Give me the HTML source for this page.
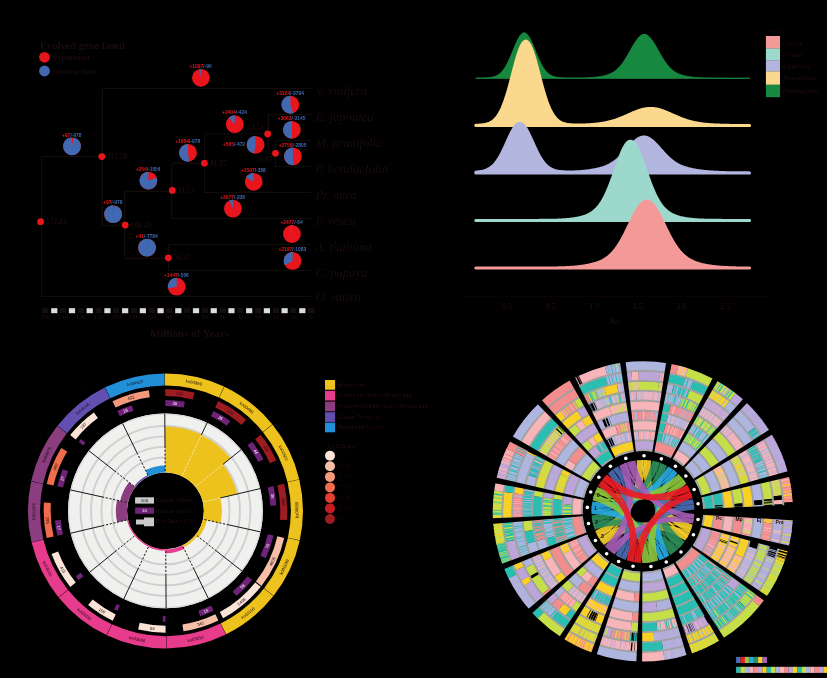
<!DOCTYPE html>
<html><head><meta charset="utf-8"><title>figure</title>
<style>
html,body{margin:0;padding:0;background:#000;}
body{width:827px;height:678px;overflow:hidden;}
svg{display:block;}
text{font-family:"Liberation Sans",sans-serif;fill:#190c0d;}
.se{font-family:"Liberation Serif",serif;}
</style></head><body>
<svg width="827" height="678" viewBox="0 0 827 678">
<defs><filter id="bs" filterUnits="userSpaceOnUse" x="0" y="0" width="827" height="678"><feGaussianBlur stdDeviation="0.32"/></filter></defs>
<rect width="827" height="678" fill="#000"/>
<g id="tree" filter="url(#bs)">
<text class="se" x="40" y="49" font-size="10.5" font-weight="bold">Evolved gene famil</text>
<circle cx="44.5" cy="57.3" r="5.4" fill="#E8161B"/><circle cx="44.5" cy="71" r="5.4" fill="#4169B2"/>
<text class="se" x="53.5" y="60" font-size="8.5" font-weight="bold">expansion</text>
<text class="se" x="53.5" y="74" font-size="8.5" font-weight="bold">contraction</text>
<path d="M41.3,156.6V296.7M41.3,296.7H311.2M41.3,156.6H102.2M102.2,88.7V225.1M102.2,88.7H311.2M102.2,225.1H124.8M124.8,191.2V258.2M124.8,191.2H171.8M124.8,258.2H168.7M168.7,244.7V270.7M168.7,244.7H311.2M168.7,270.7H311.2M171.8,163.2V218.7M171.8,218.7H311.2M171.8,163.2H204.4M204.4,133.9V192.7M204.4,192.7H311.2M204.4,133.9H268.2M268.2,114.7V153.3M268.2,114.7H311.2M268.2,153.3H275.7M275.7,140.7V166.7M275.7,140.7H311.2M275.7,166.7H311.2" stroke="#190c0d" stroke-width="1" fill="none"/>
<text class="se" x="315.5" y="94.6" font-size="12.6" font-style="italic">V. vinifera</text>
<text class="se" x="315.5" y="120.6" font-size="12.6" font-style="italic">E. japonica</text>
<text class="se" x="315.5" y="146.6" font-size="12.6" font-style="italic">M. prunifolia</text>
<text class="se" x="315.5" y="172.6" font-size="12.6" font-style="italic">P. betulaefolia</text>
<text class="se" x="315.5" y="198.6" font-size="12.6" font-style="italic">Pr. mira</text>
<text class="se" x="315.5" y="224.6" font-size="12.6" font-style="italic">F. vesca</text>
<text class="se" x="315.5" y="250.6" font-size="12.6" font-style="italic">A. thaliana</text>
<text class="se" x="315.5" y="276.6" font-size="12.6" font-style="italic">C. papaya</text>
<text class="se" x="315.5" y="301.4" font-size="12.6" font-style="italic">O. sativa</text>
<circle cx="40.6" cy="221.7" r="3.4" fill="#E8161B"/>
<text class="se" x="46.1" y="224.29999999999998" font-size="7.4" font-weight="bold">152.43</text>
<circle cx="101.8" cy="156.6" r="3.4" fill="#E8161B"/>
<text class="se" x="107.3" y="159.2" font-size="7.4" font-weight="bold">112.50</text>
<circle cx="125.2" cy="225.1" r="3.4" fill="#E8161B"/>
<text class="se" x="130.7" y="227.7" font-size="7.4" font-weight="bold">100.49</text>
<circle cx="172.3" cy="190.4" r="3.4" fill="#E8161B"/>
<text class="se" x="177.8" y="193.0" font-size="7.4" font-weight="bold">91.13</text>
<circle cx="204.4" cy="163.2" r="3.4" fill="#E8161B"/>
<text class="se" x="209.9" y="165.79999999999998" font-size="7.4" font-weight="bold">81.37</text>
<circle cx="168.3" cy="257.8" r="3.4" fill="#E8161B"/>
<text class="se" x="173.8" y="260.40000000000003" font-size="7.4" font-weight="bold">56.35</text>
<circle cx="267.7" cy="133.9" r="3.4" fill="#E8161B"/>
<text class="se" x="263.7" y="129.70000000000002" font-size="7.4" font-weight="bold" text-anchor="end">24.53</text>
<circle cx="275.5" cy="153.3" r="3.4" fill="#E8161B"/>
<text class="se" x="272.5" y="162.3" font-size="7.4" font-weight="bold" text-anchor="end">16.95</text>
<circle cx="200.9" cy="77.8" r="8.9" fill="#E8161B"/>
<path d="M200.90,77.80L199.23,69.06A8.90,8.90 0 0 1 200.90,68.90Z" fill="#4169B2" />
<text x="200.6" y="68.0" font-size="4.9" font-weight="bold" text-anchor="middle"><tspan fill="#E8161B">+1097</tspan><tspan fill="#4169B2">/-90</tspan></text>
<circle cx="72" cy="146.3" r="8.9" fill="#E8161B"/>
<path d="M72.00,146.30L73.39,137.51A8.90,8.90 0 1 1 72.00,137.40Z" fill="#4169B2" />
<text x="71.7" y="136.5" font-size="4.9" font-weight="bold" text-anchor="middle"><tspan fill="#E8161B">+97</tspan><tspan fill="#4169B2">/-978</tspan></text>
<circle cx="188" cy="152.8" r="8.9" fill="#E8161B"/>
<path d="M188.00,152.80L189.12,161.63A8.90,8.90 0 1 1 188.00,143.90Z" fill="#4169B2" />
<text x="187.7" y="143.0" font-size="4.9" font-weight="bold" text-anchor="middle"><tspan fill="#E8161B">+1084</tspan><tspan fill="#4169B2">/-978</tspan></text>
<circle cx="148.4" cy="180.6" r="8.9" fill="#E8161B"/>
<path d="M148.40,180.60L156.86,177.85A8.90,8.90 0 1 1 148.40,171.70Z" fill="#4169B2" />
<text x="148.1" y="170.8" font-size="4.9" font-weight="bold" text-anchor="middle"><tspan fill="#E8161B">+254</tspan><tspan fill="#4169B2">/-1054</tspan></text>
<circle cx="290.4" cy="104.7" r="8.9" fill="#E8161B"/>
<path d="M290.40,104.70L293.15,113.16A8.90,8.90 0 1 1 290.40,95.80Z" fill="#4169B2" />
<text x="290.1" y="94.9" font-size="4.9" font-weight="bold" text-anchor="middle"><tspan fill="#E8161B">+3124</tspan><tspan fill="#4169B2">/-3794</tspan></text>
<circle cx="234.8" cy="124.2" r="8.9" fill="#E8161B"/>
<path d="M234.80,124.20L228.71,117.71A8.90,8.90 0 0 1 234.80,115.30Z" fill="#4169B2" />
<text x="234.5" y="114.4" font-size="4.9" font-weight="bold" text-anchor="middle"><tspan fill="#E8161B">+2404</tspan><tspan fill="#4169B2">/-424</tspan></text>
<circle cx="291.9" cy="129.8" r="8.9" fill="#E8161B"/>
<path d="M291.90,129.80L291.90,138.70A8.90,8.90 0 0 1 291.90,120.90Z" fill="#4169B2" />
<text x="291.6" y="120.0" font-size="4.9" font-weight="bold" text-anchor="middle"><tspan fill="#E8161B">+3063</tspan><tspan fill="#4169B2">/-3145</tspan></text>
<circle cx="255.6" cy="144.8" r="8.9" fill="#E8161B"/>
<path d="M255.60,144.80L253.93,153.54A8.90,8.90 0 0 1 255.60,135.90Z" fill="#4169B2" />
<text x="245.1" y="146.4" font-size="4.9" font-weight="bold" text-anchor="end"><tspan fill="#E8161B">+505</tspan><tspan fill="#4169B2">/-472</tspan></text>
<circle cx="292.9" cy="156.4" r="8.9" fill="#E8161B"/>
<path d="M292.90,156.40L294.02,165.23A8.90,8.90 0 1 1 292.90,147.50Z" fill="#4169B2" />
<text x="292.6" y="146.6" font-size="4.9" font-weight="bold" text-anchor="middle"><tspan fill="#E8161B">+2758</tspan><tspan fill="#4169B2">/-2805</tspan></text>
<circle cx="253.7" cy="181.8" r="8.9" fill="#E8161B"/>
<path d="M253.70,181.80L245.90,177.51A8.90,8.90 0 0 1 253.70,172.90Z" fill="#4169B2" />
<text x="253.4" y="172.0" font-size="4.9" font-weight="bold" text-anchor="middle"><tspan fill="#E8161B">+1597</tspan><tspan fill="#4169B2">/-358</tspan></text>
<circle cx="232.9" cy="208.6" r="8.9" fill="#E8161B"/>
<path d="M232.90,208.60L229.11,200.55A8.90,8.90 0 0 1 232.90,199.70Z" fill="#4169B2" />
<text x="232.6" y="198.8" font-size="4.9" font-weight="bold" text-anchor="middle"><tspan fill="#E8161B">+3077</tspan><tspan fill="#4169B2">/-238</tspan></text>
<circle cx="113.1" cy="214.2" r="8.9" fill="#E8161B"/>
<path d="M113.10,214.20L114.49,205.41A8.90,8.90 0 1 1 113.10,205.30Z" fill="#4169B2" />
<text x="112.8" y="204.4" font-size="4.9" font-weight="bold" text-anchor="middle"><tspan fill="#E8161B">+97</tspan><tspan fill="#4169B2">/-978</tspan></text>
<circle cx="147" cy="247.6" r="8.9" fill="#E8161B"/>
<path d="M147.00,247.60L147.45,238.71A8.90,8.90 0 1 1 147.00,238.70Z" fill="#4169B2" />
<text x="146.7" y="237.8" font-size="4.9" font-weight="bold" text-anchor="middle"><tspan fill="#E8161B">+41</tspan><tspan fill="#4169B2">/-7784</tspan></text>
<circle cx="291.9" cy="234" r="8.9" fill="#E8161B"/>
<path d="M291.90,234.00L290.78,225.17A8.90,8.90 0 0 1 291.90,225.10Z" fill="#4169B2" />
<text x="291.6" y="224.2" font-size="4.9" font-weight="bold" text-anchor="middle"><tspan fill="#E8161B">+2477</tspan><tspan fill="#4169B2">/-64</tspan></text>
<circle cx="292.6" cy="260.9" r="8.9" fill="#E8161B"/>
<path d="M292.60,260.90L284.80,265.19A8.90,8.90 0 0 1 292.60,252.00Z" fill="#4169B2" />
<text x="292.3" y="251.1" font-size="4.9" font-weight="bold" text-anchor="middle"><tspan fill="#E8161B">+2197</tspan><tspan fill="#4169B2">/-1083</tspan></text>
<circle cx="176.7" cy="286.7" r="8.9" fill="#E8161B"/>
<path d="M176.70,286.70L167.96,288.37A8.90,8.90 0 0 1 176.70,277.80Z" fill="#4169B2" />
<text x="176.4" y="276.9" font-size="4.9" font-weight="bold" text-anchor="middle"><tspan fill="#E8161B">+1447</tspan><tspan fill="#4169B2">/-556</tspan></text>
<rect x="308.10" y="308.2" width="6.2" height="5" fill="#190c0d"/>
<text class="se" x="311.2" y="319.3" font-size="6.6" font-weight="bold" text-anchor="middle">0</text>
<rect x="299.24" y="308.2" width="6.2" height="5" fill="#DCDDDD"/>
<rect x="290.38" y="308.2" width="6.2" height="5" fill="#190c0d"/>
<text class="se" x="293.5" y="319.3" font-size="6.6" font-weight="bold" text-anchor="middle">10</text>
<rect x="281.52" y="308.2" width="6.2" height="5" fill="#DCDDDD"/>
<rect x="272.66" y="308.2" width="6.2" height="5" fill="#190c0d"/>
<text class="se" x="275.8" y="319.3" font-size="6.6" font-weight="bold" text-anchor="middle">20</text>
<rect x="263.80" y="308.2" width="6.2" height="5" fill="#DCDDDD"/>
<rect x="254.94" y="308.2" width="6.2" height="5" fill="#190c0d"/>
<text class="se" x="258.0" y="319.3" font-size="6.6" font-weight="bold" text-anchor="middle">30</text>
<rect x="246.08" y="308.2" width="6.2" height="5" fill="#DCDDDD"/>
<rect x="237.22" y="308.2" width="6.2" height="5" fill="#190c0d"/>
<text class="se" x="240.3" y="319.3" font-size="6.6" font-weight="bold" text-anchor="middle">40</text>
<rect x="228.36" y="308.2" width="6.2" height="5" fill="#DCDDDD"/>
<rect x="219.50" y="308.2" width="6.2" height="5" fill="#190c0d"/>
<text class="se" x="222.6" y="319.3" font-size="6.6" font-weight="bold" text-anchor="middle">50</text>
<rect x="210.64" y="308.2" width="6.2" height="5" fill="#DCDDDD"/>
<rect x="201.78" y="308.2" width="6.2" height="5" fill="#190c0d"/>
<text class="se" x="204.9" y="319.3" font-size="6.6" font-weight="bold" text-anchor="middle">60</text>
<rect x="192.92" y="308.2" width="6.2" height="5" fill="#DCDDDD"/>
<rect x="184.06" y="308.2" width="6.2" height="5" fill="#190c0d"/>
<text class="se" x="187.2" y="319.3" font-size="6.6" font-weight="bold" text-anchor="middle">70</text>
<rect x="175.20" y="308.2" width="6.2" height="5" fill="#DCDDDD"/>
<rect x="166.34" y="308.2" width="6.2" height="5" fill="#190c0d"/>
<text class="se" x="169.4" y="319.3" font-size="6.6" font-weight="bold" text-anchor="middle">80</text>
<rect x="157.48" y="308.2" width="6.2" height="5" fill="#DCDDDD"/>
<rect x="148.62" y="308.2" width="6.2" height="5" fill="#190c0d"/>
<text class="se" x="151.7" y="319.3" font-size="6.6" font-weight="bold" text-anchor="middle">90</text>
<rect x="139.76" y="308.2" width="6.2" height="5" fill="#DCDDDD"/>
<rect x="130.90" y="308.2" width="6.2" height="5" fill="#190c0d"/>
<text class="se" x="134.0" y="319.3" font-size="6.6" font-weight="bold" text-anchor="middle">100</text>
<rect x="122.04" y="308.2" width="6.2" height="5" fill="#DCDDDD"/>
<rect x="113.18" y="308.2" width="6.2" height="5" fill="#190c0d"/>
<text class="se" x="116.3" y="319.3" font-size="6.6" font-weight="bold" text-anchor="middle">110</text>
<rect x="104.32" y="308.2" width="6.2" height="5" fill="#DCDDDD"/>
<rect x="95.46" y="308.2" width="6.2" height="5" fill="#190c0d"/>
<text class="se" x="98.6" y="319.3" font-size="6.6" font-weight="bold" text-anchor="middle">120</text>
<rect x="86.60" y="308.2" width="6.2" height="5" fill="#DCDDDD"/>
<rect x="77.74" y="308.2" width="6.2" height="5" fill="#190c0d"/>
<text class="se" x="80.8" y="319.3" font-size="6.6" font-weight="bold" text-anchor="middle">130</text>
<rect x="68.88" y="308.2" width="6.2" height="5" fill="#DCDDDD"/>
<rect x="60.02" y="308.2" width="6.2" height="5" fill="#190c0d"/>
<text class="se" x="63.1" y="319.3" font-size="6.6" font-weight="bold" text-anchor="middle">140</text>
<rect x="51.16" y="308.2" width="6.2" height="5" fill="#DCDDDD"/>
<rect x="42.30" y="308.2" width="6.2" height="5" fill="#190c0d"/>
<text class="se" x="45.4" y="319.3" font-size="6.6" font-weight="bold" text-anchor="middle">150</text>
<text class="se" x="150" y="337" font-size="11" font-weight="bold">Millions of Years</text>
</g>
<g id="ridge" filter="url(#bs)">
<path d="M475.80,78.30L475.80,78.22L476.78,78.21L477.76,78.20L478.73,78.18L479.71,78.16L480.69,78.14L481.67,78.11L482.65,78.08L483.62,78.04L484.60,77.99L485.58,77.94L486.56,77.88L487.53,77.80L488.51,77.71L489.49,77.59L490.47,77.46L491.45,77.29L492.42,77.09L493.40,76.85L494.38,76.56L495.36,76.22L496.34,75.80L497.31,75.31L498.29,74.73L499.27,74.05L500.25,73.26L501.22,72.35L502.20,71.31L503.18,70.13L504.16,68.80L505.14,67.32L506.11,65.68L507.09,63.89L508.07,61.96L509.05,59.89L510.03,57.71L511.00,55.43L511.98,53.07L512.96,50.68L513.94,48.28L514.91,45.92L515.89,43.63L516.87,41.46L517.85,39.45L518.83,37.64L519.80,36.07L520.78,34.78L521.76,33.80L522.74,33.14L523.72,32.83L524.69,32.86L525.67,33.25L526.65,33.98L527.63,35.03L528.60,36.38L529.58,38.01L530.56,39.86L531.54,41.91L532.52,44.11L533.49,46.41L534.47,48.79L535.45,51.19L536.43,53.58L537.40,55.92L538.38,58.18L539.36,60.34L540.34,62.38L541.32,64.29L542.29,66.04L543.27,67.65L544.25,69.09L545.23,70.39L546.21,71.54L547.18,72.56L548.16,73.44L549.14,74.20L550.12,74.86L551.10,75.42L552.07,75.89L553.05,76.29L554.03,76.62L555.01,76.90L555.98,77.13L556.96,77.32L557.94,77.48L558.92,77.61L559.90,77.72L560.87,77.80L561.85,77.88L562.83,77.93L563.81,77.98L564.78,78.02L565.76,78.06L566.74,78.08L567.72,78.10L568.70,78.12L569.67,78.13L570.65,78.14L571.63,78.15L572.61,78.15L573.59,78.15L574.56,78.15L575.54,78.14L576.52,78.13L577.50,78.12L578.48,78.11L579.45,78.09L580.43,78.07L581.41,78.05L582.39,78.03L583.36,78.00L584.34,77.96L585.32,77.93L586.30,77.89L587.28,77.84L588.25,77.79L589.23,77.74L590.21,77.68L591.19,77.61L592.16,77.54L593.14,77.46L594.12,77.37L595.10,77.28L596.08,77.18L597.05,77.06L598.03,76.94L599.01,76.80L599.99,76.65L600.97,76.49L601.94,76.31L602.92,76.11L603.90,75.89L604.88,75.65L605.86,75.38L606.83,75.08L607.81,74.75L608.79,74.39L609.77,73.99L610.74,73.54L611.72,73.04L612.70,72.49L613.68,71.89L614.66,71.22L615.63,70.48L616.61,69.68L617.59,68.80L618.57,67.84L619.55,66.80L620.52,65.68L621.50,64.48L622.48,63.20L623.46,61.83L624.43,60.39L625.41,58.87L626.39,57.29L627.37,55.66L628.35,53.98L629.32,52.26L630.30,50.53L631.28,48.80L632.26,47.08L633.24,45.40L634.21,43.77L635.19,42.21L636.17,40.74L637.15,39.38L638.12,38.15L639.10,37.07L640.08,36.15L641.06,35.40L642.04,34.84L643.01,34.48L643.99,34.31L644.97,34.35L645.95,34.59L646.92,35.02L647.90,35.65L648.88,36.47L649.86,37.45L650.84,38.59L651.81,39.87L652.79,41.27L653.77,42.77L654.75,44.36L655.73,46.01L656.70,47.71L657.68,49.44L658.66,51.17L659.64,52.90L660.62,54.60L661.59,56.27L662.57,57.88L663.55,59.44L664.53,60.93L665.50,62.34L666.48,63.68L667.46,64.93L668.44,66.11L669.42,67.20L670.39,68.21L671.37,69.13L672.35,69.99L673.33,70.76L674.31,71.47L675.28,72.12L676.26,72.70L677.24,73.23L678.22,73.71L679.19,74.14L680.17,74.53L681.15,74.88L682.13,75.20L683.11,75.48L684.08,75.74L685.06,75.97L686.04,76.19L687.02,76.38L688.00,76.55L688.97,76.71L689.95,76.85L690.93,76.99L691.91,77.11L692.88,77.22L693.86,77.32L694.84,77.41L695.82,77.49L696.80,77.57L697.77,77.64L698.75,77.70L699.73,77.76L700.71,77.82L701.69,77.87L702.66,77.91L703.64,77.95L704.62,77.99L705.60,78.02L706.57,78.05L707.55,78.08L708.53,78.10L709.51,78.13L710.49,78.15L711.46,78.16L712.44,78.18L713.42,78.19L714.40,78.21L715.38,78.22L716.35,78.23L717.33,78.24L718.31,78.25L719.29,78.25L720.26,78.26L721.24,78.26L722.22,78.27L723.20,78.27L724.18,78.28L725.15,78.28L726.13,78.28L727.11,78.29L728.09,78.29L729.07,78.29L730.04,78.29L731.02,78.29L732.00,78.29L732.98,78.29L733.95,78.30L734.93,78.30L735.91,78.30L736.89,78.30L737.87,78.30L738.84,78.30L739.82,78.30L740.80,78.30L741.78,78.30L742.76,78.30L743.73,78.30L744.71,78.30L745.69,78.30L746.67,78.30L747.64,78.30L748.62,78.30L749.60,78.30L749.60,78.30Z" fill="#19883F" stroke="#19883F" stroke-width="1.0" stroke-linejoin="round"/>
<path d="M475.80,125.60L475.80,125.33L476.78,125.28L477.76,125.23L478.73,125.17L479.71,125.10L480.69,125.01L481.67,124.91L482.65,124.78L483.62,124.64L484.60,124.47L485.58,124.27L486.56,124.03L487.53,123.74L488.51,123.41L489.49,123.02L490.47,122.56L491.45,122.02L492.42,121.40L493.40,120.68L494.38,119.84L495.36,118.89L496.34,117.80L497.31,116.56L498.29,115.17L499.27,113.60L500.25,111.85L501.22,109.91L502.20,107.78L503.18,105.44L504.16,102.91L505.14,100.17L506.11,97.24L507.09,94.13L508.07,90.84L509.05,87.41L510.03,83.85L511.00,80.19L511.98,76.46L512.96,72.71L513.94,68.97L514.91,65.29L515.89,61.71L516.87,58.27L517.85,55.04L518.83,52.04L519.80,49.34L520.78,46.96L521.76,44.95L522.74,43.33L523.72,42.14L524.69,41.39L525.67,41.10L526.65,41.27L527.63,41.90L528.60,42.97L529.58,44.48L530.56,46.39L531.54,48.67L532.52,51.29L533.49,54.21L534.47,57.39L535.45,60.77L536.43,64.32L537.40,67.98L538.38,71.71L539.36,75.46L540.34,79.19L541.32,82.87L542.29,86.46L543.27,89.93L544.25,93.25L545.23,96.41L546.21,99.39L547.18,102.18L548.16,104.76L549.14,107.15L550.12,109.33L551.10,111.32L552.07,113.11L553.05,114.72L554.03,116.16L555.01,117.43L555.98,118.55L556.96,119.54L557.94,120.39L558.92,121.14L559.90,121.78L560.87,122.33L561.85,122.80L562.83,123.20L563.81,123.54L564.78,123.82L565.76,124.06L566.74,124.26L567.72,124.43L568.70,124.57L569.67,124.68L570.65,124.77L571.63,124.84L572.61,124.90L573.59,124.95L574.56,124.98L575.54,125.01L576.52,125.02L577.50,125.03L578.48,125.03L579.45,125.03L580.43,125.02L581.41,125.00L582.39,124.98L583.36,124.96L584.34,124.93L585.32,124.89L586.30,124.85L587.28,124.81L588.25,124.76L589.23,124.70L590.21,124.64L591.19,124.57L592.16,124.50L593.14,124.42L594.12,124.34L595.10,124.25L596.08,124.15L597.05,124.05L598.03,123.93L599.01,123.81L599.99,123.68L600.97,123.54L601.94,123.39L602.92,123.23L603.90,123.06L604.88,122.88L605.86,122.68L606.83,122.48L607.81,122.26L608.79,122.03L609.77,121.79L610.74,121.53L611.72,121.26L612.70,120.98L613.68,120.69L614.66,120.38L615.63,120.05L616.61,119.72L617.59,119.37L618.57,119.01L619.55,118.64L620.52,118.25L621.50,117.86L622.48,117.45L623.46,117.04L624.43,116.62L625.41,116.19L626.39,115.76L627.37,115.33L628.35,114.89L629.32,114.45L630.30,114.01L631.28,113.58L632.26,113.15L633.24,112.73L634.21,112.32L635.19,111.92L636.17,111.53L637.15,111.15L638.12,110.80L639.10,110.46L640.08,110.14L641.06,109.84L642.04,109.57L643.01,109.32L643.99,109.10L644.97,108.91L645.95,108.75L646.92,108.62L647.90,108.51L648.88,108.44L649.86,108.41L650.84,108.40L651.81,108.43L652.79,108.49L653.77,108.58L654.75,108.70L655.73,108.86L656.70,109.04L657.68,109.25L658.66,109.49L659.64,109.75L660.62,110.04L661.59,110.35L662.57,110.69L663.55,111.04L664.53,111.41L665.50,111.79L666.48,112.19L667.46,112.60L668.44,113.02L669.42,113.45L670.39,113.88L671.37,114.31L672.35,114.75L673.33,115.19L674.31,115.63L675.28,116.06L676.26,116.49L677.24,116.91L678.22,117.33L679.19,117.73L680.17,118.13L681.15,118.52L682.13,118.89L683.11,119.26L684.08,119.61L685.06,119.95L686.04,120.28L687.02,120.59L688.00,120.89L688.97,121.18L689.95,121.45L690.93,121.71L691.91,121.96L692.88,122.19L693.86,122.41L694.84,122.62L695.82,122.82L696.80,123.00L697.77,123.18L698.75,123.34L699.73,123.50L700.71,123.64L701.69,123.78L702.66,123.90L703.64,124.02L704.62,124.13L705.60,124.23L706.57,124.33L707.55,124.42L708.53,124.50L709.51,124.58L710.49,124.65L711.46,124.71L712.44,124.78L713.42,124.83L714.40,124.89L715.38,124.94L716.35,124.99L717.33,125.03L718.31,125.07L719.29,125.11L720.26,125.14L721.24,125.17L722.22,125.20L723.20,125.23L724.18,125.26L725.15,125.28L726.13,125.31L727.11,125.33L728.09,125.35L729.07,125.37L730.04,125.38L731.02,125.40L732.00,125.41L732.98,125.43L733.95,125.44L734.93,125.45L735.91,125.46L736.89,125.47L737.87,125.48L738.84,125.49L739.82,125.50L740.80,125.51L741.78,125.52L742.76,125.52L743.73,125.53L744.71,125.54L745.69,125.54L746.67,125.55L747.64,125.55L748.62,125.55L749.60,125.56L749.60,125.60Z" fill="#FAD98E" stroke="#FAD98E" stroke-width="3.0" stroke-linejoin="round"/>
<path d="M475.80,172.90L475.80,172.12L476.78,172.03L477.76,171.92L478.73,171.79L479.71,171.65L480.69,171.49L481.67,171.31L482.65,171.09L483.62,170.85L484.60,170.57L485.58,170.24L486.56,169.87L487.53,169.44L488.51,168.96L489.49,168.40L490.47,167.77L491.45,167.06L492.42,166.25L493.40,165.35L494.38,164.35L495.36,163.24L496.34,162.01L497.31,160.67L498.29,159.21L499.27,157.64L500.25,155.95L501.22,154.15L502.20,152.25L503.18,150.26L504.16,148.19L505.14,146.06L506.11,143.89L507.09,141.71L508.07,139.53L509.05,137.38L510.03,135.29L511.00,133.28L511.98,131.39L512.96,129.65L513.94,128.08L514.91,126.70L515.89,125.54L516.87,124.61L517.85,123.94L518.83,123.53L519.80,123.40L520.78,123.54L521.76,123.94L522.74,124.62L523.72,125.54L524.69,126.70L525.67,128.08L526.65,129.66L527.63,131.40L528.60,133.29L529.58,135.29L530.56,137.38L531.54,139.53L532.52,141.71L533.49,143.90L534.47,146.06L535.45,148.19L536.43,150.25L537.40,152.24L538.38,154.14L539.36,155.93L540.34,157.62L541.32,159.19L542.29,160.65L543.27,161.98L544.25,163.20L545.23,164.31L546.21,165.30L547.18,166.20L548.16,166.99L549.14,167.70L550.12,168.32L551.10,168.86L552.07,169.34L553.05,169.76L554.03,170.12L555.01,170.43L555.98,170.69L556.96,170.92L557.94,171.12L558.92,171.29L559.90,171.43L560.87,171.55L561.85,171.65L562.83,171.73L563.81,171.79L564.78,171.85L565.76,171.89L566.74,171.92L567.72,171.94L568.70,171.96L569.67,171.96L570.65,171.96L571.63,171.95L572.61,171.93L573.59,171.91L574.56,171.88L575.54,171.84L576.52,171.80L577.50,171.75L578.48,171.69L579.45,171.63L580.43,171.56L581.41,171.48L582.39,171.40L583.36,171.31L584.34,171.22L585.32,171.11L586.30,171.01L587.28,170.89L588.25,170.77L589.23,170.63L590.21,170.49L591.19,170.35L592.16,170.19L593.14,170.02L594.12,169.84L595.10,169.65L596.08,169.45L597.05,169.24L598.03,169.02L599.01,168.77L599.99,168.52L600.97,168.24L601.94,167.95L602.92,167.64L603.90,167.30L604.88,166.94L605.86,166.56L606.83,166.14L607.81,165.70L608.79,165.23L609.77,164.72L610.74,164.18L611.72,163.61L612.70,162.99L613.68,162.34L614.66,161.64L615.63,160.90L616.61,160.12L617.59,159.30L618.57,158.44L619.55,157.53L620.52,156.59L621.50,155.61L622.48,154.60L623.46,153.56L624.43,152.50L625.41,151.41L626.39,150.31L627.37,149.21L628.35,148.10L629.32,147.00L630.30,145.92L631.28,144.86L632.26,143.83L633.24,142.85L634.21,141.91L635.19,141.04L636.17,140.23L637.15,139.50L638.12,138.85L639.10,138.29L640.08,137.82L641.06,137.46L642.04,137.20L643.01,137.04L643.99,137.00L644.97,137.07L645.95,137.24L646.92,137.52L647.90,137.90L648.88,138.39L649.86,138.96L650.84,139.63L651.81,140.38L652.79,141.20L653.77,142.09L654.75,143.03L655.73,144.02L656.70,145.06L657.68,146.12L658.66,147.21L659.64,148.31L660.62,149.42L661.59,150.52L662.57,151.62L663.55,152.70L664.53,153.76L665.50,154.79L666.48,155.80L667.46,156.77L668.44,157.71L669.42,158.60L670.39,159.46L671.37,160.27L672.35,161.04L673.33,161.77L674.31,162.46L675.28,163.11L676.26,163.72L677.24,164.29L678.22,164.82L679.19,165.32L680.17,165.79L681.15,166.23L682.13,166.63L683.11,167.01L684.08,167.37L685.06,167.70L686.04,168.01L687.02,168.30L688.00,168.57L688.97,168.83L689.95,169.07L690.93,169.29L691.91,169.51L692.88,169.71L693.86,169.89L694.84,170.07L695.82,170.24L696.80,170.40L697.77,170.55L698.75,170.69L699.73,170.83L700.71,170.96L701.69,171.08L702.66,171.19L703.64,171.30L704.62,171.41L705.60,171.50L706.57,171.60L707.55,171.68L708.53,171.77L709.51,171.85L710.49,171.92L711.46,171.99L712.44,172.05L713.42,172.12L714.40,172.17L715.38,172.23L716.35,172.28L717.33,172.33L718.31,172.37L719.29,172.41L720.26,172.45L721.24,172.49L722.22,172.52L723.20,172.55L724.18,172.58L725.15,172.61L726.13,172.63L727.11,172.65L728.09,172.68L729.07,172.70L730.04,172.71L731.02,172.73L732.00,172.75L732.98,172.76L733.95,172.77L734.93,172.78L735.91,172.80L736.89,172.81L737.87,172.81L738.84,172.82L739.82,172.83L740.80,172.84L741.78,172.84L742.76,172.85L743.73,172.85L744.71,172.86L745.69,172.86L746.67,172.87L747.64,172.87L748.62,172.87L749.60,172.88L749.60,172.90Z" fill="#B2B6DE" stroke="#B2B6DE" stroke-width="3.0" stroke-linejoin="round"/>
<path d="M475.80,220.40L475.80,220.40L476.78,220.40L477.76,220.40L478.73,220.40L479.71,220.40L480.69,220.40L481.67,220.40L482.65,220.40L483.62,220.40L484.60,220.40L485.58,220.40L486.56,220.40L487.53,220.40L488.51,220.40L489.49,220.40L490.47,220.40L491.45,220.40L492.42,220.40L493.40,220.40L494.38,220.40L495.36,220.40L496.34,220.40L497.31,220.40L498.29,220.40L499.27,220.40L500.25,220.40L501.22,220.40L502.20,220.40L503.18,220.40L504.16,220.40L505.14,220.40L506.11,220.40L507.09,220.40L508.07,220.40L509.05,220.40L510.03,220.40L511.00,220.40L511.98,220.40L512.96,220.40L513.94,220.40L514.91,220.40L515.89,220.40L516.87,220.40L517.85,220.40L518.83,220.40L519.80,220.40L520.78,220.40L521.76,220.40L522.74,220.40L523.72,220.40L524.69,220.40L525.67,220.40L526.65,220.40L527.63,220.40L528.60,220.39L529.58,220.39L530.56,220.39L531.54,220.39L532.52,220.39L533.49,220.39L534.47,220.39L535.45,220.39L536.43,220.38L537.40,220.38L538.38,220.38L539.36,220.37L540.34,220.37L541.32,220.36L542.29,220.36L543.27,220.35L544.25,220.35L545.23,220.34L546.21,220.33L547.18,220.32L548.16,220.31L549.14,220.30L550.12,220.28L551.10,220.27L552.07,220.25L553.05,220.23L554.03,220.21L555.01,220.18L555.98,220.16L556.96,220.13L557.94,220.09L558.92,220.06L559.90,220.02L560.87,219.97L561.85,219.92L562.83,219.87L563.81,219.81L564.78,219.75L565.76,219.68L566.74,219.60L567.72,219.52L568.70,219.43L569.67,219.33L570.65,219.22L571.63,219.10L572.61,218.97L573.59,218.84L574.56,218.69L575.54,218.53L576.52,218.35L577.50,218.16L578.48,217.96L579.45,217.74L580.43,217.50L581.41,217.24L582.39,216.96L583.36,216.66L584.34,216.33L585.32,215.98L586.30,215.59L587.28,215.17L588.25,214.72L589.23,214.22L590.21,213.67L591.19,213.08L592.16,212.43L593.14,211.73L594.12,210.95L595.10,210.11L596.08,209.19L597.05,208.18L598.03,207.09L599.01,205.90L599.99,204.61L600.97,203.21L601.94,201.70L602.92,200.07L603.90,198.32L604.88,196.45L605.86,194.46L606.83,192.35L607.81,190.11L608.79,187.77L609.77,185.31L610.74,182.76L611.72,180.12L612.70,177.41L613.68,174.64L614.66,171.83L615.63,169.00L616.61,166.18L617.59,163.39L618.57,160.65L619.55,157.99L620.52,155.44L621.50,153.02L622.48,150.76L623.46,148.70L624.43,146.84L625.41,145.22L626.39,143.85L627.37,142.75L628.35,141.94L629.32,141.42L630.30,141.21L631.28,141.30L632.26,141.69L633.24,142.39L634.21,143.37L635.19,144.63L636.17,146.15L637.15,147.92L638.12,149.90L639.10,152.08L640.08,154.44L641.06,156.94L642.04,159.56L643.01,162.27L643.99,165.04L644.97,167.86L645.95,170.68L646.92,173.50L647.90,176.29L648.88,179.03L649.86,181.70L650.84,184.29L651.81,186.78L652.79,189.17L653.77,191.45L654.75,193.62L655.73,195.66L656.70,197.58L657.68,199.37L658.66,201.05L659.64,202.61L660.62,204.05L661.59,205.39L662.57,206.62L663.55,207.75L664.53,208.79L665.50,209.74L666.48,210.62L667.46,211.42L668.44,212.15L669.42,212.82L670.39,213.44L671.37,214.00L672.35,214.52L673.33,214.99L674.31,215.43L675.28,215.83L676.26,216.19L677.24,216.53L678.22,216.84L679.19,217.13L680.17,217.40L681.15,217.64L682.13,217.87L683.11,218.08L684.08,218.28L685.06,218.46L686.04,218.62L687.02,218.78L688.00,218.92L688.97,219.05L689.95,219.17L690.93,219.28L691.91,219.39L692.88,219.48L693.86,219.57L694.84,219.65L695.82,219.72L696.80,219.79L697.77,219.85L698.75,219.90L699.73,219.95L700.71,220.00L701.69,220.04L702.66,220.08L703.64,220.11L704.62,220.15L705.60,220.17L706.57,220.20L707.55,220.22L708.53,220.24L709.51,220.26L710.49,220.28L711.46,220.29L712.44,220.30L713.42,220.32L714.40,220.33L715.38,220.34L716.35,220.34L717.33,220.35L718.31,220.36L719.29,220.36L720.26,220.37L721.24,220.37L722.22,220.38L723.20,220.38L724.18,220.38L725.15,220.38L726.13,220.39L727.11,220.39L728.09,220.39L729.07,220.39L730.04,220.39L731.02,220.39L732.00,220.39L732.98,220.40L733.95,220.40L734.93,220.40L735.91,220.40L736.89,220.40L737.87,220.40L738.84,220.40L739.82,220.40L740.80,220.40L741.78,220.40L742.76,220.40L743.73,220.40L744.71,220.40L745.69,220.40L746.67,220.40L747.64,220.40L748.62,220.40L749.60,220.40L749.60,220.40Z" fill="#9DD8CD" stroke="#9DD8CD" stroke-width="3.0" stroke-linejoin="round"/>
<path d="M475.80,268.10L475.80,268.10L476.78,268.10L477.76,268.10L478.73,268.10L479.71,268.10L480.69,268.10L481.67,268.10L482.65,268.10L483.62,268.10L484.60,268.10L485.58,268.10L486.56,268.10L487.53,268.10L488.51,268.10L489.49,268.10L490.47,268.10L491.45,268.10L492.42,268.10L493.40,268.10L494.38,268.10L495.36,268.10L496.34,268.10L497.31,268.10L498.29,268.10L499.27,268.10L500.25,268.10L501.22,268.10L502.20,268.10L503.18,268.10L504.16,268.10L505.14,268.10L506.11,268.10L507.09,268.10L508.07,268.10L509.05,268.10L510.03,268.10L511.00,268.10L511.98,268.10L512.96,268.10L513.94,268.10L514.91,268.10L515.89,268.10L516.87,268.10L517.85,268.10L518.83,268.10L519.80,268.10L520.78,268.10L521.76,268.10L522.74,268.10L523.72,268.10L524.69,268.10L525.67,268.09L526.65,268.09L527.63,268.09L528.60,268.09L529.58,268.09L530.56,268.09L531.54,268.09L532.52,268.09L533.49,268.09L534.47,268.08L535.45,268.08L536.43,268.08L537.40,268.08L538.38,268.07L539.36,268.07L540.34,268.07L541.32,268.06L542.29,268.06L543.27,268.05L544.25,268.05L545.23,268.04L546.21,268.03L547.18,268.02L548.16,268.02L549.14,268.01L550.12,268.00L551.10,267.98L552.07,267.97L553.05,267.96L554.03,267.94L555.01,267.93L555.98,267.91L556.96,267.89L557.94,267.87L558.92,267.84L559.90,267.82L560.87,267.79L561.85,267.76L562.83,267.73L563.81,267.69L564.78,267.65L565.76,267.61L566.74,267.57L567.72,267.52L568.70,267.47L569.67,267.41L570.65,267.35L571.63,267.29L572.61,267.22L573.59,267.14L574.56,267.06L575.54,266.98L576.52,266.89L577.50,266.79L578.48,266.69L579.45,266.58L580.43,266.46L581.41,266.34L582.39,266.20L583.36,266.06L584.34,265.91L585.32,265.76L586.30,265.59L587.28,265.41L588.25,265.22L589.23,265.01L590.21,264.80L591.19,264.57L592.16,264.33L593.14,264.07L594.12,263.79L595.10,263.49L596.08,263.18L597.05,262.84L598.03,262.48L599.01,262.10L599.99,261.69L600.97,261.24L601.94,260.77L602.92,260.26L603.90,259.71L604.88,259.12L605.86,258.49L606.83,257.81L607.81,257.08L608.79,256.30L609.77,255.46L610.74,254.56L611.72,253.59L612.70,252.57L613.68,251.47L614.66,250.30L615.63,249.06L616.61,247.75L617.59,246.36L618.57,244.89L619.55,243.35L620.52,241.74L621.50,240.06L622.48,238.32L623.46,236.51L624.43,234.64L625.41,232.73L626.39,230.77L627.37,228.78L628.35,226.76L629.32,224.74L630.30,222.71L631.28,220.70L632.26,218.71L633.24,216.76L634.21,214.86L635.19,213.03L636.17,211.28L637.15,209.63L638.12,208.10L639.10,206.68L640.08,205.40L641.06,204.28L642.04,203.30L643.01,202.50L643.99,201.88L644.97,201.43L645.95,201.17L646.92,201.10L647.90,201.22L648.88,201.53L649.86,202.02L650.84,202.69L651.81,203.54L652.79,204.55L653.77,205.72L654.75,207.03L655.73,208.48L656.70,210.05L657.68,211.72L658.66,213.49L659.64,215.34L660.62,217.25L661.59,219.21L662.57,221.21L663.55,223.23L664.53,225.26L665.50,227.28L666.48,229.29L667.46,231.27L668.44,233.22L669.42,235.12L670.39,236.98L671.37,238.77L672.35,240.50L673.33,242.16L674.31,243.75L675.28,245.27L676.26,246.72L677.24,248.09L678.22,249.38L679.19,250.61L680.17,251.76L681.15,252.84L682.13,253.85L683.11,254.79L684.08,255.68L685.06,256.50L686.04,257.27L687.02,257.99L688.00,258.66L688.97,259.28L689.95,259.85L690.93,260.39L691.91,260.89L692.88,261.36L693.86,261.79L694.84,262.20L695.82,262.58L696.80,262.93L697.77,263.26L698.75,263.57L699.73,263.86L700.71,264.13L701.69,264.39L702.66,264.63L703.64,264.86L704.62,265.07L705.60,265.27L706.57,265.45L707.55,265.63L708.53,265.80L709.51,265.95L710.49,266.10L711.46,266.24L712.44,266.37L713.42,266.49L714.40,266.61L715.38,266.72L716.35,266.82L717.33,266.91L718.31,267.00L719.29,267.08L720.26,267.16L721.24,267.23L722.22,267.30L723.20,267.37L724.18,267.43L725.15,267.48L726.13,267.53L727.11,267.58L728.09,267.62L729.07,267.66L730.04,267.70L731.02,267.74L732.00,267.77L732.98,267.80L733.95,267.82L734.93,267.85L735.91,267.87L736.89,267.89L737.87,267.91L738.84,267.93L739.82,267.95L740.80,267.96L741.78,267.98L742.76,267.99L743.73,268.00L744.71,268.01L745.69,268.02L746.67,268.03L747.64,268.03L748.62,268.04L749.60,268.05L749.60,268.10Z" fill="#F39998" stroke="#F39998" stroke-width="3.0" stroke-linejoin="round"/>
<path d="M462.5,296.3H768.5" stroke="#190c0d" stroke-width="0.7"/>
<path d="M506.9,296.3v2" stroke="#190c0d" stroke-width="0.6"/>
<text class="se" x="506.9" y="308.9" font-size="8" font-weight="bold" text-anchor="middle">0.0</text>
<path d="M550.5,296.3v2" stroke="#190c0d" stroke-width="0.6"/>
<text class="se" x="550.5" y="308.9" font-size="8" font-weight="bold" text-anchor="middle">0.5</text>
<path d="M594.1,296.3v2" stroke="#190c0d" stroke-width="0.6"/>
<text class="se" x="594.1" y="308.9" font-size="8" font-weight="bold" text-anchor="middle">1.0</text>
<path d="M637.7,296.3v2" stroke="#190c0d" stroke-width="0.6"/>
<text class="se" x="637.7" y="308.9" font-size="8" font-weight="bold" text-anchor="middle">1.5</text>
<path d="M681.3,296.3v2" stroke="#190c0d" stroke-width="0.6"/>
<text class="se" x="681.3" y="308.9" font-size="8" font-weight="bold" text-anchor="middle">2.0</text>
<path d="M724.9,296.3v2" stroke="#190c0d" stroke-width="0.6"/>
<text class="se" x="724.9" y="308.9" font-size="8" font-weight="bold" text-anchor="middle">2.5</text>
<text class="se" x="615" y="323.8" font-size="8.4" font-weight="bold" text-anchor="middle">Ks</text>
<text class="se" x="767" y="33" font-size="6.5">Species</text>
<rect x="765.9" y="36.0" width="14.1" height="12.7" fill="#F39998"/>
<text class="se" x="782.5" y="44.5" font-size="6.3" font-style="italic" font-weight="bold">F.vesca</text>
<rect x="765.9" y="48.5" width="14.1" height="11.9" fill="#9DD8CD"/>
<text class="se" x="782.5" y="56.6" font-size="6.3" font-style="italic" font-weight="bold">Pr.mira</text>
<rect x="765.9" y="60.2" width="14.1" height="11.5" fill="#B2B6DE"/>
<text class="se" x="782.5" y="68.1" font-size="6.3" font-style="italic" font-weight="bold">E.japonica</text>
<rect x="765.9" y="71.5" width="14.1" height="13.4" fill="#FAD98E"/>
<text class="se" x="782.5" y="80.3" font-size="6.3" font-style="italic" font-weight="bold">M.prunifolia</text>
<rect x="765.9" y="84.7" width="14.1" height="12.5" fill="#19883F"/>
<text class="se" x="782.5" y="93.1" font-size="6.3" font-style="italic" font-weight="bold">P.betulaefolia</text>
</g>
<g id="enrich" filter="url(#bs)">
<g transform="rotate(-0.4 165.45 510.9)">
<circle cx="165.45" cy="510.9" r="67.9" fill="none" stroke="#F0F0EE" stroke-width="59.00000000000001"/>
<circle cx="165.45" cy="510.9" r="53.5" fill="none" stroke="#CFCFCF" stroke-width="1.9"/>
<circle cx="165.45" cy="510.9" r="64" fill="none" stroke="#CFCFCF" stroke-width="1.9"/>
<circle cx="165.45" cy="510.9" r="74.5" fill="none" stroke="#CFCFCF" stroke-width="1.9"/>
<circle cx="165.45" cy="510.9" r="85" fill="none" stroke="#CFCFCF" stroke-width="1.9"/>
<circle cx="165.45" cy="510.9" r="96.80000000000001" fill="none" stroke="#DADADA" stroke-width="1.2"/>
<path d="M165.64,373.40A137.50,137.50 0 0 1 224.94,386.93L219.70,397.84A125.40,125.40 0 0 0 165.63,385.50Z" fill="#EEC21F" />
<text x="194.69" y="382.79" font-size="4.3" style="fill:#190c0d" font-weight="normal" text-anchor="middle" dominant-baseline="central" transform="rotate(12.9 194.69 382.79)">ko00999</text>
<path d="M165.45,426.48A84.42,84.42 0 0 1 202.08,434.84L182.11,476.30A38.40,38.40 0 0 0 165.45,472.50Z" fill="#EEC21F" />
<path d="M166.19,389.10A121.80,121.80 0 0 1 195.31,392.82L193.59,399.60A114.80,114.80 0 0 0 166.15,396.10Z" fill="#9C1A24" />
<text x="180.16" y="393.52" font-size="4.2" style="fill:#190c0d" font-weight="normal" text-anchor="middle" dominant-baseline="central" transform="rotate(7.1 180.16 393.52)">110</text>
<path d="M166.13,400.00A110.90,110.90 0 0 1 185.58,401.84L184.51,407.64A105.00,105.00 0 0 0 166.09,405.90Z" fill="#6E2378" />
<text x="175.62" y="403.38" font-size="4.2" style="fill:#fff" font-weight="normal" text-anchor="middle" dominant-baseline="central" transform="rotate(5.4 175.62 403.38)">35</text>
<path d="M171.6,373.5L171.7,371.0" stroke="#190c0d" stroke-width="0.5"/>
<path d="M183.9,374.6L184.2,372.2" stroke="#190c0d" stroke-width="0.5"/>
<path d="M196.0,376.8L196.6,374.4" stroke="#190c0d" stroke-width="0.5"/>
<path d="M207.9,380.1L208.7,377.8" stroke="#190c0d" stroke-width="0.5"/>
<path d="M219.5,384.5L220.5,382.2" stroke="#190c0d" stroke-width="0.5"/>
<path d="M225.28,387.10A137.50,137.50 0 0 1 272.83,425.02L263.38,432.58A125.40,125.40 0 0 0 220.02,397.99Z" fill="#EEC21F" />
<text x="247.38" y="408.17" font-size="4.3" style="fill:#190c0d" font-weight="normal" text-anchor="middle" dominant-baseline="central" transform="rotate(38.6 247.38 408.17)">ko00480</text>
<path d="M201.82,435.37A83.83,83.83 0 0 1 230.99,458.63L195.47,486.96A38.40,38.40 0 0 0 182.11,476.30Z" fill="#EEC21F" />
<path d="M218.97,401.49A121.80,121.80 0 0 1 246.77,420.22L242.09,425.43A114.80,114.80 0 0 0 215.89,407.77Z" fill="#9C1A24" />
<text x="231.34" y="412.65" font-size="4.2" style="fill:#190c0d" font-weight="normal" text-anchor="middle" dominant-baseline="central" transform="rotate(33.8 231.34 412.65)">211</text>
<path d="M214.18,411.28A110.90,110.90 0 0 1 230.91,421.38L227.42,426.14A105.00,105.00 0 0 0 211.58,416.58Z" fill="#6E2378" />
<text x="221.27" y="418.44" font-size="4.2" style="fill:#fff" font-weight="normal" text-anchor="middle" dominant-baseline="central" transform="rotate(31.1 221.27 418.44)">35</text>
<path d="M230.6,389.8L231.8,387.6" stroke="#190c0d" stroke-width="0.5"/>
<path d="M241.2,396.1L242.6,394.1" stroke="#190c0d" stroke-width="0.5"/>
<path d="M251.2,403.4L252.7,401.4" stroke="#190c0d" stroke-width="0.5"/>
<path d="M260.5,411.5L262.2,409.7" stroke="#190c0d" stroke-width="0.5"/>
<path d="M269.0,420.4L270.9,418.8" stroke="#190c0d" stroke-width="0.5"/>
<path d="M273.07,425.32A137.50,137.50 0 0 1 299.46,480.12L287.67,482.83A125.40,125.40 0 0 0 263.60,432.85Z" fill="#EEC21F" />
<text x="283.84" y="453.89" font-size="4.3" style="fill:#190c0d" font-weight="normal" text-anchor="middle" dominant-baseline="central" transform="rotate(64.3 283.84 453.89)">ko00500</text>
<path d="M223.15,464.89A73.80,73.80 0 0 1 237.40,494.48L202.89,502.36A38.40,38.40 0 0 0 195.47,486.96Z" fill="#EEC21F" />
<path d="M261.14,435.54A121.80,121.80 0 0 1 276.64,461.18L270.25,464.04A114.80,114.80 0 0 0 255.64,439.87Z" fill="#9C1A24" />
<text x="266.55" y="449.47" font-size="4.2" style="fill:#190c0d" font-weight="normal" text-anchor="middle" dominant-baseline="central" transform="rotate(58.7 266.55 449.47)">121</text>
<path d="M252.58,442.29A110.90,110.90 0 0 1 263.89,459.83L258.66,462.55A105.00,105.00 0 0 0 247.94,445.94Z" fill="#6E2378" />
<text x="256.21" y="452.36" font-size="4.2" style="fill:#fff" font-weight="normal" text-anchor="middle" dominant-baseline="central" transform="rotate(57.2 256.21 452.36)">44</text>
<path d="M276.7,430.1L278.7,428.6" stroke="#190c0d" stroke-width="0.5"/>
<path d="M283.5,440.4L285.6,439.1" stroke="#190c0d" stroke-width="0.5"/>
<path d="M289.3,451.2L291.6,450.2" stroke="#190c0d" stroke-width="0.5"/>
<path d="M294.2,462.6L296.5,461.7" stroke="#190c0d" stroke-width="0.5"/>
<path d="M298.0,474.3L300.4,473.7" stroke="#190c0d" stroke-width="0.5"/>
<path d="M299.55,480.49A137.50,137.50 0 0 1 299.55,541.31L287.74,538.63A125.40,125.40 0 0 0 287.74,483.17Z" fill="#EEC21F" />
<text x="296.85" y="510.90" font-size="4.3" style="fill:#190c0d" font-weight="normal" text-anchor="middle" dominant-baseline="central" transform="rotate(270.0 296.85 510.90)">ko00680</text>
<path d="M220.43,498.35A56.39,56.39 0 0 1 220.43,523.45L202.89,519.44A38.40,38.40 0 0 0 202.89,502.36Z" fill="#EEC21F" />
<path d="M284.36,484.52A121.80,121.80 0 0 1 286.81,521.20L279.84,520.61A114.80,114.80 0 0 0 277.53,486.04Z" fill="#9C1A24" />
<text x="283.47" y="502.74" font-size="4.2" style="fill:#190c0d" font-weight="normal" text-anchor="middle" dominant-baseline="central" transform="rotate(86.0 283.47 502.74)">350</text>
<path d="M273.72,486.88A110.90,110.90 0 0 1 276.25,506.26L270.36,506.51A105.00,105.00 0 0 0 267.96,488.16Z" fill="#6E2378" />
<text x="272.54" y="496.89" font-size="4.2" style="fill:#fff" font-weight="normal" text-anchor="middle" dominant-baseline="central" transform="rotate(82.5 272.54 496.89)">35</text>
<path d="M300.7,486.3L303.2,485.9" stroke="#190c0d" stroke-width="0.5"/>
<path d="M302.4,498.6L304.9,498.4" stroke="#190c0d" stroke-width="0.5"/>
<path d="M302.9,510.9L305.4,510.9" stroke="#190c0d" stroke-width="0.5"/>
<path d="M302.4,523.2L304.9,523.4" stroke="#190c0d" stroke-width="0.5"/>
<path d="M300.7,535.5L303.2,535.9" stroke="#190c0d" stroke-width="0.5"/>
<path d="M299.46,541.68A137.50,137.50 0 0 1 273.07,596.48L263.60,588.95A125.40,125.40 0 0 0 287.67,538.97Z" fill="#EEC21F" />
<text x="283.84" y="567.91" font-size="4.3" style="fill:#190c0d" font-weight="normal" text-anchor="middle" dominant-baseline="central" transform="rotate(295.7 283.84 567.91)">ko01100</text>
<path d="M206.91,520.36A42.53,42.53 0 0 1 198.70,537.42L195.47,534.84A38.40,38.40 0 0 0 202.89,519.44Z" fill="#EEC21F" />
<path d="M284.03,538.73A121.80,121.80 0 0 1 260.90,586.56L255.42,582.21A114.80,114.80 0 0 0 277.21,537.13Z" fill="#F7BFA8" />
<text x="272.07" y="562.16" font-size="4.2" style="fill:#190c0d" font-weight="normal" text-anchor="middle" dominant-baseline="central" transform="rotate(295.7 272.07 562.16)">4605</text>
<path d="M273.42,536.24A110.90,110.90 0 0 1 265.40,558.95L260.08,556.39A105.00,105.00 0 0 0 267.67,534.89Z" fill="#6E2378" />
<text x="267.29" y="546.84" font-size="4.2" style="fill:#fff" font-weight="normal" text-anchor="middle" dominant-baseline="central" transform="rotate(289.4 267.29 546.84)">76</text>
<path d="M298.0,547.5L300.4,548.1" stroke="#190c0d" stroke-width="0.5"/>
<path d="M294.2,559.2L296.5,560.1" stroke="#190c0d" stroke-width="0.5"/>
<path d="M289.3,570.6L291.6,571.6" stroke="#190c0d" stroke-width="0.5"/>
<path d="M283.5,581.4L285.6,582.7" stroke="#190c0d" stroke-width="0.5"/>
<path d="M276.7,591.7L278.7,593.2" stroke="#190c0d" stroke-width="0.5"/>
<path d="M272.83,596.78A137.50,137.50 0 0 1 225.28,634.70L220.02,623.81A125.40,125.40 0 0 0 263.38,589.22Z" fill="#EEC21F" />
<text x="247.38" y="613.63" font-size="4.3" style="fill:#190c0d" font-weight="normal" text-anchor="middle" dominant-baseline="central" transform="rotate(321.4 247.38 613.63)">ko01110</text>
<path d="M197.32,536.31A40.76,40.76 0 0 1 183.14,547.62L182.11,545.50A38.40,38.40 0 0 0 195.47,534.84Z" fill="#EEC21F" />
<path d="M260.21,587.42A121.80,121.80 0 0 1 222.37,618.58L219.10,612.39A114.80,114.80 0 0 0 254.77,583.02Z" fill="#FBE3D8" />
<text x="240.85" y="602.06" font-size="4.2" style="fill:#190c0d" font-weight="normal" text-anchor="middle" dominant-baseline="central" transform="rotate(320.4 240.85 602.06)">2406</text>
<path d="M251.73,580.57A110.90,110.90 0 0 1 235.89,596.55L232.15,592.00A105.00,105.00 0 0 0 247.14,576.87Z" fill="#6E2378" />
<text x="242.16" y="586.92" font-size="4.2" style="fill:#fff" font-weight="normal" text-anchor="middle" dominant-baseline="central" transform="rotate(314.7 242.16 586.92)">58</text>
<path d="M269.0,601.4L270.9,603.0" stroke="#190c0d" stroke-width="0.5"/>
<path d="M260.5,610.3L262.2,612.1" stroke="#190c0d" stroke-width="0.5"/>
<path d="M251.2,618.4L252.7,620.4" stroke="#190c0d" stroke-width="0.5"/>
<path d="M241.2,625.7L242.6,627.7" stroke="#190c0d" stroke-width="0.5"/>
<path d="M230.6,632.0L231.8,634.2" stroke="#190c0d" stroke-width="0.5"/>
<path d="M224.94,634.87A137.50,137.50 0 0 1 165.64,648.40L165.63,636.30A125.40,125.40 0 0 0 219.70,623.96Z" fill="#E73A8C" />
<text x="194.69" y="639.01" font-size="4.3" style="fill:#190c0d" font-weight="normal" text-anchor="middle" dominant-baseline="central" transform="rotate(347.1 194.69 639.01)">ko03010</text>
<path d="M183.90,549.22A42.53,42.53 0 0 1 165.45,553.43L165.45,549.30A38.40,38.40 0 0 0 182.11,545.50Z" fill="#E73A8C" />
<path d="M217.63,620.96A121.80,121.80 0 0 1 182.60,631.49L181.61,624.56A114.80,114.80 0 0 0 214.63,614.63Z" fill="#F7BFA8" />
<text x="199.75" y="624.12" font-size="4.2" style="fill:#190c0d" font-weight="normal" text-anchor="middle" dominant-baseline="central" transform="rotate(343.1 199.75 624.12)">340</text>
<path d="M212.96,611.11A110.90,110.90 0 0 1 199.41,616.47L197.60,610.86A105.00,105.00 0 0 0 210.43,605.78Z" fill="#6E2378" />
<text x="205.20" y="611.32" font-size="4.2" style="fill:#fff" font-weight="normal" text-anchor="middle" dominant-baseline="central" transform="rotate(338.4 205.20 611.32)">15</text>
<path d="M219.5,637.3L220.5,639.6" stroke="#190c0d" stroke-width="0.5"/>
<path d="M207.9,641.7L208.7,644.0" stroke="#190c0d" stroke-width="0.5"/>
<path d="M196.0,645.0L196.6,647.4" stroke="#190c0d" stroke-width="0.5"/>
<path d="M183.9,647.2L184.2,649.6" stroke="#190c0d" stroke-width="0.5"/>
<path d="M171.6,648.3L171.7,650.8" stroke="#190c0d" stroke-width="0.5"/>
<path d="M165.26,648.40A137.50,137.50 0 0 1 105.96,634.87L111.20,623.96A125.40,125.40 0 0 0 165.27,636.30Z" fill="#E73A8C" />
<text x="136.21" y="639.01" font-size="4.3" style="fill:#190c0d" font-weight="normal" text-anchor="middle" dominant-baseline="central" transform="rotate(372.9 136.21 639.01)">ko03060</text>
<path d="M165.45,550.77A39.88,39.88 0 0 1 148.15,546.83L148.79,545.50A38.40,38.40 0 0 0 165.45,549.30Z" fill="#E73A8C" />
<path d="M164.71,632.70A121.80,121.80 0 0 1 137.29,629.40L138.90,622.59A114.80,114.80 0 0 0 164.75,625.70Z" fill="#FBE3D8" />
<text x="151.58" y="628.38" font-size="4.2" style="fill:#190c0d" font-weight="normal" text-anchor="middle" dominant-baseline="central" transform="rotate(366.7 151.58 628.38)">84</text>
<path d="M164.77,621.80A110.90,110.90 0 0 1 161.97,621.75L162.15,615.85A105.00,105.00 0 0 0 164.81,615.90Z" fill="#6E2378" />
<path d="M159.3,648.3L159.2,650.8" stroke="#190c0d" stroke-width="0.5"/>
<path d="M147.0,647.2L146.7,649.6" stroke="#190c0d" stroke-width="0.5"/>
<path d="M134.9,645.0L134.3,647.4" stroke="#190c0d" stroke-width="0.5"/>
<path d="M123.0,641.7L122.2,644.0" stroke="#190c0d" stroke-width="0.5"/>
<path d="M111.4,637.3L110.4,639.6" stroke="#190c0d" stroke-width="0.5"/>
<path d="M105.62,634.70A137.50,137.50 0 0 1 58.07,596.78L67.52,589.22A125.40,125.40 0 0 0 110.88,623.81Z" fill="#E73A8C" />
<text x="83.52" y="613.63" font-size="4.3" style="fill:#190c0d" font-weight="normal" text-anchor="middle" dominant-baseline="central" transform="rotate(398.6 83.52 613.63)">ko03030</text>
<path d="M148.28,546.56A39.58,39.58 0 0 1 134.51,535.58L135.43,534.84A38.40,38.40 0 0 0 148.79,545.50Z" fill="#E73A8C" />
<path d="M111.93,620.31A121.80,121.80 0 0 1 87.50,604.49L91.98,599.11A114.80,114.80 0 0 0 115.01,614.03Z" fill="#FBE3D8" />
<text x="101.36" y="610.34" font-size="4.2" style="fill:#190c0d" font-weight="normal" text-anchor="middle" dominant-baseline="central" transform="rotate(392.8 101.36 610.34)">106</text>
<path d="M116.72,610.52A110.90,110.90 0 0 1 113.45,608.85L116.21,603.64A105.00,105.00 0 0 0 119.32,605.22Z" fill="#6E2378" />
<path d="M100.3,632.0L99.1,634.2" stroke="#190c0d" stroke-width="0.5"/>
<path d="M89.7,625.7L88.3,627.7" stroke="#190c0d" stroke-width="0.5"/>
<path d="M79.7,618.4L78.2,620.4" stroke="#190c0d" stroke-width="0.5"/>
<path d="M70.4,610.3L68.7,612.1" stroke="#190c0d" stroke-width="0.5"/>
<path d="M61.9,601.4L60.0,603.0" stroke="#190c0d" stroke-width="0.5"/>
<path d="M57.83,596.48A137.50,137.50 0 0 1 31.44,541.68L43.23,538.97A125.40,125.40 0 0 0 67.30,588.95Z" fill="#E73A8C" />
<text x="47.06" y="567.91" font-size="4.3" style="fill:#190c0d" font-weight="normal" text-anchor="middle" dominant-baseline="central" transform="rotate(424.3 47.06 567.91)">ko03040</text>
<path d="M134.51,535.58A39.58,39.58 0 0 1 126.86,519.71L128.01,519.44A38.40,38.40 0 0 0 135.43,534.84Z" fill="#E73A8C" />
<path d="M69.76,586.26A121.80,121.80 0 0 1 51.25,553.25L57.81,550.81A114.80,114.80 0 0 0 75.26,581.93Z" fill="#FBE3D8" />
<text x="62.39" y="568.99" font-size="4.2" style="fill:#190c0d" font-weight="normal" text-anchor="middle" dominant-baseline="central" transform="rotate(420.6 62.39 568.99)">415</text>
<path d="M78.32,579.51A110.90,110.90 0 0 1 75.41,575.65L80.20,572.20A105.00,105.00 0 0 0 82.96,575.86Z" fill="#6E2378" />
<path d="M54.2,591.7L52.2,593.2" stroke="#190c0d" stroke-width="0.5"/>
<path d="M47.4,581.4L45.3,582.7" stroke="#190c0d" stroke-width="0.5"/>
<path d="M41.6,570.6L39.3,571.6" stroke="#190c0d" stroke-width="0.5"/>
<path d="M36.7,559.2L34.4,560.1" stroke="#190c0d" stroke-width="0.5"/>
<path d="M32.9,547.5L30.5,548.1" stroke="#190c0d" stroke-width="0.5"/>
<path d="M31.35,541.31A137.50,137.50 0 0 1 31.35,480.49L43.16,483.17A125.40,125.40 0 0 0 43.16,538.63Z" fill="#8C3E7F" />
<text x="34.05" y="510.90" font-size="4.3" style="fill:#190c0d" font-weight="normal" text-anchor="middle" dominant-baseline="central" transform="rotate(450.0 34.05 510.90)">ko04016</text>
<path d="M117.08,521.94A49.61,49.61 0 0 1 117.08,499.86L128.01,502.36A38.40,38.40 0 0 0 128.01,519.44Z" fill="#8C3E7F" />
<path d="M46.54,537.28A121.80,121.80 0 0 1 44.00,501.70L50.98,502.23A114.80,114.80 0 0 0 53.37,535.76Z" fill="#EF6D4D" />
<text x="47.47" y="519.59" font-size="4.2" style="fill:#190c0d" font-weight="normal" text-anchor="middle" dominant-baseline="central" transform="rotate(445.8 47.47 519.59)">295</text>
<path d="M57.18,534.92A110.90,110.90 0 0 1 54.91,519.78L60.79,519.31A105.00,105.00 0 0 0 62.94,533.64Z" fill="#6E2378" />
<text x="58.65" y="526.96" font-size="4.2" style="fill:#fff" font-weight="normal" text-anchor="middle" dominant-baseline="central" transform="rotate(441.4 58.65 526.96)">17</text>
<path d="M30.2,535.5L27.7,535.9" stroke="#190c0d" stroke-width="0.5"/>
<path d="M28.5,523.2L26.0,523.4" stroke="#190c0d" stroke-width="0.5"/>
<path d="M27.9,510.9L25.4,510.9" stroke="#190c0d" stroke-width="0.5"/>
<path d="M28.5,498.6L26.0,498.4" stroke="#190c0d" stroke-width="0.5"/>
<path d="M30.2,486.3L27.7,485.9" stroke="#190c0d" stroke-width="0.5"/>
<path d="M31.44,480.12A137.50,137.50 0 0 1 57.83,425.32L67.30,432.85A125.40,125.40 0 0 0 43.23,482.83Z" fill="#8C3E7F" />
<text x="47.06" y="453.89" font-size="4.3" style="fill:#190c0d" font-weight="normal" text-anchor="middle" dominant-baseline="central" transform="rotate(295.7 47.06 453.89)">ko04075</text>
<path d="M120.25,500.58A46.37,46.37 0 0 1 129.20,481.99L135.43,486.96A38.40,38.40 0 0 0 128.01,502.36Z" fill="#8C3E7F" />
<path d="M46.87,483.07A121.80,121.80 0 0 1 61.64,447.19L67.61,450.85A114.80,114.80 0 0 0 53.69,484.67Z" fill="#EF6D4D" />
<text x="55.96" y="466.11" font-size="4.2" style="fill:#190c0d" font-weight="normal" text-anchor="middle" dominant-baseline="central" transform="rotate(292.2 55.96 466.11)">482</text>
<path d="M57.48,485.56A110.90,110.90 0 0 1 63.01,468.41L68.46,470.67A105.00,105.00 0 0 0 63.23,486.91Z" fill="#6E2378" />
<text x="62.66" y="477.76" font-size="4.2" style="fill:#fff" font-weight="normal" text-anchor="middle" dominant-baseline="central" transform="rotate(287.9 62.66 477.76)">27</text>
<path d="M32.9,474.3L30.5,473.7" stroke="#190c0d" stroke-width="0.5"/>
<path d="M36.7,462.6L34.4,461.7" stroke="#190c0d" stroke-width="0.5"/>
<path d="M41.6,451.2L39.3,450.2" stroke="#190c0d" stroke-width="0.5"/>
<path d="M47.4,440.4L45.3,439.1" stroke="#190c0d" stroke-width="0.5"/>
<path d="M54.2,430.1L52.2,428.6" stroke="#190c0d" stroke-width="0.5"/>
<path d="M58.07,425.02A137.50,137.50 0 0 1 105.62,387.10L110.88,397.99A125.40,125.40 0 0 0 67.52,432.58Z" fill="#6250AF" />
<text x="83.52" y="408.17" font-size="4.3" style="fill:#190c0d" font-weight="normal" text-anchor="middle" dominant-baseline="central" transform="rotate(321.4 83.52 408.17)">ko04145</text>
<path d="M134.27,486.04A39.88,39.88 0 0 1 148.15,474.97L148.79,476.30A38.40,38.40 0 0 0 135.43,486.96Z" fill="#6250AF" />
<path d="M70.69,434.38A121.80,121.80 0 0 1 94.50,411.90L98.58,417.59A114.80,114.80 0 0 0 76.13,438.78Z" fill="#FBE3D8" />
<text x="84.05" y="425.06" font-size="4.2" style="fill:#190c0d" font-weight="normal" text-anchor="middle" dominant-baseline="central" transform="rotate(316.5 84.05 425.06)">187</text>
<path d="M79.17,441.23A110.90,110.90 0 0 1 81.53,438.40L85.99,442.26A105.00,105.00 0 0 0 83.76,444.93Z" fill="#6E2378" />
<path d="M61.9,420.4L60.0,418.8" stroke="#190c0d" stroke-width="0.5"/>
<path d="M70.4,411.5L68.7,409.7" stroke="#190c0d" stroke-width="0.5"/>
<path d="M79.7,403.4L78.2,401.4" stroke="#190c0d" stroke-width="0.5"/>
<path d="M89.7,396.1L88.3,394.1" stroke="#190c0d" stroke-width="0.5"/>
<path d="M100.3,389.8L99.1,387.6" stroke="#190c0d" stroke-width="0.5"/>
<path d="M105.96,386.93A137.50,137.50 0 0 1 165.26,373.40L165.27,385.50A125.40,125.40 0 0 0 111.20,397.84Z" fill="#2390D8" />
<text x="136.21" y="382.79" font-size="4.3" style="fill:#190c0d" font-weight="normal" text-anchor="middle" dominant-baseline="central" transform="rotate(347.1 136.21 382.79)">ko04626</text>
<path d="M145.72,469.92A45.48,45.48 0 0 1 165.45,465.42L165.45,472.50A38.40,38.40 0 0 0 148.79,476.30Z" fill="#2390D8" />
<path d="M113.27,400.84A121.80,121.80 0 0 1 149.67,390.13L150.58,397.07A114.80,114.80 0 0 0 116.27,407.17Z" fill="#F4997C" />
<text x="131.79" y="397.49" font-size="4.2" style="fill:#190c0d" font-weight="normal" text-anchor="middle" dominant-baseline="central" transform="rotate(343.5 131.79 397.49)">421</text>
<path d="M117.94,410.69A110.90,110.90 0 0 1 132.51,405.00L134.27,410.64A105.00,105.00 0 0 0 120.47,416.02Z" fill="#6E2378" />
<text x="126.18" y="410.29" font-size="4.2" style="fill:#fff" font-weight="normal" text-anchor="middle" dominant-baseline="central" transform="rotate(338.7 126.18 410.29)">18</text>
<path d="M111.4,384.5L110.4,382.2" stroke="#190c0d" stroke-width="0.5"/>
<path d="M123.0,380.1L122.2,377.8" stroke="#190c0d" stroke-width="0.5"/>
<path d="M134.9,376.8L134.3,374.4" stroke="#190c0d" stroke-width="0.5"/>
<path d="M147.0,374.6L146.7,372.2" stroke="#190c0d" stroke-width="0.5"/>
<path d="M159.3,373.5L159.2,371.0" stroke="#190c0d" stroke-width="0.5"/>
<text x="184.85" y="367.71" font-size="3.6" style="fill:#190c0d" font-weight="normal" text-anchor="middle" dominant-baseline="central" transform="rotate(7.7 184.85 367.71)">50</text>
<text x="210.10" y="373.47" font-size="3.6" style="fill:#190c0d" font-weight="normal" text-anchor="middle" dominant-baseline="central" transform="rotate(18.0 210.10 373.47)">150</text>
<text x="245.05" y="390.30" font-size="3.6" style="fill:#190c0d" font-weight="normal" text-anchor="middle" dominant-baseline="central" transform="rotate(33.4 245.05 390.30)">50</text>
<text x="265.31" y="406.46" font-size="3.6" style="fill:#190c0d" font-weight="normal" text-anchor="middle" dominant-baseline="central" transform="rotate(43.7 265.31 406.46)">150</text>
<text x="289.50" y="436.79" font-size="3.6" style="fill:#190c0d" font-weight="normal" text-anchor="middle" dominant-baseline="central" transform="rotate(59.1 289.50 436.79)">50</text>
<text x="300.74" y="460.13" font-size="3.6" style="fill:#190c0d" font-weight="normal" text-anchor="middle" dominant-baseline="central" transform="rotate(69.4 300.74 460.13)">150</text>
<text x="309.37" y="497.95" font-size="3.6" style="fill:#190c0d" font-weight="normal" text-anchor="middle" dominant-baseline="central" transform="rotate(84.9 309.37 497.95)">50</text>
<text x="309.37" y="523.85" font-size="3.6" style="fill:#190c0d" font-weight="normal" text-anchor="middle" dominant-baseline="central" transform="rotate(275.1 309.37 523.85)">150</text>
<text x="300.74" y="561.67" font-size="3.6" style="fill:#190c0d" font-weight="normal" text-anchor="middle" dominant-baseline="central" transform="rotate(290.6 300.74 561.67)">50</text>
<text x="289.50" y="585.01" font-size="3.6" style="fill:#190c0d" font-weight="normal" text-anchor="middle" dominant-baseline="central" transform="rotate(300.9 289.50 585.01)">150</text>
<text x="265.31" y="615.34" font-size="3.6" style="fill:#190c0d" font-weight="normal" text-anchor="middle" dominant-baseline="central" transform="rotate(316.3 265.31 615.34)">50</text>
<text x="245.05" y="631.50" font-size="3.6" style="fill:#190c0d" font-weight="normal" text-anchor="middle" dominant-baseline="central" transform="rotate(326.6 245.05 631.50)">150</text>
<text x="210.10" y="648.33" font-size="3.6" style="fill:#190c0d" font-weight="normal" text-anchor="middle" dominant-baseline="central" transform="rotate(342.0 210.10 648.33)">50</text>
<text x="184.85" y="654.09" font-size="3.6" style="fill:#190c0d" font-weight="normal" text-anchor="middle" dominant-baseline="central" transform="rotate(352.3 184.85 654.09)">150</text>
<text x="146.05" y="654.09" font-size="3.6" style="fill:#190c0d" font-weight="normal" text-anchor="middle" dominant-baseline="central" transform="rotate(367.7 146.05 654.09)">50</text>
<text x="120.80" y="648.33" font-size="3.6" style="fill:#190c0d" font-weight="normal" text-anchor="middle" dominant-baseline="central" transform="rotate(378.0 120.80 648.33)">150</text>
<text x="85.85" y="631.50" font-size="3.6" style="fill:#190c0d" font-weight="normal" text-anchor="middle" dominant-baseline="central" transform="rotate(393.4 85.85 631.50)">50</text>
<text x="65.59" y="615.34" font-size="3.6" style="fill:#190c0d" font-weight="normal" text-anchor="middle" dominant-baseline="central" transform="rotate(403.7 65.59 615.34)">150</text>
<text x="41.40" y="585.01" font-size="3.6" style="fill:#190c0d" font-weight="normal" text-anchor="middle" dominant-baseline="central" transform="rotate(419.1 41.40 585.01)">50</text>
<text x="30.16" y="561.67" font-size="3.6" style="fill:#190c0d" font-weight="normal" text-anchor="middle" dominant-baseline="central" transform="rotate(429.4 30.16 561.67)">150</text>
<text x="21.53" y="523.85" font-size="3.6" style="fill:#190c0d" font-weight="normal" text-anchor="middle" dominant-baseline="central" transform="rotate(444.9 21.53 523.85)">50</text>
<text x="21.53" y="497.95" font-size="3.6" style="fill:#190c0d" font-weight="normal" text-anchor="middle" dominant-baseline="central" transform="rotate(275.1 21.53 497.95)">150</text>
<text x="30.16" y="460.13" font-size="3.6" style="fill:#190c0d" font-weight="normal" text-anchor="middle" dominant-baseline="central" transform="rotate(290.6 30.16 460.13)">50</text>
<text x="41.40" y="436.79" font-size="3.6" style="fill:#190c0d" font-weight="normal" text-anchor="middle" dominant-baseline="central" transform="rotate(300.9 41.40 436.79)">150</text>
<text x="65.59" y="406.46" font-size="3.6" style="fill:#190c0d" font-weight="normal" text-anchor="middle" dominant-baseline="central" transform="rotate(316.3 65.59 406.46)">50</text>
<text x="85.85" y="390.30" font-size="3.6" style="fill:#190c0d" font-weight="normal" text-anchor="middle" dominant-baseline="central" transform="rotate(326.6 85.85 390.30)">150</text>
<text x="120.80" y="373.47" font-size="3.6" style="fill:#190c0d" font-weight="normal" text-anchor="middle" dominant-baseline="central" transform="rotate(342.0 120.80 373.47)">50</text>
<text x="146.05" y="367.71" font-size="3.6" style="fill:#190c0d" font-weight="normal" text-anchor="middle" dominant-baseline="central" transform="rotate(352.3 146.05 367.71)">150</text>
<path d="M165.45,413.50L165.45,445.95" stroke="#000" stroke-width="0.9"/>
<path d="M165.45,445.95L165.45,472.50" stroke="#000" stroke-width="0.9" stroke-dasharray="2.2 1.6"/>
<path d="M207.71,423.15L201.82,435.37" stroke="#000" stroke-width="0.9"/>
<path d="M201.82,435.37L182.11,476.30" stroke="#FBF3D0" stroke-opacity="0.75" stroke-width="0.8" stroke-dasharray="2.2 1.6"/>
<path d="M241.60,450.17L223.15,464.89" stroke="#000" stroke-width="0.9"/>
<path d="M223.15,464.89L195.47,486.96" stroke="#FBF3D0" stroke-opacity="0.75" stroke-width="0.8" stroke-dasharray="2.2 1.6"/>
<path d="M260.41,489.23L220.43,498.35" stroke="#000" stroke-width="0.9"/>
<path d="M220.43,498.35L202.89,502.36" stroke="#FBF3D0" stroke-opacity="0.75" stroke-width="0.8" stroke-dasharray="2.2 1.6"/>
<path d="M260.41,532.57L228.77,525.35" stroke="#000" stroke-width="0.9"/>
<path d="M228.77,525.35L202.89,519.44" stroke="#000" stroke-width="0.9" stroke-dasharray="2.2 1.6"/>
<path d="M241.60,571.63L216.23,551.40" stroke="#000" stroke-width="0.9"/>
<path d="M216.23,551.40L195.47,534.84" stroke="#000" stroke-width="0.9" stroke-dasharray="2.2 1.6"/>
<path d="M207.71,598.65L193.63,569.42" stroke="#000" stroke-width="0.9"/>
<path d="M193.63,569.42L182.11,545.50" stroke="#000" stroke-width="0.9" stroke-dasharray="2.2 1.6"/>
<path d="M165.45,608.30L165.45,575.85" stroke="#000" stroke-width="0.9"/>
<path d="M165.45,575.85L165.45,549.30" stroke="#000" stroke-width="0.9" stroke-dasharray="2.2 1.6"/>
<path d="M123.19,598.65L137.27,569.42" stroke="#000" stroke-width="0.9"/>
<path d="M137.27,569.42L148.79,545.50" stroke="#000" stroke-width="0.9" stroke-dasharray="2.2 1.6"/>
<path d="M89.30,571.63L114.67,551.40" stroke="#000" stroke-width="0.9"/>
<path d="M114.67,551.40L135.43,534.84" stroke="#000" stroke-width="0.9" stroke-dasharray="2.2 1.6"/>
<path d="M70.49,532.57L102.13,525.35" stroke="#000" stroke-width="0.9"/>
<path d="M102.13,525.35L128.01,519.44" stroke="#000" stroke-width="0.9" stroke-dasharray="2.2 1.6"/>
<path d="M70.49,489.23L102.13,496.45" stroke="#000" stroke-width="0.9"/>
<path d="M102.13,496.45L128.01,502.36" stroke="#000" stroke-width="0.9" stroke-dasharray="2.2 1.6"/>
<path d="M89.30,450.17L114.67,470.40" stroke="#000" stroke-width="0.9"/>
<path d="M114.67,470.40L135.43,486.96" stroke="#000" stroke-width="0.9" stroke-dasharray="2.2 1.6"/>
<path d="M123.19,423.15L137.27,452.38" stroke="#000" stroke-width="0.9"/>
<path d="M137.27,452.38L148.79,476.30" stroke="#000" stroke-width="0.9" stroke-dasharray="2.2 1.6"/>
</g>
<rect x="135.1" y="497.3" width="18.9" height="6.3" fill="#C9C9C9"/><text x="144.5" y="502.2" font-size="4.4" text-anchor="middle">100</text>
<rect x="135.1" y="507.5" width="18.9" height="6.3" fill="#6E2378"/><text x="144.5" y="512.4" font-size="4.4" text-anchor="middle" style="fill:#fff">10</text>
<path d="M136,519.5H144V517.6H154V526.2H144V524.5H136Z" fill="#C9C9C9"/>
<text x="155.8" y="502.3" font-size="4.8" font-weight="bold">Number of Gene</text>
<text x="155.8" y="512.5" font-size="4.8" font-weight="bold">Number of DEGs</text>
<text x="155.8" y="523.3" font-size="4.8" font-weight="bold">Rich Factor(0~1)</text>
<rect x="325" y="380" width="10.1" height="9.7" fill="#EEC21F"/>
<text x="337.3" y="386.6" font-size="4.9" font-weight="bold">Metabolism</text>
<rect x="325" y="390.8" width="10.1" height="9.7" fill="#E73A8C"/>
<text x="337.3" y="397.40000000000003" font-size="4.9" font-weight="bold">Genetic Information Processing</text>
<rect x="325" y="401.6" width="10.1" height="9.7" fill="#8C3E7F"/>
<text x="337.3" y="408.20000000000005" font-size="4.9" font-weight="bold">Environmental Information Processing</text>
<rect x="325" y="412.2" width="10.1" height="9.7" fill="#6250AF"/>
<text x="337.3" y="418.8" font-size="4.9" font-weight="bold">Cellular Processes</text>
<rect x="325" y="422.6" width="10.1" height="9.7" fill="#2390D8"/>
<text x="337.3" y="429.20000000000005" font-size="4.9" font-weight="bold">Organismal Systems</text>
<text x="326.5" y="448" font-size="4.6" font-weight="bold">-log10(Qvalue)</text>
<circle cx="330" cy="455.8" r="5" fill="#FBE3D8"/>
<text x="337.5" y="457.5" font-size="4.6">[0,2.5)</text>
<circle cx="330" cy="466.3" r="5" fill="#F7BFA8"/>
<text x="337.5" y="468.0" font-size="4.6">[2.5,5)</text>
<circle cx="330" cy="476.9" r="5" fill="#F4997C"/>
<text x="337.5" y="478.6" font-size="4.6">[5,7.5)</text>
<circle cx="330" cy="487.4" r="5" fill="#EF6D4D"/>
<text x="337.5" y="489.1" font-size="4.6">[7.5,10)</text>
<circle cx="330" cy="497.9" r="5" fill="#E53C2E"/>
<text x="337.5" y="499.6" font-size="4.6">[10,15)</text>
<circle cx="330" cy="508.4" r="5" fill="#C61E26"/>
<text x="337.5" y="510.1" font-size="4.6">[15,20)</text>
<circle cx="330" cy="519.0" r="5" fill="#9C1A24"/>
<text x="337.5" y="520.7" font-size="4.6">>=20</text>
</g>
<defs><filter id="bl" x="-5%" y="-5%" width="110%" height="110%"><feGaussianBlur stdDeviation="0.45"/></filter></defs>
<g id="circos" filter="url(#bl)">
<path d="M622.92,362.62A150.12,150.12 0 0 1 668.97,363.56L667.22,373.49A140.04,140.04 0 0 0 624.26,372.61Z" fill="#AEB5DF" />
<path d="M624.24,372.46A140.19,140.19 0 0 1 631.49,371.67L632.31,381.72A130.11,130.11 0 0 0 625.58,382.45Z" fill="#BDA4D9" />
<path d="M631.37,371.68A140.19,140.19 0 0 1 638.66,371.27L638.96,381.35A130.11,130.11 0 0 0 632.20,381.73Z" fill="#F7B4B9" />
<path d="M638.54,371.28A140.19,140.19 0 0 1 660.15,372.27L658.91,382.28A130.11,130.11 0 0 0 638.85,381.35Z" fill="#BDA4D9" />
<path d="M660.03,372.26A140.19,140.19 0 0 1 667.24,373.34L665.49,383.27A130.11,130.11 0 0 0 658.79,382.26Z" fill="#F7B4B9" />
<path d="M661.38,372.43A140.19,140.19 0 0 1 662.81,372.63L661.38,382.61A130.11,130.11 0 0 0 660.05,382.42Z" fill="#BDA4D9" />
<path d="M664.16,372.83A140.19,140.19 0 0 1 665.59,373.06L663.96,383.00A130.11,130.11 0 0 0 662.63,382.79Z" fill="#BDA4D9" />
<path d="M625.56,382.30A130.26,130.26 0 0 1 638.96,381.20L639.26,391.27A120.18,120.18 0 0 0 626.90,392.29Z" fill="#C5DF4A" />
<path d="M626.97,382.12A130.26,130.26 0 0 1 628.41,381.95L629.53,391.97A120.18,120.18 0 0 0 628.20,392.12Z" fill="#F7B4B9" />
<path d="M628.92,381.89A130.26,130.26 0 0 1 629.46,381.84L630.50,391.86A120.18,120.18 0 0 0 630.00,391.91Z" fill="#F7B4B9" />
<path d="M629.96,381.78A130.26,130.26 0 0 1 630.18,381.76L631.16,391.79A120.18,120.18 0 0 0 630.96,391.81Z" fill="#F28C8D" />
<path d="M632.75,381.54A130.26,130.26 0 0 1 634.20,381.43L634.88,391.49A120.18,120.18 0 0 0 633.54,391.59Z" fill="#F7B4B9" />
<path d="M635.97,381.32A130.26,130.26 0 0 1 637.42,381.26L637.85,391.33A120.18,120.18 0 0 0 636.51,391.39Z" fill="#F7B4B9" />
<path d="M637.85,381.24A130.26,130.26 0 0 1 638.22,381.22L638.58,391.30A120.18,120.18 0 0 0 638.24,391.31Z" fill="#F7B4B9" />
<path d="M638.85,381.20A130.26,130.26 0 0 1 658.93,382.13L657.69,392.13A120.18,120.18 0 0 0 639.16,391.28Z" fill="#C5DF4A" />
<path d="M658.81,382.12A130.26,130.26 0 0 1 665.52,383.12L663.77,393.05A120.18,120.18 0 0 0 657.58,392.12Z" fill="#C5DF4A" />
<path d="M659.87,382.25A130.26,130.26 0 0 1 661.31,382.45L659.88,392.43A120.18,120.18 0 0 0 658.55,392.24Z" fill="#F7B4B9" />
<path d="M662.82,382.67A130.26,130.26 0 0 1 663.35,382.76L661.77,392.71A120.18,120.18 0 0 0 661.27,392.63Z" fill="#F7B4B9" />
<path d="M663.65,382.80A130.26,130.26 0 0 1 663.86,382.84L662.24,392.79A120.18,120.18 0 0 0 662.04,392.75Z" fill="#F7B4B9" />
<path d="M626.88,392.14A120.33,120.33 0 0 1 636.18,391.26L636.75,401.32A110.25,110.25 0 0 0 628.22,402.13Z" fill="#AEB5DF" />
<path d="M629.54,391.81A120.33,120.33 0 0 1 629.75,391.79L630.85,401.81A110.25,110.25 0 0 0 630.65,401.83Z" fill="#F7B4B9" />
<path d="M630.79,391.68A120.33,120.33 0 0 1 631.15,391.64L632.14,401.68A110.25,110.25 0 0 0 631.80,401.71Z" fill="#F7B4B9" />
<path d="M631.51,391.61A120.33,120.33 0 0 1 632.96,391.48L633.79,401.53A110.25,110.25 0 0 0 632.46,401.65Z" fill="#F7B4B9" />
<path d="M634.20,391.38A120.33,120.33 0 0 1 634.75,391.35L635.43,401.40A110.25,110.25 0 0 0 634.93,401.44Z" fill="#F7B4B9" />
<path d="M635.19,391.32A120.33,120.33 0 0 1 635.41,391.30L636.04,401.36A110.25,110.25 0 0 0 635.84,401.38Z" fill="#F7B4B9" />
<path d="M636.08,391.26A120.33,120.33 0 0 1 663.80,392.90L662.04,402.82A110.25,110.25 0 0 0 636.65,401.33Z" fill="#F7B4B9" />
<path d="M637.49,391.19A120.33,120.33 0 0 1 638.40,391.15L638.78,401.23A110.25,110.25 0 0 0 637.94,401.26Z" fill="#AEB5DF" />
<path d="M638.86,391.14A120.33,120.33 0 0 1 639.22,391.13L639.53,401.20A110.25,110.25 0 0 0 639.20,401.21Z" fill="#AEB5DF" />
<path d="M640.32,391.10A120.33,120.33 0 0 1 640.86,391.09L641.03,401.17A110.25,110.25 0 0 0 640.53,401.18Z" fill="#AEB5DF" />
<path d="M641.19,391.08A120.33,120.33 0 0 1 642.10,391.07L642.17,401.15A110.25,110.25 0 0 0 641.33,401.16Z" fill="#AEB5DF" />
<path d="M642.71,391.07A120.33,120.33 0 0 1 642.93,391.07L642.92,401.15A110.25,110.25 0 0 0 642.72,401.15Z" fill="#AEB5DF" />
<path d="M643.36,391.07A120.33,120.33 0 0 1 644.27,391.08L644.15,401.16A110.25,110.25 0 0 0 643.32,401.15Z" fill="#AEB5DF" />
<path d="M646.19,391.11A120.33,120.33 0 0 1 646.55,391.13L646.25,401.20A110.25,110.25 0 0 0 645.91,401.19Z" fill="#AEB5DF" />
<path d="M648.05,391.18A120.33,120.33 0 0 1 648.42,391.20L647.96,401.27A110.25,110.25 0 0 0 647.62,401.25Z" fill="#AEB5DF" />
<path d="M650.24,391.29A120.33,120.33 0 0 1 650.46,391.31L649.83,401.37A110.25,110.25 0 0 0 649.63,401.36Z" fill="#AEB5DF" />
<path d="M651.75,391.40A120.33,120.33 0 0 1 652.12,391.42L651.34,401.47A110.25,110.25 0 0 0 651.01,401.45Z" fill="#AEB5DF" />
<path d="M653.05,391.50A120.33,120.33 0 0 1 654.50,391.63L653.53,401.66A110.25,110.25 0 0 0 652.20,401.54Z" fill="#AEB5DF" />
<path d="M657.16,391.92A120.33,120.33 0 0 1 657.37,391.94L656.16,401.95A110.25,110.25 0 0 0 655.96,401.93Z" fill="#AEB5DF" />
<path d="M658.10,392.03A120.33,120.33 0 0 1 659.55,392.23L658.15,402.21A110.25,110.25 0 0 0 656.83,402.03Z" fill="#AEB5DF" />
<path d="M659.93,392.28A120.33,120.33 0 0 1 660.29,392.33L658.84,402.31A110.25,110.25 0 0 0 658.51,402.26Z" fill="#AEB5DF" />
<path d="M661.62,392.54A120.33,120.33 0 0 1 661.84,392.57L660.25,402.52A110.25,110.25 0 0 0 660.05,402.49Z" fill="#AEB5DF" />
<path d="M628.20,401.98A110.40,110.40 0 0 1 662.07,402.68L660.32,412.60A100.32,100.32 0 0 0 629.55,411.97Z" fill="#F7B4B9" />
<path d="M629.53,411.82A100.47,100.47 0 0 1 660.35,412.46L658.60,422.38A90.39,90.39 0 0 0 630.87,421.81Z" fill="#F28C8D" />
<path d="M629.99,411.76A100.47,100.47 0 0 1 630.21,411.74L631.48,421.73A90.39,90.39 0 0 0 631.28,421.76Z" fill="#F7B4B9" />
<path d="M631.89,411.53A100.47,100.47 0 0 1 632.26,411.50L633.32,421.52A90.39,90.39 0 0 0 633.00,421.55Z" fill="#F7B4B9" />
<path d="M633.99,411.33A100.47,100.47 0 0 1 634.54,411.28L635.38,421.32A90.39,90.39 0 0 0 634.88,421.37Z" fill="#AEB5DF" />
<path d="M635.13,411.23A100.47,100.47 0 0 1 636.60,411.13L637.23,421.19A90.39,90.39 0 0 0 635.91,421.28Z" fill="#AEB5DF" />
<path d="M638.90,411.01A100.47,100.47 0 0 1 639.26,411.00L639.63,421.07A90.39,90.39 0 0 0 639.30,421.08Z" fill="#AEB5DF" />
<path d="M640.00,410.97A100.47,100.47 0 0 1 640.36,410.96L640.62,421.04A90.39,90.39 0 0 0 640.29,421.05Z" fill="#AEB5DF" />
<path d="M642.84,410.93A100.47,100.47 0 0 1 644.32,410.94L644.17,421.02A90.39,90.39 0 0 0 642.85,421.01Z" fill="#F7B4B9" />
<path d="M646.36,410.99A100.47,100.47 0 0 1 646.72,411.00L646.34,421.08A90.39,90.39 0 0 0 646.01,421.06Z" fill="#F7B4B9" />
<path d="M648.67,411.10A100.47,100.47 0 0 1 649.59,411.15L648.92,421.21A90.39,90.39 0 0 0 648.09,421.16Z" fill="#AEB5DF" />
<path d="M651.33,411.28A100.47,100.47 0 0 1 652.24,411.37L651.31,421.40A90.39,90.39 0 0 0 650.48,421.33Z" fill="#F7B4B9" />
<path d="M652.78,411.42A100.47,100.47 0 0 1 653.00,411.44L651.99,421.47A90.39,90.39 0 0 0 651.79,421.45Z" fill="#AEB5DF" />
<path d="M653.86,411.53A100.47,100.47 0 0 1 654.77,411.63L653.58,421.64A90.39,90.39 0 0 0 652.76,421.55Z" fill="#AEB5DF" />
<path d="M656.07,411.80A100.47,100.47 0 0 1 657.53,412.00L656.06,421.97A90.39,90.39 0 0 0 654.75,421.79Z" fill="#AEB5DF" />
<path d="M658.51,412.15A100.47,100.47 0 0 1 658.88,412.21L657.27,422.16A90.39,90.39 0 0 0 656.95,422.11Z" fill="#F7B4B9" />
<path d="M630.85,421.67A90.54,90.54 0 0 1 658.62,422.24L656.87,432.16A80.46,80.46 0 0 0 632.19,431.66Z" fill="#F7B4B9" />
<path d="M632.17,431.51A80.61,80.61 0 0 1 638.40,430.92L638.96,440.98A70.53,70.53 0 0 0 633.51,441.50Z" fill="#AEB5DF" />
<path d="M633.82,431.30A80.61,80.61 0 0 1 635.30,431.15L636.25,441.18A70.53,70.53 0 0 0 634.95,441.32Z" fill="#F7B4B9" />
<path d="M636.28,431.06A80.61,80.61 0 0 1 636.65,431.03L637.43,441.08A70.53,70.53 0 0 0 637.10,441.11Z" fill="#F7B4B9" />
<path d="M637.11,431.00A80.61,80.61 0 0 1 638.04,430.94L638.65,441.00A70.53,70.53 0 0 0 637.83,441.05Z" fill="#F7B4B9" />
<path d="M638.33,430.92A80.61,80.61 0 0 1 656.90,432.01L655.15,441.94A70.53,70.53 0 0 0 638.90,440.98Z" fill="#F7B4B9" />
<path d="M639.05,430.88A80.61,80.61 0 0 1 639.61,430.86L640.02,440.93A70.53,70.53 0 0 0 639.53,440.95Z" fill="#AEB5DF" />
<path d="M640.13,430.84A80.61,80.61 0 0 1 640.50,430.83L640.80,440.90A70.53,70.53 0 0 0 640.48,440.91Z" fill="#F28C8D" />
<path d="M643.19,430.79A80.61,80.61 0 0 1 644.69,430.81L644.46,440.89A70.53,70.53 0 0 0 643.16,440.87Z" fill="#AEB5DF" />
<path d="M646.42,430.87A80.61,80.61 0 0 1 646.64,430.88L646.18,440.95A70.53,70.53 0 0 0 645.98,440.94Z" fill="#F28C8D" />
<path d="M649.16,431.03A80.61,80.61 0 0 1 649.72,431.08L648.86,441.12A70.53,70.53 0 0 0 648.38,441.08Z" fill="#AEB5DF" />
<path d="M650.06,431.11A80.61,80.61 0 0 1 650.28,431.13L649.36,441.17A70.53,70.53 0 0 0 649.17,441.15Z" fill="#F28C8D" />
<path d="M650.74,431.17A80.61,80.61 0 0 1 651.30,431.23L650.25,441.25A70.53,70.53 0 0 0 649.76,441.20Z" fill="#F28C8D" />
<path d="M651.92,431.30A80.61,80.61 0 0 1 652.14,431.32L650.99,441.34A70.53,70.53 0 0 0 650.79,441.31Z" fill="#AEB5DF" />
<path d="M653.53,431.49A80.61,80.61 0 0 1 654.09,431.57L652.69,441.55A70.53,70.53 0 0 0 652.20,441.49Z" fill="#AEB5DF" />
<path d="M633.49,441.35A70.68,70.68 0 0 1 655.17,441.79L653.42,451.72A60.60,60.60 0 0 0 634.83,451.34Z" fill="#BDA4D9" />
<path d="M668.84,363.54A150.12,150.12 0 0 1 678.58,365.58L676.19,375.37A140.04,140.04 0 0 0 667.10,373.47Z" fill="#F28C8D" />
<path d="M678.45,365.55A150.12,150.12 0 0 1 688.04,368.23L685.01,377.84A140.04,140.04 0 0 0 676.07,375.34Z" fill="#F7B4B9" />
<path d="M680.55,366.08A150.12,150.12 0 0 1 681.08,366.22L678.52,375.96A140.04,140.04 0 0 0 678.03,375.84Z" fill="#C5DF4A" />
<path d="M681.55,366.34A150.12,150.12 0 0 1 682.42,366.58L679.77,376.30A140.04,140.04 0 0 0 678.95,376.08Z" fill="#F9D027" />
<path d="M684.68,367.21A150.12,150.12 0 0 1 685.55,367.47L682.69,377.13A140.04,140.04 0 0 0 681.88,376.89Z" fill="#F9D027" />
<path d="M687.92,368.19A150.12,150.12 0 0 1 715.11,379.79L710.26,388.62A140.04,140.04 0 0 0 684.89,377.80Z" fill="#C5DF4A" />
<path d="M667.12,373.32A140.19,140.19 0 0 1 685.06,377.70L682.02,387.31A130.11,130.11 0 0 0 665.38,383.25Z" fill="#2CBDB1" />
<path d="M684.94,377.66A140.19,140.19 0 0 1 693.71,380.74L690.06,390.14A130.11,130.11 0 0 0 681.92,387.28Z" fill="#AEB5DF" />
<path d="M685.24,377.76A140.19,140.19 0 0 1 686.11,378.03L683.00,387.62A130.11,130.11 0 0 0 682.20,387.37Z" fill="#2CBDB1" />
<path d="M687.69,378.56A140.19,140.19 0 0 1 689.06,379.03L685.74,388.55A130.11,130.11 0 0 0 684.47,388.11Z" fill="#2CBDB1" />
<path d="M689.51,379.19A140.19,140.19 0 0 1 689.72,379.26L686.35,388.76A130.11,130.11 0 0 0 686.16,388.69Z" fill="#2CBDB1" />
<path d="M691.95,380.07A140.19,140.19 0 0 1 692.46,380.26L688.90,389.69A130.11,130.11 0 0 0 688.42,389.51Z" fill="#2CBDB1" />
<path d="M693.60,380.70A140.19,140.19 0 0 1 710.33,388.49L705.48,397.33A130.11,130.11 0 0 0 689.95,390.10Z" fill="#2CBDB1" />
<path d="M665.41,383.10A130.26,130.26 0 0 1 673.86,384.87L671.47,394.66A120.18,120.18 0 0 0 663.67,393.03Z" fill="#AEB5DF" />
<path d="M673.75,384.85A130.26,130.26 0 0 1 690.11,390.00L686.46,399.39A120.18,120.18 0 0 0 671.36,394.64Z" fill="#2CBDB1" />
<path d="M675.09,385.18A130.26,130.26 0 0 1 675.97,385.41L673.41,395.16A120.18,120.18 0 0 0 672.60,394.95Z" fill="#AEB5DF" />
<path d="M677.44,385.80A130.26,130.26 0 0 1 678.84,386.20L676.06,395.88A120.18,120.18 0 0 0 674.76,395.52Z" fill="#AEB5DF" />
<path d="M679.82,386.48A130.26,130.26 0 0 1 680.03,386.54L677.16,396.21A120.18,120.18 0 0 0 676.96,396.15Z" fill="#AEB5DF" />
<path d="M680.36,386.64A130.26,130.26 0 0 1 680.56,386.70L677.65,396.35A120.18,120.18 0 0 0 677.46,396.30Z" fill="#AEB5DF" />
<path d="M682.61,387.34A130.26,130.26 0 0 1 683.48,387.62L680.34,397.20A120.18,120.18 0 0 0 679.54,396.94Z" fill="#AEB5DF" />
<path d="M685.77,388.40A130.26,130.26 0 0 1 686.29,388.58L682.93,398.08A120.18,120.18 0 0 0 682.46,397.92Z" fill="#AEB5DF" />
<path d="M686.88,388.79A130.26,130.26 0 0 1 688.24,389.29L684.73,398.74A120.18,120.18 0 0 0 683.48,398.28Z" fill="#AEB5DF" />
<path d="M690.01,389.96A130.26,130.26 0 0 1 705.55,397.20L700.71,406.03A120.18,120.18 0 0 0 686.36,399.35Z" fill="#C5DF4A" />
<path d="M663.69,392.88A120.33,120.33 0 0 1 682.82,397.88L679.48,407.39A110.25,110.25 0 0 0 661.95,402.81Z" fill="#AEB5DF" />
<path d="M665.53,393.22A120.33,120.33 0 0 1 666.42,393.39L664.45,403.28A110.25,110.25 0 0 0 663.63,403.12Z" fill="#2CBDB1" />
<path d="M668.79,393.89A120.33,120.33 0 0 1 669.32,394.01L667.11,403.84A110.25,110.25 0 0 0 666.62,403.73Z" fill="#2CBDB1" />
<path d="M671.16,394.43A120.33,120.33 0 0 1 671.51,394.52L669.11,404.31A110.25,110.25 0 0 0 668.79,404.23Z" fill="#2CBDB1" />
<path d="M673.65,395.07A120.33,120.33 0 0 1 674.00,395.16L671.40,404.90A110.25,110.25 0 0 0 671.08,404.81Z" fill="#2CBDB1" />
<path d="M675.17,395.48A120.33,120.33 0 0 1 676.57,395.88L673.75,405.55A110.25,110.25 0 0 0 672.46,405.19Z" fill="#2CBDB1" />
<path d="M677.33,396.10A120.33,120.33 0 0 1 677.68,396.20L674.76,405.85A110.25,110.25 0 0 0 674.44,405.76Z" fill="#2CBDB1" />
<path d="M678.75,396.54A120.33,120.33 0 0 1 678.96,396.60L675.94,406.22A110.25,110.25 0 0 0 675.75,406.16Z" fill="#2CBDB1" />
<path d="M681.40,397.39A120.33,120.33 0 0 1 681.91,397.57L678.65,407.11A110.25,110.25 0 0 0 678.17,406.94Z" fill="#2CBDB1" />
<path d="M682.72,397.85A120.33,120.33 0 0 1 700.78,405.90L695.93,414.74A110.25,110.25 0 0 0 679.38,407.36Z" fill="#C5DF4A" />
<path d="M683.61,398.17A120.33,120.33 0 0 1 683.95,398.29L680.52,407.77A110.25,110.25 0 0 0 680.20,407.65Z" fill="#2CBDB1" />
<path d="M685.08,398.71A120.33,120.33 0 0 1 686.44,399.23L682.80,408.62A110.25,110.25 0 0 0 681.55,408.15Z" fill="#2CBDB1" />
<path d="M688.21,399.93A120.33,120.33 0 0 1 689.55,400.48L685.65,409.77A110.25,110.25 0 0 0 684.41,409.26Z" fill="#2CBDB1" />
<path d="M690.52,400.89A120.33,120.33 0 0 1 690.72,400.98L686.72,410.23A110.25,110.25 0 0 0 686.53,410.15Z" fill="#2CBDB1" />
<path d="M692.89,401.95A120.33,120.33 0 0 1 693.09,402.04L688.89,411.20A110.25,110.25 0 0 0 688.71,411.12Z" fill="#2CBDB1" />
<path d="M694.59,402.74A120.33,120.33 0 0 1 695.08,402.97L690.71,412.06A110.25,110.25 0 0 0 690.26,411.84Z" fill="#2CBDB1" />
<path d="M696.72,403.78A120.33,120.33 0 0 1 697.53,404.19L692.95,413.17A110.25,110.25 0 0 0 692.21,412.79Z" fill="#2CBDB1" />
<path d="M698.19,404.53A120.33,120.33 0 0 1 698.68,404.78L694.00,413.71A110.25,110.25 0 0 0 693.56,413.48Z" fill="#2CBDB1" />
<path d="M661.98,402.66A110.40,110.40 0 0 1 670.89,404.61L668.34,414.36A100.32,100.32 0 0 0 660.23,412.59Z" fill="#2CBDB1" />
<path d="M670.80,404.58A110.40,110.40 0 0 1 696.00,414.61L691.15,423.45A100.32,100.32 0 0 0 668.25,414.34Z" fill="#F28C8D" />
<path d="M673.36,405.28A110.40,110.40 0 0 1 673.57,405.34L670.77,415.03A100.32,100.32 0 0 0 670.58,414.97Z" fill="#F7B4B9" />
<path d="M674.10,405.50A110.40,110.40 0 0 1 675.50,405.92L672.52,415.55A100.32,100.32 0 0 0 671.25,415.17Z" fill="#F7B4B9" />
<path d="M677.96,406.72A110.40,110.40 0 0 1 678.31,406.83L675.08,416.38A100.32,100.32 0 0 0 674.76,416.27Z" fill="#AEB5DF" />
<path d="M680.45,407.58A110.40,110.40 0 0 1 680.96,407.77L677.49,417.23A100.32,100.32 0 0 0 677.02,417.06Z" fill="#AEB5DF" />
<path d="M682.84,408.48A110.40,110.40 0 0 1 683.69,408.81L679.97,418.18A100.32,100.32 0 0 0 679.19,417.87Z" fill="#AEB5DF" />
<path d="M684.36,409.08A110.40,110.40 0 0 1 684.87,409.29L681.03,418.61A100.32,100.32 0 0 0 680.57,418.42Z" fill="#F7B4B9" />
<path d="M686.33,409.90A110.40,110.40 0 0 1 687.67,410.49L683.58,419.70A100.32,100.32 0 0 0 682.36,419.17Z" fill="#AEB5DF" />
<path d="M688.79,410.99A110.40,110.40 0 0 1 689.13,411.14L684.91,420.30A100.32,100.32 0 0 0 684.60,420.16Z" fill="#AEB5DF" />
<path d="M690.28,411.68A110.40,110.40 0 0 1 691.11,412.08L686.70,421.15A100.32,100.32 0 0 0 685.96,420.79Z" fill="#AEB5DF" />
<path d="M692.34,412.69A110.40,110.40 0 0 1 692.66,412.85L688.12,421.85A100.32,100.32 0 0 0 687.82,421.70Z" fill="#AEB5DF" />
<path d="M693.72,413.39A110.40,110.40 0 0 1 695.02,414.08L690.26,422.96A100.32,100.32 0 0 0 689.08,422.34Z" fill="#F7B4B9" />
<path d="M660.26,412.44A100.47,100.47 0 0 1 668.37,414.21L665.82,423.96A90.39,90.39 0 0 0 658.52,422.37Z" fill="#2CBDB1" />
<path d="M668.29,414.19A100.47,100.47 0 0 1 691.22,423.32L686.38,432.15A90.39,90.39 0 0 0 665.74,423.94Z" fill="#AEB5DF" />
<path d="M668.80,414.33A100.47,100.47 0 0 1 669.01,414.38L666.39,424.12A90.39,90.39 0 0 0 666.20,424.07Z" fill="#F7B4B9" />
<path d="M669.86,414.61A100.47,100.47 0 0 1 670.74,414.86L667.95,424.55A90.39,90.39 0 0 0 667.15,424.32Z" fill="#F7B4B9" />
<path d="M673.28,415.63A100.47,100.47 0 0 1 674.68,416.09L671.49,425.65A90.39,90.39 0 0 0 670.23,425.24Z" fill="#F7B4B9" />
<path d="M675.55,416.38A100.47,100.47 0 0 1 675.76,416.45L672.46,425.98A90.39,90.39 0 0 0 672.27,425.92Z" fill="#F7B4B9" />
<path d="M677.18,416.96A100.47,100.47 0 0 1 677.39,417.03L673.93,426.50A90.39,90.39 0 0 0 673.74,426.43Z" fill="#F7B4B9" />
<path d="M678.43,417.42A100.47,100.47 0 0 1 679.29,417.75L675.64,427.15A90.39,90.39 0 0 0 674.87,426.85Z" fill="#F7B4B9" />
<path d="M680.65,418.29A100.47,100.47 0 0 1 680.86,418.38L677.05,427.71A90.39,90.39 0 0 0 676.86,427.63Z" fill="#F7B4B9" />
<path d="M682.92,419.25A100.47,100.47 0 0 1 683.13,419.33L679.09,428.57A90.39,90.39 0 0 0 678.91,428.49Z" fill="#F7B4B9" />
<path d="M685.15,420.25A100.47,100.47 0 0 1 685.48,420.40L681.21,429.53A90.39,90.39 0 0 0 680.91,429.39Z" fill="#F7B4B9" />
<path d="M687.24,421.24A100.47,100.47 0 0 1 687.57,421.41L683.09,430.43A90.39,90.39 0 0 0 682.79,430.29Z" fill="#F7B4B9" />
<path d="M688.15,421.70A100.47,100.47 0 0 1 689.46,422.37L684.79,431.30A90.39,90.39 0 0 0 683.61,430.70Z" fill="#F7B4B9" />
<path d="M658.54,422.22A90.54,90.54 0 0 1 665.86,423.82L663.30,433.57A80.46,80.46 0 0 0 656.80,432.15Z" fill="#2CBDB1" />
<path d="M665.78,423.80A90.54,90.54 0 0 1 686.45,432.02L681.60,440.86A80.46,80.46 0 0 0 663.23,433.55Z" fill="#F28C8D" />
<path d="M667.42,424.24A90.54,90.54 0 0 1 667.63,424.30L664.88,434.00A80.46,80.46 0 0 0 664.69,433.95Z" fill="#F7B4B9" />
<path d="M668.93,424.68A90.54,90.54 0 0 1 670.35,425.12L667.29,434.73A80.46,80.46 0 0 0 666.04,434.34Z" fill="#F7B4B9" />
<path d="M672.54,425.85A90.54,90.54 0 0 1 673.93,426.34L670.48,435.81A80.46,80.46 0 0 0 669.24,435.37Z" fill="#F7B4B9" />
<path d="M675.40,426.89A90.54,90.54 0 0 1 676.77,427.43L673.00,436.78A80.46,80.46 0 0 0 671.78,436.30Z" fill="#F7B4B9" />
<path d="M677.74,427.83A90.54,90.54 0 0 1 678.59,428.19L674.62,437.46A80.46,80.46 0 0 0 673.86,437.14Z" fill="#F7B4B9" />
<path d="M679.54,428.60A90.54,90.54 0 0 1 679.88,428.76L675.76,437.96A80.46,80.46 0 0 0 675.46,437.82Z" fill="#F7B4B9" />
<path d="M681.41,429.46A90.54,90.54 0 0 1 681.74,429.61L677.42,438.72A80.46,80.46 0 0 0 677.12,438.58Z" fill="#F7B4B9" />
<path d="M683.17,430.31A90.54,90.54 0 0 1 684.49,430.98L679.86,439.93A80.46,80.46 0 0 0 678.69,439.34Z" fill="#F7B4B9" />
<path d="M686.05,431.80A90.54,90.54 0 0 1 686.24,431.91L681.42,440.76A80.46,80.46 0 0 0 681.25,440.66Z" fill="#F7B4B9" />
<path d="M656.83,432.00A80.61,80.61 0 0 1 663.34,433.42L660.78,443.17A70.53,70.53 0 0 0 655.09,441.93Z" fill="#2CBDB1" />
<path d="M663.27,433.41A80.61,80.61 0 0 1 681.67,440.73L676.82,449.56A70.53,70.53 0 0 0 660.72,443.16Z" fill="#AEB5DF" />
<path d="M664.84,433.83A80.61,80.61 0 0 1 666.27,434.25L663.35,443.90A70.53,70.53 0 0 0 662.09,443.53Z" fill="#2CBDB1" />
<path d="M667.69,434.70A80.61,80.61 0 0 1 668.05,434.81L664.90,444.39A70.53,70.53 0 0 0 664.59,444.29Z" fill="#2CBDB1" />
<path d="M670.48,435.65A80.61,80.61 0 0 1 671.35,435.98L667.79,445.41A70.53,70.53 0 0 0 667.03,445.13Z" fill="#2CBDB1" />
<path d="M673.72,436.91A80.61,80.61 0 0 1 674.58,437.28L670.62,446.54A70.53,70.53 0 0 0 669.86,446.23Z" fill="#2CBDB1" />
<path d="M675.40,437.63A80.61,80.61 0 0 1 676.25,438.01L672.08,447.19A70.53,70.53 0 0 0 671.34,446.86Z" fill="#2CBDB1" />
<path d="M677.27,438.48A80.61,80.61 0 0 1 678.11,438.89L673.71,447.95A70.53,70.53 0 0 0 672.97,447.60Z" fill="#2CBDB1" />
<path d="M678.61,439.13A80.61,80.61 0 0 1 679.45,439.55L674.88,448.53A70.53,70.53 0 0 0 674.15,448.17Z" fill="#2CBDB1" />
<path d="M655.11,441.78A70.68,70.68 0 0 1 676.90,449.43L672.05,458.27A60.60,60.60 0 0 0 653.37,451.71Z" fill="#F28C8D" />
<path d="M714.99,379.72A150.12,150.12 0 0 1 735.63,393.35L729.41,401.27A140.04,140.04 0 0 0 710.15,388.56Z" fill="#C5DF4A" />
<path d="M716.70,380.67A150.12,150.12 0 0 1 716.88,380.78L711.92,389.55A140.04,140.04 0 0 0 711.74,389.45Z" fill="#2CBDB1" />
<path d="M717.53,381.15A150.12,150.12 0 0 1 717.84,381.33L712.81,390.06A140.04,140.04 0 0 0 712.52,389.89Z" fill="#2CBDB1" />
<path d="M719.50,382.29A150.12,150.12 0 0 1 719.96,382.57L714.79,391.22A140.04,140.04 0 0 0 714.35,390.96Z" fill="#BDA4D9" />
<path d="M720.70,383.01A150.12,150.12 0 0 1 721.47,383.49L716.20,392.07A140.04,140.04 0 0 0 715.48,391.64Z" fill="#2CBDB1" />
<path d="M722.72,384.26A150.12,150.12 0 0 1 723.94,385.04L718.50,393.52A140.04,140.04 0 0 0 717.36,392.80Z" fill="#2CBDB1" />
<path d="M725.87,386.29A150.12,150.12 0 0 1 727.07,387.10L721.42,395.45A140.04,140.04 0 0 0 720.30,394.69Z" fill="#BDA4D9" />
<path d="M728.71,388.22A150.12,150.12 0 0 1 729.89,389.06L724.05,397.27A140.04,140.04 0 0 0 722.95,396.49Z" fill="#BDA4D9" />
<path d="M730.17,389.25A150.12,150.12 0 0 1 730.90,389.78L725.00,397.95A140.04,140.04 0 0 0 724.31,397.45Z" fill="#2CBDB1" />
<path d="M732.16,390.70A150.12,150.12 0 0 1 733.32,391.57L727.25,399.61A140.04,140.04 0 0 0 726.17,398.81Z" fill="#2CBDB1" />
<path d="M735.53,393.27A150.12,150.12 0 0 1 744.99,401.34L738.14,408.73A140.04,140.04 0 0 0 729.31,401.20Z" fill="#BDA4D9" />
<path d="M736.89,394.34A150.12,150.12 0 0 1 737.17,394.57L730.84,402.42A140.04,140.04 0 0 0 730.58,402.20Z" fill="#AEB5DF" />
<path d="M739.07,396.13A150.12,150.12 0 0 1 739.48,396.48L733.00,404.19A140.04,140.04 0 0 0 732.61,403.87Z" fill="#AEB5DF" />
<path d="M740.27,397.14A150.12,150.12 0 0 1 740.68,397.50L734.12,405.14A140.04,140.04 0 0 0 733.73,404.81Z" fill="#AEB5DF" />
<path d="M741.29,398.02A150.12,150.12 0 0 1 741.56,398.26L734.94,405.85A140.04,140.04 0 0 0 734.68,405.63Z" fill="#AEB5DF" />
<path d="M742.02,398.65A150.12,150.12 0 0 1 742.29,398.89L735.61,406.45A140.04,140.04 0 0 0 735.36,406.22Z" fill="#AEB5DF" />
<path d="M743.78,400.23A150.12,150.12 0 0 1 744.18,400.60L737.38,408.04A140.04,140.04 0 0 0 737.01,407.70Z" fill="#AEB5DF" />
<path d="M710.22,388.43A140.19,140.19 0 0 1 729.50,401.16L723.27,409.08A130.11,130.11 0 0 0 705.38,397.27Z" fill="#F9D027" />
<path d="M711.60,389.20A140.19,140.19 0 0 1 711.92,389.38L706.95,398.15A130.11,130.11 0 0 0 706.66,397.98Z" fill="#AEB5DF" />
<path d="M713.00,389.99A140.19,140.19 0 0 1 713.18,390.10L708.13,398.82A130.11,130.11 0 0 0 707.96,398.72Z" fill="#AEB5DF" />
<path d="M713.84,390.49A140.19,140.19 0 0 1 714.31,390.76L709.18,399.44A130.11,130.11 0 0 0 708.74,399.18Z" fill="#C5DF4A" />
<path d="M714.79,391.05A140.19,140.19 0 0 1 716.03,391.80L710.77,400.40A130.11,130.11 0 0 0 709.62,399.70Z" fill="#C5DF4A" />
<path d="M717.29,392.58A140.19,140.19 0 0 1 717.60,392.77L712.23,401.30A130.11,130.11 0 0 0 711.94,401.12Z" fill="#AEB5DF" />
<path d="M718.81,393.54A140.19,140.19 0 0 1 718.99,393.66L713.52,402.12A130.11,130.11 0 0 0 713.35,402.01Z" fill="#AEB5DF" />
<path d="M720.74,394.81A140.19,140.19 0 0 1 721.94,395.62L716.26,403.94A130.11,130.11 0 0 0 715.14,403.19Z" fill="#C5DF4A" />
<path d="M722.47,395.98A140.19,140.19 0 0 1 722.76,396.18L717.02,404.47A130.11,130.11 0 0 0 716.74,404.28Z" fill="#AEB5DF" />
<path d="M723.39,396.62A140.19,140.19 0 0 1 723.69,396.83L717.88,405.07A130.11,130.11 0 0 0 717.61,404.88Z" fill="#C5DF4A" />
<path d="M725.71,398.28A140.19,140.19 0 0 1 725.89,398.41L719.92,406.54A130.11,130.11 0 0 0 719.76,406.42Z" fill="#AEB5DF" />
<path d="M726.37,398.77A140.19,140.19 0 0 1 727.10,399.31L721.05,407.37A130.11,130.11 0 0 0 720.37,406.87Z" fill="#AEB5DF" />
<path d="M728.77,400.59A140.19,140.19 0 0 1 729.20,400.92L723.00,408.87A130.11,130.11 0 0 0 722.60,408.56Z" fill="#C5DF4A" />
<path d="M729.40,401.08A140.19,140.19 0 0 1 738.24,408.62L731.39,416.01A130.11,130.11 0 0 0 723.18,409.01Z" fill="#AEB5DF" />
<path d="M705.45,397.14A130.26,130.26 0 0 1 731.49,415.90L724.63,423.29A120.18,120.18 0 0 0 700.61,405.98Z" fill="#BDA4D9" />
<path d="M706.44,397.69A130.26,130.26 0 0 1 706.76,397.87L701.82,406.65A120.18,120.18 0 0 0 701.53,406.49Z" fill="#F7B4B9" />
<path d="M707.04,398.02A130.26,130.26 0 0 1 707.23,398.13L702.25,406.90A120.18,120.18 0 0 0 702.07,406.80Z" fill="#AEB5DF" />
<path d="M707.85,398.49A130.26,130.26 0 0 1 708.64,398.94L703.55,407.65A120.18,120.18 0 0 0 702.82,407.23Z" fill="#F7B4B9" />
<path d="M710.40,399.99A130.26,130.26 0 0 1 711.17,400.47L705.89,409.05A120.18,120.18 0 0 0 705.17,408.61Z" fill="#AEB5DF" />
<path d="M712.64,401.38A130.26,130.26 0 0 1 712.82,401.50L707.41,410.00A120.18,120.18 0 0 0 707.24,409.89Z" fill="#AEB5DF" />
<path d="M713.71,402.07A130.26,130.26 0 0 1 713.90,402.19L708.40,410.64A120.18,120.18 0 0 0 708.23,410.53Z" fill="#F7B4B9" />
<path d="M715.27,403.09A130.26,130.26 0 0 1 715.57,403.30L709.95,411.66A120.18,120.18 0 0 0 709.67,411.47Z" fill="#F7B4B9" />
<path d="M717.39,404.54A130.26,130.26 0 0 1 717.84,404.85L712.04,413.10A120.18,120.18 0 0 0 711.63,412.81Z" fill="#F7B4B9" />
<path d="M719.83,406.29A130.26,130.26 0 0 1 720.13,406.50L714.15,414.62A120.18,120.18 0 0 0 713.88,414.42Z" fill="#F7B4B9" />
<path d="M720.61,406.86A130.26,130.26 0 0 1 721.05,407.19L715.00,415.25A120.18,120.18 0 0 0 714.60,414.95Z" fill="#F7B4B9" />
<path d="M722.73,408.47A130.26,130.26 0 0 1 723.02,408.69L716.82,416.64A120.18,120.18 0 0 0 716.55,416.44Z" fill="#F7B4B9" />
<path d="M723.63,409.17A130.26,130.26 0 0 1 723.92,409.40L717.65,417.29A120.18,120.18 0 0 0 717.38,417.08Z" fill="#AEB5DF" />
<path d="M725.62,410.77A130.26,130.26 0 0 1 726.04,411.12L719.60,418.88A120.18,120.18 0 0 0 719.22,418.56Z" fill="#F7B4B9" />
<path d="M726.44,411.46A130.26,130.26 0 0 1 726.86,411.81L720.36,419.52A120.18,120.18 0 0 0 719.98,419.19Z" fill="#AEB5DF" />
<path d="M727.50,412.35A130.26,130.26 0 0 1 727.91,412.71L721.34,420.34A120.18,120.18 0 0 0 720.95,420.02Z" fill="#F7B4B9" />
<path d="M728.52,413.23A130.26,130.26 0 0 1 729.20,413.83L722.52,421.38A120.18,120.18 0 0 0 721.89,420.83Z" fill="#AEB5DF" />
<path d="M730.36,414.87A130.26,130.26 0 0 1 731.03,415.48L724.21,422.90A120.18,120.18 0 0 0 723.59,422.34Z" fill="#F7B4B9" />
<path d="M700.69,405.85A120.33,120.33 0 0 1 724.73,423.18L717.88,430.57A110.25,110.25 0 0 0 695.84,414.69Z" fill="#F7B4B9" />
<path d="M702.53,406.88A120.33,120.33 0 0 1 703.79,407.61L698.69,416.31A110.25,110.25 0 0 0 697.53,415.64Z" fill="#AEB5DF" />
<path d="M704.27,407.90A120.33,120.33 0 0 1 704.46,408.01L699.30,416.67A110.25,110.25 0 0 0 699.13,416.57Z" fill="#AEB5DF" />
<path d="M705.23,408.47A120.33,120.33 0 0 1 706.01,408.95L700.72,417.53A110.25,110.25 0 0 0 700.01,417.10Z" fill="#AEB5DF" />
<path d="M707.80,410.07A120.33,120.33 0 0 1 708.56,410.56L703.06,419.01A110.25,110.25 0 0 0 702.36,418.56Z" fill="#AEB5DF" />
<path d="M709.00,410.85A120.33,120.33 0 0 1 709.46,411.15L703.88,419.55A110.25,110.25 0 0 0 703.46,419.27Z" fill="#AEB5DF" />
<path d="M711.49,412.53A120.33,120.33 0 0 1 712.68,413.37L706.83,421.58A110.25,110.25 0 0 0 705.74,420.81Z" fill="#AEB5DF" />
<path d="M714.78,414.90A120.33,120.33 0 0 1 715.95,415.78L709.83,423.79A110.25,110.25 0 0 0 708.76,422.98Z" fill="#AEB5DF" />
<path d="M717.38,416.89A120.33,120.33 0 0 1 717.55,417.02L711.30,424.93A110.25,110.25 0 0 0 711.14,424.81Z" fill="#AEB5DF" />
<path d="M718.50,417.78A120.33,120.33 0 0 1 718.78,418.01L712.42,425.83A110.25,110.25 0 0 0 712.16,425.62Z" fill="#AEB5DF" />
<path d="M719.87,418.91A120.33,120.33 0 0 1 720.15,419.14L713.68,426.87A110.25,110.25 0 0 0 713.43,426.66Z" fill="#AEB5DF" />
<path d="M721.36,420.17A120.33,120.33 0 0 1 722.46,421.13L715.80,428.69A110.25,110.25 0 0 0 714.79,427.81Z" fill="#AEB5DF" />
<path d="M723.44,422.00A120.33,120.33 0 0 1 724.12,422.61L717.31,430.05A110.25,110.25 0 0 0 716.70,429.49Z" fill="#AEB5DF" />
<path d="M695.92,414.56A110.40,110.40 0 0 1 717.98,430.46L711.13,437.85A100.32,100.32 0 0 0 691.08,423.40Z" fill="#C5DF4A" />
<path d="M697.42,415.40A110.40,110.40 0 0 1 697.90,415.68L692.88,424.42A100.32,100.32 0 0 0 692.44,424.17Z" fill="#2CBDB1" />
<path d="M699.15,416.41A110.40,110.40 0 0 1 699.62,416.69L694.44,425.33A100.32,100.32 0 0 0 694.01,425.08Z" fill="#2CBDB1" />
<path d="M701.23,417.67A110.40,110.40 0 0 1 701.69,417.96L696.33,426.49A100.32,100.32 0 0 0 695.90,426.23Z" fill="#F7B4B9" />
<path d="M701.97,418.13A110.40,110.40 0 0 1 702.28,418.33L696.85,426.82A100.32,100.32 0 0 0 696.57,426.65Z" fill="#F7B4B9" />
<path d="M703.79,419.31A110.40,110.40 0 0 1 704.55,419.82L698.92,428.18A100.32,100.32 0 0 0 698.23,427.72Z" fill="#2CBDB1" />
<path d="M704.90,420.05A110.40,110.40 0 0 1 705.35,420.36L699.65,428.67A100.32,100.32 0 0 0 699.24,428.39Z" fill="#2CBDB1" />
<path d="M705.69,420.59A110.40,110.40 0 0 1 706.14,420.91L700.36,429.17A100.32,100.32 0 0 0 699.95,428.88Z" fill="#F7B4B9" />
<path d="M707.93,422.19A110.40,110.40 0 0 1 708.23,422.40L702.26,430.53A100.32,100.32 0 0 0 701.99,430.33Z" fill="#2CBDB1" />
<path d="M709.84,423.61A110.40,110.40 0 0 1 710.28,423.94L704.13,431.93A100.32,100.32 0 0 0 703.73,431.63Z" fill="#F7B4B9" />
<path d="M710.59,424.19A110.40,110.40 0 0 1 710.77,424.32L704.57,432.27A100.32,100.32 0 0 0 704.41,432.15Z" fill="#2CBDB1" />
<path d="M711.26,424.71A110.40,110.40 0 0 1 711.55,424.94L705.28,432.84A100.32,100.32 0 0 0 705.02,432.63Z" fill="#F7B4B9" />
<path d="M711.87,425.20A110.40,110.40 0 0 1 712.58,425.77L706.22,433.59A100.32,100.32 0 0 0 705.57,433.07Z" fill="#2CBDB1" />
<path d="M713.03,426.13A110.40,110.40 0 0 1 713.20,426.27L706.78,434.05A100.32,100.32 0 0 0 706.62,433.92Z" fill="#2CBDB1" />
<path d="M714.39,427.27A110.40,110.40 0 0 1 714.56,427.41L708.01,435.08A100.32,100.32 0 0 0 707.86,434.95Z" fill="#2CBDB1" />
<path d="M715.58,428.30A110.40,110.40 0 0 1 716.27,428.90L709.57,436.44A100.32,100.32 0 0 0 708.94,435.89Z" fill="#2CBDB1" />
<path d="M691.15,423.27A100.47,100.47 0 0 1 711.23,437.74L704.37,445.13A90.39,90.39 0 0 0 686.31,432.11Z" fill="#AEB5DF" />
<path d="M692.84,424.22A100.47,100.47 0 0 1 693.31,424.49L688.26,433.21A90.39,90.39 0 0 0 687.83,432.97Z" fill="#2CBDB1" />
<path d="M695.54,425.82A100.47,100.47 0 0 1 695.85,426.02L690.54,434.58A90.39,90.39 0 0 0 690.26,434.41Z" fill="#2CBDB1" />
<path d="M697.08,426.79A100.47,100.47 0 0 1 698.31,427.59L692.75,436.00A90.39,90.39 0 0 0 691.64,435.28Z" fill="#2CBDB1" />
<path d="M700.12,428.81A100.47,100.47 0 0 1 701.32,429.66L695.46,437.86A90.39,90.39 0 0 0 694.38,437.10Z" fill="#2CBDB1" />
<path d="M702.09,430.22A100.47,100.47 0 0 1 703.28,431.09L697.22,439.15A90.39,90.39 0 0 0 696.16,438.36Z" fill="#2CBDB1" />
<path d="M704.72,432.20A100.47,100.47 0 0 1 705.01,432.43L698.78,440.35A90.39,90.39 0 0 0 698.52,440.15Z" fill="#2CBDB1" />
<path d="M707.02,434.05A100.47,100.47 0 0 1 708.15,435.00L701.60,442.66A90.39,90.39 0 0 0 700.59,441.81Z" fill="#2CBDB1" />
<path d="M709.96,436.59A100.47,100.47 0 0 1 710.13,436.73L703.38,444.23A90.39,90.39 0 0 0 703.23,444.09Z" fill="#2CBDB1" />
<path d="M710.36,436.94A100.47,100.47 0 0 1 710.77,437.32L703.96,444.75A90.39,90.39 0 0 0 703.59,444.41Z" fill="#2CBDB1" />
<path d="M686.38,431.98A90.54,90.54 0 0 1 704.47,445.02L697.62,452.41A80.46,80.46 0 0 0 681.54,440.82Z" fill="#C5DF4A" />
<path d="M686.85,432.24A90.54,90.54 0 0 1 688.14,432.97L683.10,441.70A80.46,80.46 0 0 0 681.96,441.06Z" fill="#2CBDB1" />
<path d="M688.54,433.21A90.54,90.54 0 0 1 688.74,433.32L683.63,442.01A80.46,80.46 0 0 0 683.46,441.91Z" fill="#2CBDB1" />
<path d="M690.13,434.16A90.54,90.54 0 0 1 690.61,434.45L685.29,443.01A80.46,80.46 0 0 0 684.87,442.76Z" fill="#2CBDB1" />
<path d="M691.83,435.22A90.54,90.54 0 0 1 692.15,435.42L686.66,443.88A80.46,80.46 0 0 0 686.39,443.70Z" fill="#2CBDB1" />
<path d="M693.09,436.04A90.54,90.54 0 0 1 693.39,436.25L687.77,444.61A80.46,80.46 0 0 0 687.50,444.43Z" fill="#2CBDB1" />
<path d="M695.24,437.52A90.54,90.54 0 0 1 695.99,438.06L690.08,446.22A80.46,80.46 0 0 0 689.41,445.74Z" fill="#2CBDB1" />
<path d="M697.09,438.87A90.54,90.54 0 0 1 697.54,439.20L691.45,447.24A80.46,80.46 0 0 0 691.06,446.94Z" fill="#2CBDB1" />
<path d="M699.32,440.59A90.54,90.54 0 0 1 699.75,440.93L693.42,448.78A80.46,80.46 0 0 0 693.04,448.47Z" fill="#2CBDB1" />
<path d="M701.20,442.13A90.54,90.54 0 0 1 702.33,443.09L695.71,450.70A80.46,80.46 0 0 0 694.71,449.84Z" fill="#2CBDB1" />
<path d="M703.07,443.75A90.54,90.54 0 0 1 703.35,444.00L696.62,451.50A80.46,80.46 0 0 0 696.38,451.28Z" fill="#2CBDB1" />
<path d="M681.61,440.69A80.61,80.61 0 0 1 697.72,452.30L690.87,459.69A70.53,70.53 0 0 0 676.77,449.53Z" fill="#AEB5DF" />
<path d="M676.84,449.40A70.68,70.68 0 0 1 690.97,459.58L684.11,466.97A60.60,60.60 0 0 0 672.00,458.24Z" fill="#F7B4B9" />
<path d="M744.90,401.25A150.12,150.12 0 0 1 770.55,432.40L761.98,437.71A140.04,140.04 0 0 0 738.05,408.65Z" fill="#BDA4D9" />
<path d="M745.27,401.60A150.12,150.12 0 0 1 745.67,401.97L738.77,409.32A140.04,140.04 0 0 0 738.40,408.98Z" fill="#AEB5DF" />
<path d="M746.81,403.06A150.12,150.12 0 0 1 747.46,403.68L740.44,410.92A140.04,140.04 0 0 0 739.83,410.33Z" fill="#AEB5DF" />
<path d="M749.04,405.24A150.12,150.12 0 0 1 749.68,405.88L742.51,412.97A140.04,140.04 0 0 0 741.92,412.37Z" fill="#AEB5DF" />
<path d="M751.24,407.48A150.12,150.12 0 0 1 751.39,407.64L744.11,414.61A140.04,140.04 0 0 0 743.97,414.46Z" fill="#AEB5DF" />
<path d="M752.09,408.38A150.12,150.12 0 0 1 753.08,409.44L745.68,416.28A140.04,140.04 0 0 0 744.76,415.30Z" fill="#AEB5DF" />
<path d="M754.38,410.86A150.12,150.12 0 0 1 754.99,411.54L747.46,418.24A140.04,140.04 0 0 0 746.90,417.61Z" fill="#AEB5DF" />
<path d="M755.62,412.25A150.12,150.12 0 0 1 755.86,412.52L748.27,419.16A140.04,140.04 0 0 0 748.05,418.91Z" fill="#AEB5DF" />
<path d="M756.60,413.38A150.12,150.12 0 0 1 756.95,413.79L749.30,420.34A140.04,140.04 0 0 0 748.97,419.96Z" fill="#AEB5DF" />
<path d="M758.52,415.65A150.12,150.12 0 0 1 758.87,416.07L751.08,422.47A140.04,140.04 0 0 0 750.76,422.08Z" fill="#AEB5DF" />
<path d="M759.90,417.34A150.12,150.12 0 0 1 760.24,417.76L752.36,424.05A140.04,140.04 0 0 0 752.04,423.65Z" fill="#AEB5DF" />
<path d="M761.19,418.97A150.12,150.12 0 0 1 761.53,419.40L753.56,425.58A140.04,140.04 0 0 0 753.25,425.18Z" fill="#AEB5DF" />
<path d="M762.16,420.22A150.12,150.12 0 0 1 762.71,420.94L754.66,427.02A140.04,140.04 0 0 0 754.15,426.34Z" fill="#AEB5DF" />
<path d="M763.00,421.33A150.12,150.12 0 0 1 763.32,421.76L755.24,427.78A140.04,140.04 0 0 0 754.93,427.38Z" fill="#AEB5DF" />
<path d="M764.00,422.69A150.12,150.12 0 0 1 764.53,423.42L756.37,429.32A140.04,140.04 0 0 0 755.87,428.64Z" fill="#AEB5DF" />
<path d="M765.79,425.18A150.12,150.12 0 0 1 766.62,426.37L758.31,432.08A140.04,140.04 0 0 0 757.54,430.97Z" fill="#AEB5DF" />
<path d="M767.84,428.17A150.12,150.12 0 0 1 768.63,429.38L760.19,434.89A140.04,140.04 0 0 0 759.45,433.76Z" fill="#AEB5DF" />
<path d="M738.15,408.54A140.19,140.19 0 0 1 755.03,427.26L746.97,433.31A130.11,130.11 0 0 0 731.30,415.93Z" fill="#AEB5DF" />
<path d="M754.96,427.16A140.19,140.19 0 0 1 762.11,437.63L753.54,442.93A130.11,130.11 0 0 0 746.90,433.22Z" fill="#2CBDB1" />
<path d="M755.38,427.73A140.19,140.19 0 0 1 755.51,427.90L747.41,433.91A130.11,130.11 0 0 0 747.29,433.74Z" fill="#BDA4D9" />
<path d="M756.91,429.83A140.19,140.19 0 0 1 757.23,430.27L749.01,436.10A130.11,130.11 0 0 0 748.71,435.69Z" fill="#AEB5DF" />
<path d="M757.70,430.93A140.19,140.19 0 0 1 757.82,431.11L749.56,436.88A130.11,130.11 0 0 0 749.44,436.72Z" fill="#AEB5DF" />
<path d="M758.75,432.45A140.19,140.19 0 0 1 758.87,432.63L750.53,438.30A130.11,130.11 0 0 0 750.42,438.13Z" fill="#BDA4D9" />
<path d="M759.12,433.00A140.19,140.19 0 0 1 759.92,434.20L751.51,439.75A130.11,130.11 0 0 0 750.76,438.63Z" fill="#BDA4D9" />
<path d="M761.10,436.01A140.19,140.19 0 0 1 761.21,436.20L752.71,441.60A130.11,130.11 0 0 0 752.60,441.43Z" fill="#BDA4D9" />
<path d="M761.47,436.60A140.19,140.19 0 0 1 761.58,436.79L753.05,442.15A130.11,130.11 0 0 0 752.94,441.98Z" fill="#BDA4D9" />
<path d="M761.84,437.20A140.19,140.19 0 0 1 762.03,437.51L753.47,442.82A130.11,130.11 0 0 0 753.29,442.53Z" fill="#AEB5DF" />
<path d="M731.40,415.82A130.26,130.26 0 0 1 753.67,442.86L745.10,448.16A120.18,120.18 0 0 0 724.56,423.22Z" fill="#AEB5DF" />
<path d="M724.66,423.11A120.33,120.33 0 0 1 745.22,448.08L736.65,453.38A110.25,110.25 0 0 0 717.81,430.51Z" fill="#F7B4B9" />
<path d="M725.30,423.71A120.33,120.33 0 0 1 725.56,423.96L718.64,431.28A110.25,110.25 0 0 0 718.39,431.05Z" fill="#AEB5DF" />
<path d="M727.09,425.43A120.33,120.33 0 0 1 728.12,426.45L720.98,433.57A110.25,110.25 0 0 0 720.04,432.63Z" fill="#AEB5DF" />
<path d="M729.60,427.96A120.33,120.33 0 0 1 730.23,428.62L722.92,435.56A110.25,110.25 0 0 0 722.34,434.95Z" fill="#AEB5DF" />
<path d="M730.98,429.42A120.33,120.33 0 0 1 731.36,429.82L723.95,436.66A110.25,110.25 0 0 0 723.61,436.29Z" fill="#BDA4D9" />
<path d="M732.34,430.91A120.33,120.33 0 0 1 733.31,432.00L725.74,438.65A110.25,110.25 0 0 0 724.85,437.65Z" fill="#BDA4D9" />
<path d="M734.61,433.50A120.33,120.33 0 0 1 734.75,433.66L727.06,440.18A110.25,110.25 0 0 0 726.93,440.02Z" fill="#AEB5DF" />
<path d="M736.09,435.28A120.33,120.33 0 0 1 736.44,435.70L728.60,442.04A110.25,110.25 0 0 0 728.28,441.65Z" fill="#BDA4D9" />
<path d="M737.81,437.44A120.33,120.33 0 0 1 737.95,437.61L729.99,443.79A110.25,110.25 0 0 0 729.86,443.63Z" fill="#AEB5DF" />
<path d="M739.51,439.66A120.33,120.33 0 0 1 739.64,439.84L731.53,445.83A110.25,110.25 0 0 0 731.41,445.67Z" fill="#AEB5DF" />
<path d="M740.81,441.44A120.33,120.33 0 0 1 740.93,441.62L732.72,447.47A110.25,110.25 0 0 0 732.60,447.30Z" fill="#AEB5DF" />
<path d="M742.36,443.67A120.33,120.33 0 0 1 742.56,443.97L734.22,449.62A110.25,110.25 0 0 0 734.03,449.35Z" fill="#BDA4D9" />
<path d="M743.70,445.69A120.33,120.33 0 0 1 744.20,446.45L735.71,451.90A110.25,110.25 0 0 0 735.26,451.19Z" fill="#BDA4D9" />
<path d="M717.91,430.40A110.40,110.40 0 0 1 736.78,453.31L728.21,458.61A100.32,100.32 0 0 0 711.06,437.79Z" fill="#C5DF4A" />
<path d="M711.16,437.68A100.47,100.47 0 0 1 728.33,458.53L719.76,463.84A90.39,90.39 0 0 0 704.31,445.08Z" fill="#AEB5DF" />
<path d="M704.42,444.97A90.54,90.54 0 0 1 719.89,463.76L711.32,469.06A80.46,80.46 0 0 0 697.57,452.36Z" fill="#C5DF4A" />
<path d="M697.67,452.25A80.61,80.61 0 0 1 711.45,468.98L702.88,474.29A70.53,70.53 0 0 0 690.82,459.65Z" fill="#AEB5DF" />
<path d="M690.92,459.54A70.68,70.68 0 0 1 703.00,474.21L694.43,479.51A60.60,60.60 0 0 0 684.07,466.94Z" fill="#AEB5DF" />
<path d="M770.49,432.29A150.12,150.12 0 0 1 788.34,474.19L778.57,476.69A140.04,140.04 0 0 0 761.92,437.61Z" fill="#BDA4D9" />
<path d="M771.16,433.39A150.12,150.12 0 0 1 771.44,433.86L762.81,439.06A140.04,140.04 0 0 0 762.55,438.63Z" fill="#AEB5DF" />
<path d="M772.76,436.08A150.12,150.12 0 0 1 772.87,436.27L764.14,441.31A140.04,140.04 0 0 0 764.04,441.14Z" fill="#AEB5DF" />
<path d="M773.37,437.15A150.12,150.12 0 0 1 773.48,437.34L764.71,442.31A140.04,140.04 0 0 0 764.61,442.14Z" fill="#AEB5DF" />
<path d="M774.37,438.93A150.12,150.12 0 0 1 774.54,439.25L765.70,444.09A140.04,140.04 0 0 0 765.54,443.80Z" fill="#AEB5DF" />
<path d="M775.53,441.07A150.12,150.12 0 0 1 775.63,441.26L766.72,445.97A140.04,140.04 0 0 0 766.62,445.79Z" fill="#AEB5DF" />
<path d="M776.75,443.43A150.12,150.12 0 0 1 776.85,443.62L767.85,448.17A140.04,140.04 0 0 0 767.76,447.99Z" fill="#AEB5DF" />
<path d="M777.09,444.11A150.12,150.12 0 0 1 777.25,444.43L768.23,448.93A140.04,140.04 0 0 0 768.08,448.62Z" fill="#AEB5DF" />
<path d="M777.61,445.15A150.12,150.12 0 0 1 777.77,445.47L768.71,449.90A140.04,140.04 0 0 0 768.56,449.59Z" fill="#AEB5DF" />
<path d="M778.50,447.00A150.12,150.12 0 0 1 778.66,447.32L769.54,451.63A140.04,140.04 0 0 0 769.40,451.32Z" fill="#AEB5DF" />
<path d="M778.97,447.98A150.12,150.12 0 0 1 779.19,448.47L770.04,452.70A140.04,140.04 0 0 0 769.83,452.24Z" fill="#AEB5DF" />
<path d="M779.48,449.10A150.12,150.12 0 0 1 779.71,449.60L770.52,453.74A140.04,140.04 0 0 0 770.31,453.28Z" fill="#AEB5DF" />
<path d="M780.64,451.71A150.12,150.12 0 0 1 781.00,452.54L771.73,456.49A140.04,140.04 0 0 0 771.39,455.71Z" fill="#AEB5DF" />
<path d="M781.94,454.80A150.12,150.12 0 0 1 782.14,455.30L772.79,459.07A140.04,140.04 0 0 0 772.61,458.60Z" fill="#AEB5DF" />
<path d="M782.67,456.63A150.12,150.12 0 0 1 782.80,456.97L773.41,460.62A140.04,140.04 0 0 0 773.29,460.31Z" fill="#AEB5DF" />
<path d="M782.95,457.34A150.12,150.12 0 0 1 783.08,457.68L773.67,461.29A140.04,140.04 0 0 0 773.55,460.97Z" fill="#AEB5DF" />
<path d="M783.99,460.11A150.12,150.12 0 0 1 784.48,461.48L774.97,464.83A140.04,140.04 0 0 0 774.51,463.56Z" fill="#AEB5DF" />
<path d="M785.18,463.51A150.12,150.12 0 0 1 785.25,463.72L775.69,466.92A140.04,140.04 0 0 0 775.62,466.73Z" fill="#AEB5DF" />
<path d="M785.99,466.00A150.12,150.12 0 0 1 786.26,466.86L776.63,469.85A140.04,140.04 0 0 0 776.38,469.05Z" fill="#AEB5DF" />
<path d="M786.66,468.15A150.12,150.12 0 0 1 786.76,468.50L777.10,471.38A140.04,140.04 0 0 0 777.00,471.06Z" fill="#AEB5DF" />
<path d="M787.24,470.15A150.12,150.12 0 0 1 787.34,470.50L777.64,473.25A140.04,140.04 0 0 0 777.55,472.92Z" fill="#AEB5DF" />
<path d="M787.52,471.13A150.12,150.12 0 0 1 787.66,471.65L777.94,474.32A140.04,140.04 0 0 0 777.81,473.84Z" fill="#AEB5DF" />
<path d="M787.90,472.52A150.12,150.12 0 0 1 788.27,473.92L778.51,476.44A140.04,140.04 0 0 0 778.16,475.13Z" fill="#AEB5DF" />
<path d="M762.05,437.53A140.19,140.19 0 0 1 778.72,476.65L768.95,479.15A130.11,130.11 0 0 0 753.48,442.84Z" fill="#F7B4B9" />
<path d="M762.53,438.31A140.19,140.19 0 0 1 763.28,439.55L754.62,444.72A130.11,130.11 0 0 0 753.93,443.56Z" fill="#BDA4D9" />
<path d="M763.61,440.10A140.19,140.19 0 0 1 763.79,440.41L755.10,445.52A130.11,130.11 0 0 0 754.93,445.23Z" fill="#BDA4D9" />
<path d="M764.18,441.08A140.19,140.19 0 0 1 764.36,441.39L755.63,446.43A130.11,130.11 0 0 0 755.46,446.14Z" fill="#BDA4D9" />
<path d="M764.60,441.81A140.19,140.19 0 0 1 764.87,442.28L756.10,447.25A130.11,130.11 0 0 0 755.85,446.82Z" fill="#BDA4D9" />
<path d="M766.03,444.38A140.19,140.19 0 0 1 766.46,445.18L757.58,449.94A130.11,130.11 0 0 0 757.18,449.20Z" fill="#BDA4D9" />
<path d="M767.65,447.44A140.19,140.19 0 0 1 768.31,448.74L759.29,453.24A130.11,130.11 0 0 0 758.68,452.04Z" fill="#AEB5DF" />
<path d="M768.45,449.03A140.19,140.19 0 0 1 768.61,449.36L759.57,453.82A130.11,130.11 0 0 0 759.43,453.52Z" fill="#AEB5DF" />
<path d="M768.94,450.03A140.19,140.19 0 0 1 769.04,450.22L759.97,454.62A130.11,130.11 0 0 0 759.88,454.44Z" fill="#AEB5DF" />
<path d="M769.38,450.92A140.19,140.19 0 0 1 769.99,452.24L760.86,456.49A130.11,130.11 0 0 0 760.28,455.27Z" fill="#AEB5DF" />
<path d="M770.63,453.63A140.19,140.19 0 0 1 770.78,453.96L761.59,458.09A130.11,130.11 0 0 0 761.45,457.78Z" fill="#AEB5DF" />
<path d="M771.20,454.91A140.19,140.19 0 0 1 771.57,455.74L762.31,459.74A130.11,130.11 0 0 0 761.98,458.97Z" fill="#BDA4D9" />
<path d="M772.20,457.22A140.19,140.19 0 0 1 772.54,458.05L763.22,461.89A130.11,130.11 0 0 0 762.90,461.11Z" fill="#BDA4D9" />
<path d="M772.97,459.11A140.19,140.19 0 0 1 773.11,459.45L763.75,463.18A130.11,130.11 0 0 0 763.62,462.87Z" fill="#BDA4D9" />
<path d="M773.79,461.19A140.19,140.19 0 0 1 774.11,462.04L764.68,465.59A130.11,130.11 0 0 0 764.38,464.80Z" fill="#BDA4D9" />
<path d="M774.75,463.76A140.19,140.19 0 0 1 774.82,463.97L765.34,467.38A130.11,130.11 0 0 0 765.27,467.19Z" fill="#AEB5DF" />
<path d="M775.48,465.83A140.19,140.19 0 0 1 775.77,466.69L766.22,469.91A130.11,130.11 0 0 0 765.95,469.11Z" fill="#BDA4D9" />
<path d="M776.08,467.62A140.19,140.19 0 0 1 776.15,467.83L766.57,470.96A130.11,130.11 0 0 0 766.50,470.77Z" fill="#AEB5DF" />
<path d="M776.79,469.85A140.19,140.19 0 0 1 776.90,470.20L767.26,473.16A130.11,130.11 0 0 0 767.16,472.84Z" fill="#BDA4D9" />
<path d="M777.18,471.13A140.19,140.19 0 0 1 777.44,472.00L767.77,474.83A130.11,130.11 0 0 0 767.53,474.03Z" fill="#AEB5DF" />
<path d="M778.13,474.46A140.19,140.19 0 0 1 778.37,475.33L768.63,477.92A130.11,130.11 0 0 0 768.41,477.11Z" fill="#BDA4D9" />
<path d="M753.61,442.76A130.26,130.26 0 0 1 762.76,460.40L753.49,464.35A120.18,120.18 0 0 0 745.04,448.07Z" fill="#2CBDB1" />
<path d="M754.23,443.77A130.26,130.26 0 0 1 754.34,443.95L745.72,449.17A120.18,120.18 0 0 0 745.61,449.00Z" fill="#F7B4B9" />
<path d="M754.87,444.83A130.26,130.26 0 0 1 755.14,445.30L746.46,450.42A120.18,120.18 0 0 0 746.20,449.98Z" fill="#F7B4B9" />
<path d="M756.15,447.04A130.26,130.26 0 0 1 756.42,447.52L747.64,452.46A120.18,120.18 0 0 0 747.39,452.02Z" fill="#F7B4B9" />
<path d="M757.51,449.49A130.26,130.26 0 0 1 757.61,449.69L748.74,454.46A120.18,120.18 0 0 0 748.64,454.29Z" fill="#BDA4D9" />
<path d="M757.91,450.24A130.26,130.26 0 0 1 758.01,450.43L749.10,455.15A120.18,120.18 0 0 0 749.01,454.97Z" fill="#BDA4D9" />
<path d="M758.89,452.11A130.26,130.26 0 0 1 759.05,452.44L750.06,457.00A120.18,120.18 0 0 0 749.91,456.70Z" fill="#BDA4D9" />
<path d="M759.39,453.11A130.26,130.26 0 0 1 759.49,453.30L750.46,457.80A120.18,120.18 0 0 0 750.37,457.62Z" fill="#F7B4B9" />
<path d="M760.23,454.83A130.26,130.26 0 0 1 760.33,455.02L751.24,459.39A120.18,120.18 0 0 0 751.15,459.20Z" fill="#BDA4D9" />
<path d="M760.68,455.77A130.26,130.26 0 0 1 760.84,456.10L751.71,460.38A120.18,120.18 0 0 0 751.57,460.07Z" fill="#BDA4D9" />
<path d="M761.39,457.30A130.26,130.26 0 0 1 761.48,457.49L752.31,461.67A120.18,120.18 0 0 0 752.22,461.48Z" fill="#F7B4B9" />
<path d="M762.72,460.29A130.26,130.26 0 0 1 769.10,479.12L759.33,481.61A120.18,120.18 0 0 0 753.44,464.25Z" fill="#AEB5DF" />
<path d="M763.67,462.60A130.26,130.26 0 0 1 763.81,462.94L754.45,466.69A120.18,120.18 0 0 0 754.33,466.38Z" fill="#2CBDB1" />
<path d="M764.58,464.91A130.26,130.26 0 0 1 764.90,465.76L755.46,469.29A120.18,120.18 0 0 0 755.16,468.50Z" fill="#2CBDB1" />
<path d="M765.27,466.76A130.26,130.26 0 0 1 765.58,467.62L756.09,471.01A120.18,120.18 0 0 0 755.80,470.22Z" fill="#2CBDB1" />
<path d="M766.25,469.53A130.26,130.26 0 0 1 766.71,470.91L757.13,474.04A120.18,120.18 0 0 0 756.70,472.77Z" fill="#2CBDB1" />
<path d="M767.50,473.41A130.26,130.26 0 0 1 767.60,473.76L757.95,476.67A120.18,120.18 0 0 0 757.86,476.35Z" fill="#2CBDB1" />
<path d="M767.86,474.63A130.26,130.26 0 0 1 767.96,474.98L758.29,477.80A120.18,120.18 0 0 0 758.19,477.47Z" fill="#2CBDB1" />
<path d="M768.24,475.95A130.26,130.26 0 0 1 768.49,476.83L758.77,479.51A120.18,120.18 0 0 0 758.55,478.70Z" fill="#2CBDB1" />
<path d="M768.91,478.39A130.26,130.26 0 0 1 769.00,478.74L759.24,481.27A120.18,120.18 0 0 0 759.16,480.94Z" fill="#2CBDB1" />
<path d="M745.17,447.99A120.33,120.33 0 0 1 759.48,481.58L749.71,484.08A110.25,110.25 0 0 0 736.60,453.30Z" fill="#F7B4B9" />
<path d="M746.08,449.49A120.33,120.33 0 0 1 746.27,449.80L737.61,454.96A110.25,110.25 0 0 0 737.44,454.67Z" fill="#AEB5DF" />
<path d="M747.34,451.63A120.33,120.33 0 0 1 747.61,452.10L738.84,457.07A110.25,110.25 0 0 0 738.59,456.64Z" fill="#AEB5DF" />
<path d="M748.16,453.09A120.33,120.33 0 0 1 748.86,454.37L739.98,459.15A110.25,110.25 0 0 0 739.34,457.98Z" fill="#AEB5DF" />
<path d="M749.63,455.84A120.33,120.33 0 0 1 749.80,456.16L740.85,460.79A110.25,110.25 0 0 0 740.69,460.49Z" fill="#AEB5DF" />
<path d="M750.55,457.63A120.33,120.33 0 0 1 750.64,457.82L741.62,462.31A110.25,110.25 0 0 0 741.53,462.13Z" fill="#AEB5DF" />
<path d="M751.58,459.75A120.33,120.33 0 0 1 751.74,460.08L742.62,464.38A110.25,110.25 0 0 0 742.48,464.08Z" fill="#AEB5DF" />
<path d="M752.34,461.38A120.33,120.33 0 0 1 752.72,462.21L743.52,466.33A110.25,110.25 0 0 0 743.17,465.57Z" fill="#AEB5DF" />
<path d="M753.15,463.19A120.33,120.33 0 0 1 753.37,463.69L744.12,467.69A110.25,110.25 0 0 0 743.92,467.23Z" fill="#AEB5DF" />
<path d="M753.92,464.98A120.33,120.33 0 0 1 754.00,465.18L744.69,469.05A110.25,110.25 0 0 0 744.62,468.87Z" fill="#AEB5DF" />
<path d="M754.98,467.61A120.33,120.33 0 0 1 755.11,467.95L745.71,471.59A110.25,110.25 0 0 0 745.59,471.28Z" fill="#AEB5DF" />
<path d="M755.97,470.24A120.33,120.33 0 0 1 756.46,471.61L746.95,474.95A110.25,110.25 0 0 0 746.50,473.69Z" fill="#AEB5DF" />
<path d="M756.99,473.15A120.33,120.33 0 0 1 757.16,473.67L747.59,476.83A110.25,110.25 0 0 0 747.43,476.36Z" fill="#AEB5DF" />
<path d="M757.91,476.02A120.33,120.33 0 0 1 758.07,476.54L748.42,479.46A110.25,110.25 0 0 0 748.28,478.98Z" fill="#AEB5DF" />
<path d="M758.24,477.10A120.33,120.33 0 0 1 758.30,477.31L748.63,480.16A110.25,110.25 0 0 0 748.58,479.97Z" fill="#AEB5DF" />
<path d="M758.83,479.16A120.33,120.33 0 0 1 758.98,479.69L749.25,482.34A110.25,110.25 0 0 0 749.12,481.86Z" fill="#AEB5DF" />
<path d="M736.73,453.22A110.40,110.40 0 0 1 749.86,484.04L740.09,486.54A100.32,100.32 0 0 0 728.16,458.54Z" fill="#C5DF4A" />
<path d="M737.91,455.18A110.40,110.40 0 0 1 738.10,455.49L729.41,460.60A100.32,100.32 0 0 0 729.24,460.31Z" fill="#F7B4B9" />
<path d="M738.79,456.69A110.40,110.40 0 0 1 739.24,457.48L730.44,462.41A100.32,100.32 0 0 0 730.03,461.68Z" fill="#F7B4B9" />
<path d="M740.28,459.39A110.40,110.40 0 0 1 740.45,459.71L731.54,464.43A100.32,100.32 0 0 0 731.39,464.13Z" fill="#F9D027" />
<path d="M741.42,461.58A110.40,110.40 0 0 1 741.83,462.40L732.80,466.87A100.32,100.32 0 0 0 732.42,466.13Z" fill="#F7B4B9" />
<path d="M742.12,463.00A110.40,110.40 0 0 1 742.52,463.82L733.43,468.16A100.32,100.32 0 0 0 733.06,467.42Z" fill="#F9D027" />
<path d="M742.68,464.15A110.40,110.40 0 0 1 743.30,465.48L734.13,469.67A100.32,100.32 0 0 0 733.57,468.47Z" fill="#F9D027" />
<path d="M743.53,466.00A110.40,110.40 0 0 1 743.91,466.84L734.68,470.91A100.32,100.32 0 0 0 734.35,470.15Z" fill="#F7B4B9" />
<path d="M744.34,467.84A110.40,110.40 0 0 1 744.49,468.18L735.21,472.12A100.32,100.32 0 0 0 735.08,471.82Z" fill="#F9D027" />
<path d="M744.83,468.98A110.40,110.40 0 0 1 745.04,469.49L735.71,473.32A100.32,100.32 0 0 0 735.52,472.86Z" fill="#F7B4B9" />
<path d="M745.72,471.19A110.40,110.40 0 0 1 745.80,471.39L736.40,475.05A100.32,100.32 0 0 0 736.33,474.86Z" fill="#F7B4B9" />
<path d="M746.25,472.57A110.40,110.40 0 0 1 746.56,473.43L737.10,476.89A100.32,100.32 0 0 0 736.81,476.11Z" fill="#F7B4B9" />
<path d="M747.04,474.76A110.40,110.40 0 0 1 747.34,475.62L737.81,478.89A100.32,100.32 0 0 0 737.53,478.11Z" fill="#F9D027" />
<path d="M748.00,477.61A110.40,110.40 0 0 1 748.28,478.48L738.66,481.49A100.32,100.32 0 0 0 738.41,480.70Z" fill="#F9D027" />
<path d="M748.94,480.69A110.40,110.40 0 0 1 749.19,481.57L739.49,484.29A100.32,100.32 0 0 0 739.26,483.49Z" fill="#F9D027" />
<path d="M749.35,482.12A110.40,110.40 0 0 1 749.40,482.33L739.68,484.98A100.32,100.32 0 0 0 739.63,484.79Z" fill="#F9D027" />
<path d="M728.29,458.46A100.47,100.47 0 0 1 740.24,486.50L730.47,489.00A90.39,90.39 0 0 0 719.72,463.77Z" fill="#AEB5DF" />
<path d="M719.85,463.69A90.54,90.54 0 0 1 730.62,488.96L720.85,491.46A80.46,80.46 0 0 0 711.28,469.00Z" fill="#F7B4B9" />
<path d="M720.53,464.81A90.54,90.54 0 0 1 720.65,465.00L711.99,470.17A80.46,80.46 0 0 0 711.89,470.00Z" fill="#F9D027" />
<path d="M721.90,467.16A90.54,90.54 0 0 1 722.16,467.64L713.34,472.52A80.46,80.46 0 0 0 713.10,472.08Z" fill="#F9D027" />
<path d="M723.14,469.47A90.54,90.54 0 0 1 723.82,470.78L714.81,475.31A80.46,80.46 0 0 0 714.21,474.13Z" fill="#F9D027" />
<path d="M724.75,472.69A90.54,90.54 0 0 1 724.98,473.19L715.84,477.44A80.46,80.46 0 0 0 715.63,477.00Z" fill="#C5DF4A" />
<path d="M725.35,473.99A90.54,90.54 0 0 1 725.73,474.84L716.51,478.91A80.46,80.46 0 0 0 716.17,478.16Z" fill="#C5DF4A" />
<path d="M726.33,476.22A90.54,90.54 0 0 1 726.68,477.08L717.35,480.90A80.46,80.46 0 0 0 717.04,480.14Z" fill="#C5DF4A" />
<path d="M727.22,478.42A90.54,90.54 0 0 1 727.30,478.63L717.90,482.28A80.46,80.46 0 0 0 717.83,482.09Z" fill="#C5DF4A" />
<path d="M727.87,480.14A90.54,90.54 0 0 1 728.19,481.01L718.69,484.39A80.46,80.46 0 0 0 718.41,483.62Z" fill="#C5DF4A" />
<path d="M728.97,483.30A90.54,90.54 0 0 1 729.14,483.83L719.54,486.90A80.46,80.46 0 0 0 719.39,486.43Z" fill="#F9D027" />
<path d="M729.63,485.42A90.54,90.54 0 0 1 729.74,485.77L720.07,488.63A80.46,80.46 0 0 0 719.98,488.31Z" fill="#C5DF4A" />
<path d="M730.25,487.57A90.54,90.54 0 0 1 730.49,488.46L720.74,491.02A80.46,80.46 0 0 0 720.52,490.22Z" fill="#C5DF4A" />
<path d="M711.41,468.92A80.61,80.61 0 0 1 720.99,491.42L711.23,493.92A70.53,70.53 0 0 0 702.84,474.23Z" fill="#AEB5DF" />
<path d="M702.97,474.15A70.68,70.68 0 0 1 711.37,493.88L701.61,496.38A60.60,60.60 0 0 0 694.40,479.47Z" fill="#C5DF4A" />
<path d="M788.30,474.07A150.12,150.12 0 0 1 792.74,502.19L782.68,502.81A140.04,140.04 0 0 0 778.54,476.57Z" fill="#F28C8D" />
<path d="M788.67,475.54A150.12,150.12 0 0 1 788.76,475.89L778.97,478.27A140.04,140.04 0 0 0 778.89,477.95Z" fill="#F9D027" />
<path d="M789.30,478.20A150.12,150.12 0 0 1 789.62,479.61L779.76,481.75A140.04,140.04 0 0 0 779.47,480.43Z" fill="#F7B4B9" />
<path d="M789.68,479.89A150.12,150.12 0 0 1 789.75,480.25L779.89,482.34A140.04,140.04 0 0 0 779.82,482.01Z" fill="#F7B4B9" />
<path d="M789.82,480.58A150.12,150.12 0 0 1 789.90,480.93L780.03,482.98A140.04,140.04 0 0 0 779.96,482.65Z" fill="#F9D027" />
<path d="M790.16,482.24A150.12,150.12 0 0 1 790.33,483.12L780.43,485.02A140.04,140.04 0 0 0 780.27,484.20Z" fill="#F7B4B9" />
<path d="M790.45,483.73A150.12,150.12 0 0 1 790.71,485.16L780.78,486.92A140.04,140.04 0 0 0 780.54,485.59Z" fill="#F9D027" />
<path d="M790.78,485.54A150.12,150.12 0 0 1 790.81,485.76L780.88,487.48A140.04,140.04 0 0 0 780.85,487.28Z" fill="#F7B4B9" />
<path d="M791.21,488.14A150.12,150.12 0 0 1 791.29,488.68L781.33,490.20A140.04,140.04 0 0 0 781.25,489.70Z" fill="#F7B4B9" />
<path d="M791.50,490.13A150.12,150.12 0 0 1 791.63,491.02L781.64,492.39A140.04,140.04 0 0 0 781.53,491.55Z" fill="#F9D027" />
<path d="M791.73,491.78A150.12,150.12 0 0 1 791.76,491.99L781.77,493.30A140.04,140.04 0 0 0 781.74,493.10Z" fill="#F9D027" />
<path d="M791.89,493.02A150.12,150.12 0 0 1 791.96,493.56L781.95,494.76A140.04,140.04 0 0 0 781.89,494.25Z" fill="#F7B4B9" />
<path d="M791.99,493.88A150.12,150.12 0 0 1 792.16,495.31L782.13,496.39A140.04,140.04 0 0 0 781.98,495.05Z" fill="#F9D027" />
<path d="M792.31,496.86A150.12,150.12 0 0 1 792.35,497.22L782.31,498.17A140.04,140.04 0 0 0 782.28,497.83Z" fill="#F9D027" />
<path d="M792.57,499.74A150.12,150.12 0 0 1 792.58,499.96L782.53,500.73A140.04,140.04 0 0 0 782.52,500.52Z" fill="#F9D027" />
<path d="M792.66,500.97A150.12,150.12 0 0 1 792.69,501.51L782.64,502.17A140.04,140.04 0 0 0 782.60,501.67Z" fill="#F7B4B9" />
<path d="M792.73,502.06A150.12,150.12 0 0 1 792.98,507.86L782.90,508.10A140.04,140.04 0 0 0 782.67,502.69Z" fill="#000000" />
<path d="M778.69,476.54A140.19,140.19 0 0 1 782.17,495.41L772.16,496.56A130.11,130.11 0 0 0 768.92,479.04Z" fill="#C5DF4A" />
<path d="M778.95,477.58A140.19,140.19 0 0 1 779.17,478.46L769.37,480.83A130.11,130.11 0 0 0 769.17,480.02Z" fill="#F7B4B9" />
<path d="M779.28,478.92A140.19,140.19 0 0 1 779.36,479.28L769.55,481.59A130.11,130.11 0 0 0 769.47,481.26Z" fill="#F7B4B9" />
<path d="M779.49,479.83A140.19,140.19 0 0 1 779.57,480.19L769.74,482.43A130.11,130.11 0 0 0 769.67,482.10Z" fill="#F7B4B9" />
<path d="M779.73,480.89A140.19,140.19 0 0 1 779.81,481.24L769.96,483.41A130.11,130.11 0 0 0 769.89,483.08Z" fill="#F7B4B9" />
<path d="M780.26,483.36A140.19,140.19 0 0 1 780.36,483.89L770.48,485.87A130.11,130.11 0 0 0 770.38,485.37Z" fill="#F7B4B9" />
<path d="M780.69,485.55A140.19,140.19 0 0 1 780.75,485.90L770.84,487.74A130.11,130.11 0 0 0 770.78,487.41Z" fill="#F7B4B9" />
<path d="M781.17,488.28A140.19,140.19 0 0 1 781.23,488.64L771.28,490.27A130.11,130.11 0 0 0 771.23,489.94Z" fill="#F7B4B9" />
<path d="M781.38,489.57A140.19,140.19 0 0 1 781.41,489.78L771.45,491.34A130.11,130.11 0 0 0 771.42,491.14Z" fill="#F7B4B9" />
<path d="M781.79,492.38A140.19,140.19 0 0 1 781.91,493.28L771.92,494.58A130.11,130.11 0 0 0 771.81,493.75Z" fill="#F7B4B9" />
<path d="M782.11,494.81A140.19,140.19 0 0 1 782.13,495.03L772.12,496.20A130.11,130.11 0 0 0 772.10,496.00Z" fill="#F7B4B9" />
<path d="M782.16,495.29A140.19,140.19 0 0 1 782.61,499.84L772.57,500.67A130.11,130.11 0 0 0 772.15,496.45Z" fill="#000000" />
<path d="M782.60,499.72A140.19,140.19 0 0 1 782.91,504.28L772.84,504.79A130.11,130.11 0 0 0 772.56,500.56Z" fill="#F7B4B9" />
<path d="M782.90,504.16A140.19,140.19 0 0 1 783.05,508.10L772.97,508.33A130.11,130.11 0 0 0 772.84,504.68Z" fill="#000000" />
<path d="M769.07,479.01A130.26,130.26 0 0 1 772.56,498.95L762.53,499.91A120.18,120.18 0 0 0 759.30,481.51Z" fill="#C5DF4A" />
<path d="M772.55,498.83A130.26,130.26 0 0 1 773.03,505.65L762.96,506.09A120.18,120.18 0 0 0 762.52,499.81Z" fill="#000000" />
<path d="M772.69,500.39A130.26,130.26 0 0 1 772.77,501.30L762.72,502.08A120.18,120.18 0 0 0 762.65,501.25Z" fill="#C5DF4A" />
<path d="M772.82,501.98A130.26,130.26 0 0 1 772.84,502.34L762.79,503.04A120.18,120.18 0 0 0 762.77,502.70Z" fill="#C5DF4A" />
<path d="M772.89,503.05A130.26,130.26 0 0 1 772.98,504.50L762.91,505.03A120.18,120.18 0 0 0 762.83,503.70Z" fill="#C5DF4A" />
<path d="M773.03,505.53A130.26,130.26 0 0 1 773.12,508.33L763.05,508.57A120.18,120.18 0 0 0 762.96,505.99Z" fill="#000000" />
<path d="M759.45,481.48A120.33,120.33 0 0 1 762.68,499.90L752.64,500.86A110.25,110.25 0 0 0 749.69,483.98Z" fill="#AEB5DF" />
<path d="M762.67,499.79A120.33,120.33 0 0 1 763.05,504.85L752.99,505.39A110.25,110.25 0 0 0 752.64,500.76Z" fill="#000000" />
<path d="M763.05,504.74A120.33,120.33 0 0 1 763.20,508.57L753.12,508.80A110.25,110.25 0 0 0 752.98,505.30Z" fill="#AEB5DF" />
<path d="M749.83,483.94A110.40,110.40 0 0 1 753.24,507.84L743.17,508.16A100.32,100.32 0 0 0 740.07,486.45Z" fill="#F9D027" />
<path d="M753.24,507.74A110.40,110.40 0 0 1 753.27,508.80L743.19,509.04A100.32,100.32 0 0 0 743.16,508.07Z" fill="#000000" />
<path d="M740.21,486.41A100.47,100.47 0 0 1 743.05,503.34L733.00,504.15A90.39,90.39 0 0 0 730.45,488.92Z" fill="#C5DF4A" />
<path d="M743.04,503.26A100.47,100.47 0 0 1 743.34,509.03L733.26,509.27A90.39,90.39 0 0 0 732.99,504.07Z" fill="#000000" />
<path d="M743.22,505.92A100.47,100.47 0 0 1 743.23,506.14L733.17,506.67A90.39,90.39 0 0 0 733.16,506.47Z" fill="#C5DF4A" />
<path d="M730.60,488.88A90.54,90.54 0 0 1 733.41,509.27L723.34,509.50A80.46,80.46 0 0 0 720.83,491.39Z" fill="#F9D027" />
<path d="M720.98,491.35A80.61,80.61 0 0 1 723.25,504.94L713.20,505.74A70.53,70.53 0 0 0 711.21,493.86Z" fill="#2CBDB1" />
<path d="M723.24,504.87A80.61,80.61 0 0 1 723.49,509.50L713.41,509.74A70.53,70.53 0 0 0 713.20,505.68Z" fill="#000000" />
<path d="M723.34,506.10A80.61,80.61 0 0 1 723.39,507.03L713.33,507.57A70.53,70.53 0 0 0 713.28,506.76Z" fill="#2CBDB1" />
<path d="M723.43,507.76A80.61,80.61 0 0 1 723.48,509.25L713.40,509.52A70.53,70.53 0 0 0 713.36,508.21Z" fill="#2CBDB1" />
<path d="M711.36,493.82A70.68,70.68 0 0 1 713.56,509.73L703.48,509.97A60.60,60.60 0 0 0 701.60,496.33Z" fill="#2CBDB1" />
<path d="M792.90,517.42A150.12,150.12 0 0 1 788.34,548.61L778.57,546.11A140.04,140.04 0 0 0 782.83,517.02Z" fill="#BDA4D9" />
<path d="M792.80,519.56A150.12,150.12 0 0 1 792.71,521.01L782.65,520.36A140.04,140.04 0 0 0 782.73,519.02Z" fill="#C5DF4A" />
<path d="M792.61,522.49A150.12,150.12 0 0 1 792.50,523.93L782.45,523.09A140.04,140.04 0 0 0 782.56,521.74Z" fill="#AEB5DF" />
<path d="M792.35,525.61A150.12,150.12 0 0 1 792.31,525.97L782.28,525.00A140.04,140.04 0 0 0 782.31,524.66Z" fill="#AEB5DF" />
<path d="M792.13,527.69A150.12,150.12 0 0 1 792.09,528.05L782.08,526.93A140.04,140.04 0 0 0 782.11,526.60Z" fill="#C5DF4A" />
<path d="M791.91,529.62A150.12,150.12 0 0 1 791.84,530.16L781.84,528.90A140.04,140.04 0 0 0 781.90,528.40Z" fill="#AEB5DF" />
<path d="M791.73,531.05A150.12,150.12 0 0 1 791.53,532.49L781.55,531.07A140.04,140.04 0 0 0 781.73,529.73Z" fill="#AEB5DF" />
<path d="M791.19,534.77A150.12,150.12 0 0 1 790.96,536.19L781.02,534.53A140.04,140.04 0 0 0 781.23,533.20Z" fill="#C5DF4A" />
<path d="M790.81,537.09A150.12,150.12 0 0 1 790.74,537.44L780.82,535.69A140.04,140.04 0 0 0 780.87,535.36Z" fill="#AEB5DF" />
<path d="M790.45,539.06A150.12,150.12 0 0 1 790.38,539.41L780.48,537.53A140.04,140.04 0 0 0 780.54,537.20Z" fill="#C5DF4A" />
<path d="M790.26,540.05A150.12,150.12 0 0 1 790.22,540.26L780.33,538.32A140.04,140.04 0 0 0 780.37,538.12Z" fill="#C5DF4A" />
<path d="M789.78,542.41A150.12,150.12 0 0 1 789.48,543.82L779.63,541.65A140.04,140.04 0 0 0 779.92,540.33Z" fill="#C5DF4A" />
<path d="M789.03,545.77A150.12,150.12 0 0 1 788.98,545.98L779.17,543.66A140.04,140.04 0 0 0 779.22,543.47Z" fill="#AEB5DF" />
<path d="M788.85,546.53A150.12,150.12 0 0 1 788.77,546.88L778.97,544.49A140.04,140.04 0 0 0 779.05,544.17Z" fill="#AEB5DF" />
<path d="M782.98,517.03A140.19,140.19 0 0 1 778.72,546.15L768.95,543.65A130.11,130.11 0 0 0 772.91,516.62Z" fill="#AEB5DF" />
<path d="M782.93,518.05A140.19,140.19 0 0 1 782.92,518.27L772.85,517.77A130.11,130.11 0 0 0 772.86,517.57Z" fill="#F7B4B9" />
<path d="M782.79,520.50A140.19,140.19 0 0 1 782.69,521.94L772.64,521.18A130.11,130.11 0 0 0 772.74,519.84Z" fill="#F7B4B9" />
<path d="M782.52,524.04A140.19,140.19 0 0 1 782.43,524.94L772.40,523.97A130.11,130.11 0 0 0 772.48,523.13Z" fill="#BDA4D9" />
<path d="M782.25,526.76A140.19,140.19 0 0 1 782.08,528.20L772.07,526.99A130.11,130.11 0 0 0 772.23,525.66Z" fill="#BDA4D9" />
<path d="M781.93,529.38A140.19,140.19 0 0 1 781.89,529.74L771.89,528.42A130.11,130.11 0 0 0 771.94,528.09Z" fill="#BDA4D9" />
<path d="M781.69,531.19A140.19,140.19 0 0 1 781.47,532.63L771.51,531.10A130.11,130.11 0 0 0 771.71,529.77Z" fill="#F7B4B9" />
<path d="M781.41,533.05A140.19,140.19 0 0 1 781.27,533.95L771.32,532.32A130.11,130.11 0 0 0 771.45,531.49Z" fill="#F7B4B9" />
<path d="M781.08,535.08A140.19,140.19 0 0 1 781.01,535.44L771.08,533.71A130.11,130.11 0 0 0 771.14,533.38Z" fill="#BDA4D9" />
<path d="M780.91,536.02A140.19,140.19 0 0 1 780.65,537.45L770.74,535.57A130.11,130.11 0 0 0 770.99,534.25Z" fill="#BDA4D9" />
<path d="M780.53,538.06A140.19,140.19 0 0 1 780.36,538.95L770.47,536.97A130.11,130.11 0 0 0 770.64,536.15Z" fill="#BDA4D9" />
<path d="M780.30,539.24A140.19,140.19 0 0 1 780.12,540.13L770.25,538.06A130.11,130.11 0 0 0 770.42,537.24Z" fill="#BDA4D9" />
<path d="M780.01,540.62A140.19,140.19 0 0 1 779.70,542.03L769.87,539.83A130.11,130.11 0 0 0 770.15,538.52Z" fill="#F7B4B9" />
<path d="M779.39,543.41A140.19,140.19 0 0 1 779.34,543.62L769.53,541.30A130.11,130.11 0 0 0 769.57,541.10Z" fill="#BDA4D9" />
<path d="M773.06,516.63A130.26,130.26 0 0 1 772.59,523.55L762.56,522.61A120.18,120.18 0 0 0 762.98,516.22Z" fill="#F9D027" />
<path d="M773.02,517.46A130.26,130.26 0 0 1 772.99,518.01L762.93,517.49A120.18,120.18 0 0 0 762.95,516.99Z" fill="#F28C8D" />
<path d="M772.90,519.60A130.26,130.26 0 0 1 772.88,519.97L762.82,519.30A120.18,120.18 0 0 0 762.84,518.97Z" fill="#F28C8D" />
<path d="M772.78,521.35A130.26,130.26 0 0 1 772.75,521.71L762.70,520.91A120.18,120.18 0 0 0 762.73,520.58Z" fill="#F28C8D" />
<path d="M772.60,523.43A130.26,130.26 0 0 1 769.10,543.68L759.33,541.19A120.18,120.18 0 0 0 762.57,522.50Z" fill="#F28C8D" />
<path d="M772.53,524.24A130.26,130.26 0 0 1 772.49,524.60L762.46,523.58A120.18,120.18 0 0 0 762.50,523.24Z" fill="#F7B4B9" />
<path d="M772.31,526.27A130.26,130.26 0 0 1 772.28,526.48L762.27,525.32A120.18,120.18 0 0 0 762.29,525.12Z" fill="#F7B4B9" />
<path d="M772.08,528.11A130.26,130.26 0 0 1 771.89,529.55L761.91,528.15A120.18,120.18 0 0 0 762.09,526.82Z" fill="#F7B4B9" />
<path d="M771.69,530.93A130.26,130.26 0 0 1 771.55,531.82L761.59,530.24A120.18,120.18 0 0 0 761.72,529.42Z" fill="#F7B4B9" />
<path d="M771.36,533.00A130.26,130.26 0 0 1 771.32,533.22L761.38,531.53A120.18,120.18 0 0 0 761.42,531.33Z" fill="#F7B4B9" />
<path d="M771.10,534.48A130.26,130.26 0 0 1 771.03,534.84L761.12,533.03A120.18,120.18 0 0 0 761.18,532.70Z" fill="#F7B4B9" />
<path d="M770.62,536.98A130.26,130.26 0 0 1 770.55,537.34L760.67,535.33A120.18,120.18 0 0 0 760.74,535.00Z" fill="#F7B4B9" />
<path d="M770.40,538.09A130.26,130.26 0 0 1 770.32,538.45L760.46,536.35A120.18,120.18 0 0 0 760.53,536.03Z" fill="#F7B4B9" />
<path d="M769.87,540.49A130.26,130.26 0 0 1 769.66,541.38L759.85,539.06A120.18,120.18 0 0 0 760.04,538.24Z" fill="#F7B4B9" />
<path d="M769.32,542.79A130.26,130.26 0 0 1 769.23,543.15L759.46,540.69A120.18,120.18 0 0 0 759.54,540.36Z" fill="#F7B4B9" />
<path d="M763.13,516.23A120.33,120.33 0 0 1 759.48,541.22L749.71,538.72A110.25,110.25 0 0 0 753.06,515.82Z" fill="#AEB5DF" />
<path d="M753.21,515.83A110.40,110.40 0 0 1 749.86,538.76L740.09,536.26A100.32,100.32 0 0 0 743.14,515.43Z" fill="#F7B4B9" />
<path d="M753.15,517.12A110.40,110.40 0 0 1 753.14,517.34L743.07,516.80A100.32,100.32 0 0 0 743.09,516.60Z" fill="#C5DF4A" />
<path d="M753.07,518.50A110.40,110.40 0 0 1 753.03,519.05L742.98,518.35A100.32,100.32 0 0 0 743.01,517.85Z" fill="#F28C8D" />
<path d="M752.92,520.58A110.40,110.40 0 0 1 752.87,521.13L742.83,520.24A100.32,100.32 0 0 0 742.87,519.74Z" fill="#C5DF4A" />
<path d="M752.71,522.77A110.40,110.40 0 0 1 752.67,523.13L742.65,522.06A100.32,100.32 0 0 0 742.69,521.73Z" fill="#C5DF4A" />
<path d="M752.62,523.67A110.40,110.40 0 0 1 752.59,523.89L742.58,522.75A100.32,100.32 0 0 0 742.60,522.55Z" fill="#F28C8D" />
<path d="M752.34,525.91A110.40,110.40 0 0 1 752.27,526.45L742.28,525.08A100.32,100.32 0 0 0 742.35,524.58Z" fill="#F28C8D" />
<path d="M751.96,528.56A110.40,110.40 0 0 1 751.92,528.77L741.97,527.19A100.32,100.32 0 0 0 742.00,526.99Z" fill="#F28C8D" />
<path d="M751.47,531.42A110.40,110.40 0 0 1 751.30,532.32L741.40,530.41A100.32,100.32 0 0 0 741.56,529.59Z" fill="#C5DF4A" />
<path d="M751.21,532.80A110.40,110.40 0 0 1 751.03,533.69L741.15,531.66A100.32,100.32 0 0 0 741.32,530.84Z" fill="#C5DF4A" />
<path d="M750.84,534.58A110.40,110.40 0 0 1 750.52,536.01L740.70,533.76A100.32,100.32 0 0 0 740.98,532.46Z" fill="#F28C8D" />
<path d="M750.29,537.00A110.40,110.40 0 0 1 749.94,538.42L740.17,535.95A100.32,100.32 0 0 0 740.49,534.66Z" fill="#F28C8D" />
<path d="M743.29,515.43A100.47,100.47 0 0 1 740.24,536.30L730.47,533.80A90.39,90.39 0 0 0 733.22,515.03Z" fill="#F28C8D" />
<path d="M733.37,515.03A90.54,90.54 0 0 1 730.62,533.84L720.85,531.34A80.46,80.46 0 0 0 723.30,514.63Z" fill="#F7B4B9" />
<path d="M723.45,514.64A80.61,80.61 0 0 1 720.99,531.38L711.23,528.88A70.53,70.53 0 0 0 713.37,514.23Z" fill="#F28C8D" />
<path d="M713.52,514.24A70.68,70.68 0 0 1 711.37,528.92L701.61,526.42A60.60,60.60 0 0 0 703.45,513.83Z" fill="#F9D027" />
<path d="M788.37,548.48A150.12,150.12 0 0 1 784.32,561.76L774.83,558.38A140.04,140.04 0 0 0 778.60,545.99Z" fill="#F9D027" />
<path d="M788.21,549.10A150.12,150.12 0 0 1 787.84,550.50L778.11,547.87A140.04,140.04 0 0 0 778.45,546.57Z" fill="#000000" />
<path d="M787.74,550.85A150.12,150.12 0 0 1 787.60,551.37L777.89,548.69A140.04,140.04 0 0 0 778.02,548.20Z" fill="#000000" />
<path d="M787.25,552.61A150.12,150.12 0 0 1 786.85,554.00L777.18,551.14A140.04,140.04 0 0 0 777.56,549.84Z" fill="#000000" />
<path d="M786.41,555.45A150.12,150.12 0 0 1 785.98,556.83L776.37,553.78A140.04,140.04 0 0 0 776.78,552.49Z" fill="#000000" />
<path d="M785.67,557.81A150.12,150.12 0 0 1 785.39,558.66L775.82,555.49A140.04,140.04 0 0 0 776.08,554.69Z" fill="#000000" />
<path d="M785.18,559.26A150.12,150.12 0 0 1 785.07,559.61L775.52,556.37A140.04,140.04 0 0 0 775.63,556.05Z" fill="#000000" />
<path d="M784.37,561.63A150.12,150.12 0 0 1 765.34,598.25L757.12,592.42A140.04,140.04 0 0 0 774.87,558.26Z" fill="#C5DF4A" />
<path d="M783.94,562.81A150.12,150.12 0 0 1 783.63,563.65L774.18,560.15A140.04,140.04 0 0 0 774.47,559.36Z" fill="#F9D027" />
<path d="M783.34,564.42A150.12,150.12 0 0 1 783.15,564.93L773.73,561.34A140.04,140.04 0 0 0 773.91,560.86Z" fill="#F9D027" />
<path d="M782.75,565.96A150.12,150.12 0 0 1 782.62,566.30L773.24,562.61A140.04,140.04 0 0 0 773.36,562.30Z" fill="#AEB5DF" />
<path d="M782.48,566.65A150.12,150.12 0 0 1 782.40,566.85L773.04,563.13A140.04,140.04 0 0 0 773.11,562.94Z" fill="#F9D027" />
<path d="M781.79,568.36A150.12,150.12 0 0 1 781.59,568.86L772.28,565.00A140.04,140.04 0 0 0 772.47,564.54Z" fill="#AEB5DF" />
<path d="M780.63,571.13A150.12,150.12 0 0 1 780.48,571.46L771.24,567.43A140.04,140.04 0 0 0 771.38,567.12Z" fill="#F9D027" />
<path d="M779.72,573.17A150.12,150.12 0 0 1 779.50,573.66L770.33,569.48A140.04,140.04 0 0 0 770.54,569.02Z" fill="#AEB5DF" />
<path d="M778.60,575.60A150.12,150.12 0 0 1 778.37,576.09L769.27,571.75A140.04,140.04 0 0 0 769.49,571.29Z" fill="#AEB5DF" />
<path d="M777.41,578.05A150.12,150.12 0 0 1 777.32,578.25L768.29,573.76A140.04,140.04 0 0 0 768.38,573.58Z" fill="#F9D027" />
<path d="M776.66,579.55A150.12,150.12 0 0 1 776.25,580.35L767.30,575.72A140.04,140.04 0 0 0 767.68,574.97Z" fill="#F9D027" />
<path d="M775.09,582.55A150.12,150.12 0 0 1 774.83,583.03L765.97,578.22A140.04,140.04 0 0 0 766.21,577.78Z" fill="#F9D027" />
<path d="M773.89,584.74A150.12,150.12 0 0 1 773.71,585.05L764.93,580.11A140.04,140.04 0 0 0 765.09,579.82Z" fill="#AEB5DF" />
<path d="M772.47,587.21A150.12,150.12 0 0 1 772.29,587.52L763.60,582.41A140.04,140.04 0 0 0 763.77,582.12Z" fill="#F9D027" />
<path d="M771.21,589.33A150.12,150.12 0 0 1 770.93,589.79L762.33,584.52A140.04,140.04 0 0 0 762.60,584.09Z" fill="#AEB5DF" />
<path d="M770.13,591.08A150.12,150.12 0 0 1 769.84,591.54L761.32,586.16A140.04,140.04 0 0 0 761.59,585.73Z" fill="#F9D027" />
<path d="M768.66,593.38A150.12,150.12 0 0 1 768.16,594.14L759.75,588.58A140.04,140.04 0 0 0 760.21,587.88Z" fill="#F9D027" />
<path d="M767.08,595.76A150.12,150.12 0 0 1 766.26,596.95L757.98,591.20A140.04,140.04 0 0 0 758.74,590.09Z" fill="#F9D027" />
<path d="M778.75,546.03A140.19,140.19 0 0 1 774.97,558.43L765.47,555.05A130.11,130.11 0 0 0 768.98,543.54Z" fill="#000000" />
<path d="M778.13,548.38A140.19,140.19 0 0 1 778.07,548.59L768.35,545.91A130.11,130.11 0 0 0 768.40,545.72Z" fill="#AEB5DF" />
<path d="M777.40,550.94A140.19,140.19 0 0 1 777.14,551.81L767.49,548.90A130.11,130.11 0 0 0 767.73,548.10Z" fill="#AEB5DF" />
<path d="M777.02,552.21A140.19,140.19 0 0 1 776.75,553.07L767.13,550.08A130.11,130.11 0 0 0 767.38,549.27Z" fill="#AEB5DF" />
<path d="M776.33,554.41A140.19,140.19 0 0 1 776.16,554.92L766.58,551.79A130.11,130.11 0 0 0 766.74,551.31Z" fill="#AEB5DF" />
<path d="M776.02,555.36A140.19,140.19 0 0 1 775.95,555.56L766.38,552.39A130.11,130.11 0 0 0 766.45,552.20Z" fill="#AEB5DF" />
<path d="M775.62,556.56A140.19,140.19 0 0 1 775.44,557.08L765.91,553.79A130.11,130.11 0 0 0 766.07,553.32Z" fill="#AEB5DF" />
<path d="M775.14,557.94A140.19,140.19 0 0 1 775.02,558.28L765.52,554.91A130.11,130.11 0 0 0 765.63,554.59Z" fill="#AEB5DF" />
<path d="M775.01,558.31A140.19,140.19 0 0 1 757.24,592.51L749.02,586.68A130.11,130.11 0 0 0 765.51,554.94Z" fill="#AEB5DF" />
<path d="M774.13,560.71A140.19,140.19 0 0 1 773.94,561.22L764.52,557.64A130.11,130.11 0 0 0 764.70,557.17Z" fill="#C5DF4A" />
<path d="M773.34,562.76A140.19,140.19 0 0 1 773.21,563.10L763.84,559.38A130.11,130.11 0 0 0 763.96,559.07Z" fill="#C5DF4A" />
<path d="M772.54,564.75A140.19,140.19 0 0 1 771.98,566.08L762.70,562.15A130.11,130.11 0 0 0 763.22,560.91Z" fill="#BDA4D9" />
<path d="M771.29,567.68A140.19,140.19 0 0 1 771.21,567.88L761.98,563.82A130.11,130.11 0 0 0 762.06,563.64Z" fill="#BDA4D9" />
<path d="M771.03,568.29A140.19,140.19 0 0 1 770.66,569.12L761.47,564.97A130.11,130.11 0 0 0 761.81,564.20Z" fill="#BDA4D9" />
<path d="M770.16,570.21A140.19,140.19 0 0 1 769.78,571.03L760.65,566.74A130.11,130.11 0 0 0 761.01,565.98Z" fill="#C5DF4A" />
<path d="M768.83,573.01A140.19,140.19 0 0 1 768.18,574.31L759.18,569.78A130.11,130.11 0 0 0 759.77,568.58Z" fill="#BDA4D9" />
<path d="M767.72,575.21A140.19,140.19 0 0 1 767.48,575.70L758.52,571.07A130.11,130.11 0 0 0 758.75,570.63Z" fill="#BDA4D9" />
<path d="M766.26,578.00A140.19,140.19 0 0 1 766.09,578.32L757.23,573.51A130.11,130.11 0 0 0 757.39,573.21Z" fill="#C5DF4A" />
<path d="M765.64,579.14A140.19,140.19 0 0 1 765.38,579.61L756.57,574.71A130.11,130.11 0 0 0 756.82,574.26Z" fill="#C5DF4A" />
<path d="M764.96,580.35A140.19,140.19 0 0 1 764.86,580.53L756.09,575.56A130.11,130.11 0 0 0 756.19,575.39Z" fill="#BDA4D9" />
<path d="M764.71,580.79A140.19,140.19 0 0 1 763.99,582.05L755.28,576.97A130.11,130.11 0 0 0 755.95,575.80Z" fill="#BDA4D9" />
<path d="M762.81,584.03A140.19,140.19 0 0 1 762.05,585.26L753.49,579.95A130.11,130.11 0 0 0 754.19,578.80Z" fill="#C5DF4A" />
<path d="M761.11,586.76A140.19,140.19 0 0 1 760.33,587.98L751.88,582.47A130.11,130.11 0 0 0 752.61,581.34Z" fill="#BDA4D9" />
<path d="M759.83,588.74A140.19,140.19 0 0 1 759.71,588.92L751.31,583.35A130.11,130.11 0 0 0 751.42,583.18Z" fill="#C5DF4A" />
<path d="M759.13,589.78A140.19,140.19 0 0 1 758.93,590.08L750.59,584.42A130.11,130.11 0 0 0 750.78,584.14Z" fill="#BDA4D9" />
<path d="M757.84,591.66A140.19,140.19 0 0 1 757.64,591.95L749.39,586.16A130.11,130.11 0 0 0 749.58,585.89Z" fill="#C5DF4A" />
<path d="M769.12,543.57A130.26,130.26 0 0 1 749.14,586.76L740.92,580.93A120.18,120.18 0 0 0 759.36,541.08Z" fill="#C5DF4A" />
<path d="M768.63,545.44A130.26,130.26 0 0 1 768.25,546.84L758.55,544.10A120.18,120.18 0 0 0 758.90,542.81Z" fill="#AEB5DF" />
<path d="M767.92,547.96A130.26,130.26 0 0 1 767.77,548.49L758.11,545.62A120.18,120.18 0 0 0 758.25,545.13Z" fill="#AEB5DF" />
<path d="M767.16,550.47A130.26,130.26 0 0 1 766.72,551.85L757.14,548.72A120.18,120.18 0 0 0 757.55,547.44Z" fill="#AEB5DF" />
<path d="M766.45,552.66A130.26,130.26 0 0 1 766.34,553.00L756.79,549.78A120.18,120.18 0 0 0 756.89,549.47Z" fill="#AEB5DF" />
<path d="M765.99,554.01A130.26,130.26 0 0 1 765.88,554.35L756.36,551.03A120.18,120.18 0 0 0 756.47,550.71Z" fill="#AEB5DF" />
<path d="M765.07,556.59A130.26,130.26 0 0 1 764.99,556.79L755.55,553.28A120.18,120.18 0 0 0 755.62,553.09Z" fill="#AEB5DF" />
<path d="M764.14,559.03A130.26,130.26 0 0 1 763.94,559.54L754.57,555.81A120.18,120.18 0 0 0 754.76,555.35Z" fill="#AEB5DF" />
<path d="M763.07,561.68A130.26,130.26 0 0 1 762.50,563.02L753.24,559.02A120.18,120.18 0 0 0 753.77,557.79Z" fill="#AEB5DF" />
<path d="M762.34,563.37A130.26,130.26 0 0 1 761.76,564.70L752.56,560.57A120.18,120.18 0 0 0 753.10,559.35Z" fill="#AEB5DF" />
<path d="M760.77,566.84A130.26,130.26 0 0 1 760.68,567.04L751.57,562.73A120.18,120.18 0 0 0 751.65,562.55Z" fill="#AEB5DF" />
<path d="M760.30,567.84A130.26,130.26 0 0 1 759.66,569.15L750.62,564.68A120.18,120.18 0 0 0 751.21,563.48Z" fill="#AEB5DF" />
<path d="M759.26,569.95A130.26,130.26 0 0 1 759.02,570.43L750.03,565.86A120.18,120.18 0 0 0 750.26,565.41Z" fill="#AEB5DF" />
<path d="M758.10,572.20A130.26,130.26 0 0 1 757.84,572.68L748.95,567.94A120.18,120.18 0 0 0 749.18,567.50Z" fill="#AEB5DF" />
<path d="M757.33,573.64A130.26,130.26 0 0 1 757.16,573.95L748.32,569.11A120.18,120.18 0 0 0 748.48,568.82Z" fill="#AEB5DF" />
<path d="M756.36,575.39A130.26,130.26 0 0 1 755.91,576.18L747.17,571.16A120.18,120.18 0 0 0 747.58,570.44Z" fill="#AEB5DF" />
<path d="M755.02,577.71A130.26,130.26 0 0 1 754.74,578.18L746.09,573.01A120.18,120.18 0 0 0 746.34,572.58Z" fill="#AEB5DF" />
<path d="M754.44,578.68A130.26,130.26 0 0 1 753.97,579.45L745.37,574.19A120.18,120.18 0 0 0 745.81,573.47Z" fill="#AEB5DF" />
<path d="M753.53,580.17A130.26,130.26 0 0 1 753.34,580.47L744.79,575.13A120.18,120.18 0 0 0 744.97,574.84Z" fill="#AEB5DF" />
<path d="M752.58,581.67A130.26,130.26 0 0 1 752.39,581.97L743.91,576.51A120.18,120.18 0 0 0 744.09,576.23Z" fill="#AEB5DF" />
<path d="M751.33,583.58A130.26,130.26 0 0 1 750.83,584.34L742.47,578.69A120.18,120.18 0 0 0 742.94,578.00Z" fill="#AEB5DF" />
<path d="M749.81,585.81A130.26,130.26 0 0 1 749.29,586.56L741.06,580.74A120.18,120.18 0 0 0 741.54,580.06Z" fill="#AEB5DF" />
<path d="M759.50,541.12A120.33,120.33 0 0 1 757.13,549.23L747.56,546.06A110.25,110.25 0 0 0 749.73,538.63Z" fill="#000000" />
<path d="M757.16,549.13A120.33,120.33 0 0 1 741.05,581.02L732.82,575.19A110.25,110.25 0 0 0 747.59,545.97Z" fill="#AEB5DF" />
<path d="M757.03,549.51A120.33,120.33 0 0 1 756.97,549.72L747.41,546.51A110.25,110.25 0 0 0 747.47,546.32Z" fill="#F7B4B9" />
<path d="M756.72,550.43A120.33,120.33 0 0 1 756.55,550.95L747.03,547.63A110.25,110.25 0 0 0 747.19,547.16Z" fill="#F7B4B9" />
<path d="M756.13,552.13A120.33,120.33 0 0 1 756.05,552.34L746.57,548.91A110.25,110.25 0 0 0 746.64,548.72Z" fill="#F7B4B9" />
<path d="M755.81,552.99A120.33,120.33 0 0 1 755.74,553.20L746.29,549.69A110.25,110.25 0 0 0 746.36,549.51Z" fill="#F7B4B9" />
<path d="M755.27,554.45A120.33,120.33 0 0 1 755.07,554.96L745.67,551.31A110.25,110.25 0 0 0 745.85,550.84Z" fill="#F7B4B9" />
<path d="M754.62,556.10A120.33,120.33 0 0 1 754.07,557.45L744.76,553.59A110.25,110.25 0 0 0 745.26,552.35Z" fill="#F7B4B9" />
<path d="M753.24,559.40A120.33,120.33 0 0 1 752.65,560.73L743.46,556.60A110.25,110.25 0 0 0 744.00,555.38Z" fill="#F7B4B9" />
<path d="M751.86,562.46A120.33,120.33 0 0 1 751.71,562.79L742.59,558.48A110.25,110.25 0 0 0 742.73,558.18Z" fill="#F7B4B9" />
<path d="M750.75,564.77A120.33,120.33 0 0 1 750.58,565.10L741.56,560.60A110.25,110.25 0 0 0 741.71,560.30Z" fill="#F7B4B9" />
<path d="M750.27,565.73A120.33,120.33 0 0 1 750.17,565.92L741.18,561.36A110.25,110.25 0 0 0 741.27,561.18Z" fill="#F7B4B9" />
<path d="M749.06,568.05A120.33,120.33 0 0 1 748.63,568.85L739.77,564.04A110.25,110.25 0 0 0 740.17,563.30Z" fill="#F7B4B9" />
<path d="M748.32,569.42A120.33,120.33 0 0 1 748.21,569.61L739.39,564.73A110.25,110.25 0 0 0 739.49,564.56Z" fill="#F7B4B9" />
<path d="M747.41,571.04A120.33,120.33 0 0 1 747.23,571.36L738.49,566.33A110.25,110.25 0 0 0 738.65,566.04Z" fill="#F7B4B9" />
<path d="M746.33,572.90A120.33,120.33 0 0 1 746.05,573.37L737.41,568.18A110.25,110.25 0 0 0 737.66,567.75Z" fill="#F7B4B9" />
<path d="M745.62,574.08A120.33,120.33 0 0 1 745.14,574.85L736.58,569.54A110.25,110.25 0 0 0 737.01,568.83Z" fill="#F7B4B9" />
<path d="M744.52,575.84A120.33,120.33 0 0 1 744.23,576.30L735.74,570.86A110.25,110.25 0 0 0 736.01,570.44Z" fill="#F7B4B9" />
<path d="M743.88,576.85A120.33,120.33 0 0 1 743.76,577.03L735.31,571.53A110.25,110.25 0 0 0 735.42,571.36Z" fill="#F7B4B9" />
<path d="M742.71,578.61A120.33,120.33 0 0 1 742.59,578.79L734.24,573.14A110.25,110.25 0 0 0 734.35,572.98Z" fill="#F7B4B9" />
<path d="M741.98,579.69A120.33,120.33 0 0 1 741.77,579.99L733.49,574.24A110.25,110.25 0 0 0 733.68,573.97Z" fill="#F7B4B9" />
<path d="M749.88,538.67A110.40,110.40 0 0 1 743.08,557.79L733.93,553.56A100.32,100.32 0 0 0 740.11,536.18Z" fill="#F9D027" />
<path d="M743.12,557.71A110.40,110.40 0 0 1 732.95,575.27L724.72,569.44A100.32,100.32 0 0 0 733.97,553.48Z" fill="#F7B4B9" />
<path d="M742.50,559.02A110.40,110.40 0 0 1 742.10,559.84L733.05,555.42A100.32,100.32 0 0 0 733.41,554.67Z" fill="#F9D027" />
<path d="M741.11,561.84A110.40,110.40 0 0 1 740.68,562.65L731.76,557.97A100.32,100.32 0 0 0 732.14,557.23Z" fill="#F9D027" />
<path d="M740.31,563.36A110.40,110.40 0 0 1 739.61,564.65L730.78,559.78A100.32,100.32 0 0 0 731.41,558.62Z" fill="#F9D027" />
<path d="M739.15,565.48A110.40,110.40 0 0 1 738.88,565.96L730.11,560.98A100.32,100.32 0 0 0 730.36,560.54Z" fill="#F9D027" />
<path d="M737.53,568.27A110.40,110.40 0 0 1 737.05,569.05L728.46,563.79A100.32,100.32 0 0 0 728.89,563.08Z" fill="#F9D027" />
<path d="M736.68,569.66A110.40,110.40 0 0 1 736.56,569.84L728.01,564.51A100.32,100.32 0 0 0 728.12,564.34Z" fill="#F9D027" />
<path d="M735.71,571.18A110.40,110.40 0 0 1 735.60,571.36L727.13,565.89A100.32,100.32 0 0 0 727.24,565.72Z" fill="#F9D027" />
<path d="M734.97,572.33A110.40,110.40 0 0 1 734.15,573.54L725.82,567.87A100.32,100.32 0 0 0 726.56,566.76Z" fill="#F9D027" />
<path d="M733.90,573.90A110.40,110.40 0 0 1 733.38,574.66L725.12,568.88A100.32,100.32 0 0 0 725.59,568.20Z" fill="#F9D027" />
<path d="M740.26,536.22A100.47,100.47 0 0 1 736.48,547.98L727.09,544.31A90.39,90.39 0 0 0 730.49,533.73Z" fill="#F9D027" />
<path d="M739.58,538.73A100.47,100.47 0 0 1 739.52,538.94L729.83,536.18A90.39,90.39 0 0 0 729.88,535.99Z" fill="#F7B4B9" />
<path d="M738.88,541.10A100.47,100.47 0 0 1 738.61,541.97L729.00,538.91A90.39,90.39 0 0 0 729.25,538.12Z" fill="#F7B4B9" />
<path d="M738.29,542.96A100.47,100.47 0 0 1 737.81,544.35L728.29,541.04A90.39,90.39 0 0 0 728.72,539.79Z" fill="#000000" />
<path d="M736.95,546.75A100.47,100.47 0 0 1 736.62,547.60L727.22,543.97A90.39,90.39 0 0 0 727.51,543.20Z" fill="#F7B4B9" />
<path d="M736.51,547.90A100.47,100.47 0 0 1 724.85,569.53L716.63,563.70A90.39,90.39 0 0 0 727.12,544.23Z" fill="#F7B4B9" />
<path d="M736.18,548.73A100.47,100.47 0 0 1 735.62,550.09L726.32,546.21A90.39,90.39 0 0 0 726.82,544.98Z" fill="#F9D027" />
<path d="M735.50,550.38A100.47,100.47 0 0 1 735.36,550.72L726.08,546.77A90.39,90.39 0 0 0 726.21,546.47Z" fill="#F9D027" />
<path d="M734.93,551.70A100.47,100.47 0 0 1 734.71,552.20L725.50,548.11A90.39,90.39 0 0 0 725.70,547.66Z" fill="#F9D027" />
<path d="M733.78,554.25A100.47,100.47 0 0 1 733.54,554.75L724.45,550.40A90.39,90.39 0 0 0 724.66,549.95Z" fill="#F9D027" />
<path d="M733.04,555.77A100.47,100.47 0 0 1 732.79,556.27L723.78,551.77A90.39,90.39 0 0 0 724.00,551.32Z" fill="#F9D027" />
<path d="M731.66,558.47A100.47,100.47 0 0 1 731.40,558.96L722.52,554.18A90.39,90.39 0 0 0 722.76,553.75Z" fill="#F9D027" />
<path d="M730.96,559.77A100.47,100.47 0 0 1 730.78,560.09L721.96,555.21A90.39,90.39 0 0 0 722.12,554.92Z" fill="#F9D027" />
<path d="M730.39,560.79A100.47,100.47 0 0 1 730.21,561.11L721.45,556.12A90.39,90.39 0 0 0 721.61,555.84Z" fill="#F9D027" />
<path d="M729.24,562.78A100.47,100.47 0 0 1 729.05,563.10L720.41,557.91A90.39,90.39 0 0 0 720.58,557.63Z" fill="#F9D027" />
<path d="M728.77,563.56A100.47,100.47 0 0 1 728.58,563.88L719.98,558.61A90.39,90.39 0 0 0 720.15,558.33Z" fill="#F9D027" />
<path d="M727.98,564.84A100.47,100.47 0 0 1 727.49,565.62L719.00,560.18A90.39,90.39 0 0 0 719.44,559.48Z" fill="#F9D027" />
<path d="M727.32,565.88A100.47,100.47 0 0 1 726.51,567.11L718.12,561.52A90.39,90.39 0 0 0 718.85,560.41Z" fill="#F9D027" />
<path d="M725.80,568.16A100.47,100.47 0 0 1 725.49,568.61L717.20,562.87A90.39,90.39 0 0 0 717.49,562.46Z" fill="#F9D027" />
<path d="M725.30,568.89A100.47,100.47 0 0 1 725.08,569.19L716.84,563.39A90.39,90.39 0 0 0 717.03,563.12Z" fill="#F9D027" />
<path d="M730.63,533.76A90.54,90.54 0 0 1 727.23,544.36L717.84,540.69A80.46,80.46 0 0 0 720.87,531.27Z" fill="#F9D027" />
<path d="M730.50,534.30A90.54,90.54 0 0 1 730.35,534.84L720.62,532.23A80.46,80.46 0 0 0 720.74,531.75Z" fill="#F7B4B9" />
<path d="M729.97,536.23A90.54,90.54 0 0 1 729.87,536.58L720.19,533.78A80.46,80.46 0 0 0 720.28,533.46Z" fill="#F7B4B9" />
<path d="M729.50,537.81A90.54,90.54 0 0 1 729.39,538.16L719.76,535.18A80.46,80.46 0 0 0 719.86,534.87Z" fill="#F7B4B9" />
<path d="M729.26,538.60A90.54,90.54 0 0 1 728.97,539.48L719.39,536.36A80.46,80.46 0 0 0 719.64,535.58Z" fill="#F7B4B9" />
<path d="M728.19,541.79A90.54,90.54 0 0 1 728.00,542.31L718.53,538.87A80.46,80.46 0 0 0 718.69,538.40Z" fill="#000000" />
<path d="M727.78,542.92A90.54,90.54 0 0 1 727.45,543.78L718.04,540.18A80.46,80.46 0 0 0 718.33,539.41Z" fill="#000000" />
<path d="M727.26,544.29A90.54,90.54 0 0 1 716.75,563.78L708.53,557.95A80.46,80.46 0 0 0 717.86,540.63Z" fill="#F9D027" />
<path d="M726.84,545.34A90.54,90.54 0 0 1 726.49,546.19L717.18,542.32A80.46,80.46 0 0 0 717.49,541.56Z" fill="#F7B4B9" />
<path d="M725.89,547.59A90.54,90.54 0 0 1 725.29,548.94L716.12,544.76A80.46,80.46 0 0 0 716.65,543.56Z" fill="#F7B4B9" />
<path d="M725.05,549.47A90.54,90.54 0 0 1 724.65,550.31L715.55,545.98A80.46,80.46 0 0 0 715.90,545.23Z" fill="#F7B4B9" />
<path d="M723.82,552.02A90.54,90.54 0 0 1 723.40,552.85L714.43,548.23A80.46,80.46 0 0 0 714.81,547.50Z" fill="#F7B4B9" />
<path d="M722.69,554.18A90.54,90.54 0 0 1 722.25,555.00L713.42,550.14A80.46,80.46 0 0 0 713.81,549.42Z" fill="#F7B4B9" />
<path d="M721.50,556.34A90.54,90.54 0 0 1 721.39,556.53L712.65,551.51A80.46,80.46 0 0 0 712.75,551.34Z" fill="#F7B4B9" />
<path d="M720.69,557.72A90.54,90.54 0 0 1 719.93,558.99L711.35,553.69A80.46,80.46 0 0 0 712.03,552.56Z" fill="#F7B4B9" />
<path d="M719.00,560.45A90.54,90.54 0 0 1 718.70,560.92L710.26,555.41A80.46,80.46 0 0 0 710.53,554.99Z" fill="#F7B4B9" />
<path d="M717.81,562.25A90.54,90.54 0 0 1 717.50,562.71L709.20,556.99A80.46,80.46 0 0 0 709.47,556.59Z" fill="#F7B4B9" />
<path d="M721.01,531.31A80.61,80.61 0 0 1 708.65,558.04L700.43,552.21A70.53,70.53 0 0 0 711.24,528.82Z" fill="#F28C8D" />
<path d="M720.82,532.04A80.61,80.61 0 0 1 720.58,532.94L710.87,530.25A70.53,70.53 0 0 0 711.08,529.46Z" fill="#F7B4B9" />
<path d="M720.47,533.35A80.61,80.61 0 0 1 720.36,533.70L710.68,530.92A70.53,70.53 0 0 0 710.77,530.60Z" fill="#F7B4B9" />
<path d="M720.20,534.25A80.61,80.61 0 0 1 720.10,534.60L710.44,531.70A70.53,70.53 0 0 0 710.54,531.39Z" fill="#AEB5DF" />
<path d="M719.40,536.82A80.61,80.61 0 0 1 719.33,537.03L709.77,533.82A70.53,70.53 0 0 0 709.83,533.64Z" fill="#F7B4B9" />
<path d="M718.42,539.60A80.61,80.61 0 0 1 718.34,539.81L708.91,536.25A70.53,70.53 0 0 0 708.97,536.07Z" fill="#AEB5DF" />
<path d="M717.45,542.06A80.61,80.61 0 0 1 717.24,542.58L707.94,538.68A70.53,70.53 0 0 0 708.13,538.23Z" fill="#F7B4B9" />
<path d="M716.62,544.01A80.61,80.61 0 0 1 716.39,544.52L707.20,540.38A70.53,70.53 0 0 0 707.40,539.93Z" fill="#F7B4B9" />
<path d="M716.06,545.25A80.61,80.61 0 0 1 715.97,545.45L706.83,541.19A70.53,70.53 0 0 0 706.91,541.02Z" fill="#F7B4B9" />
<path d="M715.64,546.15A80.61,80.61 0 0 1 715.39,546.65L706.33,542.24A70.53,70.53 0 0 0 706.54,541.80Z" fill="#AEB5DF" />
<path d="M715.18,547.08A80.61,80.61 0 0 1 714.51,548.41L705.56,543.78A70.53,70.53 0 0 0 706.15,542.62Z" fill="#F7B4B9" />
<path d="M713.47,550.37A80.61,80.61 0 0 1 713.01,551.18L704.24,546.20A70.53,70.53 0 0 0 704.64,545.49Z" fill="#AEB5DF" />
<path d="M712.78,551.59A80.61,80.61 0 0 1 712.31,552.39L703.63,547.27A70.53,70.53 0 0 0 704.04,546.56Z" fill="#AEB5DF" />
<path d="M711.18,554.25A80.61,80.61 0 0 1 710.37,555.51L701.93,549.99A70.53,70.53 0 0 0 702.64,548.89Z" fill="#AEB5DF" />
<path d="M709.12,557.37A80.61,80.61 0 0 1 708.91,557.67L700.65,551.89A70.53,70.53 0 0 0 700.84,551.62Z" fill="#F7B4B9" />
<path d="M711.39,528.86A70.68,70.68 0 0 1 700.55,552.29L692.33,546.46A60.60,60.60 0 0 0 701.62,526.37Z" fill="#BDA4D9" />
<path d="M765.42,598.15A150.12,150.12 0 0 1 759.23,606.28L751.42,599.91A140.04,140.04 0 0 0 757.19,592.32Z" fill="#F28C8D" />
<path d="M759.32,606.18A150.12,150.12 0 0 1 721.45,639.33L716.17,630.74A140.04,140.04 0 0 0 751.50,599.81Z" fill="#C5DF4A" />
<path d="M757.31,592.41A140.19,140.19 0 0 1 745.35,607.10L737.98,600.22A130.11,130.11 0 0 0 749.09,586.59Z" fill="#C5DF4A" />
<path d="M757.10,592.71A140.19,140.19 0 0 1 756.78,593.16L748.59,587.28A130.11,130.11 0 0 0 748.89,586.87Z" fill="#2CBDB1" />
<path d="M755.45,594.99A140.19,140.19 0 0 1 755.32,595.16L747.23,589.14A130.11,130.11 0 0 0 747.35,588.98Z" fill="#2CBDB1" />
<path d="M754.89,595.74A140.19,140.19 0 0 1 754.34,596.46L746.33,590.34A130.11,130.11 0 0 0 746.83,589.67Z" fill="#2CBDB1" />
<path d="M752.93,598.28A140.19,140.19 0 0 1 752.02,599.41L744.18,593.08A130.11,130.11 0 0 0 745.01,592.03Z" fill="#2CBDB1" />
<path d="M750.48,601.29A140.19,140.19 0 0 1 750.34,601.45L742.61,594.98A130.11,130.11 0 0 0 742.74,594.82Z" fill="#2CBDB1" />
<path d="M748.63,603.46A140.19,140.19 0 0 1 748.39,603.73L740.81,597.09A130.11,130.11 0 0 0 741.03,596.84Z" fill="#2CBDB1" />
<path d="M746.82,605.50A140.19,140.19 0 0 1 746.57,605.77L739.12,598.98A130.11,130.11 0 0 0 739.34,598.73Z" fill="#2CBDB1" />
<path d="M745.43,607.01A140.19,140.19 0 0 1 716.25,630.87L710.98,622.28A130.11,130.11 0 0 0 738.06,600.13Z" fill="#2CBDB1" />
<path d="M744.09,608.43A140.19,140.19 0 0 1 743.71,608.82L736.46,601.81A130.11,130.11 0 0 0 736.81,601.45Z" fill="#C5DF4A" />
<path d="M742.36,610.20A140.19,140.19 0 0 1 742.10,610.46L734.97,603.34A130.11,130.11 0 0 0 735.21,603.10Z" fill="#C5DF4A" />
<path d="M741.61,610.95A140.19,140.19 0 0 1 740.58,611.96L733.55,604.73A130.11,130.11 0 0 0 734.51,603.79Z" fill="#AEB5DF" />
<path d="M740.30,612.23A140.19,140.19 0 0 1 739.91,612.61L732.93,605.33A130.11,130.11 0 0 0 733.30,604.98Z" fill="#C5DF4A" />
<path d="M739.26,613.23A140.19,140.19 0 0 1 738.86,613.60L731.96,606.25A130.11,130.11 0 0 0 732.33,605.90Z" fill="#AEB5DF" />
<path d="M738.12,614.29A140.19,140.19 0 0 1 737.96,614.44L731.12,607.03A130.11,130.11 0 0 0 731.27,606.89Z" fill="#C5DF4A" />
<path d="M736.53,615.74A140.19,140.19 0 0 1 736.13,616.10L729.42,608.57A130.11,130.11 0 0 0 729.80,608.24Z" fill="#AEB5DF" />
<path d="M734.54,617.49A140.19,140.19 0 0 1 734.26,617.73L727.69,610.09A130.11,130.11 0 0 0 727.95,609.87Z" fill="#C5DF4A" />
<path d="M733.92,618.03A140.19,140.19 0 0 1 733.50,618.38L726.99,610.69A130.11,130.11 0 0 0 727.37,610.36Z" fill="#AEB5DF" />
<path d="M732.60,619.14A140.19,140.19 0 0 1 731.48,620.06L725.11,612.24A130.11,130.11 0 0 0 726.15,611.39Z" fill="#AEB5DF" />
<path d="M730.74,620.65A140.19,140.19 0 0 1 730.46,620.88L724.17,613.01A130.11,130.11 0 0 0 724.43,612.80Z" fill="#C5DF4A" />
<path d="M728.48,622.44A140.19,140.19 0 0 1 728.05,622.77L721.92,614.76A130.11,130.11 0 0 0 722.32,614.46Z" fill="#AEB5DF" />
<path d="M727.37,623.28A140.19,140.19 0 0 1 726.21,624.15L720.22,616.04A130.11,130.11 0 0 0 721.30,615.24Z" fill="#C5DF4A" />
<path d="M725.44,624.72A140.19,140.19 0 0 1 725.00,625.04L719.09,616.87A130.11,130.11 0 0 0 719.50,616.57Z" fill="#C5DF4A" />
<path d="M723.45,626.14A140.19,140.19 0 0 1 722.71,626.65L716.97,618.37A130.11,130.11 0 0 0 717.66,617.89Z" fill="#C5DF4A" />
<path d="M720.64,628.06A140.19,140.19 0 0 1 719.88,628.56L714.35,620.14A130.11,130.11 0 0 0 715.05,619.67Z" fill="#C5DF4A" />
<path d="M718.16,629.68A140.19,140.19 0 0 1 716.93,630.45L711.61,621.89A130.11,130.11 0 0 0 712.75,621.17Z" fill="#C5DF4A" />
<path d="M749.21,586.67A130.26,130.26 0 0 1 711.06,622.41L705.78,613.82A120.18,120.18 0 0 0 740.98,580.85Z" fill="#2CBDB1" />
<path d="M748.53,587.62A130.26,130.26 0 0 1 748.21,588.06L740.07,582.13A120.18,120.18 0 0 0 740.36,581.72Z" fill="#C5DF4A" />
<path d="M747.22,589.41A130.26,130.26 0 0 1 746.89,589.84L738.84,583.77A120.18,120.18 0 0 0 739.15,583.37Z" fill="#C5DF4A" />
<path d="M745.76,591.32A130.26,130.26 0 0 1 745.62,591.50L737.67,585.30A120.18,120.18 0 0 0 737.80,585.14Z" fill="#AEB5DF" />
<path d="M745.43,591.75A130.26,130.26 0 0 1 745.09,592.18L737.18,585.93A120.18,120.18 0 0 0 737.49,585.53Z" fill="#AEB5DF" />
<path d="M744.02,593.51A130.26,130.26 0 0 1 743.68,593.93L735.88,587.54A120.18,120.18 0 0 0 736.20,587.15Z" fill="#C5DF4A" />
<path d="M742.86,594.92A130.26,130.26 0 0 1 742.51,595.34L734.80,588.84A120.18,120.18 0 0 0 735.12,588.46Z" fill="#AEB5DF" />
<path d="M741.05,597.04A130.26,130.26 0 0 1 740.09,598.13L732.57,591.42A120.18,120.18 0 0 0 733.45,590.41Z" fill="#AEB5DF" />
<path d="M739.02,599.31A130.26,130.26 0 0 1 738.88,599.47L731.45,592.66A120.18,120.18 0 0 0 731.58,592.51Z" fill="#C5DF4A" />
<path d="M737.22,601.24A130.26,130.26 0 0 1 737.07,601.40L729.78,594.43A120.18,120.18 0 0 0 729.92,594.29Z" fill="#C5DF4A" />
<path d="M736.84,601.63A130.26,130.26 0 0 1 736.69,601.79L729.44,594.80A120.18,120.18 0 0 0 729.58,594.65Z" fill="#C5DF4A" />
<path d="M734.84,603.68A130.26,130.26 0 0 1 734.68,603.83L727.58,596.68A120.18,120.18 0 0 0 727.72,596.54Z" fill="#AEB5DF" />
<path d="M733.68,604.82A130.26,130.26 0 0 1 733.29,605.19L726.30,597.94A120.18,120.18 0 0 0 726.66,597.59Z" fill="#AEB5DF" />
<path d="M732.28,606.16A130.26,130.26 0 0 1 731.88,606.53L725.00,599.17A120.18,120.18 0 0 0 725.36,598.82Z" fill="#C5DF4A" />
<path d="M730.50,607.81A130.26,130.26 0 0 1 729.42,608.78L722.72,601.24A120.18,120.18 0 0 0 723.72,600.35Z" fill="#AEB5DF" />
<path d="M727.46,610.49A130.26,130.26 0 0 1 727.29,610.63L720.76,602.95A120.18,120.18 0 0 0 720.91,602.82Z" fill="#C5DF4A" />
<path d="M726.28,611.48A130.26,130.26 0 0 1 726.00,611.71L719.57,603.95A120.18,120.18 0 0 0 719.83,603.73Z" fill="#AEB5DF" />
<path d="M723.93,613.39A130.26,130.26 0 0 1 723.76,613.52L717.50,605.62A120.18,120.18 0 0 0 717.66,605.50Z" fill="#C5DF4A" />
<path d="M722.30,614.66A130.26,130.26 0 0 1 722.01,614.88L715.89,606.88A120.18,120.18 0 0 0 716.16,606.67Z" fill="#AEB5DF" />
<path d="M720.84,615.77A130.26,130.26 0 0 1 720.55,615.99L714.54,607.89A120.18,120.18 0 0 0 714.81,607.69Z" fill="#C5DF4A" />
<path d="M720.13,616.29A130.26,130.26 0 0 1 719.96,616.42L713.99,608.30A120.18,120.18 0 0 0 714.16,608.18Z" fill="#AEB5DF" />
<path d="M719.40,616.83A130.26,130.26 0 0 1 718.22,617.67L712.39,609.45A120.18,120.18 0 0 0 713.48,608.67Z" fill="#C5DF4A" />
<path d="M716.69,618.74A130.26,130.26 0 0 1 715.94,619.25L710.29,610.91A120.18,120.18 0 0 0 710.98,610.44Z" fill="#AEB5DF" />
<path d="M714.85,619.99A130.26,130.26 0 0 1 714.54,620.19L709.00,611.77A120.18,120.18 0 0 0 709.28,611.59Z" fill="#AEB5DF" />
<path d="M713.56,620.83A130.26,130.26 0 0 1 713.10,621.12L707.67,612.63A120.18,120.18 0 0 0 708.09,612.36Z" fill="#AEB5DF" />
<path d="M712.64,621.42A130.26,130.26 0 0 1 711.87,621.90L706.54,613.35A120.18,120.18 0 0 0 707.25,612.90Z" fill="#AEB5DF" />
<path d="M741.11,580.93A120.33,120.33 0 0 1 733.54,590.54L725.95,583.91A110.25,110.25 0 0 0 732.88,575.11Z" fill="#BDA4D9" />
<path d="M733.61,590.46A120.33,120.33 0 0 1 705.86,613.94L700.59,605.35A110.25,110.25 0 0 0 726.01,583.84Z" fill="#2CBDB1" />
<path d="M732.94,591.22A120.33,120.33 0 0 1 731.97,592.31L724.51,585.53A110.25,110.25 0 0 0 725.40,584.53Z" fill="#AEB5DF" />
<path d="M731.67,592.64A120.33,120.33 0 0 1 731.42,592.91L724.01,586.08A110.25,110.25 0 0 0 724.23,585.83Z" fill="#AEB5DF" />
<path d="M730.14,594.27A120.33,120.33 0 0 1 729.13,595.32L721.91,588.29A110.25,110.25 0 0 0 722.83,587.33Z" fill="#AEB5DF" />
<path d="M728.44,596.03A120.33,120.33 0 0 1 728.18,596.29L721.04,589.18A110.25,110.25 0 0 0 721.27,588.94Z" fill="#AEB5DF" />
<path d="M726.97,597.49A120.33,120.33 0 0 1 726.32,598.12L719.33,590.86A110.25,110.25 0 0 0 719.93,590.28Z" fill="#AEB5DF" />
<path d="M724.39,599.94A120.33,120.33 0 0 1 723.31,600.92L716.57,593.42A110.25,110.25 0 0 0 717.56,592.52Z" fill="#AEB5DF" />
<path d="M722.79,601.38A120.33,120.33 0 0 1 722.62,601.53L715.95,593.98A110.25,110.25 0 0 0 716.10,593.85Z" fill="#AEB5DF" />
<path d="M722.16,601.94A120.33,120.33 0 0 1 722.00,602.08L715.37,594.48A110.25,110.25 0 0 0 715.52,594.35Z" fill="#AEB5DF" />
<path d="M721.52,602.49A120.33,120.33 0 0 1 720.41,603.44L713.92,595.73A110.25,110.25 0 0 0 714.93,594.86Z" fill="#AEB5DF" />
<path d="M719.44,604.25A120.33,120.33 0 0 1 718.31,605.17L712.00,597.31A110.25,110.25 0 0 0 713.03,596.47Z" fill="#AEB5DF" />
<path d="M717.31,605.96A120.33,120.33 0 0 1 717.14,606.10L710.92,598.16A110.25,110.25 0 0 0 711.08,598.04Z" fill="#AEB5DF" />
<path d="M716.63,606.50A120.33,120.33 0 0 1 716.45,606.63L710.29,598.66A110.25,110.25 0 0 0 710.45,598.53Z" fill="#AEB5DF" />
<path d="M715.93,607.04A120.33,120.33 0 0 1 714.76,607.91L708.74,599.83A110.25,110.25 0 0 0 709.81,599.02Z" fill="#AEB5DF" />
<path d="M713.75,608.66A120.33,120.33 0 0 1 713.01,609.19L707.14,601.00A110.25,110.25 0 0 0 707.82,600.51Z" fill="#AEB5DF" />
<path d="M710.99,610.61A120.33,120.33 0 0 1 709.78,611.43L704.18,603.05A110.25,110.25 0 0 0 705.29,602.30Z" fill="#AEB5DF" />
<path d="M708.77,612.10A120.33,120.33 0 0 1 708.31,612.40L702.83,603.94A110.25,110.25 0 0 0 703.25,603.67Z" fill="#AEB5DF" />
<path d="M707.64,612.83A120.33,120.33 0 0 1 706.40,613.61L701.08,605.05A110.25,110.25 0 0 0 702.21,604.34Z" fill="#AEB5DF" />
<path d="M733.00,575.20A110.40,110.40 0 0 1 700.67,605.48L695.39,596.89A100.32,100.32 0 0 0 724.77,569.37Z" fill="#2CBDB1" />
<path d="M732.37,576.07A110.40,110.40 0 0 1 731.84,576.81L723.72,570.84A100.32,100.32 0 0 0 724.20,570.17Z" fill="#F28C8D" />
<path d="M730.72,578.30A110.40,110.40 0 0 1 729.83,579.46L721.89,573.24A100.32,100.32 0 0 0 722.70,572.19Z" fill="#F28C8D" />
<path d="M728.80,580.75A110.40,110.40 0 0 1 727.87,581.89L720.11,575.45A100.32,100.32 0 0 0 720.96,574.42Z" fill="#F28C8D" />
<path d="M727.08,582.83A110.40,110.40 0 0 1 726.72,583.25L719.07,576.69A100.32,100.32 0 0 0 719.39,576.31Z" fill="#AEB5DF" />
<path d="M725.36,584.80A110.40,110.40 0 0 1 725.00,585.21L717.50,578.47A100.32,100.32 0 0 0 717.83,578.10Z" fill="#F28C8D" />
<path d="M724.21,586.08A110.40,110.40 0 0 1 723.59,586.75L716.22,579.87A100.32,100.32 0 0 0 716.78,579.26Z" fill="#AEB5DF" />
<path d="M722.75,587.63A110.40,110.40 0 0 1 722.12,588.29L714.89,581.27A100.32,100.32 0 0 0 715.46,580.67Z" fill="#AEB5DF" />
<path d="M721.16,589.27A110.40,110.40 0 0 1 721.00,589.43L713.87,582.30A100.32,100.32 0 0 0 714.01,582.16Z" fill="#AEB5DF" />
<path d="M719.36,591.03A110.40,110.40 0 0 1 719.21,591.18L712.24,583.90A100.32,100.32 0 0 0 712.38,583.76Z" fill="#F28C8D" />
<path d="M718.07,592.25A110.40,110.40 0 0 1 716.99,593.24L710.23,585.77A100.32,100.32 0 0 0 711.21,584.87Z" fill="#AEB5DF" />
<path d="M716.06,594.07A110.40,110.40 0 0 1 715.79,594.32L709.13,586.75A100.32,100.32 0 0 0 709.38,586.53Z" fill="#F28C8D" />
<path d="M714.27,595.62A110.40,110.40 0 0 1 714.11,595.77L707.61,588.06A100.32,100.32 0 0 0 707.76,587.93Z" fill="#AEB5DF" />
<path d="M713.22,596.50A110.40,110.40 0 0 1 712.94,596.74L706.55,588.95A100.32,100.32 0 0 0 706.80,588.73Z" fill="#AEB5DF" />
<path d="M711.34,598.02A110.40,110.40 0 0 1 710.91,598.36L704.70,590.42A100.32,100.32 0 0 0 705.10,590.11Z" fill="#AEB5DF" />
<path d="M709.56,599.41A110.40,110.40 0 0 1 709.38,599.54L703.31,591.49A100.32,100.32 0 0 0 703.47,591.37Z" fill="#F28C8D" />
<path d="M707.82,600.69A110.40,110.40 0 0 1 707.38,601.02L701.49,592.83A100.32,100.32 0 0 0 701.89,592.54Z" fill="#F28C8D" />
<path d="M706.43,601.69A110.40,110.40 0 0 1 705.22,602.53L699.53,594.21A100.32,100.32 0 0 0 700.63,593.45Z" fill="#AEB5DF" />
<path d="M703.31,603.81A110.40,110.40 0 0 1 703.00,604.01L697.51,595.55A100.32,100.32 0 0 0 697.79,595.37Z" fill="#F28C8D" />
<path d="M702.12,604.57A110.40,110.40 0 0 1 701.35,605.06L696.01,596.51A100.32,100.32 0 0 0 696.71,596.07Z" fill="#F28C8D" />
<path d="M724.90,569.46A100.47,100.47 0 0 1 695.47,597.02L690.20,588.43A90.39,90.39 0 0 0 716.67,563.63Z" fill="#2CBDB1" />
<path d="M724.66,569.80A100.47,100.47 0 0 1 724.53,569.98L716.34,564.10A90.39,90.39 0 0 0 716.45,563.94Z" fill="#AEB5DF" />
<path d="M724.00,570.70A100.47,100.47 0 0 1 723.67,571.15L715.57,565.15A90.39,90.39 0 0 0 715.86,564.75Z" fill="#F28C8D" />
<path d="M722.56,572.63A100.47,100.47 0 0 1 722.22,573.06L714.26,566.88A90.39,90.39 0 0 0 714.57,566.48Z" fill="#F28C8D" />
<path d="M721.91,573.46A100.47,100.47 0 0 1 720.99,574.61L713.16,568.27A90.39,90.39 0 0 0 713.98,567.24Z" fill="#AEB5DF" />
<path d="M720.68,575.00A100.47,100.47 0 0 1 720.45,575.28L712.67,568.87A90.39,90.39 0 0 0 712.88,568.62Z" fill="#F28C8D" />
<path d="M719.75,576.11A100.47,100.47 0 0 1 719.40,576.53L711.72,570.00A90.39,90.39 0 0 0 712.04,569.62Z" fill="#AEB5DF" />
<path d="M717.91,578.24A100.47,100.47 0 0 1 717.54,578.65L710.05,571.91A90.39,90.39 0 0 0 710.38,571.54Z" fill="#F28C8D" />
<path d="M717.25,578.97A100.47,100.47 0 0 1 716.63,579.65L709.23,572.80A90.39,90.39 0 0 0 709.79,572.19Z" fill="#AEB5DF" />
<path d="M715.78,580.56A100.47,100.47 0 0 1 715.63,580.72L708.33,573.76A90.39,90.39 0 0 0 708.47,573.62Z" fill="#AEB5DF" />
<path d="M713.86,582.52A100.47,100.47 0 0 1 713.71,582.68L706.60,575.53A90.39,90.39 0 0 0 706.74,575.39Z" fill="#AEB5DF" />
<path d="M712.50,583.86A100.47,100.47 0 0 1 712.34,584.01L705.37,576.73A90.39,90.39 0 0 0 705.52,576.59Z" fill="#F28C8D" />
<path d="M711.39,584.90A100.47,100.47 0 0 1 711.23,585.05L704.38,577.66A90.39,90.39 0 0 0 704.52,577.53Z" fill="#AEB5DF" />
<path d="M709.62,586.52A100.47,100.47 0 0 1 708.93,587.12L702.31,579.53A90.39,90.39 0 0 0 702.93,578.98Z" fill="#AEB5DF" />
<path d="M708.02,587.91A100.47,100.47 0 0 1 707.32,588.50L700.85,580.77A90.39,90.39 0 0 0 701.49,580.23Z" fill="#F28C8D" />
<path d="M705.60,589.91A100.47,100.47 0 0 1 704.87,590.48L698.66,582.54A90.39,90.39 0 0 0 699.31,582.03Z" fill="#F28C8D" />
<path d="M702.92,591.97A100.47,100.47 0 0 1 702.75,592.10L696.74,584.00A90.39,90.39 0 0 0 696.90,583.89Z" fill="#AEB5DF" />
<path d="M700.64,593.62A100.47,100.47 0 0 1 700.19,593.94L694.44,585.66A90.39,90.39 0 0 0 694.85,585.37Z" fill="#AEB5DF" />
<path d="M698.54,595.05A100.47,100.47 0 0 1 697.78,595.56L692.27,587.12A90.39,90.39 0 0 0 692.96,586.66Z" fill="#F28C8D" />
<path d="M716.79,563.72A90.54,90.54 0 0 1 690.27,588.56L685.00,579.97A80.46,80.46 0 0 0 708.57,557.89Z" fill="#2CBDB1" />
<path d="M716.46,564.18A90.54,90.54 0 0 1 716.25,564.48L708.08,558.57A80.46,80.46 0 0 0 708.27,558.31Z" fill="#F28C8D" />
<path d="M715.48,565.53A90.54,90.54 0 0 1 714.58,566.71L706.60,560.55A80.46,80.46 0 0 0 707.40,559.50Z" fill="#F28C8D" />
<path d="M713.14,568.53A90.54,90.54 0 0 1 713.00,568.70L705.19,562.32A80.46,80.46 0 0 0 705.32,562.17Z" fill="#F28C8D" />
<path d="M711.45,570.55A90.54,90.54 0 0 1 710.84,571.25L703.27,564.59A80.46,80.46 0 0 0 703.81,563.97Z" fill="#AEB5DF" />
<path d="M710.59,571.52A90.54,90.54 0 0 1 709.98,572.21L702.51,565.44A80.46,80.46 0 0 0 703.06,564.83Z" fill="#AEB5DF" />
<path d="M709.45,572.79A90.54,90.54 0 0 1 708.82,573.46L701.48,566.55A80.46,80.46 0 0 0 702.04,565.95Z" fill="#AEB5DF" />
<path d="M707.89,574.44A90.54,90.54 0 0 1 707.24,575.10L700.08,568.01A80.46,80.46 0 0 0 700.65,567.42Z" fill="#AEB5DF" />
<path d="M706.85,575.49A90.54,90.54 0 0 1 706.59,575.75L699.50,568.59A80.46,80.46 0 0 0 699.73,568.35Z" fill="#AEB5DF" />
<path d="M706.03,576.30A90.54,90.54 0 0 1 705.63,576.68L698.65,569.41A80.46,80.46 0 0 0 699.00,569.07Z" fill="#F28C8D" />
<path d="M704.27,577.97A90.54,90.54 0 0 1 703.59,578.59L696.83,571.11A80.46,80.46 0 0 0 697.44,570.56Z" fill="#AEB5DF" />
<path d="M702.55,579.51A90.54,90.54 0 0 1 701.43,580.48L694.91,572.79A80.46,80.46 0 0 0 695.91,571.93Z" fill="#AEB5DF" />
<path d="M700.54,581.22A90.54,90.54 0 0 1 699.39,582.16L693.10,574.28A80.46,80.46 0 0 0 694.12,573.45Z" fill="#F28C8D" />
<path d="M698.24,583.06A90.54,90.54 0 0 1 697.51,583.62L691.43,575.58A80.46,80.46 0 0 0 692.08,575.08Z" fill="#AEB5DF" />
<path d="M697.10,583.93A90.54,90.54 0 0 1 696.35,584.48L690.40,576.34A80.46,80.46 0 0 0 691.06,575.85Z" fill="#F28C8D" />
<path d="M694.87,585.54A90.54,90.54 0 0 1 694.41,585.86L688.68,577.57A80.46,80.46 0 0 0 689.08,577.29Z" fill="#AEB5DF" />
<path d="M693.02,586.80A90.54,90.54 0 0 1 692.55,587.11L687.03,578.68A80.46,80.46 0 0 0 687.44,578.41Z" fill="#F28C8D" />
<path d="M708.69,557.98A80.61,80.61 0 0 1 685.08,580.09L679.80,571.50A70.53,70.53 0 0 0 700.46,552.16Z" fill="#2CBDB1" />
<path d="M707.98,558.97A80.61,80.61 0 0 1 707.76,559.27L699.65,553.28A70.53,70.53 0 0 0 699.84,553.02Z" fill="#AEB5DF" />
<path d="M706.23,561.27A80.61,80.61 0 0 1 706.09,561.44L698.19,555.19A70.53,70.53 0 0 0 698.31,555.03Z" fill="#AEB5DF" />
<path d="M704.40,563.52A80.61,80.61 0 0 1 703.42,564.65L695.85,557.99A70.53,70.53 0 0 0 696.71,557.00Z" fill="#AEB5DF" />
<path d="M702.60,565.57A80.61,80.61 0 0 1 702.45,565.74L695.00,558.94A70.53,70.53 0 0 0 695.13,558.80Z" fill="#AEB5DF" />
<path d="M701.94,566.29A80.61,80.61 0 0 1 700.91,567.37L693.66,560.37A70.53,70.53 0 0 0 694.56,559.42Z" fill="#AEB5DF" />
<path d="M699.54,568.76A80.61,80.61 0 0 1 698.47,569.80L691.52,562.49A70.53,70.53 0 0 0 692.46,561.59Z" fill="#AEB5DF" />
<path d="M698.19,570.06A80.61,80.61 0 0 1 697.78,570.44L690.92,563.06A70.53,70.53 0 0 0 691.28,562.72Z" fill="#AEB5DF" />
<path d="M696.57,571.55A80.61,80.61 0 0 1 696.15,571.92L689.49,564.35A70.53,70.53 0 0 0 689.86,564.02Z" fill="#AEB5DF" />
<path d="M695.65,572.35A80.61,80.61 0 0 1 695.23,572.72L688.68,565.05A70.53,70.53 0 0 0 689.05,564.73Z" fill="#AEB5DF" />
<path d="M694.82,573.06A80.61,80.61 0 0 1 694.53,573.30L688.08,565.56A70.53,70.53 0 0 0 688.33,565.35Z" fill="#AEB5DF" />
<path d="M692.43,575.00A80.61,80.61 0 0 1 691.24,575.90L685.20,567.84A70.53,70.53 0 0 0 686.24,567.05Z" fill="#AEB5DF" />
<path d="M690.77,576.26A80.61,80.61 0 0 1 690.47,576.48L684.52,568.34A70.53,70.53 0 0 0 684.79,568.15Z" fill="#AEB5DF" />
<path d="M688.44,577.92A80.61,80.61 0 0 1 687.97,578.23L682.34,569.87A70.53,70.53 0 0 0 682.74,569.60Z" fill="#AEB5DF" />
<path d="M686.99,578.89A80.61,80.61 0 0 1 686.52,579.19L681.06,570.71A70.53,70.53 0 0 0 681.47,570.45Z" fill="#AEB5DF" />
<path d="M686.04,579.49A80.61,80.61 0 0 1 685.57,579.79L680.23,571.24A70.53,70.53 0 0 0 680.65,570.98Z" fill="#AEB5DF" />
<path d="M700.58,552.24A70.68,70.68 0 0 1 679.88,571.63L674.61,563.04A60.60,60.60 0 0 0 692.36,546.42Z" fill="#F28C8D" />
<path d="M721.56,639.26A150.12,150.12 0 0 1 689.17,654.21L686.06,644.62A140.04,140.04 0 0 0 716.28,630.68Z" fill="#C5DF4A" />
<path d="M719.96,640.23A150.12,150.12 0 0 1 719.50,640.51L714.35,631.84A140.04,140.04 0 0 0 714.79,631.58Z" fill="#F9D027" />
<path d="M718.10,641.32A150.12,150.12 0 0 1 717.64,641.59L712.62,632.85A140.04,140.04 0 0 0 713.06,632.60Z" fill="#F9D027" />
<path d="M717.23,641.83A150.12,150.12 0 0 1 717.04,641.93L712.07,633.17A140.04,140.04 0 0 0 712.24,633.07Z" fill="#F9D027" />
<path d="M715.15,642.99A150.12,150.12 0 0 1 713.88,643.68L709.12,634.80A140.04,140.04 0 0 0 710.30,634.15Z" fill="#F9D027" />
<path d="M711.80,644.78A150.12,150.12 0 0 1 711.48,644.94L706.87,635.98A140.04,140.04 0 0 0 707.17,635.82Z" fill="#F9D027" />
<path d="M709.93,645.72A150.12,150.12 0 0 1 708.64,646.36L704.22,637.30A140.04,140.04 0 0 0 705.43,636.70Z" fill="#F9D027" />
<path d="M707.24,647.04A150.12,150.12 0 0 1 705.93,647.65L701.70,638.50A140.04,140.04 0 0 0 702.92,637.93Z" fill="#F9D027" />
<path d="M705.01,648.07A150.12,150.12 0 0 1 704.18,648.44L700.07,639.24A140.04,140.04 0 0 0 700.84,638.89Z" fill="#F9D027" />
<path d="M702.51,649.18A150.12,150.12 0 0 1 701.18,649.75L697.27,640.46A140.04,140.04 0 0 0 698.51,639.93Z" fill="#F9D027" />
<path d="M699.86,650.29A150.12,150.12 0 0 1 699.36,650.50L695.57,641.16A140.04,140.04 0 0 0 696.04,640.97Z" fill="#F9D027" />
<path d="M697.49,651.24A150.12,150.12 0 0 1 696.14,651.76L692.57,642.34A140.04,140.04 0 0 0 693.82,641.85Z" fill="#F9D027" />
<path d="M694.62,652.33A150.12,150.12 0 0 1 694.11,652.52L690.67,643.04A140.04,140.04 0 0 0 691.14,642.87Z" fill="#F9D027" />
<path d="M693.67,652.67A150.12,150.12 0 0 1 692.31,653.16L688.99,643.64A140.04,140.04 0 0 0 690.26,643.19Z" fill="#F9D027" />
<path d="M690.75,653.69A150.12,150.12 0 0 1 690.54,653.76L687.35,644.20A140.04,140.04 0 0 0 687.54,644.14Z" fill="#F9D027" />
<path d="M716.36,630.80A140.19,140.19 0 0 1 686.10,644.77L683.00,635.18A130.11,130.11 0 0 0 711.08,622.22Z" fill="#F9D027" />
<path d="M714.21,632.10A140.19,140.19 0 0 1 714.03,632.21L708.91,623.52A130.11,130.11 0 0 0 709.09,623.42Z" fill="#AEB5DF" />
<path d="M711.74,633.52A140.19,140.19 0 0 1 711.27,633.79L706.35,624.99A130.11,130.11 0 0 0 706.79,624.74Z" fill="#2CBDB1" />
<path d="M709.20,634.92A140.19,140.19 0 0 1 709.01,635.02L704.25,626.14A130.11,130.11 0 0 0 704.43,626.04Z" fill="#AEB5DF" />
<path d="M708.46,635.32A140.19,140.19 0 0 1 707.66,635.74L703.00,626.80A130.11,130.11 0 0 0 703.75,626.41Z" fill="#AEB5DF" />
<path d="M705.32,636.93A140.19,140.19 0 0 1 704.02,637.56L699.63,628.49A130.11,130.11 0 0 0 700.83,627.90Z" fill="#AEB5DF" />
<path d="M702.83,638.14A140.19,140.19 0 0 1 702.50,638.29L698.21,629.17A130.11,130.11 0 0 0 698.52,629.02Z" fill="#AEB5DF" />
<path d="M701.10,638.94A140.19,140.19 0 0 1 700.61,639.16L696.46,629.97A130.11,130.11 0 0 0 696.92,629.77Z" fill="#2CBDB1" />
<path d="M698.33,640.16A140.19,140.19 0 0 1 698.14,640.25L694.16,630.99A130.11,130.11 0 0 0 694.35,630.91Z" fill="#2CBDB1" />
<path d="M697.57,640.49A140.19,140.19 0 0 1 697.23,640.63L693.33,631.34A130.11,130.11 0 0 0 693.64,631.21Z" fill="#AEB5DF" />
<path d="M695.45,641.37A140.19,140.19 0 0 1 695.24,641.45L691.48,632.10A130.11,130.11 0 0 0 691.67,632.02Z" fill="#AEB5DF" />
<path d="M694.68,641.68A140.19,140.19 0 0 1 694.18,641.88L690.49,632.49A130.11,130.11 0 0 0 690.96,632.31Z" fill="#2CBDB1" />
<path d="M693.17,642.27A140.19,140.19 0 0 1 692.66,642.46L689.08,633.04A130.11,130.11 0 0 0 689.55,632.86Z" fill="#AEB5DF" />
<path d="M690.21,643.36A140.19,140.19 0 0 1 689.87,643.49L686.50,633.99A130.11,130.11 0 0 0 686.81,633.88Z" fill="#2CBDB1" />
<path d="M687.50,644.31A140.19,140.19 0 0 1 687.30,644.37L684.10,634.81A130.11,130.11 0 0 0 684.30,634.75Z" fill="#2CBDB1" />
<path d="M711.15,622.35A130.26,130.26 0 0 1 683.04,635.32L679.94,625.73A120.18,120.18 0 0 0 705.87,613.76Z" fill="#BDA4D9" />
<path d="M709.66,623.25A130.26,130.26 0 0 1 708.41,623.99L703.34,615.28A120.18,120.18 0 0 0 704.49,614.60Z" fill="#000000" />
<path d="M706.23,625.23A130.26,130.26 0 0 1 706.03,625.34L701.15,616.52A120.18,120.18 0 0 0 701.33,616.42Z" fill="#F7B4B9" />
<path d="M703.77,626.56A130.26,130.26 0 0 1 703.58,626.66L698.88,617.74A120.18,120.18 0 0 0 699.06,617.65Z" fill="#F7B4B9" />
<path d="M703.09,626.92A130.26,130.26 0 0 1 702.61,627.17L697.98,618.21A120.18,120.18 0 0 0 698.43,617.98Z" fill="#F7B4B9" />
<path d="M701.47,627.75A130.26,130.26 0 0 1 701.15,627.91L696.64,618.90A120.18,120.18 0 0 0 696.94,618.75Z" fill="#F7B4B9" />
<path d="M699.41,628.76A130.26,130.26 0 0 1 698.10,629.38L693.83,620.25A120.18,120.18 0 0 0 695.04,619.68Z" fill="#F7B4B9" />
<path d="M697.84,629.51A130.26,130.26 0 0 1 697.64,629.60L693.41,620.45A120.18,120.18 0 0 0 693.59,620.37Z" fill="#F7B4B9" />
<path d="M695.26,630.67A130.26,130.26 0 0 1 694.93,630.82L690.90,621.58A120.18,120.18 0 0 0 691.21,621.44Z" fill="#000000" />
<path d="M693.90,631.26A130.26,130.26 0 0 1 693.56,631.40L689.64,622.12A120.18,120.18 0 0 0 689.95,621.99Z" fill="#000000" />
<path d="M692.44,631.87A130.26,130.26 0 0 1 692.10,632.01L688.29,622.68A120.18,120.18 0 0 0 688.60,622.55Z" fill="#000000" />
<path d="M691.73,632.16A130.26,130.26 0 0 1 691.23,632.36L687.49,623.00A120.18,120.18 0 0 0 687.95,622.82Z" fill="#000000" />
<path d="M689.80,632.92A130.26,130.26 0 0 1 689.29,633.12L685.70,623.70A120.18,120.18 0 0 0 686.17,623.52Z" fill="#000000" />
<path d="M687.57,633.76A130.26,130.26 0 0 1 686.72,634.07L683.32,624.58A120.18,120.18 0 0 0 684.11,624.29Z" fill="#F7B4B9" />
<path d="M685.99,634.32A130.26,130.26 0 0 1 685.65,634.44L682.34,624.92A120.18,120.18 0 0 0 682.66,624.81Z" fill="#000000" />
<path d="M684.36,634.89A130.26,130.26 0 0 1 684.02,635.00L680.84,625.44A120.18,120.18 0 0 0 681.15,625.33Z" fill="#000000" />
<path d="M705.95,613.89A120.33,120.33 0 0 1 679.98,625.87L676.88,616.28A110.25,110.25 0 0 0 700.67,605.30Z" fill="#2CBDB1" />
<path d="M705.17,614.36A120.33,120.33 0 0 1 703.92,615.11L698.81,606.42A110.25,110.25 0 0 0 699.96,605.74Z" fill="#AEB5DF" />
<path d="M702.49,615.94A120.33,120.33 0 0 1 702.30,616.05L697.32,607.28A110.25,110.25 0 0 0 697.50,607.18Z" fill="#AEB5DF" />
<path d="M701.40,616.55A120.33,120.33 0 0 1 701.21,616.66L696.32,607.84A110.25,110.25 0 0 0 696.50,607.74Z" fill="#AEB5DF" />
<path d="M699.88,617.38A120.33,120.33 0 0 1 699.56,617.55L694.82,608.66A110.25,110.25 0 0 0 695.11,608.50Z" fill="#AEB5DF" />
<path d="M697.63,618.56A120.33,120.33 0 0 1 696.33,619.22L691.85,610.19A110.25,110.25 0 0 0 693.05,609.58Z" fill="#AEB5DF" />
<path d="M695.90,619.43A120.33,120.33 0 0 1 694.59,620.06L690.26,610.96A110.25,110.25 0 0 0 691.46,610.38Z" fill="#AEB5DF" />
<path d="M693.37,620.63A120.33,120.33 0 0 1 693.18,620.72L688.96,611.57A110.25,110.25 0 0 0 689.15,611.48Z" fill="#AEB5DF" />
<path d="M691.70,621.39A120.33,120.33 0 0 1 691.37,621.54L687.31,612.31A110.25,110.25 0 0 0 687.61,612.18Z" fill="#AEB5DF" />
<path d="M689.63,622.29A120.33,120.33 0 0 1 689.43,622.37L685.53,613.07A110.25,110.25 0 0 0 685.72,613.00Z" fill="#AEB5DF" />
<path d="M686.97,623.37A120.33,120.33 0 0 1 686.12,623.70L682.50,614.29A110.25,110.25 0 0 0 683.28,613.99Z" fill="#AEB5DF" />
<path d="M684.91,624.16A120.33,120.33 0 0 1 684.57,624.28L681.08,614.83A110.25,110.25 0 0 0 681.39,614.71Z" fill="#AEB5DF" />
<path d="M682.06,625.18A120.33,120.33 0 0 1 681.72,625.30L678.47,615.76A110.25,110.25 0 0 0 678.78,615.65Z" fill="#AEB5DF" />
<path d="M700.75,605.43A110.40,110.40 0 0 1 676.92,616.43L673.82,606.84A100.32,100.32 0 0 0 695.47,596.85Z" fill="#2CBDB1" />
<path d="M695.54,596.97A100.47,100.47 0 0 1 673.86,606.98L670.76,597.39A90.39,90.39 0 0 0 690.26,588.39Z" fill="#2CBDB1" />
<path d="M690.34,588.52A90.54,90.54 0 0 1 670.80,597.53L667.70,587.94A80.46,80.46 0 0 0 685.06,579.93Z" fill="#2CBDB1" />
<path d="M685.14,580.06A80.61,80.61 0 0 1 667.74,588.09L664.64,578.50A70.53,70.53 0 0 0 679.86,571.47Z" fill="#2CBDB1" />
<path d="M679.94,571.60A70.68,70.68 0 0 1 664.68,578.64L661.58,569.05A60.60,60.60 0 0 0 674.65,563.01Z" fill="#F7B4B9" />
<path d="M689.29,654.17A150.12,150.12 0 0 1 664.44,659.97L662.99,649.99A140.04,140.04 0 0 0 686.17,644.59Z" fill="#AEB5DF" />
<path d="M687.68,654.69A150.12,150.12 0 0 1 687.47,654.75L684.48,645.13A140.04,140.04 0 0 0 684.67,645.07Z" fill="#F7B4B9" />
<path d="M684.99,655.50A150.12,150.12 0 0 1 684.78,655.56L681.97,645.88A140.04,140.04 0 0 0 682.16,645.82Z" fill="#BDA4D9" />
<path d="M683.37,655.96A150.12,150.12 0 0 1 682.50,656.20L679.84,646.48A140.04,140.04 0 0 0 680.65,646.26Z" fill="#BDA4D9" />
<path d="M681.25,656.54A150.12,150.12 0 0 1 680.90,656.63L678.35,646.88A140.04,140.04 0 0 0 678.67,646.79Z" fill="#BDA4D9" />
<path d="M680.47,656.74A150.12,150.12 0 0 1 680.12,656.83L677.62,647.07A140.04,140.04 0 0 0 677.94,646.98Z" fill="#F7B4B9" />
<path d="M677.63,657.45A150.12,150.12 0 0 1 677.10,657.57L674.81,647.76A140.04,140.04 0 0 0 675.30,647.64Z" fill="#F7B4B9" />
<path d="M676.50,657.71A150.12,150.12 0 0 1 676.15,657.79L673.92,647.96A140.04,140.04 0 0 0 674.25,647.89Z" fill="#BDA4D9" />
<path d="M674.01,658.26A150.12,150.12 0 0 1 673.48,658.37L671.43,648.50A140.04,140.04 0 0 0 671.92,648.40Z" fill="#BDA4D9" />
<path d="M672.76,658.52A150.12,150.12 0 0 1 672.40,658.59L670.42,648.71A140.04,140.04 0 0 0 670.75,648.64Z" fill="#BDA4D9" />
<path d="M670.07,659.04A150.12,150.12 0 0 1 669.18,659.20L667.41,649.28A140.04,140.04 0 0 0 668.24,649.13Z" fill="#F7B4B9" />
<path d="M668.03,659.40A150.12,150.12 0 0 1 667.81,659.44L666.14,649.50A140.04,140.04 0 0 0 666.34,649.46Z" fill="#F7B4B9" />
<path d="M667.19,659.54A150.12,150.12 0 0 1 666.98,659.58L665.36,649.63A140.04,140.04 0 0 0 665.56,649.59Z" fill="#BDA4D9" />
<path d="M665.00,659.89A150.12,150.12 0 0 1 664.78,659.92L663.31,649.94A140.04,140.04 0 0 0 663.51,649.91Z" fill="#BDA4D9" />
<path d="M664.57,659.95A150.12,150.12 0 0 1 639.10,661.47L639.36,651.40A140.04,140.04 0 0 0 663.12,649.97Z" fill="#F7B4B9" />
<path d="M686.22,644.73A140.19,140.19 0 0 1 663.02,650.14L661.57,640.16A130.11,130.11 0 0 0 683.11,635.14Z" fill="#AEB5DF" />
<path d="M684.63,645.24A140.19,140.19 0 0 1 684.11,645.40L681.15,635.76A130.11,130.11 0 0 0 681.63,635.61Z" fill="#BDA4D9" />
<path d="M682.10,646.00A140.19,140.19 0 0 1 680.71,646.40L677.99,636.69A130.11,130.11 0 0 0 679.28,636.32Z" fill="#BDA4D9" />
<path d="M678.26,647.06A140.19,140.19 0 0 1 678.05,647.11L675.52,637.35A130.11,130.11 0 0 0 675.72,637.30Z" fill="#BDA4D9" />
<path d="M677.73,647.19A140.19,140.19 0 0 1 677.21,647.33L674.74,637.55A130.11,130.11 0 0 0 675.23,637.43Z" fill="#BDA4D9" />
<path d="M676.56,647.49A140.19,140.19 0 0 1 676.03,647.62L673.65,637.82A130.11,130.11 0 0 0 674.14,637.70Z" fill="#BDA4D9" />
<path d="M675.07,647.85A140.19,140.19 0 0 1 673.66,648.17L671.45,638.34A130.11,130.11 0 0 0 672.76,638.04Z" fill="#BDA4D9" />
<path d="M672.57,648.41A140.19,140.19 0 0 1 671.68,648.60L669.62,638.74A130.11,130.11 0 0 0 670.44,638.56Z" fill="#BDA4D9" />
<path d="M671.31,648.68A140.19,140.19 0 0 1 670.96,648.75L668.94,638.88A130.11,130.11 0 0 0 669.27,638.81Z" fill="#BDA4D9" />
<path d="M668.40,649.25A140.19,140.19 0 0 1 668.18,649.29L666.37,639.38A130.11,130.11 0 0 0 666.56,639.34Z" fill="#BDA4D9" />
<path d="M666.12,649.65A140.19,140.19 0 0 1 665.22,649.80L663.62,639.85A130.11,130.11 0 0 0 664.45,639.71Z" fill="#BDA4D9" />
<path d="M664.28,649.95A140.19,140.19 0 0 1 664.07,649.98L662.54,640.02A130.11,130.11 0 0 0 662.74,639.99Z" fill="#BDA4D9" />
<path d="M663.14,650.12A140.19,140.19 0 0 1 639.35,651.55L639.61,641.47A130.11,130.11 0 0 0 661.68,640.15Z" fill="#2CBDB1" />
<path d="M683.15,635.28A130.26,130.26 0 0 1 654.29,641.16L653.41,631.12A120.18,120.18 0 0 0 680.04,625.70Z" fill="#AEB5DF" />
<path d="M680.69,636.06A130.26,130.26 0 0 1 680.48,636.12L677.58,626.47A120.18,120.18 0 0 0 677.77,626.41Z" fill="#BDA4D9" />
<path d="M679.24,636.49A130.26,130.26 0 0 1 678.37,636.74L675.62,627.04A120.18,120.18 0 0 0 676.43,626.81Z" fill="#BDA4D9" />
<path d="M677.02,637.11A130.26,130.26 0 0 1 676.67,637.21L674.06,627.47A120.18,120.18 0 0 0 674.38,627.38Z" fill="#BDA4D9" />
<path d="M676.36,637.29A130.26,130.26 0 0 1 675.83,637.43L673.29,627.68A120.18,120.18 0 0 0 673.77,627.55Z" fill="#BDA4D9" />
<path d="M674.78,637.70A130.26,130.26 0 0 1 673.37,638.05L671.01,628.25A120.18,120.18 0 0 0 672.31,627.93Z" fill="#BDA4D9" />
<path d="M671.49,638.48A130.26,130.26 0 0 1 670.96,638.60L668.79,628.76A120.18,120.18 0 0 0 669.28,628.65Z" fill="#BDA4D9" />
<path d="M670.29,638.75A130.26,130.26 0 0 1 669.94,638.82L667.85,628.96A120.18,120.18 0 0 0 668.17,628.89Z" fill="#BDA4D9" />
<path d="M668.65,639.09A130.26,130.26 0 0 1 667.23,639.37L665.35,629.47A120.18,120.18 0 0 0 666.66,629.21Z" fill="#BDA4D9" />
<path d="M666.35,639.53A130.26,130.26 0 0 1 665.45,639.69L663.71,629.77A120.18,120.18 0 0 0 664.53,629.62Z" fill="#BDA4D9" />
<path d="M663.58,640.01A130.26,130.26 0 0 1 662.14,640.23L660.65,630.26A120.18,120.18 0 0 0 661.98,630.06Z" fill="#BDA4D9" />
<path d="M660.75,640.43A130.26,130.26 0 0 1 659.31,640.62L658.04,630.62A120.18,120.18 0 0 0 659.37,630.45Z" fill="#BDA4D9" />
<path d="M657.22,640.87A130.26,130.26 0 0 1 656.67,640.93L655.61,630.91A120.18,120.18 0 0 0 656.11,630.85Z" fill="#BDA4D9" />
<path d="M654.40,641.15A130.26,130.26 0 0 1 639.60,641.62L639.86,631.54A120.18,120.18 0 0 0 653.51,631.11Z" fill="#F9D027" />
<path d="M680.08,625.84A120.33,120.33 0 0 1 657.28,630.87L656.08,620.86A110.25,110.25 0 0 0 676.97,616.25Z" fill="#F7B4B9" />
<path d="M679.45,626.04A120.33,120.33 0 0 1 678.93,626.21L675.91,616.59A110.25,110.25 0 0 0 676.39,616.44Z" fill="#2CBDB1" />
<path d="M677.19,626.74A120.33,120.33 0 0 1 676.98,626.80L674.13,617.13A110.25,110.25 0 0 0 674.32,617.08Z" fill="#2CBDB1" />
<path d="M675.61,627.20A120.33,120.33 0 0 1 675.40,627.26L672.67,617.55A110.25,110.25 0 0 0 672.87,617.50Z" fill="#2CBDB1" />
<path d="M673.40,627.80A120.33,120.33 0 0 1 671.99,628.16L669.55,618.38A110.25,110.25 0 0 0 670.84,618.05Z" fill="#2CBDB1" />
<path d="M670.11,628.61A120.33,120.33 0 0 1 669.22,628.82L667.02,618.98A110.25,110.25 0 0 0 667.83,618.79Z" fill="#2CBDB1" />
<path d="M668.31,629.02A120.33,120.33 0 0 1 666.89,629.32L664.88,619.44A110.25,110.25 0 0 0 666.18,619.16Z" fill="#2CBDB1" />
<path d="M666.47,629.40A120.33,120.33 0 0 1 665.94,629.50L664.01,619.61A110.25,110.25 0 0 0 664.50,619.51Z" fill="#2CBDB1" />
<path d="M664.15,629.84A120.33,120.33 0 0 1 663.94,629.88L662.17,619.95A110.25,110.25 0 0 0 662.37,619.92Z" fill="#AEB5DF" />
<path d="M661.36,630.31A120.33,120.33 0 0 1 660.82,630.39L659.32,620.42A110.25,110.25 0 0 0 659.82,620.34Z" fill="#2CBDB1" />
<path d="M660.42,630.45A120.33,120.33 0 0 1 659.88,630.53L658.46,620.55A110.25,110.25 0 0 0 658.95,620.48Z" fill="#AEB5DF" />
<path d="M659.04,630.64A120.33,120.33 0 0 1 658.13,630.76L656.86,620.76A110.25,110.25 0 0 0 657.69,620.65Z" fill="#AEB5DF" />
<path d="M657.39,630.85A120.33,120.33 0 0 1 639.86,631.69L640.11,621.61A110.25,110.25 0 0 0 656.17,620.85Z" fill="#2CBDB1" />
<path d="M677.02,616.40A110.40,110.40 0 0 1 640.11,621.76L640.36,611.69A100.32,100.32 0 0 0 673.90,606.81Z" fill="#C5DF4A" />
<path d="M673.95,606.95A100.47,100.47 0 0 1 657.32,610.83L655.87,600.85A90.39,90.39 0 0 0 670.83,597.37Z" fill="#AEB5DF" />
<path d="M673.44,607.12A100.47,100.47 0 0 1 672.91,607.28L669.90,597.66A90.39,90.39 0 0 0 670.37,597.51Z" fill="#BDA4D9" />
<path d="M670.45,608.02A100.47,100.47 0 0 1 669.56,608.27L666.89,598.55A90.39,90.39 0 0 0 667.68,598.33Z" fill="#BDA4D9" />
<path d="M668.93,608.44A100.47,100.47 0 0 1 668.39,608.58L665.84,598.83A90.39,90.39 0 0 0 666.32,598.70Z" fill="#BDA4D9" />
<path d="M665.94,609.19A100.47,100.47 0 0 1 665.59,609.28L663.31,599.46A90.39,90.39 0 0 0 663.63,599.38Z" fill="#BDA4D9" />
<path d="M663.41,609.75A100.47,100.47 0 0 1 663.05,609.83L661.03,599.95A90.39,90.39 0 0 0 661.35,599.89Z" fill="#BDA4D9" />
<path d="M660.87,610.25A100.47,100.47 0 0 1 660.33,610.35L658.58,600.42A90.39,90.39 0 0 0 659.07,600.33Z" fill="#BDA4D9" />
<path d="M658.14,610.71A100.47,100.47 0 0 1 657.77,610.76L656.28,600.79A90.39,90.39 0 0 0 656.61,600.74Z" fill="#BDA4D9" />
<path d="M657.40,610.82A100.47,100.47 0 0 1 640.36,611.84L640.61,601.76A90.39,90.39 0 0 0 655.95,600.84Z" fill="#BDA4D9" />
<path d="M670.88,597.51A90.54,90.54 0 0 1 640.61,601.91L640.86,591.83A80.46,80.46 0 0 0 667.76,587.92Z" fill="#C5DF4A" />
<path d="M667.81,588.06A80.61,80.61 0 0 1 640.86,591.98L641.12,581.91A70.53,70.53 0 0 0 664.69,578.48Z" fill="#BDA4D9" />
<path d="M664.74,578.62A70.68,70.68 0 0 1 641.11,582.06L641.37,571.98A60.60,60.60 0 0 0 661.63,569.03Z" fill="#AEB5DF" />
<path d="M639.23,661.48A150.12,150.12 0 0 1 593.90,653.30L597.19,643.77A140.04,140.04 0 0 0 639.48,651.40Z" fill="#AEB5DF" />
<path d="M639.47,651.55A140.19,140.19 0 0 1 628.61,650.86L629.64,640.83A130.11,130.11 0 0 0 639.72,641.47Z" fill="#F7B4B9" />
<path d="M637.49,651.49A140.19,140.19 0 0 1 637.27,651.48L637.68,641.41A130.11,130.11 0 0 0 637.88,641.41Z" fill="#000000" />
<path d="M634.72,651.35A140.19,140.19 0 0 1 634.18,651.32L634.80,641.26A130.11,130.11 0 0 0 635.31,641.29Z" fill="#000000" />
<path d="M632.01,651.17A140.19,140.19 0 0 1 630.57,651.05L631.46,641.01A130.11,130.11 0 0 0 632.80,641.12Z" fill="#000000" />
<path d="M628.73,650.87A140.19,140.19 0 0 1 597.14,643.91L600.43,634.38A130.11,130.11 0 0 0 629.75,640.84Z" fill="#F7B4B9" />
<path d="M626.14,650.58A140.19,140.19 0 0 1 625.78,650.54L627.01,640.54A130.11,130.11 0 0 0 627.35,640.58Z" fill="#BDA4D9" />
<path d="M624.89,650.43A140.19,140.19 0 0 1 624.35,650.36L625.68,640.37A130.11,130.11 0 0 0 626.18,640.43Z" fill="#BDA4D9" />
<path d="M623.33,650.22A140.19,140.19 0 0 1 622.98,650.17L624.41,640.19A130.11,130.11 0 0 0 624.74,640.24Z" fill="#BDA4D9" />
<path d="M620.38,649.77A140.19,140.19 0 0 1 618.95,649.53L620.67,639.60A130.11,130.11 0 0 0 622.00,639.82Z" fill="#BDA4D9" />
<path d="M616.92,649.16A140.19,140.19 0 0 1 616.70,649.12L618.59,639.22A130.11,130.11 0 0 0 618.78,639.26Z" fill="#BDA4D9" />
<path d="M614.40,648.66A140.19,140.19 0 0 1 613.51,648.48L615.63,638.62A130.11,130.11 0 0 0 616.45,638.79Z" fill="#BDA4D9" />
<path d="M611.91,648.12A140.19,140.19 0 0 1 611.03,647.92L613.32,638.10A130.11,130.11 0 0 0 614.14,638.29Z" fill="#BDA4D9" />
<path d="M610.23,647.73A140.19,140.19 0 0 1 609.70,647.60L612.09,637.81A130.11,130.11 0 0 0 612.58,637.93Z" fill="#BDA4D9" />
<path d="M609.37,647.52A140.19,140.19 0 0 1 609.02,647.44L611.46,637.65A130.11,130.11 0 0 0 611.78,637.73Z" fill="#BDA4D9" />
<path d="M606.91,646.89A140.19,140.19 0 0 1 606.56,646.80L609.18,637.06A130.11,130.11 0 0 0 609.50,637.15Z" fill="#BDA4D9" />
<path d="M604.79,646.31A140.19,140.19 0 0 1 604.58,646.25L607.34,636.56A130.11,130.11 0 0 0 607.53,636.61Z" fill="#BDA4D9" />
<path d="M603.13,645.83A140.19,140.19 0 0 1 602.61,645.68L605.51,636.02A130.11,130.11 0 0 0 605.99,636.16Z" fill="#BDA4D9" />
<path d="M601.72,645.40A140.19,140.19 0 0 1 601.37,645.30L604.36,635.67A130.11,130.11 0 0 0 604.68,635.77Z" fill="#BDA4D9" />
<path d="M599.63,644.74A140.19,140.19 0 0 1 599.42,644.68L602.55,635.09A130.11,130.11 0 0 0 602.74,635.16Z" fill="#BDA4D9" />
<path d="M598.41,644.34A140.19,140.19 0 0 1 598.20,644.27L601.42,634.72A130.11,130.11 0 0 0 601.61,634.78Z" fill="#BDA4D9" />
<path d="M639.72,641.62A130.26,130.26 0 0 1 629.62,640.98L630.65,630.95A120.18,120.18 0 0 0 639.96,631.54Z" fill="#2CBDB1" />
<path d="M637.96,641.57A130.26,130.26 0 0 1 637.05,641.53L637.50,631.46A120.18,120.18 0 0 0 638.34,631.49Z" fill="#000000" />
<path d="M635.97,641.48A130.26,130.26 0 0 1 635.42,641.45L636.00,631.38A120.18,120.18 0 0 0 636.50,631.41Z" fill="#000000" />
<path d="M633.90,641.35A130.26,130.26 0 0 1 632.99,641.28L633.76,631.23A120.18,120.18 0 0 0 634.59,631.29Z" fill="#000000" />
<path d="M632.62,641.25A130.26,130.26 0 0 1 631.17,641.13L632.08,631.09A120.18,120.18 0 0 0 633.42,631.21Z" fill="#000000" />
<path d="M629.74,640.99A130.26,130.26 0 0 1 609.96,637.43L612.50,627.67A120.18,120.18 0 0 0 630.76,630.96Z" fill="#F28C8D" />
<path d="M628.86,640.90A130.26,130.26 0 0 1 628.50,640.86L629.61,630.84A120.18,120.18 0 0 0 629.95,630.88Z" fill="#C5DF4A" />
<path d="M627.64,640.76A130.26,130.26 0 0 1 627.10,640.70L628.32,630.69A120.18,120.18 0 0 0 628.82,630.75Z" fill="#C5DF4A" />
<path d="M626.65,640.64A130.26,130.26 0 0 1 626.44,640.62L627.71,630.62A120.18,120.18 0 0 0 627.91,630.64Z" fill="#C5DF4A" />
<path d="M625.45,640.49A130.26,130.26 0 0 1 624.01,640.28L625.48,630.31A120.18,120.18 0 0 0 626.80,630.50Z" fill="#C5DF4A" />
<path d="M623.22,640.17A130.26,130.26 0 0 1 622.86,640.11L624.41,630.15A120.18,120.18 0 0 0 624.75,630.20Z" fill="#C5DF4A" />
<path d="M620.43,639.71A130.26,130.26 0 0 1 620.21,639.67L621.97,629.74A120.18,120.18 0 0 0 622.16,629.78Z" fill="#BDA4D9" />
<path d="M618.92,639.43A130.26,130.26 0 0 1 618.03,639.26L619.95,629.37A120.18,120.18 0 0 0 620.78,629.53Z" fill="#C5DF4A" />
<path d="M615.97,638.85A130.26,130.26 0 0 1 614.55,638.54L616.74,628.70A120.18,120.18 0 0 0 618.05,628.98Z" fill="#C5DF4A" />
<path d="M612.91,638.16A130.26,130.26 0 0 1 612.02,637.95L614.41,628.15A120.18,120.18 0 0 0 615.23,628.35Z" fill="#BDA4D9" />
<path d="M610.53,637.57A130.26,130.26 0 0 1 610.17,637.48L612.71,627.73A120.18,120.18 0 0 0 613.03,627.81Z" fill="#BDA4D9" />
<path d="M610.07,637.45A130.26,130.26 0 0 1 600.38,634.53L603.67,625.00A120.18,120.18 0 0 0 612.61,627.70Z" fill="#BDA4D9" />
<path d="M608.37,637.00A130.26,130.26 0 0 1 608.02,636.90L610.72,627.19A120.18,120.18 0 0 0 611.04,627.28Z" fill="#C5DF4A" />
<path d="M605.94,636.31A130.26,130.26 0 0 1 604.55,635.89L607.52,626.25A120.18,120.18 0 0 0 608.80,626.64Z" fill="#C5DF4A" />
<path d="M603.67,635.61A130.26,130.26 0 0 1 603.46,635.55L606.51,625.94A120.18,120.18 0 0 0 606.70,626.00Z" fill="#C5DF4A" />
<path d="M602.15,635.12A130.26,130.26 0 0 1 601.29,634.84L604.51,625.28A120.18,120.18 0 0 0 605.31,625.55Z" fill="#C5DF4A" />
<path d="M639.96,631.69A120.33,120.33 0 0 1 630.64,631.10L631.66,621.08A110.25,110.25 0 0 0 640.21,621.62Z" fill="#C5DF4A" />
<path d="M630.74,631.11A120.33,120.33 0 0 1 603.63,625.14L606.92,615.61A110.25,110.25 0 0 0 631.76,621.09Z" fill="#F7B4B9" />
<path d="M640.20,621.77A110.40,110.40 0 0 1 631.65,621.23L632.67,611.20A100.32,100.32 0 0 0 640.45,611.69Z" fill="#F28C8D" />
<path d="M631.74,621.23A110.40,110.40 0 0 1 606.87,615.75L610.16,606.23A100.32,100.32 0 0 0 632.76,611.21Z" fill="#F7B4B9" />
<path d="M640.45,611.84A100.47,100.47 0 0 1 610.11,606.37L613.40,596.84A90.39,90.39 0 0 0 640.69,601.76Z" fill="#AEB5DF" />
<path d="M640.69,601.91A90.54,90.54 0 0 1 633.67,601.47L634.70,591.44A80.46,80.46 0 0 0 640.93,591.84Z" fill="#F28C8D" />
<path d="M633.75,601.48A90.54,90.54 0 0 1 613.35,596.98L616.64,587.45A80.46,80.46 0 0 0 634.77,591.45Z" fill="#F7B4B9" />
<path d="M640.93,591.99A80.61,80.61 0 0 1 616.59,587.60L619.88,578.07A70.53,70.53 0 0 0 641.18,581.91Z" fill="#AEB5DF" />
<path d="M641.17,582.06A70.68,70.68 0 0 1 619.83,578.21L623.12,568.68A60.60,60.60 0 0 0 641.42,571.98Z" fill="#C5DF4A" />
<path d="M594.03,653.34A150.12,150.12 0 0 1 561.91,637.80L567.35,629.31A140.04,140.04 0 0 0 597.31,643.81Z" fill="#F9D027" />
<path d="M591.62,652.49A150.12,150.12 0 0 1 591.42,652.42L594.88,642.95A140.04,140.04 0 0 0 595.07,643.02Z" fill="#F28C8D" />
<path d="M591.15,652.32A150.12,150.12 0 0 1 590.30,652.00L593.83,642.56A140.04,140.04 0 0 0 594.62,642.86Z" fill="#F28C8D" />
<path d="M588.11,651.16A150.12,150.12 0 0 1 587.27,650.83L591.01,641.47A140.04,140.04 0 0 0 591.79,641.78Z" fill="#F28C8D" />
<path d="M585.75,650.22A150.12,150.12 0 0 1 585.41,650.08L589.27,640.77A140.04,140.04 0 0 0 589.59,640.89Z" fill="#F28C8D" />
<path d="M583.37,649.21A150.12,150.12 0 0 1 583.04,649.07L587.06,639.83A140.04,140.04 0 0 0 587.37,639.96Z" fill="#F28C8D" />
<path d="M582.68,648.91A150.12,150.12 0 0 1 581.36,648.33L585.49,639.13A140.04,140.04 0 0 0 586.72,639.68Z" fill="#F28C8D" />
<path d="M580.57,647.97A150.12,150.12 0 0 1 579.26,647.36L583.53,638.23A140.04,140.04 0 0 0 584.75,638.80Z" fill="#F28C8D" />
<path d="M578.14,646.83A150.12,150.12 0 0 1 577.32,646.44L581.73,637.37A140.04,140.04 0 0 0 582.48,637.74Z" fill="#F28C8D" />
<path d="M575.49,645.53A150.12,150.12 0 0 1 574.68,645.12L579.26,636.15A140.04,140.04 0 0 0 580.01,636.53Z" fill="#F28C8D" />
<path d="M573.99,644.77A150.12,150.12 0 0 1 573.67,644.60L578.32,635.66A140.04,140.04 0 0 0 578.62,635.81Z" fill="#F28C8D" />
<path d="M571.35,643.37A150.12,150.12 0 0 1 570.87,643.11L575.71,634.27A140.04,140.04 0 0 0 576.15,634.51Z" fill="#F28C8D" />
<path d="M569.93,642.59A150.12,150.12 0 0 1 569.74,642.49L574.65,633.68A140.04,140.04 0 0 0 574.83,633.78Z" fill="#F28C8D" />
<path d="M567.77,641.37A150.12,150.12 0 0 1 566.52,640.64L571.65,631.96A140.04,140.04 0 0 0 572.81,632.64Z" fill="#F28C8D" />
<path d="M564.77,639.59A150.12,150.12 0 0 1 564.47,639.40L569.73,630.81A140.04,140.04 0 0 0 570.02,630.98Z" fill="#F28C8D" />
<path d="M564.15,639.21A150.12,150.12 0 0 1 563.97,639.10L569.27,630.52A140.04,140.04 0 0 0 569.44,630.63Z" fill="#F28C8D" />
<path d="M562.83,638.38A150.12,150.12 0 0 1 562.37,638.09L567.78,629.58A140.04,140.04 0 0 0 568.20,629.85Z" fill="#F28C8D" />
<path d="M597.26,643.95A140.19,140.19 0 0 1 567.27,629.44L572.70,620.95A130.11,130.11 0 0 0 600.54,634.42Z" fill="#C5DF4A" />
<path d="M596.28,643.61A140.19,140.19 0 0 1 594.92,643.12L598.37,633.65A130.11,130.11 0 0 0 599.63,634.11Z" fill="#F28C8D" />
<path d="M593.73,642.68A140.19,140.19 0 0 1 593.22,642.49L596.80,633.07A130.11,130.11 0 0 0 597.27,633.25Z" fill="#F28C8D" />
<path d="M591.95,642.00A140.19,140.19 0 0 1 591.10,641.67L594.83,632.30A130.11,130.11 0 0 0 595.61,632.61Z" fill="#F9D027" />
<path d="M589.39,640.97A140.19,140.19 0 0 1 588.05,640.41L591.99,631.14A130.11,130.11 0 0 0 593.24,631.66Z" fill="#F9D027" />
<path d="M585.86,639.46A140.19,140.19 0 0 1 585.66,639.37L589.77,630.17A130.11,130.11 0 0 0 589.96,630.25Z" fill="#F28C8D" />
<path d="M584.76,638.96A140.19,140.19 0 0 1 583.44,638.36L587.72,629.23A130.11,130.11 0 0 0 588.94,629.79Z" fill="#F9D027" />
<path d="M582.25,637.79A140.19,140.19 0 0 1 581.76,637.56L586.16,628.48A130.11,130.11 0 0 0 586.61,628.70Z" fill="#F28C8D" />
<path d="M580.22,636.80A140.19,140.19 0 0 1 580.03,636.70L584.55,627.69A130.11,130.11 0 0 0 584.73,627.78Z" fill="#F9D027" />
<path d="M578.58,635.96A140.19,140.19 0 0 1 577.78,635.55L582.46,626.62A130.11,130.11 0 0 0 583.21,627.01Z" fill="#F28C8D" />
<path d="M575.76,634.47A140.19,140.19 0 0 1 575.29,634.21L580.15,625.38A130.11,130.11 0 0 0 580.59,625.62Z" fill="#F9D027" />
<path d="M574.50,633.77A140.19,140.19 0 0 1 573.24,633.06L578.25,624.31A130.11,130.11 0 0 0 579.42,624.97Z" fill="#F9D027" />
<path d="M572.54,632.65A140.19,140.19 0 0 1 571.75,632.20L576.87,623.51A130.11,130.11 0 0 0 577.60,623.93Z" fill="#F9D027" />
<path d="M569.49,630.83A140.19,140.19 0 0 1 569.18,630.64L574.48,622.07A130.11,130.11 0 0 0 574.76,622.24Z" fill="#F9D027" />
<path d="M568.81,630.41A140.19,140.19 0 0 1 567.59,629.64L573.00,621.14A130.11,130.11 0 0 0 574.14,621.86Z" fill="#F28C8D" />
<path d="M600.49,634.56A130.26,130.26 0 0 1 572.62,621.08L578.06,612.59A120.18,120.18 0 0 0 603.77,625.03Z" fill="#C5DF4A" />
<path d="M600.07,634.42A130.26,130.26 0 0 1 599.56,634.24L602.91,624.73A120.18,120.18 0 0 0 603.39,624.90Z" fill="#F9D027" />
<path d="M597.99,633.67A130.26,130.26 0 0 1 597.48,633.48L600.99,624.04A120.18,120.18 0 0 0 601.46,624.21Z" fill="#F9D027" />
<path d="M595.64,632.78A130.26,130.26 0 0 1 594.29,632.25L598.05,622.90A120.18,120.18 0 0 0 599.30,623.39Z" fill="#F9D027" />
<path d="M592.82,631.65A130.26,130.26 0 0 1 592.62,631.57L596.51,622.27A120.18,120.18 0 0 0 596.70,622.34Z" fill="#F9D027" />
<path d="M590.71,630.75A130.26,130.26 0 0 1 589.38,630.16L593.52,620.97A120.18,120.18 0 0 0 594.75,621.51Z" fill="#F9D027" />
<path d="M587.37,629.23A130.26,130.26 0 0 1 586.05,628.60L590.45,619.53A120.18,120.18 0 0 0 591.66,620.11Z" fill="#F9D027" />
<path d="M585.21,628.19A130.26,130.26 0 0 1 583.91,627.54L588.48,618.55A120.18,120.18 0 0 0 589.67,619.15Z" fill="#F9D027" />
<path d="M582.54,626.83A130.26,130.26 0 0 1 581.73,626.41L586.47,617.51A120.18,120.18 0 0 0 587.21,617.90Z" fill="#F9D027" />
<path d="M581.13,626.08A130.26,130.26 0 0 1 580.33,625.65L585.17,616.81A120.18,120.18 0 0 0 585.91,617.21Z" fill="#F9D027" />
<path d="M579.48,625.18A130.26,130.26 0 0 1 578.69,624.73L583.65,615.96A120.18,120.18 0 0 0 584.39,616.37Z" fill="#F9D027" />
<path d="M578.23,624.47A130.26,130.26 0 0 1 578.04,624.37L583.06,615.62A120.18,120.18 0 0 0 583.24,615.72Z" fill="#F9D027" />
<path d="M576.84,623.67A130.26,130.26 0 0 1 575.59,622.92L580.80,614.29A120.18,120.18 0 0 0 581.95,614.98Z" fill="#F9D027" />
<path d="M574.19,622.07A130.26,130.26 0 0 1 573.73,621.78L579.08,613.24A120.18,120.18 0 0 0 579.51,613.50Z" fill="#F9D027" />
<path d="M603.72,625.17A120.33,120.33 0 0 1 594.76,621.68L598.79,612.44A110.25,110.25 0 0 0 607.01,615.64Z" fill="#F9D027" />
<path d="M594.85,621.72A120.33,120.33 0 0 1 586.19,617.53L590.94,608.64A110.25,110.25 0 0 0 598.88,612.48Z" fill="#000000" />
<path d="M594.43,621.53A120.33,120.33 0 0 1 593.93,621.31L598.03,612.11A110.25,110.25 0 0 0 598.49,612.31Z" fill="#F9D027" />
<path d="M592.16,620.51A120.33,120.33 0 0 1 591.83,620.36L596.11,611.23A110.25,110.25 0 0 0 596.41,611.37Z" fill="#F9D027" />
<path d="M590.05,619.50A120.33,120.33 0 0 1 589.72,619.34L594.18,610.30A110.25,110.25 0 0 0 594.48,610.45Z" fill="#F9D027" />
<path d="M588.23,618.59A120.33,120.33 0 0 1 586.93,617.92L591.62,609.00A110.25,110.25 0 0 0 592.81,609.61Z" fill="#F9D027" />
<path d="M586.28,617.58A120.33,120.33 0 0 1 577.98,612.72L583.42,604.23A110.25,110.25 0 0 0 591.03,608.68Z" fill="#F9D027" />
<path d="M606.96,615.79A110.40,110.40 0 0 1 583.34,604.35L588.78,595.87A100.32,100.32 0 0 0 610.24,606.25Z" fill="#F9D027" />
<path d="M605.20,615.16A110.40,110.40 0 0 1 604.85,615.04L608.33,605.57A100.32,100.32 0 0 0 608.64,605.69Z" fill="#F7B4B9" />
<path d="M603.18,614.41A110.40,110.40 0 0 1 601.81,613.87L605.56,604.51A100.32,100.32 0 0 0 606.80,605.00Z" fill="#F7B4B9" />
<path d="M601.09,613.58A110.40,110.40 0 0 1 600.88,613.49L604.72,604.17A100.32,100.32 0 0 0 604.90,604.25Z" fill="#F7B4B9" />
<path d="M598.60,612.52A110.40,110.40 0 0 1 598.40,612.44L602.47,603.21A100.32,100.32 0 0 0 602.65,603.29Z" fill="#F7B4B9" />
<path d="M597.56,612.06A110.40,110.40 0 0 1 596.73,611.68L600.94,602.52A100.32,100.32 0 0 0 601.70,602.87Z" fill="#F7B4B9" />
<path d="M594.96,610.85A110.40,110.40 0 0 1 594.76,610.75L599.15,601.68A100.32,100.32 0 0 0 599.33,601.77Z" fill="#F7B4B9" />
<path d="M592.65,609.70A110.40,110.40 0 0 1 592.33,609.53L596.94,600.57A100.32,100.32 0 0 0 597.24,600.73Z" fill="#F7B4B9" />
<path d="M590.58,608.62A110.40,110.40 0 0 1 590.10,608.36L594.92,599.50A100.32,100.32 0 0 0 595.36,599.74Z" fill="#F7B4B9" />
<path d="M588.08,607.23A110.40,110.40 0 0 1 587.60,606.95L592.65,598.23A100.32,100.32 0 0 0 593.08,598.48Z" fill="#F7B4B9" />
<path d="M586.44,606.27A110.40,110.40 0 0 1 585.18,605.51L590.45,596.92A100.32,100.32 0 0 0 591.59,597.61Z" fill="#F7B4B9" />
<path d="M610.19,606.40A100.47,100.47 0 0 1 588.70,595.99L594.13,587.51A90.39,90.39 0 0 0 613.47,596.87Z" fill="#2CBDB1" />
<path d="M609.41,606.12A100.47,100.47 0 0 1 609.06,606.00L612.46,596.51A90.39,90.39 0 0 0 612.77,596.62Z" fill="#BDA4D9" />
<path d="M608.45,605.78A100.47,100.47 0 0 1 607.93,605.59L611.44,596.14A90.39,90.39 0 0 0 611.90,596.31Z" fill="#BDA4D9" />
<path d="M605.66,604.71A100.47,100.47 0 0 1 605.32,604.58L609.09,595.23A90.39,90.39 0 0 0 609.40,595.35Z" fill="#BDA4D9" />
<path d="M603.02,603.61A100.47,100.47 0 0 1 602.68,603.47L606.71,594.23A90.39,90.39 0 0 0 607.02,594.36Z" fill="#BDA4D9" />
<path d="M601.63,603.00A100.47,100.47 0 0 1 601.13,602.77L605.32,593.61A90.39,90.39 0 0 0 605.77,593.81Z" fill="#BDA4D9" />
<path d="M599.18,601.86A100.47,100.47 0 0 1 598.69,601.62L603.12,592.57A90.39,90.39 0 0 0 603.57,592.78Z" fill="#BDA4D9" />
<path d="M597.39,600.97A100.47,100.47 0 0 1 597.20,600.87L601.78,591.90A90.39,90.39 0 0 0 601.96,591.99Z" fill="#BDA4D9" />
<path d="M595.88,600.19A100.47,100.47 0 0 1 595.69,600.09L600.43,591.19A90.39,90.39 0 0 0 600.60,591.28Z" fill="#BDA4D9" />
<path d="M593.81,599.06A100.47,100.47 0 0 1 592.53,598.33L597.59,589.61A90.39,90.39 0 0 0 598.74,590.27Z" fill="#BDA4D9" />
<path d="M592.08,598.07A100.47,100.47 0 0 1 591.89,597.96L597.01,589.28A90.39,90.39 0 0 0 597.18,589.38Z" fill="#BDA4D9" />
<path d="M590.07,596.86A100.47,100.47 0 0 1 589.29,596.37L594.67,587.85A90.39,90.39 0 0 0 595.37,588.29Z" fill="#BDA4D9" />
<path d="M613.42,597.01A90.54,90.54 0 0 1 594.05,587.63L599.49,579.15A80.46,80.46 0 0 0 616.70,587.48Z" fill="#F9D027" />
<path d="M616.66,587.62A80.61,80.61 0 0 1 599.41,579.27L604.85,570.78A70.53,70.53 0 0 0 619.94,578.09Z" fill="#2CBDB1" />
<path d="M619.89,578.23A70.68,70.68 0 0 1 604.77,570.91L610.21,562.42A60.60,60.60 0 0 0 623.17,568.70Z" fill="#2CBDB1" />
<path d="M562.02,637.87A150.12,150.12 0 0 1 537.54,618.34L544.61,611.16A140.04,140.04 0 0 0 567.45,629.38Z" fill="#C5DF4A" />
<path d="M537.63,618.43A150.12,150.12 0 0 1 530.38,610.77L537.94,604.10A140.04,140.04 0 0 0 544.70,611.24Z" fill="#2CBDB1" />
<path d="M567.37,629.50A140.19,140.19 0 0 1 551.67,617.84L558.23,610.19A130.11,130.11 0 0 0 572.80,621.01Z" fill="#2CBDB1" />
<path d="M551.76,617.92A140.19,140.19 0 0 1 537.82,604.20L545.38,597.53A130.11,130.11 0 0 0 558.31,610.26Z" fill="#AEB5DF" />
<path d="M550.79,617.09A140.19,140.19 0 0 1 549.71,616.13L556.41,608.60A130.11,130.11 0 0 0 557.42,609.49Z" fill="#2CBDB1" />
<path d="M548.52,615.06A140.19,140.19 0 0 1 548.35,614.91L555.15,607.47A130.11,130.11 0 0 0 555.30,607.60Z" fill="#2CBDB1" />
<path d="M546.93,613.59A140.19,140.19 0 0 1 546.54,613.22L553.47,605.90A130.11,130.11 0 0 0 553.83,606.25Z" fill="#2CBDB1" />
<path d="M545.53,612.26A140.19,140.19 0 0 1 545.14,611.88L552.17,604.65A130.11,130.11 0 0 0 552.53,605.00Z" fill="#2CBDB1" />
<path d="M543.98,610.74A140.19,140.19 0 0 1 543.60,610.36L550.74,603.24A130.11,130.11 0 0 0 551.10,603.60Z" fill="#2CBDB1" />
<path d="M542.80,609.55A140.19,140.19 0 0 1 542.54,609.29L549.76,602.25A130.11,130.11 0 0 0 549.99,602.49Z" fill="#2CBDB1" />
<path d="M541.85,608.57A140.19,140.19 0 0 1 541.70,608.41L548.97,601.44A130.11,130.11 0 0 0 549.11,601.58Z" fill="#2CBDB1" />
<path d="M540.90,607.58A140.19,140.19 0 0 1 540.29,606.92L547.66,600.05A130.11,130.11 0 0 0 548.24,600.66Z" fill="#2CBDB1" />
<path d="M539.66,606.24A140.19,140.19 0 0 1 539.51,606.08L546.95,599.27A130.11,130.11 0 0 0 547.08,599.42Z" fill="#2CBDB1" />
<path d="M572.72,621.14A130.26,130.26 0 0 1 565.19,615.94L571.20,607.85A120.18,120.18 0 0 0 578.15,612.65Z" fill="#2CBDB1" />
<path d="M565.28,616.01A130.26,130.26 0 0 1 558.13,610.30L564.69,602.65A120.18,120.18 0 0 0 571.29,607.91Z" fill="#F9D027" />
<path d="M558.22,610.38A130.26,130.26 0 0 1 551.48,604.19L558.55,597.01A120.18,120.18 0 0 0 564.77,602.72Z" fill="#F28C8D" />
<path d="M551.56,604.27A130.26,130.26 0 0 1 545.27,597.63L552.82,590.96A120.18,120.18 0 0 0 558.63,597.08Z" fill="#BDA4D9" />
<path d="M578.07,612.77A120.33,120.33 0 0 1 571.11,607.97L577.13,599.88A110.25,110.25 0 0 0 583.50,604.28Z" fill="#C5DF4A" />
<path d="M571.20,608.03A120.33,120.33 0 0 1 558.45,597.11L565.52,589.93A110.25,110.25 0 0 0 577.20,599.94Z" fill="#F7B4B9" />
<path d="M569.68,606.89A120.33,120.33 0 0 1 569.39,606.66L575.54,598.68A110.25,110.25 0 0 0 575.81,598.89Z" fill="#F28C8D" />
<path d="M568.13,605.68A120.33,120.33 0 0 1 567.00,604.77L573.35,596.95A110.25,110.25 0 0 0 574.40,597.78Z" fill="#F28C8D" />
<path d="M565.50,603.53A120.33,120.33 0 0 1 564.39,602.59L570.96,594.95A110.25,110.25 0 0 0 571.98,595.81Z" fill="#F28C8D" />
<path d="M563.43,601.75A120.33,120.33 0 0 1 562.74,601.15L569.46,593.63A110.25,110.25 0 0 0 570.08,594.18Z" fill="#F28C8D" />
<path d="M561.64,600.14A120.33,120.33 0 0 1 560.97,599.53L567.83,592.14A110.25,110.25 0 0 0 568.44,592.71Z" fill="#F28C8D" />
<path d="M559.84,598.46A120.33,120.33 0 0 1 558.79,597.45L565.83,590.24A110.25,110.25 0 0 0 566.79,591.17Z" fill="#F28C8D" />
<path d="M558.52,597.19A120.33,120.33 0 0 1 552.71,591.05L560.26,584.38A110.25,110.25 0 0 0 565.59,590.00Z" fill="#AEB5DF" />
<path d="M583.42,604.41A110.40,110.40 0 0 1 567.26,591.81L574.16,584.47A100.32,100.32 0 0 0 588.85,595.91Z" fill="#F7B4B9" />
<path d="M582.57,603.86A110.40,110.40 0 0 1 582.39,603.74L587.91,595.31A100.32,100.32 0 0 0 588.08,595.42Z" fill="#AEB5DF" />
<path d="M580.91,602.75A110.40,110.40 0 0 1 580.45,602.44L586.16,594.13A100.32,100.32 0 0 0 586.57,594.41Z" fill="#AEB5DF" />
<path d="M579.49,601.77A110.40,110.40 0 0 1 578.30,600.93L584.20,592.75A100.32,100.32 0 0 0 585.28,593.52Z" fill="#AEB5DF" />
<path d="M576.73,599.77A110.40,110.40 0 0 1 576.00,599.22L582.11,591.20A100.32,100.32 0 0 0 582.77,591.70Z" fill="#AEB5DF" />
<path d="M575.01,598.46A110.40,110.40 0 0 1 573.86,597.55L580.17,589.69A100.32,100.32 0 0 0 581.21,590.51Z" fill="#AEB5DF" />
<path d="M572.01,596.03A110.40,110.40 0 0 1 571.73,595.79L578.22,588.09A100.32,100.32 0 0 0 578.48,588.30Z" fill="#AEB5DF" />
<path d="M571.30,595.44A110.40,110.40 0 0 1 570.20,594.48L576.83,586.89A100.32,100.32 0 0 0 577.84,587.76Z" fill="#AEB5DF" />
<path d="M569.00,593.42A110.40,110.40 0 0 1 567.92,592.44L574.77,585.04A100.32,100.32 0 0 0 575.75,585.93Z" fill="#AEB5DF" />
<path d="M567.33,591.88A110.40,110.40 0 0 1 560.15,584.48L567.71,577.81A100.32,100.32 0 0 0 574.23,584.53Z" fill="#C5DF4A" />
<path d="M588.77,596.04A100.47,100.47 0 0 1 577.52,587.68L584.08,580.03A90.39,90.39 0 0 0 594.20,587.55Z" fill="#F28C8D" />
<path d="M577.58,587.74A100.47,100.47 0 0 1 567.59,577.91L575.15,571.24A90.39,90.39 0 0 0 584.14,580.08Z" fill="#AEB5DF" />
<path d="M594.12,587.68A90.54,90.54 0 0 1 587.22,582.80L593.42,574.85A80.46,80.46 0 0 0 599.55,579.18Z" fill="#F28C8D" />
<path d="M587.28,582.84A90.54,90.54 0 0 1 580.86,577.35L587.77,570.00A80.46,80.46 0 0 0 593.47,574.89Z" fill="#F7B4B9" />
<path d="M580.92,577.40A90.54,90.54 0 0 1 575.04,571.33L582.59,564.66A80.46,80.46 0 0 0 587.82,570.05Z" fill="#C5DF4A" />
<path d="M599.47,579.31A80.61,80.61 0 0 1 582.48,564.76L590.04,558.09A70.53,70.53 0 0 0 604.90,570.82Z" fill="#AEB5DF" />
<path d="M598.17,578.46A80.61,80.61 0 0 1 597.98,578.33L603.60,569.96A70.53,70.53 0 0 0 603.76,570.07Z" fill="#BDA4D9" />
<path d="M597.71,578.15A80.61,80.61 0 0 1 597.40,577.94L603.09,569.62A70.53,70.53 0 0 0 603.36,569.80Z" fill="#BDA4D9" />
<path d="M595.73,576.77A80.61,80.61 0 0 1 595.55,576.64L601.47,568.48A70.53,70.53 0 0 0 601.63,568.59Z" fill="#BDA4D9" />
<path d="M594.21,575.64A80.61,80.61 0 0 1 593.47,575.08L599.65,567.11A70.53,70.53 0 0 0 600.30,567.61Z" fill="#BDA4D9" />
<path d="M592.12,574.01A80.61,80.61 0 0 1 591.83,573.77L598.22,565.97A70.53,70.53 0 0 0 598.47,566.18Z" fill="#BDA4D9" />
<path d="M590.74,572.86A80.61,80.61 0 0 1 590.45,572.62L597.01,564.96A70.53,70.53 0 0 0 597.26,565.17Z" fill="#BDA4D9" />
<path d="M589.83,572.08A80.61,80.61 0 0 1 589.13,571.46L595.86,563.95A70.53,70.53 0 0 0 596.47,564.49Z" fill="#BDA4D9" />
<path d="M587.14,569.61A80.61,80.61 0 0 1 586.07,568.57L593.18,561.42A70.53,70.53 0 0 0 594.11,562.34Z" fill="#BDA4D9" />
<path d="M585.85,568.35A80.61,80.61 0 0 1 585.58,568.08L592.75,560.99A70.53,70.53 0 0 0 592.98,561.22Z" fill="#BDA4D9" />
<path d="M584.96,567.45A80.61,80.61 0 0 1 584.58,567.04L591.87,560.09A70.53,70.53 0 0 0 592.21,560.44Z" fill="#BDA4D9" />
<path d="M584.08,566.52A80.61,80.61 0 0 1 583.07,565.42L590.55,558.66A70.53,70.53 0 0 0 591.43,559.62Z" fill="#BDA4D9" />
<path d="M604.82,570.94A70.68,70.68 0 0 1 589.92,558.19L597.48,551.52A60.60,60.60 0 0 0 610.25,562.45Z" fill="#F9D027" />
<path d="M530.47,610.87A150.12,150.12 0 0 1 508.49,578.27L517.52,573.78A140.04,140.04 0 0 0 538.02,604.19Z" fill="#AEB5DF" />
<path d="M529.87,610.19A150.12,150.12 0 0 1 529.63,609.92L537.24,603.30A140.04,140.04 0 0 0 537.46,603.56Z" fill="#BDA4D9" />
<path d="M529.36,609.60A150.12,150.12 0 0 1 529.21,609.44L536.85,602.85A140.04,140.04 0 0 0 536.98,603.01Z" fill="#BDA4D9" />
<path d="M527.81,607.79A150.12,150.12 0 0 1 527.68,607.63L535.41,601.16A140.04,140.04 0 0 0 535.54,601.32Z" fill="#BDA4D9" />
<path d="M526.16,605.78A150.12,150.12 0 0 1 525.82,605.36L533.68,599.05A140.04,140.04 0 0 0 534.00,599.44Z" fill="#BDA4D9" />
<path d="M524.32,603.46A150.12,150.12 0 0 1 524.10,603.17L532.08,597.01A140.04,140.04 0 0 0 532.28,597.28Z" fill="#BDA4D9" />
<path d="M523.01,601.75A150.12,150.12 0 0 1 522.15,600.59L530.26,594.60A140.04,140.04 0 0 0 531.06,595.68Z" fill="#BDA4D9" />
<path d="M520.68,598.56A150.12,150.12 0 0 1 520.55,598.39L528.77,592.55A140.04,140.04 0 0 0 528.88,592.71Z" fill="#BDA4D9" />
<path d="M519.86,597.41A150.12,150.12 0 0 1 519.55,596.97L527.84,591.22A140.04,140.04 0 0 0 528.13,591.64Z" fill="#BDA4D9" />
<path d="M518.44,595.33A150.12,150.12 0 0 1 518.24,595.03L526.61,589.42A140.04,140.04 0 0 0 526.79,589.70Z" fill="#BDA4D9" />
<path d="M517.43,593.82A150.12,150.12 0 0 1 517.31,593.64L525.74,588.12A140.04,140.04 0 0 0 525.85,588.28Z" fill="#BDA4D9" />
<path d="M516.39,592.22A150.12,150.12 0 0 1 516.10,591.76L524.62,586.37A140.04,140.04 0 0 0 524.89,586.79Z" fill="#BDA4D9" />
<path d="M515.10,590.17A150.12,150.12 0 0 1 514.99,589.98L523.58,584.71A140.04,140.04 0 0 0 523.69,584.88Z" fill="#BDA4D9" />
<path d="M514.61,589.36A150.12,150.12 0 0 1 514.42,589.05L523.05,583.84A140.04,140.04 0 0 0 523.23,584.13Z" fill="#BDA4D9" />
<path d="M513.92,588.22A150.12,150.12 0 0 1 513.81,588.03L522.48,582.89A140.04,140.04 0 0 0 522.58,583.06Z" fill="#BDA4D9" />
<path d="M512.55,585.87A150.12,150.12 0 0 1 512.29,585.40L521.06,580.43A140.04,140.04 0 0 0 521.31,580.87Z" fill="#BDA4D9" />
<path d="M512.14,585.14A150.12,150.12 0 0 1 511.70,584.35L520.51,579.45A140.04,140.04 0 0 0 520.92,580.19Z" fill="#BDA4D9" />
<path d="M510.89,582.88A150.12,150.12 0 0 1 510.79,582.69L519.66,577.90A140.04,140.04 0 0 0 519.75,578.08Z" fill="#BDA4D9" />
<path d="M510.60,582.33A150.12,150.12 0 0 1 510.49,582.14L519.38,577.39A140.04,140.04 0 0 0 519.48,577.57Z" fill="#BDA4D9" />
<path d="M509.28,579.82A150.12,150.12 0 0 1 509.03,579.34L518.02,574.78A140.04,140.04 0 0 0 518.25,575.23Z" fill="#BDA4D9" />
<path d="M508.55,578.38A150.12,150.12 0 0 1 503.18,566.30L512.56,562.61A140.04,140.04 0 0 0 517.57,573.89Z" fill="#2CBDB1" />
<path d="M537.90,604.29A140.19,140.19 0 0 1 523.92,585.54L532.47,580.21A130.11,130.11 0 0 0 545.45,597.61Z" fill="#BDA4D9" />
<path d="M523.98,585.64A140.19,140.19 0 0 1 520.94,580.53L529.71,575.56A130.11,130.11 0 0 0 532.53,580.30Z" fill="#F9D027" />
<path d="M521.00,580.64A140.19,140.19 0 0 1 515.62,570.17L524.77,565.94A130.11,130.11 0 0 0 529.76,575.66Z" fill="#BDA4D9" />
<path d="M515.67,570.28A140.19,140.19 0 0 1 512.42,562.67L521.80,558.98A130.11,130.11 0 0 0 524.82,566.04Z" fill="#F9D027" />
<path d="M545.34,597.71A130.26,130.26 0 0 1 542.20,594.02L549.99,587.63A120.18,120.18 0 0 0 552.89,591.03Z" fill="#F28C8D" />
<path d="M542.27,594.11A130.26,130.26 0 0 1 531.28,578.55L539.92,573.36A120.18,120.18 0 0 0 550.06,587.71Z" fill="#C5DF4A" />
<path d="M531.34,578.65A130.26,130.26 0 0 1 529.85,576.10L538.59,571.10A120.18,120.18 0 0 0 539.98,573.45Z" fill="#000000" />
<path d="M529.90,576.20A130.26,130.26 0 0 1 525.44,567.72L534.53,563.36A120.18,120.18 0 0 0 538.65,571.19Z" fill="#C5DF4A" />
<path d="M525.49,567.82A130.26,130.26 0 0 1 521.66,559.03L531.04,555.35A120.18,120.18 0 0 0 534.58,563.45Z" fill="#AEB5DF" />
<path d="M552.78,591.13A120.33,120.33 0 0 1 530.90,555.40L540.29,551.72A110.25,110.25 0 0 0 560.33,584.45Z" fill="#AEB5DF" />
<path d="M552.30,590.59A120.33,120.33 0 0 1 551.35,589.49L559.02,582.95A110.25,110.25 0 0 0 559.89,583.96Z" fill="#F7B4B9" />
<path d="M550.40,588.36A120.33,120.33 0 0 1 549.47,587.23L557.30,580.88A110.25,110.25 0 0 0 558.14,581.91Z" fill="#F7B4B9" />
<path d="M548.62,586.17A120.33,120.33 0 0 1 548.05,585.45L556.00,579.25A110.25,110.25 0 0 0 556.52,579.91Z" fill="#F7B4B9" />
<path d="M547.76,585.08A120.33,120.33 0 0 1 547.63,584.90L555.61,578.75A110.25,110.25 0 0 0 555.73,578.91Z" fill="#F7B4B9" />
<path d="M547.18,584.32A120.33,120.33 0 0 1 546.63,583.59L554.69,577.54A110.25,110.25 0 0 0 555.20,578.21Z" fill="#F7B4B9" />
<path d="M545.26,581.73A120.33,120.33 0 0 1 544.42,580.54L552.67,574.75A110.25,110.25 0 0 0 553.44,575.84Z" fill="#F7B4B9" />
<path d="M543.24,578.84A120.33,120.33 0 0 1 542.94,578.38L551.31,572.77A110.25,110.25 0 0 0 551.59,573.19Z" fill="#F7B4B9" />
<path d="M542.32,577.45A120.33,120.33 0 0 1 542.20,577.26L550.63,571.75A110.25,110.25 0 0 0 550.74,571.91Z" fill="#F7B4B9" />
<path d="M541.68,576.47A120.33,120.33 0 0 1 540.90,575.24L549.44,569.89A110.25,110.25 0 0 0 550.16,571.02Z" fill="#F7B4B9" />
<path d="M539.63,573.16A120.33,120.33 0 0 1 539.44,572.85L548.11,567.70A110.25,110.25 0 0 0 548.28,567.99Z" fill="#F7B4B9" />
<path d="M539.12,572.30A120.33,120.33 0 0 1 539.01,572.11L547.71,567.03A110.25,110.25 0 0 0 547.81,567.20Z" fill="#F7B4B9" />
<path d="M537.86,570.11A120.33,120.33 0 0 1 537.16,568.83L546.02,564.02A110.25,110.25 0 0 0 546.66,565.19Z" fill="#F7B4B9" />
<path d="M536.36,567.33A120.33,120.33 0 0 1 536.19,567.00L545.13,562.34A110.25,110.25 0 0 0 545.28,562.64Z" fill="#F7B4B9" />
<path d="M535.86,566.36A120.33,120.33 0 0 1 535.44,565.55L544.45,561.02A110.25,110.25 0 0 0 544.82,561.76Z" fill="#F7B4B9" />
<path d="M534.85,564.36A120.33,120.33 0 0 1 534.75,564.16L543.81,559.74A110.25,110.25 0 0 0 543.90,559.92Z" fill="#F7B4B9" />
<path d="M534.56,563.75A120.33,120.33 0 0 1 533.93,562.44L543.06,558.16A110.25,110.25 0 0 0 543.63,559.37Z" fill="#F7B4B9" />
<path d="M533.40,561.28A120.33,120.33 0 0 1 533.02,560.45L542.23,556.34A110.25,110.25 0 0 0 542.57,557.11Z" fill="#F7B4B9" />
<path d="M532.53,559.34A120.33,120.33 0 0 1 532.17,558.50L541.45,554.56A110.25,110.25 0 0 0 541.78,555.33Z" fill="#F7B4B9" />
<path d="M532.02,558.15A120.33,120.33 0 0 1 531.47,556.81L540.80,553.00A110.25,110.25 0 0 0 541.31,554.24Z" fill="#F7B4B9" />
<path d="M531.18,556.11A120.33,120.33 0 0 1 530.98,555.60L540.36,551.90A110.25,110.25 0 0 0 540.54,552.36Z" fill="#F7B4B9" />
<path d="M560.22,584.55A110.40,110.40 0 0 1 554.10,576.99L562.21,571.00A100.32,100.32 0 0 0 567.76,577.87Z" fill="#F9D027" />
<path d="M554.15,577.07A110.40,110.40 0 0 1 544.06,560.57L553.08,556.08A100.32,100.32 0 0 0 562.26,571.07Z" fill="#F7B4B9" />
<path d="M544.10,560.66A110.40,110.40 0 0 1 540.15,551.77L549.53,548.09A100.32,100.32 0 0 0 553.12,556.16Z" fill="#F9D027" />
<path d="M567.65,577.97A100.47,100.47 0 0 1 549.39,548.14L558.77,544.45A90.39,90.39 0 0 0 575.20,571.29Z" fill="#F28C8D" />
<path d="M575.09,571.39A90.54,90.54 0 0 1 563.04,554.07L571.94,549.32A80.46,80.46 0 0 0 582.64,564.71Z" fill="#F7B4B9" />
<path d="M563.08,554.14A90.54,90.54 0 0 1 558.63,544.51L568.01,540.82A80.46,80.46 0 0 0 571.97,549.38Z" fill="#F9D027" />
<path d="M562.00,552.04A90.54,90.54 0 0 1 561.75,551.55L570.78,547.08A80.46,80.46 0 0 0 571.00,547.52Z" fill="#F7B4B9" />
<path d="M560.64,549.23A90.54,90.54 0 0 1 560.49,548.89L569.66,544.71A80.46,80.46 0 0 0 569.80,545.01Z" fill="#F7B4B9" />
<path d="M559.99,547.77A90.54,90.54 0 0 1 559.77,547.26L569.02,543.27A80.46,80.46 0 0 0 569.22,543.72Z" fill="#F7B4B9" />
<path d="M558.81,544.96A90.54,90.54 0 0 1 558.73,544.75L568.10,541.04A80.46,80.46 0 0 0 568.17,541.22Z" fill="#F7B4B9" />
<path d="M582.53,564.81A80.61,80.61 0 0 1 567.87,540.88L577.26,537.19A70.53,70.53 0 0 0 590.08,558.13Z" fill="#F28C8D" />
<path d="M581.94,564.14A80.61,80.61 0 0 1 581.79,563.97L589.43,557.40A70.53,70.53 0 0 0 589.56,557.55Z" fill="#F7B4B9" />
<path d="M580.62,562.57A80.61,80.61 0 0 1 580.26,562.14L588.10,555.80A70.53,70.53 0 0 0 588.40,556.17Z" fill="#F7B4B9" />
<path d="M579.91,561.70A80.61,80.61 0 0 1 579.77,561.52L587.66,555.25A70.53,70.53 0 0 0 587.78,555.41Z" fill="#F7B4B9" />
<path d="M578.30,559.61A80.61,80.61 0 0 1 577.96,559.16L586.08,553.19A70.53,70.53 0 0 0 586.37,553.58Z" fill="#F7B4B9" />
<path d="M576.38,556.93A80.61,80.61 0 0 1 575.86,556.16L584.24,550.56A70.53,70.53 0 0 0 584.70,551.24Z" fill="#F7B4B9" />
<path d="M574.43,553.94A80.61,80.61 0 0 1 574.23,553.62L582.82,548.34A70.53,70.53 0 0 0 582.99,548.62Z" fill="#F7B4B9" />
<path d="M573.57,552.52A80.61,80.61 0 0 1 572.82,551.23L581.58,546.25A70.53,70.53 0 0 0 582.24,547.38Z" fill="#F7B4B9" />
<path d="M572.52,550.70A80.61,80.61 0 0 1 572.41,550.50L581.22,545.61A70.53,70.53 0 0 0 581.32,545.78Z" fill="#F7B4B9" />
<path d="M571.54,548.89A80.61,80.61 0 0 1 571.28,548.39L580.24,543.77A70.53,70.53 0 0 0 580.46,544.20Z" fill="#F7B4B9" />
<path d="M570.79,547.43A80.61,80.61 0 0 1 570.14,546.09L579.23,541.75A70.53,70.53 0 0 0 579.81,542.92Z" fill="#F7B4B9" />
<path d="M569.81,545.40A80.61,80.61 0 0 1 569.42,544.55L578.61,540.41A70.53,70.53 0 0 0 578.95,541.15Z" fill="#F7B4B9" />
<path d="M569.04,543.70A80.61,80.61 0 0 1 568.82,543.18L578.08,539.21A70.53,70.53 0 0 0 578.28,539.66Z" fill="#F7B4B9" />
<path d="M568.20,541.69A80.61,80.61 0 0 1 567.99,541.17L577.36,537.45A70.53,70.53 0 0 0 577.54,537.90Z" fill="#F7B4B9" />
<path d="M589.96,558.23A70.68,70.68 0 0 1 577.12,537.25L586.50,533.56A60.60,60.60 0 0 0 597.51,551.55Z" fill="#BDA4D9" />
<path d="M503.23,566.42A150.12,150.12 0 0 1 496.37,544.02L506.21,541.83A140.04,140.04 0 0 0 512.60,562.72Z" fill="#2CBDB1" />
<path d="M502.83,565.40A150.12,150.12 0 0 1 502.75,565.20L512.16,561.59A140.04,140.04 0 0 0 512.24,561.78Z" fill="#C5DF4A" />
<path d="M502.65,564.93A150.12,150.12 0 0 1 502.57,564.73L511.99,561.15A140.04,140.04 0 0 0 512.07,561.34Z" fill="#C5DF4A" />
<path d="M501.94,563.04A150.12,150.12 0 0 1 501.63,562.19L511.12,558.78A140.04,140.04 0 0 0 511.41,559.57Z" fill="#C5DF4A" />
<path d="M501.48,561.78A150.12,150.12 0 0 1 501.36,561.44L510.87,558.08A140.04,140.04 0 0 0 510.98,558.39Z" fill="#C5DF4A" />
<path d="M501.13,560.77A150.12,150.12 0 0 1 500.84,559.92L510.37,556.66A140.04,140.04 0 0 0 510.65,557.45Z" fill="#C5DF4A" />
<path d="M500.05,557.54A150.12,150.12 0 0 1 499.77,556.68L509.38,553.64A140.04,140.04 0 0 0 509.64,554.44Z" fill="#C5DF4A" />
<path d="M499.46,555.69A150.12,150.12 0 0 1 499.20,554.82L508.85,551.91A140.04,140.04 0 0 0 509.09,552.71Z" fill="#C5DF4A" />
<path d="M498.90,553.84A150.12,150.12 0 0 1 498.65,552.97L508.34,550.18A140.04,140.04 0 0 0 508.57,550.99Z" fill="#C5DF4A" />
<path d="M497.99,550.61A150.12,150.12 0 0 1 497.90,550.26L507.63,547.65A140.04,140.04 0 0 0 507.72,547.98Z" fill="#C5DF4A" />
<path d="M497.45,548.57A150.12,150.12 0 0 1 497.37,548.22L507.14,545.75A140.04,140.04 0 0 0 507.22,546.08Z" fill="#C5DF4A" />
<path d="M497.06,546.97A150.12,150.12 0 0 1 496.97,546.62L506.77,544.26A140.04,140.04 0 0 0 506.85,544.59Z" fill="#C5DF4A" />
<path d="M496.59,545.02A150.12,150.12 0 0 1 496.47,544.50L506.31,542.27A140.04,140.04 0 0 0 506.42,542.77Z" fill="#C5DF4A" />
<path d="M496.40,544.15A150.12,150.12 0 0 1 493.08,520.96L503.14,520.32A140.04,140.04 0 0 0 506.23,541.95Z" fill="#C5DF4A" />
<path d="M496.26,543.55A150.12,150.12 0 0 1 496.15,543.02L506.00,540.90A140.04,140.04 0 0 0 506.11,541.39Z" fill="#F9D027" />
<path d="M495.82,541.47A150.12,150.12 0 0 1 495.71,540.94L505.60,538.95A140.04,140.04 0 0 0 505.70,539.45Z" fill="#F9D027" />
<path d="M495.63,540.52A150.12,150.12 0 0 1 495.59,540.31L505.48,538.37A140.04,140.04 0 0 0 505.52,538.57Z" fill="#F9D027" />
<path d="M495.43,539.50A150.12,150.12 0 0 1 495.39,539.29L505.30,537.41A140.04,140.04 0 0 0 505.33,537.61Z" fill="#F9D027" />
<path d="M494.98,537.02A150.12,150.12 0 0 1 494.92,536.66L504.86,534.96A140.04,140.04 0 0 0 504.91,535.30Z" fill="#F9D027" />
<path d="M494.82,536.08A150.12,150.12 0 0 1 494.59,534.65L504.55,533.09A140.04,140.04 0 0 0 504.77,534.42Z" fill="#F9D027" />
<path d="M494.23,532.22A150.12,150.12 0 0 1 494.16,531.68L504.14,530.32A140.04,140.04 0 0 0 504.21,530.82Z" fill="#F9D027" />
<path d="M493.85,529.32A150.12,150.12 0 0 1 493.69,527.88L503.71,526.77A140.04,140.04 0 0 0 503.86,528.11Z" fill="#F9D027" />
<path d="M493.45,525.56A150.12,150.12 0 0 1 493.32,524.12L503.36,523.27A140.04,140.04 0 0 0 503.48,524.61Z" fill="#F9D027" />
<path d="M493.24,523.16A150.12,150.12 0 0 1 493.20,522.62L503.25,521.87A140.04,140.04 0 0 0 503.29,522.37Z" fill="#F9D027" />
<path d="M512.46,562.78A140.19,140.19 0 0 1 506.06,541.86L515.90,539.67A130.11,130.11 0 0 0 521.84,559.09Z" fill="#BDA4D9" />
<path d="M506.09,541.98A140.19,140.19 0 0 1 502.99,520.32L513.05,519.68A130.11,130.11 0 0 0 515.92,539.78Z" fill="#2CBDB1" />
<path d="M505.80,540.68A140.19,140.19 0 0 1 505.69,540.15L515.55,538.08A130.11,130.11 0 0 0 515.66,538.57Z" fill="#C5DF4A" />
<path d="M505.35,538.46A140.19,140.19 0 0 1 505.07,537.04L514.98,535.20A130.11,130.11 0 0 0 515.24,536.52Z" fill="#C5DF4A" />
<path d="M504.81,535.57A140.19,140.19 0 0 1 504.77,535.35L514.70,533.63A130.11,130.11 0 0 0 514.74,533.83Z" fill="#C5DF4A" />
<path d="M504.58,534.23A140.19,140.19 0 0 1 504.49,533.69L514.45,532.09A130.11,130.11 0 0 0 514.53,532.59Z" fill="#C5DF4A" />
<path d="M504.10,531.08A140.19,140.19 0 0 1 504.02,530.54L514.01,529.17A130.11,130.11 0 0 0 514.08,529.67Z" fill="#C5DF4A" />
<path d="M503.84,529.19A140.19,140.19 0 0 1 503.67,527.75L513.68,526.57A130.11,130.11 0 0 0 513.84,527.91Z" fill="#C5DF4A" />
<path d="M503.43,525.56A140.19,140.19 0 0 1 503.34,524.66L513.37,523.71A130.11,130.11 0 0 0 513.46,524.55Z" fill="#C5DF4A" />
<path d="M503.12,522.18A140.19,140.19 0 0 1 503.06,521.27L513.11,520.56A130.11,130.11 0 0 0 513.18,521.40Z" fill="#C5DF4A" />
<path d="M503.03,520.80A140.19,140.19 0 0 1 503.01,520.58L513.07,519.92A130.11,130.11 0 0 0 513.08,520.12Z" fill="#C5DF4A" />
<path d="M521.70,559.14A130.26,130.26 0 0 1 512.90,519.69L522.96,519.05A120.18,120.18 0 0 0 531.08,555.45Z" fill="#AEB5DF" />
<path d="M521.53,558.70A130.26,130.26 0 0 1 521.40,558.36L530.80,554.73A120.18,120.18 0 0 0 530.92,555.04Z" fill="#2CBDB1" />
<path d="M521.17,557.76A130.26,130.26 0 0 1 520.85,556.91L530.29,553.39A120.18,120.18 0 0 0 530.59,554.17Z" fill="#2CBDB1" />
<path d="M520.26,555.29A130.26,130.26 0 0 1 520.14,554.95L529.64,551.58A120.18,120.18 0 0 0 529.75,551.90Z" fill="#2CBDB1" />
<path d="M519.53,553.22A130.26,130.26 0 0 1 519.36,552.70L528.92,549.50A120.18,120.18 0 0 0 529.08,549.98Z" fill="#2CBDB1" />
<path d="M518.99,551.56A130.26,130.26 0 0 1 518.87,551.21L528.47,548.13A120.18,120.18 0 0 0 528.57,548.45Z" fill="#2CBDB1" />
<path d="M518.78,550.93A130.26,130.26 0 0 1 518.67,550.59L528.29,547.55A120.18,120.18 0 0 0 528.39,547.87Z" fill="#2CBDB1" />
<path d="M518.49,549.99A130.26,130.26 0 0 1 518.38,549.64L528.02,546.68A120.18,120.18 0 0 0 528.11,547.00Z" fill="#2CBDB1" />
<path d="M518.22,549.11A130.26,130.26 0 0 1 518.16,548.90L527.81,546.00A120.18,120.18 0 0 0 527.87,546.19Z" fill="#2CBDB1" />
<path d="M517.93,548.14A130.26,130.26 0 0 1 517.68,547.27L527.37,544.49A120.18,120.18 0 0 0 527.60,545.30Z" fill="#2CBDB1" />
<path d="M517.21,545.60A130.26,130.26 0 0 1 517.15,545.39L526.88,542.76A120.18,120.18 0 0 0 526.94,542.95Z" fill="#2CBDB1" />
<path d="M516.52,542.96A130.26,130.26 0 0 1 516.39,542.43L526.18,540.03A120.18,120.18 0 0 0 526.30,540.51Z" fill="#2CBDB1" />
<path d="M516.09,541.16A130.26,130.26 0 0 1 516.04,540.95L525.85,538.66A120.18,120.18 0 0 0 525.90,538.86Z" fill="#2CBDB1" />
<path d="M515.68,539.39A130.26,130.26 0 0 1 515.57,538.85L525.42,536.73A120.18,120.18 0 0 0 525.53,537.22Z" fill="#2CBDB1" />
<path d="M515.31,537.64A130.26,130.26 0 0 1 515.24,537.28L525.12,535.28A120.18,120.18 0 0 0 525.18,535.61Z" fill="#2CBDB1" />
<path d="M514.77,534.87A130.26,130.26 0 0 1 514.71,534.51L524.63,532.72A120.18,120.18 0 0 0 524.69,533.05Z" fill="#2CBDB1" />
<path d="M514.45,533.07A130.26,130.26 0 0 1 514.36,532.53L524.31,530.89A120.18,120.18 0 0 0 524.39,531.39Z" fill="#2CBDB1" />
<path d="M514.24,531.75A130.26,130.26 0 0 1 514.21,531.54L524.17,529.98A120.18,120.18 0 0 0 524.20,530.18Z" fill="#2CBDB1" />
<path d="M513.85,529.08A130.26,130.26 0 0 1 513.72,528.18L523.72,526.88A120.18,120.18 0 0 0 523.83,527.71Z" fill="#2CBDB1" />
<path d="M513.59,527.13A130.26,130.26 0 0 1 513.49,526.23L523.50,525.09A120.18,120.18 0 0 0 523.60,525.92Z" fill="#2CBDB1" />
<path d="M513.25,524.01A130.26,130.26 0 0 1 513.22,523.65L523.25,522.70A120.18,120.18 0 0 0 523.28,523.04Z" fill="#2CBDB1" />
<path d="M513.02,521.36A130.26,130.26 0 0 1 512.92,519.91L522.98,519.25A120.18,120.18 0 0 0 523.07,520.59Z" fill="#2CBDB1" />
<path d="M530.94,555.50A120.33,120.33 0 0 1 526.96,543.59L536.67,540.89A110.25,110.25 0 0 0 540.32,551.81Z" fill="#AEB5DF" />
<path d="M526.98,543.69A120.33,120.33 0 0 1 524.25,531.43L534.19,529.75A110.25,110.25 0 0 0 536.69,540.99Z" fill="#2CBDB1" />
<path d="M524.27,531.54A120.33,120.33 0 0 1 522.81,519.06L532.87,518.42A110.25,110.25 0 0 0 534.20,529.85Z" fill="#C5DF4A" />
<path d="M540.18,551.86A110.40,110.40 0 0 1 536.52,540.93L546.24,538.24A100.32,100.32 0 0 0 549.56,548.17Z" fill="#AEB5DF" />
<path d="M536.55,541.03A110.40,110.40 0 0 1 532.72,518.43L542.78,517.79A100.32,100.32 0 0 0 546.26,538.32Z" fill="#F28C8D" />
<path d="M536.15,539.55A110.40,110.40 0 0 1 536.06,539.20L545.81,536.66A100.32,100.32 0 0 0 545.90,536.98Z" fill="#2CBDB1" />
<path d="M535.54,537.15A110.40,110.40 0 0 1 535.42,536.61L545.23,534.31A100.32,100.32 0 0 0 545.35,534.80Z" fill="#2CBDB1" />
<path d="M534.90,534.29A110.40,110.40 0 0 1 534.82,533.94L544.69,531.88A100.32,100.32 0 0 0 544.76,532.20Z" fill="#2CBDB1" />
<path d="M534.74,533.51A110.40,110.40 0 0 1 534.45,532.07L544.35,530.18A100.32,100.32 0 0 0 544.61,531.49Z" fill="#2CBDB1" />
<path d="M534.30,531.24A110.40,110.40 0 0 1 534.23,530.88L544.15,529.10A100.32,100.32 0 0 0 544.21,529.43Z" fill="#2CBDB1" />
<path d="M533.98,529.42A110.40,110.40 0 0 1 533.84,528.52L543.79,526.96A100.32,100.32 0 0 0 543.93,527.78Z" fill="#2CBDB1" />
<path d="M533.72,527.76A110.40,110.40 0 0 1 533.69,527.55L543.66,526.07A100.32,100.32 0 0 0 543.69,526.27Z" fill="#2CBDB1" />
<path d="M533.57,526.73A110.40,110.40 0 0 1 533.38,525.27L543.38,524.01A100.32,100.32 0 0 0 543.55,525.33Z" fill="#2CBDB1" />
<path d="M533.30,524.68A110.40,110.40 0 0 1 533.14,523.23L543.16,522.15A100.32,100.32 0 0 0 543.31,523.47Z" fill="#2CBDB1" />
<path d="M533.01,521.97A110.40,110.40 0 0 1 532.96,521.42L542.99,520.51A100.32,100.32 0 0 0 543.04,521.00Z" fill="#2CBDB1" />
<path d="M532.78,519.26A110.40,110.40 0 0 1 532.76,519.04L542.82,518.35A100.32,100.32 0 0 0 542.83,518.54Z" fill="#2CBDB1" />
<path d="M549.42,548.22A100.47,100.47 0 0 1 546.09,538.28L555.80,535.58A90.39,90.39 0 0 0 558.80,544.53Z" fill="#2CBDB1" />
<path d="M546.12,538.36A100.47,100.47 0 0 1 542.63,517.80L552.69,517.15A90.39,90.39 0 0 0 555.83,535.66Z" fill="#AEB5DF" />
<path d="M545.69,536.78A100.47,100.47 0 0 1 545.55,536.24L555.32,533.75A90.39,90.39 0 0 0 555.44,534.23Z" fill="#2CBDB1" />
<path d="M545.00,533.98A100.47,100.47 0 0 1 544.80,533.08L554.64,530.91A90.39,90.39 0 0 0 554.82,531.72Z" fill="#2CBDB1" />
<path d="M544.61,532.21A100.47,100.47 0 0 1 544.50,531.67L554.37,529.63A90.39,90.39 0 0 0 554.47,530.12Z" fill="#2CBDB1" />
<path d="M544.00,529.09A100.47,100.47 0 0 1 543.93,528.72L553.86,526.99A90.39,90.39 0 0 0 553.92,527.31Z" fill="#2CBDB1" />
<path d="M543.65,527.03A100.47,100.47 0 0 1 543.62,526.81L553.58,525.27A90.39,90.39 0 0 0 553.61,525.46Z" fill="#2CBDB1" />
<path d="M543.25,524.18A100.47,100.47 0 0 1 543.07,522.72L553.09,521.59A90.39,90.39 0 0 0 553.24,522.90Z" fill="#2CBDB1" />
<path d="M542.90,521.15A100.47,100.47 0 0 1 542.82,520.24L552.86,519.35A90.39,90.39 0 0 0 552.94,520.17Z" fill="#2CBDB1" />
<path d="M542.78,519.72A100.47,100.47 0 0 1 542.76,519.50L552.80,518.69A90.39,90.39 0 0 0 552.82,518.89Z" fill="#2CBDB1" />
<path d="M558.66,544.58A90.54,90.54 0 0 1 552.54,517.16L562.60,516.52A80.46,80.46 0 0 0 568.04,540.89Z" fill="#2CBDB1" />
<path d="M557.87,542.49A90.54,90.54 0 0 1 557.55,541.62L567.06,538.26A80.46,80.46 0 0 0 567.33,539.03Z" fill="#F28C8D" />
<path d="M557.21,540.65A90.54,90.54 0 0 1 556.92,539.77L566.49,536.61A80.46,80.46 0 0 0 566.75,537.39Z" fill="#F28C8D" />
<path d="M556.67,539.01A90.54,90.54 0 0 1 556.23,537.60L565.88,534.68A80.46,80.46 0 0 0 566.27,535.94Z" fill="#F28C8D" />
<path d="M555.81,536.16A90.54,90.54 0 0 1 555.75,535.95L565.45,533.21A80.46,80.46 0 0 0 565.51,533.40Z" fill="#F28C8D" />
<path d="M555.41,534.68A90.54,90.54 0 0 1 555.35,534.47L565.10,531.90A80.46,80.46 0 0 0 565.15,532.09Z" fill="#F28C8D" />
<path d="M555.13,533.62A90.54,90.54 0 0 1 554.91,532.72L564.70,530.35A80.46,80.46 0 0 0 564.90,531.14Z" fill="#F28C8D" />
<path d="M554.66,531.68A90.54,90.54 0 0 1 554.61,531.47L564.44,529.23A80.46,80.46 0 0 0 564.48,529.42Z" fill="#F28C8D" />
<path d="M554.32,530.14A90.54,90.54 0 0 1 554.21,529.60L564.08,527.57A80.46,80.46 0 0 0 564.18,528.06Z" fill="#F28C8D" />
<path d="M553.98,528.46A90.54,90.54 0 0 1 553.71,527.00L563.64,525.26A80.46,80.46 0 0 0 563.88,526.56Z" fill="#F28C8D" />
<path d="M553.61,526.41A90.54,90.54 0 0 1 553.58,526.19L563.52,524.55A80.46,80.46 0 0 0 563.55,524.74Z" fill="#F28C8D" />
<path d="M553.32,524.57A90.54,90.54 0 0 1 553.29,524.35L563.27,522.91A80.46,80.46 0 0 0 563.30,523.10Z" fill="#F28C8D" />
<path d="M553.19,523.63A90.54,90.54 0 0 1 553.00,522.16L563.01,520.96A80.46,80.46 0 0 0 563.18,522.27Z" fill="#F28C8D" />
<path d="M552.89,521.15A90.54,90.54 0 0 1 552.83,520.60L562.86,519.58A80.46,80.46 0 0 0 562.91,520.07Z" fill="#F28C8D" />
<path d="M552.61,518.14A90.54,90.54 0 0 1 552.59,517.92L562.65,517.19A80.46,80.46 0 0 0 562.66,517.39Z" fill="#F28C8D" />
<path d="M567.90,540.94A80.61,80.61 0 0 1 562.45,516.53L572.51,515.89A70.53,70.53 0 0 0 577.28,537.25Z" fill="#AEB5DF" />
<path d="M567.67,540.37A80.61,80.61 0 0 1 567.48,539.85L576.91,536.29A70.53,70.53 0 0 0 577.08,536.75Z" fill="#2CBDB1" />
<path d="M567.24,539.21A80.61,80.61 0 0 1 566.74,537.80L576.26,534.50A70.53,70.53 0 0 0 576.70,535.73Z" fill="#2CBDB1" />
<path d="M566.03,535.65A80.61,80.61 0 0 1 565.59,534.23L575.26,531.37A70.53,70.53 0 0 0 575.64,532.62Z" fill="#2CBDB1" />
<path d="M565.44,533.73A80.61,80.61 0 0 1 565.34,533.37L575.04,530.62A70.53,70.53 0 0 0 575.13,530.94Z" fill="#2CBDB1" />
<path d="M564.72,531.05A80.61,80.61 0 0 1 564.59,530.51L574.38,528.12A70.53,70.53 0 0 0 574.50,528.59Z" fill="#2CBDB1" />
<path d="M564.27,529.18A80.61,80.61 0 0 1 564.07,528.27L573.93,526.16A70.53,70.53 0 0 0 574.11,526.95Z" fill="#2CBDB1" />
<path d="M563.74,526.63A80.61,80.61 0 0 1 563.64,526.08L573.55,524.24A70.53,70.53 0 0 0 573.64,524.72Z" fill="#2CBDB1" />
<path d="M563.54,525.54A80.61,80.61 0 0 1 563.44,524.99L573.38,523.29A70.53,70.53 0 0 0 573.46,523.77Z" fill="#2CBDB1" />
<path d="M563.39,524.70A80.61,80.61 0 0 1 563.16,523.22L573.13,521.75A70.53,70.53 0 0 0 573.34,523.03Z" fill="#2CBDB1" />
<path d="M563.09,522.71A80.61,80.61 0 0 1 563.04,522.34L573.02,520.97A70.53,70.53 0 0 0 573.07,521.29Z" fill="#2CBDB1" />
<path d="M562.89,521.20A80.61,80.61 0 0 1 562.72,519.72L572.75,518.68A70.53,70.53 0 0 0 572.89,519.98Z" fill="#2CBDB1" />
<path d="M562.60,518.43A80.61,80.61 0 0 1 562.48,516.94L572.54,516.25A70.53,70.53 0 0 0 572.64,517.55Z" fill="#2CBDB1" />
<path d="M577.14,537.30A70.68,70.68 0 0 1 572.36,515.90L582.42,515.26A60.60,60.60 0 0 0 586.52,533.61Z" fill="#F28C8D" />
<path d="M493.09,521.09A150.12,150.12 0 0 1 494.26,490.38L504.24,491.79A140.04,140.04 0 0 0 503.15,520.44Z" fill="#C5DF4A" />
<path d="M493.04,520.19A150.12,150.12 0 0 1 492.99,519.29L503.05,518.76A140.04,140.04 0 0 0 503.10,519.60Z" fill="#F9D027" />
<path d="M492.91,517.71A150.12,150.12 0 0 1 492.86,516.27L502.93,515.94A140.04,140.04 0 0 0 502.98,517.29Z" fill="#F9D027" />
<path d="M492.81,514.64A150.12,150.12 0 0 1 492.79,513.19L502.87,513.07A140.04,140.04 0 0 0 502.89,514.42Z" fill="#2CBDB1" />
<path d="M492.79,512.90A150.12,150.12 0 0 1 492.78,512.54L502.86,512.46A140.04,140.04 0 0 0 502.87,512.80Z" fill="#2CBDB1" />
<path d="M492.78,510.77A150.12,150.12 0 0 1 492.79,509.86L502.87,509.97A140.04,140.04 0 0 0 502.86,510.81Z" fill="#2CBDB1" />
<path d="M492.80,509.16A150.12,150.12 0 0 1 492.81,508.25L502.89,508.47A140.04,140.04 0 0 0 502.88,509.31Z" fill="#F9D027" />
<path d="M492.86,506.44A150.12,150.12 0 0 1 492.88,505.90L502.95,506.27A140.04,140.04 0 0 0 502.94,506.77Z" fill="#F9D027" />
<path d="M492.93,504.60A150.12,150.12 0 0 1 492.94,504.38L503.01,504.85A140.04,140.04 0 0 0 503.00,505.06Z" fill="#F9D027" />
<path d="M493.02,502.98A150.12,150.12 0 0 1 493.04,502.62L503.10,503.21A140.04,140.04 0 0 0 503.08,503.54Z" fill="#2CBDB1" />
<path d="M493.07,502.12A150.12,150.12 0 0 1 493.10,501.58L503.16,502.24A140.04,140.04 0 0 0 503.13,502.74Z" fill="#2CBDB1" />
<path d="M493.19,500.26A150.12,150.12 0 0 1 493.26,499.36L503.31,500.17A140.04,140.04 0 0 0 503.25,501.01Z" fill="#F9D027" />
<path d="M493.38,497.97A150.12,150.12 0 0 1 493.43,497.43L503.47,498.37A140.04,140.04 0 0 0 503.42,498.87Z" fill="#2CBDB1" />
<path d="M493.58,495.95A150.12,150.12 0 0 1 493.63,495.41L503.66,496.49A140.04,140.04 0 0 0 503.60,496.99Z" fill="#F9D027" />
<path d="M493.70,494.77A150.12,150.12 0 0 1 493.87,493.33L503.88,494.54A140.04,140.04 0 0 0 503.72,495.88Z" fill="#2CBDB1" />
<path d="M494.07,491.72A150.12,150.12 0 0 1 494.10,491.51L504.09,492.85A140.04,140.04 0 0 0 504.07,493.05Z" fill="#F9D027" />
<path d="M494.24,490.51A150.12,150.12 0 0 1 496.03,480.32L505.89,482.40A140.04,140.04 0 0 0 504.22,491.91Z" fill="#F7B4B9" />
<path d="M503.00,520.45A140.19,140.19 0 0 1 504.09,491.77L514.07,493.18A130.11,130.11 0 0 0 513.06,519.80Z" fill="#F9D027" />
<path d="M504.07,491.89A140.19,140.19 0 0 1 505.75,482.37L515.61,484.46A130.11,130.11 0 0 0 514.06,493.29Z" fill="#2CBDB1" />
<path d="M512.91,519.81A130.26,130.26 0 0 1 513.92,493.16L523.90,494.57A120.18,120.18 0 0 0 522.97,519.16Z" fill="#F28C8D" />
<path d="M512.78,517.53A130.26,130.26 0 0 1 512.77,517.31L522.84,516.85A120.18,120.18 0 0 0 522.85,517.05Z" fill="#F7B4B9" />
<path d="M512.73,516.27A130.26,130.26 0 0 1 512.71,515.72L522.79,515.39A120.18,120.18 0 0 0 522.80,515.89Z" fill="#F7B4B9" />
<path d="M512.68,514.70A130.26,130.26 0 0 1 512.67,514.33L522.75,514.11A120.18,120.18 0 0 0 522.76,514.44Z" fill="#F7B4B9" />
<path d="M512.65,512.64A130.26,130.26 0 0 1 512.64,511.19L522.72,511.20A120.18,120.18 0 0 0 522.73,512.54Z" fill="#AEB5DF" />
<path d="M512.65,510.10A130.26,130.26 0 0 1 512.65,509.73L522.73,509.86A120.18,120.18 0 0 0 522.73,510.20Z" fill="#F7B4B9" />
<path d="M512.67,508.63A130.26,130.26 0 0 1 512.69,507.73L522.77,508.01A120.18,120.18 0 0 0 522.75,508.85Z" fill="#F7B4B9" />
<path d="M512.71,507.00A130.26,130.26 0 0 1 512.72,506.78L522.80,507.14A120.18,120.18 0 0 0 522.79,507.34Z" fill="#F7B4B9" />
<path d="M512.75,506.04A130.26,130.26 0 0 1 512.77,505.50L522.84,505.95A120.18,120.18 0 0 0 522.82,506.46Z" fill="#AEB5DF" />
<path d="M512.89,503.38A130.26,130.26 0 0 1 512.92,502.84L522.98,503.50A120.18,120.18 0 0 0 522.95,504.00Z" fill="#F7B4B9" />
<path d="M513.02,501.48A130.26,130.26 0 0 1 513.06,500.93L523.11,501.74A120.18,120.18 0 0 0 523.07,502.25Z" fill="#F7B4B9" />
<path d="M513.18,499.53A130.26,130.26 0 0 1 513.23,498.99L523.27,499.95A120.18,120.18 0 0 0 523.22,500.45Z" fill="#F7B4B9" />
<path d="M513.49,496.52A130.26,130.26 0 0 1 513.67,495.08L523.67,496.34A120.18,120.18 0 0 0 523.51,497.67Z" fill="#AEB5DF" />
<path d="M513.91,493.27A130.26,130.26 0 0 1 515.46,484.43L525.32,486.52A120.18,120.18 0 0 0 523.89,494.67Z" fill="#F9D027" />
<path d="M522.82,519.17A120.33,120.33 0 0 1 525.18,486.48L535.04,488.57A110.25,110.25 0 0 0 532.88,518.51Z" fill="#2CBDB1" />
<path d="M522.78,518.47A120.33,120.33 0 0 1 522.75,517.92L532.81,517.38A110.25,110.25 0 0 0 532.84,517.88Z" fill="#AEB5DF" />
<path d="M522.64,515.41A120.33,120.33 0 0 1 522.63,515.05L532.70,514.74A110.25,110.25 0 0 0 532.71,515.08Z" fill="#AEB5DF" />
<path d="M522.59,513.67A120.33,120.33 0 0 1 522.58,512.75L532.66,512.64A110.25,110.25 0 0 0 532.67,513.48Z" fill="#AEB5DF" />
<path d="M522.57,510.46A120.33,120.33 0 0 1 522.58,509.91L532.66,510.04A110.25,110.25 0 0 0 532.65,510.54Z" fill="#AEB5DF" />
<path d="M522.59,509.42A120.33,120.33 0 0 1 522.60,508.51L532.68,508.75A110.25,110.25 0 0 0 532.66,509.58Z" fill="#AEB5DF" />
<path d="M522.62,508.10A120.33,120.33 0 0 1 522.63,507.55L532.71,507.87A110.25,110.25 0 0 0 532.69,508.37Z" fill="#BDA4D9" />
<path d="M522.72,505.34A120.33,120.33 0 0 1 522.77,504.43L532.84,505.01A110.25,110.25 0 0 0 532.79,505.84Z" fill="#AEB5DF" />
<path d="M522.88,502.72A120.33,120.33 0 0 1 522.95,501.81L533.00,502.61A110.25,110.25 0 0 0 532.94,503.45Z" fill="#AEB5DF" />
<path d="M523.06,500.54A120.33,120.33 0 0 1 523.15,499.63L533.18,500.62A110.25,110.25 0 0 0 533.10,501.45Z" fill="#BDA4D9" />
<path d="M523.28,498.31A120.33,120.33 0 0 1 523.39,497.40L533.40,498.57A110.25,110.25 0 0 0 533.30,499.40Z" fill="#AEB5DF" />
<path d="M523.65,495.28A120.33,120.33 0 0 1 523.73,494.74L533.71,496.13A110.25,110.25 0 0 0 533.64,496.63Z" fill="#BDA4D9" />
<path d="M523.86,493.81A120.33,120.33 0 0 1 523.94,493.27L533.91,494.79A110.25,110.25 0 0 0 533.83,495.28Z" fill="#BDA4D9" />
<path d="M524.35,490.80A120.33,120.33 0 0 1 524.60,489.37L534.51,491.21A110.25,110.25 0 0 0 534.28,492.53Z" fill="#BDA4D9" />
<path d="M524.82,488.22A120.33,120.33 0 0 1 525.00,487.32L534.88,489.34A110.25,110.25 0 0 0 534.72,490.16Z" fill="#AEB5DF" />
<path d="M532.73,518.52A110.40,110.40 0 0 1 533.59,495.94L543.57,497.35A100.32,100.32 0 0 0 542.79,517.87Z" fill="#2CBDB1" />
<path d="M533.57,496.04A110.40,110.40 0 0 1 534.89,488.54L544.75,490.63A100.32,100.32 0 0 0 543.56,497.44Z" fill="#C5DF4A" />
<path d="M542.64,517.88A100.47,100.47 0 0 1 543.42,497.33L553.40,498.74A90.39,90.39 0 0 0 552.70,517.23Z" fill="#C5DF4A" />
<path d="M542.52,515.67A100.47,100.47 0 0 1 542.51,515.45L552.58,515.05A90.39,90.39 0 0 0 552.59,515.25Z" fill="#2CBDB1" />
<path d="M542.46,513.66A100.47,100.47 0 0 1 542.45,513.44L552.53,513.24A90.39,90.39 0 0 0 552.53,513.44Z" fill="#2CBDB1" />
<path d="M542.43,511.32A100.47,100.47 0 0 1 542.43,510.95L552.51,511.00A90.39,90.39 0 0 0 552.51,511.33Z" fill="#2CBDB1" />
<path d="M542.44,510.09A100.47,100.47 0 0 1 542.45,509.17L552.53,509.40A90.39,90.39 0 0 0 552.52,510.22Z" fill="#2CBDB1" />
<path d="M542.52,507.11A100.47,100.47 0 0 1 542.53,506.89L552.60,507.34A90.39,90.39 0 0 0 552.59,507.54Z" fill="#2CBDB1" />
<path d="M542.55,506.58A100.47,100.47 0 0 1 542.63,505.12L552.69,505.75A90.39,90.39 0 0 0 552.61,507.07Z" fill="#2CBDB1" />
<path d="M542.65,504.77A100.47,100.47 0 0 1 542.66,504.55L552.72,505.24A90.39,90.39 0 0 0 552.71,505.43Z" fill="#2CBDB1" />
<path d="M542.84,502.37A100.47,100.47 0 0 1 542.98,500.91L553.00,501.96A90.39,90.39 0 0 0 552.88,503.28Z" fill="#2CBDB1" />
<path d="M543.04,500.39A100.47,100.47 0 0 1 543.14,499.47L553.15,500.67A90.39,90.39 0 0 0 553.05,501.49Z" fill="#2CBDB1" />
<path d="M543.33,497.98A100.47,100.47 0 0 1 543.38,497.62L553.36,499.00A90.39,90.39 0 0 0 553.32,499.33Z" fill="#2CBDB1" />
<path d="M543.41,497.42A100.47,100.47 0 0 1 544.61,490.60L554.47,492.68A90.39,90.39 0 0 0 553.39,498.82Z" fill="#BDA4D9" />
<path d="M552.55,517.24A90.54,90.54 0 0 1 553.25,498.72L563.23,500.13A80.46,80.46 0 0 0 562.61,516.59Z" fill="#2CBDB1" />
<path d="M553.24,498.80A90.54,90.54 0 0 1 554.32,492.65L564.18,494.74A80.46,80.46 0 0 0 563.22,500.20Z" fill="#C5DF4A" />
<path d="M562.46,516.60A80.61,80.61 0 0 1 562.63,504.00L572.67,504.93A70.53,70.53 0 0 0 572.52,515.95Z" fill="#C5DF4A" />
<path d="M562.34,514.12A80.61,80.61 0 0 1 562.30,512.63L572.38,512.47A70.53,70.53 0 0 0 572.41,513.78Z" fill="#2CBDB1" />
<path d="M562.30,510.30A80.61,80.61 0 0 1 562.33,508.80L572.41,509.13A70.53,70.53 0 0 0 572.38,510.43Z" fill="#2CBDB1" />
<path d="M562.41,507.05A80.61,80.61 0 0 1 562.43,506.68L572.49,507.27A70.53,70.53 0 0 0 572.47,507.59Z" fill="#2CBDB1" />
<path d="M562.45,506.36A80.61,80.61 0 0 1 562.55,504.88L572.60,505.69A70.53,70.53 0 0 0 572.51,506.99Z" fill="#2CBDB1" />
<path d="M562.62,504.07A80.61,80.61 0 0 1 564.04,494.71L573.90,496.80A70.53,70.53 0 0 0 572.66,504.99Z" fill="#BDA4D9" />
<path d="M572.37,515.96A70.68,70.68 0 0 1 573.75,496.77L583.61,498.85A60.60,60.60 0 0 0 582.43,515.31Z" fill="#F7B4B9" />
<path d="M496.01,480.44A150.12,150.12 0 0 1 502.20,459.07L511.64,462.59A140.04,140.04 0 0 0 505.87,482.52Z" fill="#BDA4D9" />
<path d="M496.14,479.83A150.12,150.12 0 0 1 496.33,478.95L506.17,481.13A140.04,140.04 0 0 0 505.99,481.95Z" fill="#F7B4B9" />
<path d="M496.78,476.97A150.12,150.12 0 0 1 496.91,476.44L506.71,478.79A140.04,140.04 0 0 0 506.59,479.28Z" fill="#F7B4B9" />
<path d="M496.98,476.15A150.12,150.12 0 0 1 497.06,475.80L506.85,478.19A140.04,140.04 0 0 0 506.78,478.52Z" fill="#F7B4B9" />
<path d="M497.64,473.50A150.12,150.12 0 0 1 497.78,472.98L507.52,475.56A140.04,140.04 0 0 0 507.40,476.05Z" fill="#F7B4B9" />
<path d="M498.11,471.77A150.12,150.12 0 0 1 498.35,470.90L508.05,473.62A140.04,140.04 0 0 0 507.83,474.43Z" fill="#F7B4B9" />
<path d="M498.81,469.28A150.12,150.12 0 0 1 499.22,467.89L508.87,470.82A140.04,140.04 0 0 0 508.49,472.11Z" fill="#F7B4B9" />
<path d="M499.33,467.55A150.12,150.12 0 0 1 499.59,466.68L509.22,469.69A140.04,140.04 0 0 0 508.97,470.49Z" fill="#F7B4B9" />
<path d="M499.92,465.65A150.12,150.12 0 0 1 499.99,465.44L509.58,468.53A140.04,140.04 0 0 0 509.52,468.72Z" fill="#F7B4B9" />
<path d="M500.77,463.07A150.12,150.12 0 0 1 500.84,462.86L510.38,466.12A140.04,140.04 0 0 0 510.32,466.31Z" fill="#F7B4B9" />
<path d="M501.03,462.31A150.12,150.12 0 0 1 501.51,460.95L511.01,464.33A140.04,140.04 0 0 0 510.56,465.61Z" fill="#F7B4B9" />
<path d="M501.75,460.27A150.12,150.12 0 0 1 502.07,459.42L511.52,462.91A140.04,140.04 0 0 0 511.23,463.71Z" fill="#F7B4B9" />
<path d="M502.15,459.20A150.12,150.12 0 0 1 506.43,448.85L515.60,453.05A140.04,140.04 0 0 0 511.60,462.70Z" fill="#F7B4B9" />
<path d="M502.61,457.96A150.12,150.12 0 0 1 503.13,456.61L512.52,460.29A140.04,140.04 0 0 0 512.03,461.55Z" fill="#F28C8D" />
<path d="M504.07,454.28A150.12,150.12 0 0 1 504.63,452.95L513.91,456.87A140.04,140.04 0 0 0 513.39,458.12Z" fill="#F28C8D" />
<path d="M505.40,451.14A150.12,150.12 0 0 1 505.55,450.81L514.77,454.88A140.04,140.04 0 0 0 514.64,455.19Z" fill="#F28C8D" />
<path d="M506.38,448.97A150.12,150.12 0 0 1 511.41,438.96L520.24,443.83A140.04,140.04 0 0 0 515.55,453.16Z" fill="#F28C8D" />
<path d="M505.72,482.49A140.19,140.19 0 0 1 515.46,452.99L524.62,457.19A130.11,130.11 0 0 0 515.59,484.57Z" fill="#AEB5DF" />
<path d="M506.09,480.80A140.19,140.19 0 0 1 506.21,480.27L516.04,482.51A130.11,130.11 0 0 0 515.93,483.00Z" fill="#2CBDB1" />
<path d="M506.44,479.27A140.19,140.19 0 0 1 506.49,479.06L516.30,481.39A130.11,130.11 0 0 0 516.25,481.58Z" fill="#2CBDB1" />
<path d="M506.61,478.57A140.19,140.19 0 0 1 506.69,478.22L516.49,480.61A130.11,130.11 0 0 0 516.41,480.93Z" fill="#2CBDB1" />
<path d="M507.14,476.43A140.19,140.19 0 0 1 507.20,476.22L516.95,478.75A130.11,130.11 0 0 0 516.90,478.94Z" fill="#2CBDB1" />
<path d="M507.34,475.67A140.19,140.19 0 0 1 507.40,475.46L517.14,478.04A130.11,130.11 0 0 0 517.09,478.24Z" fill="#2CBDB1" />
<path d="M507.81,473.93A140.19,140.19 0 0 1 508.06,473.05L517.75,475.81A130.11,130.11 0 0 0 517.52,476.62Z" fill="#2CBDB1" />
<path d="M508.79,470.56A140.19,140.19 0 0 1 509.22,469.18L518.83,472.22A130.11,130.11 0 0 0 518.43,473.50Z" fill="#2CBDB1" />
<path d="M509.40,468.62A140.19,140.19 0 0 1 509.56,468.10L519.15,471.21A130.11,130.11 0 0 0 519.00,471.69Z" fill="#2CBDB1" />
<path d="M510.38,465.68A140.19,140.19 0 0 1 510.86,464.31L520.35,467.69A130.11,130.11 0 0 0 519.91,468.96Z" fill="#2CBDB1" />
<path d="M511.56,462.38A140.19,140.19 0 0 1 511.69,462.04L521.12,465.59A130.11,130.11 0 0 0 521.00,465.91Z" fill="#2CBDB1" />
<path d="M512.00,461.21A140.19,140.19 0 0 1 512.13,460.87L521.54,464.50A130.11,130.11 0 0 0 521.42,464.81Z" fill="#2CBDB1" />
<path d="M512.43,460.10A140.19,140.19 0 0 1 512.51,459.90L521.89,463.60A130.11,130.11 0 0 0 521.81,463.79Z" fill="#2CBDB1" />
<path d="M513.45,457.60A140.19,140.19 0 0 1 513.80,456.76L523.08,460.69A130.11,130.11 0 0 0 522.75,461.46Z" fill="#2CBDB1" />
<path d="M514.44,455.26A140.19,140.19 0 0 1 514.53,455.06L523.76,459.11A130.11,130.11 0 0 0 523.68,459.30Z" fill="#2CBDB1" />
<path d="M514.69,454.71A140.19,140.19 0 0 1 514.77,454.51L523.99,458.60A130.11,130.11 0 0 0 523.90,458.78Z" fill="#2CBDB1" />
<path d="M515.41,453.10A140.19,140.19 0 0 1 520.11,443.76L528.94,448.62A130.11,130.11 0 0 0 524.58,457.29Z" fill="#F28C8D" />
<path d="M516.53,450.71A140.19,140.19 0 0 1 516.92,449.89L525.98,454.31A130.11,130.11 0 0 0 525.62,455.07Z" fill="#2CBDB1" />
<path d="M517.75,448.22A140.19,140.19 0 0 1 518.17,447.41L527.13,452.01A130.11,130.11 0 0 0 526.75,452.76Z" fill="#2CBDB1" />
<path d="M518.36,447.03A140.19,140.19 0 0 1 518.46,446.84L527.41,451.48A130.11,130.11 0 0 0 527.31,451.66Z" fill="#2CBDB1" />
<path d="M519.40,445.07A140.19,140.19 0 0 1 519.83,444.27L528.68,449.10A130.11,130.11 0 0 0 528.28,449.84Z" fill="#2CBDB1" />
<path d="M515.44,484.54A130.26,130.26 0 0 1 526.81,452.32L535.79,456.89A120.18,120.18 0 0 0 525.30,486.62Z" fill="#AEB5DF" />
<path d="M526.76,452.42A130.26,130.26 0 0 1 528.81,448.55L537.64,453.41A120.18,120.18 0 0 0 535.74,456.98Z" fill="#F9D027" />
<path d="M527.38,451.21A130.26,130.26 0 0 1 528.06,449.92L536.95,454.68A120.18,120.18 0 0 0 536.32,455.87Z" fill="#000000" />
<path d="M525.16,486.59A120.33,120.33 0 0 1 528.19,475.05L537.80,478.09A110.25,110.25 0 0 0 535.02,488.67Z" fill="#AEB5DF" />
<path d="M528.16,475.15A120.33,120.33 0 0 1 537.50,453.34L546.33,458.20A110.25,110.25 0 0 0 537.77,478.19Z" fill="#2CBDB1" />
<path d="M528.93,472.79A120.33,120.33 0 0 1 529.05,472.44L538.59,475.71A110.25,110.25 0 0 0 538.48,476.02Z" fill="#BDA4D9" />
<path d="M529.32,471.67A120.33,120.33 0 0 1 529.62,470.81L539.11,474.21A110.25,110.25 0 0 0 538.83,475.00Z" fill="#BDA4D9" />
<path d="M530.28,469.02A120.33,120.33 0 0 1 530.36,468.82L539.78,472.38A110.25,110.25 0 0 0 539.71,472.57Z" fill="#BDA4D9" />
<path d="M531.09,466.92A120.33,120.33 0 0 1 531.64,465.57L540.96,469.40A110.25,110.25 0 0 0 540.46,470.64Z" fill="#BDA4D9" />
<path d="M532.08,464.52A120.33,120.33 0 0 1 532.29,464.01L541.56,467.98A110.25,110.25 0 0 0 541.36,468.45Z" fill="#BDA4D9" />
<path d="M532.74,462.99A120.33,120.33 0 0 1 532.83,462.79L542.05,466.86A110.25,110.25 0 0 0 541.97,467.04Z" fill="#BDA4D9" />
<path d="M533.60,461.07A120.33,120.33 0 0 1 534.22,459.75L543.32,464.07A110.25,110.25 0 0 0 542.76,465.28Z" fill="#F7B4B9" />
<path d="M535.19,457.75A120.33,120.33 0 0 1 535.60,456.94L544.59,461.50A110.25,110.25 0 0 0 544.21,462.24Z" fill="#F7B4B9" />
<path d="M536.59,455.03A120.33,120.33 0 0 1 537.28,453.75L546.13,458.58A110.25,110.25 0 0 0 545.49,459.75Z" fill="#BDA4D9" />
<path d="M534.87,488.64A110.40,110.40 0 0 1 546.20,458.13L555.03,462.99A100.32,100.32 0 0 0 544.74,490.71Z" fill="#C5DF4A" />
<path d="M535.12,487.49A110.40,110.40 0 0 1 535.17,487.28L545.00,489.48A100.32,100.32 0 0 0 544.96,489.68Z" fill="#F9D027" />
<path d="M535.58,485.49A110.40,110.40 0 0 1 535.71,484.96L545.50,487.37A100.32,100.32 0 0 0 545.38,487.86Z" fill="#F9D027" />
<path d="M536.38,482.39A110.40,110.40 0 0 1 536.77,480.98L546.46,483.75A100.32,100.32 0 0 0 546.11,485.04Z" fill="#F9D027" />
<path d="M537.44,478.74A110.40,110.40 0 0 1 537.88,477.34L547.47,480.45A100.32,100.32 0 0 0 547.07,481.72Z" fill="#F9D027" />
<path d="M538.32,476.01A110.40,110.40 0 0 1 538.62,475.15L548.14,478.46A100.32,100.32 0 0 0 547.87,479.25Z" fill="#F9D027" />
<path d="M539.16,473.62A110.40,110.40 0 0 1 539.35,473.11L548.81,476.60A100.32,100.32 0 0 0 548.64,477.07Z" fill="#F9D027" />
<path d="M540.31,470.61A110.40,110.40 0 0 1 540.65,469.76L549.99,473.57A100.32,100.32 0 0 0 549.68,474.34Z" fill="#F9D027" />
<path d="M541.01,468.89A110.40,110.40 0 0 1 541.10,468.69L550.39,472.59A100.32,100.32 0 0 0 550.32,472.77Z" fill="#F9D027" />
<path d="M541.92,466.78A110.40,110.40 0 0 1 542.01,466.58L551.22,470.67A100.32,100.32 0 0 0 551.14,470.85Z" fill="#F9D027" />
<path d="M542.72,465.01A110.40,110.40 0 0 1 543.11,464.18L552.22,468.49A100.32,100.32 0 0 0 551.87,469.24Z" fill="#F9D027" />
<path d="M544.08,462.19A110.40,110.40 0 0 1 544.32,461.70L553.32,466.23A100.32,100.32 0 0 0 553.10,466.68Z" fill="#F9D027" />
<path d="M545.09,460.21A110.40,110.40 0 0 1 545.34,459.72L554.25,464.44A100.32,100.32 0 0 0 554.02,464.88Z" fill="#F9D027" />
<path d="M544.59,490.68A100.47,100.47 0 0 1 554.90,462.92L563.73,467.79A90.39,90.39 0 0 0 554.45,492.76Z" fill="#BDA4D9" />
<path d="M544.80,489.69A100.47,100.47 0 0 1 544.92,489.15L554.75,491.38A90.39,90.39 0 0 0 554.65,491.87Z" fill="#AEB5DF" />
<path d="M545.26,487.72A100.47,100.47 0 0 1 545.62,486.29L555.38,488.81A90.39,90.39 0 0 0 555.06,490.10Z" fill="#AEB5DF" />
<path d="M546.13,484.39A100.47,100.47 0 0 1 546.28,483.86L555.97,486.62A90.39,90.39 0 0 0 555.84,487.10Z" fill="#AEB5DF" />
<path d="M546.64,482.63A100.47,100.47 0 0 1 546.80,482.10L556.44,485.04A90.39,90.39 0 0 0 556.29,485.52Z" fill="#AEB5DF" />
<path d="M547.52,479.84A100.47,100.47 0 0 1 547.81,478.96L557.35,482.22A90.39,90.39 0 0 0 557.09,483.00Z" fill="#AEB5DF" />
<path d="M548.18,477.90A100.47,100.47 0 0 1 548.30,477.55L557.79,480.95A90.39,90.39 0 0 0 557.68,481.26Z" fill="#AEB5DF" />
<path d="M549.11,475.38A100.47,100.47 0 0 1 549.65,474.01L559.00,477.76A90.39,90.39 0 0 0 558.52,478.99Z" fill="#AEB5DF" />
<path d="M550.52,471.90A100.47,100.47 0 0 1 550.61,471.70L559.87,475.68A90.39,90.39 0 0 0 559.79,475.86Z" fill="#AEB5DF" />
<path d="M551.31,470.10A100.47,100.47 0 0 1 551.46,469.76L560.64,473.94A90.39,90.39 0 0 0 560.50,474.24Z" fill="#AEB5DF" />
<path d="M552.58,467.39A100.47,100.47 0 0 1 553.24,466.07L562.23,470.62A90.39,90.39 0 0 0 561.64,471.80Z" fill="#AEB5DF" />
<path d="M553.43,465.68A100.47,100.47 0 0 1 553.86,464.87L562.79,469.54A90.39,90.39 0 0 0 562.41,470.27Z" fill="#AEB5DF" />
<path d="M554.31,492.73A90.54,90.54 0 0 1 560.59,473.67L569.76,477.87A80.46,80.46 0 0 0 564.17,494.81Z" fill="#C5DF4A" />
<path d="M554.50,491.83A90.54,90.54 0 0 1 554.58,491.47L564.41,493.69A80.46,80.46 0 0 0 564.34,494.01Z" fill="#F9D027" />
<path d="M554.81,490.47A90.54,90.54 0 0 1 555.17,489.03L564.93,491.52A80.46,80.46 0 0 0 564.62,492.80Z" fill="#F9D027" />
<path d="M555.44,488.00A90.54,90.54 0 0 1 555.83,486.57L565.52,489.34A80.46,80.46 0 0 0 565.17,490.60Z" fill="#F9D027" />
<path d="M556.53,484.23A90.54,90.54 0 0 1 556.70,483.70L566.30,486.78A80.46,80.46 0 0 0 566.15,487.25Z" fill="#F9D027" />
<path d="M556.86,483.21A90.54,90.54 0 0 1 557.33,481.81L566.86,485.10A80.46,80.46 0 0 0 566.44,486.35Z" fill="#F9D027" />
<path d="M557.82,480.43A90.54,90.54 0 0 1 558.34,479.05L567.75,482.65A80.46,80.46 0 0 0 567.29,483.88Z" fill="#F9D027" />
<path d="M558.64,478.27A90.54,90.54 0 0 1 559.19,476.89L568.51,480.74A80.46,80.46 0 0 0 568.02,481.96Z" fill="#F9D027" />
<path d="M560.09,474.78A90.54,90.54 0 0 1 560.24,474.45L569.45,478.56A80.46,80.46 0 0 0 569.31,478.86Z" fill="#F9D027" />
<path d="M560.56,473.75A90.54,90.54 0 0 1 563.60,467.71L572.43,472.58A80.46,80.46 0 0 0 569.73,477.94Z" fill="#F9D027" />
<path d="M564.02,494.78A80.61,80.61 0 0 1 572.29,472.50L581.12,477.37A70.53,70.53 0 0 0 573.89,496.86Z" fill="#BDA4D9" />
<path d="M573.74,496.83A70.68,70.68 0 0 1 580.99,477.30L589.82,482.16A60.60,60.60 0 0 0 583.60,498.90Z" fill="#AEB5DF" />
<path d="M511.35,439.08A150.12,150.12 0 0 1 539.94,402.15L546.86,409.48A140.04,140.04 0 0 0 520.18,443.94Z" fill="#AEB5DF" />
<path d="M520.05,443.86A140.19,140.19 0 0 1 546.76,409.37L553.67,416.71A130.11,130.11 0 0 0 528.88,448.72Z" fill="#F7B4B9" />
<path d="M528.75,448.65A130.26,130.26 0 0 1 553.57,416.60L560.48,423.94A120.18,120.18 0 0 0 537.59,453.50Z" fill="#2CBDB1" />
<path d="M537.45,453.43A120.33,120.33 0 0 1 553.81,430.51L561.27,437.29A110.25,110.25 0 0 0 546.29,458.29Z" fill="#C5DF4A" />
<path d="M538.60,451.39A120.33,120.33 0 0 1 539.06,450.60L547.76,455.70A110.25,110.25 0 0 0 547.34,456.42Z" fill="#F7B4B9" />
<path d="M539.75,449.43A120.33,120.33 0 0 1 540.03,448.97L548.65,454.20A110.25,110.25 0 0 0 548.39,454.63Z" fill="#F7B4B9" />
<path d="M541.00,447.40A120.33,120.33 0 0 1 541.12,447.21L549.64,452.59A110.25,110.25 0 0 0 549.54,452.76Z" fill="#F7B4B9" />
<path d="M542.15,445.61A120.33,120.33 0 0 1 542.27,445.42L550.70,450.95A110.25,110.25 0 0 0 550.59,451.12Z" fill="#F7B4B9" />
<path d="M543.39,443.75A120.33,120.33 0 0 1 543.90,443.00L552.19,448.73A110.25,110.25 0 0 0 551.72,449.42Z" fill="#F7B4B9" />
<path d="M545.06,441.36A120.33,120.33 0 0 1 545.91,440.18L554.04,446.14A110.25,110.25 0 0 0 553.25,447.22Z" fill="#F7B4B9" />
<path d="M546.67,439.15A120.33,120.33 0 0 1 547.56,437.99L555.54,444.14A110.25,110.25 0 0 0 554.73,445.20Z" fill="#F7B4B9" />
<path d="M549.01,436.14A120.33,120.33 0 0 1 549.35,435.71L557.19,442.05A110.25,110.25 0 0 0 556.88,442.44Z" fill="#F7B4B9" />
<path d="M549.66,435.33A120.33,120.33 0 0 1 550.24,434.63L558.00,441.06A110.25,110.25 0 0 0 557.47,441.70Z" fill="#F7B4B9" />
<path d="M550.74,434.03A120.33,120.33 0 0 1 550.88,433.86L558.59,440.36A110.25,110.25 0 0 0 558.46,440.51Z" fill="#F7B4B9" />
<path d="M552.57,431.90A120.33,120.33 0 0 1 553.54,430.81L561.03,437.56A110.25,110.25 0 0 0 560.14,438.56Z" fill="#F7B4B9" />
<path d="M553.74,430.59A120.33,120.33 0 0 1 560.38,423.83L567.29,431.16A110.25,110.25 0 0 0 561.21,437.36Z" fill="#C5DF4A" />
<path d="M555.41,428.79A120.33,120.33 0 0 1 556.42,427.73L563.66,434.74A110.25,110.25 0 0 0 562.74,435.71Z" fill="#000000" />
<path d="M557.66,426.47A120.33,120.33 0 0 1 558.05,426.08L565.15,433.23A110.25,110.25 0 0 0 564.80,433.58Z" fill="#000000" />
<path d="M558.65,425.49A120.33,120.33 0 0 1 558.91,425.23L565.94,432.45A110.25,110.25 0 0 0 565.71,432.68Z" fill="#000000" />
<path d="M559.37,424.79A120.33,120.33 0 0 1 559.53,424.64L566.51,431.90A110.25,110.25 0 0 0 566.37,432.04Z" fill="#000000" />
<path d="M546.16,458.21A110.40,110.40 0 0 1 567.19,431.05L574.10,438.39A100.32,100.32 0 0 0 554.99,463.07Z" fill="#F28C8D" />
<path d="M546.78,457.09A110.40,110.40 0 0 1 547.51,455.82L556.22,460.90A100.32,100.32 0 0 0 555.56,462.05Z" fill="#F7B4B9" />
<path d="M548.03,454.94A110.40,110.40 0 0 1 548.22,454.63L556.86,459.81A100.32,100.32 0 0 0 556.69,460.10Z" fill="#F7B4B9" />
<path d="M548.49,454.17A110.40,110.40 0 0 1 548.61,453.98L557.22,459.22A100.32,100.32 0 0 0 557.11,459.39Z" fill="#F7B4B9" />
<path d="M549.53,452.49A110.40,110.40 0 0 1 550.32,451.26L558.77,456.75A100.32,100.32 0 0 0 558.05,457.87Z" fill="#F7B4B9" />
<path d="M550.80,450.53A110.40,110.40 0 0 1 551.00,450.22L559.39,455.81A100.32,100.32 0 0 0 559.21,456.09Z" fill="#F7B4B9" />
<path d="M551.59,449.34A110.40,110.40 0 0 1 551.80,449.04L560.12,454.73A100.32,100.32 0 0 0 559.93,455.01Z" fill="#F7B4B9" />
<path d="M552.37,448.22A110.40,110.40 0 0 1 553.21,447.02L561.40,452.90A100.32,100.32 0 0 0 560.63,453.99Z" fill="#F7B4B9" />
<path d="M554.69,445.02A110.40,110.40 0 0 1 554.91,444.73L562.94,450.81A100.32,100.32 0 0 0 562.74,451.08Z" fill="#F7B4B9" />
<path d="M555.16,444.40A110.40,110.40 0 0 1 555.49,443.96L563.47,450.12A100.32,100.32 0 0 0 563.17,450.52Z" fill="#F7B4B9" />
<path d="M555.77,443.61A110.40,110.40 0 0 1 556.10,443.18L564.03,449.41A100.32,100.32 0 0 0 563.72,449.80Z" fill="#F7B4B9" />
<path d="M556.29,442.95A110.40,110.40 0 0 1 556.63,442.52L564.50,448.80A100.32,100.32 0 0 0 564.19,449.20Z" fill="#F7B4B9" />
<path d="M558.13,440.68A110.40,110.40 0 0 1 558.27,440.51L565.99,446.98A100.32,100.32 0 0 0 565.87,447.14Z" fill="#F7B4B9" />
<path d="M559.94,438.56A110.40,110.40 0 0 1 560.18,438.29L567.73,444.96A100.32,100.32 0 0 0 567.51,445.21Z" fill="#F7B4B9" />
<path d="M560.52,437.90A110.40,110.40 0 0 1 561.51,436.81L568.94,443.62A100.32,100.32 0 0 0 568.05,444.61Z" fill="#F7B4B9" />
<path d="M561.79,436.50A110.40,110.40 0 0 1 562.42,435.83L569.76,442.73A100.32,100.32 0 0 0 569.20,443.34Z" fill="#F7B4B9" />
<path d="M563.96,434.22A110.40,110.40 0 0 1 564.34,433.83L571.52,440.91A100.32,100.32 0 0 0 571.17,441.27Z" fill="#F7B4B9" />
<path d="M565.95,432.24A110.40,110.40 0 0 1 566.21,431.98L573.21,439.23A100.32,100.32 0 0 0 572.98,439.46Z" fill="#F7B4B9" />
<path d="M554.86,463.00A100.47,100.47 0 0 1 574.00,438.28L580.91,445.62A90.39,90.39 0 0 0 563.69,467.85Z" fill="#AEB5DF" />
<path d="M563.56,467.78A90.54,90.54 0 0 1 568.55,459.73L576.83,465.48A80.46,80.46 0 0 0 572.39,472.64Z" fill="#F7B4B9" />
<path d="M568.51,459.79A90.54,90.54 0 0 1 580.81,445.51L587.72,452.84A80.46,80.46 0 0 0 576.79,465.54Z" fill="#F28C8D" />
<path d="M572.26,472.57A80.61,80.61 0 0 1 587.62,452.73L594.53,460.07A70.53,70.53 0 0 0 581.09,477.42Z" fill="#AEB5DF" />
<path d="M580.96,477.35A70.68,70.68 0 0 1 594.43,459.96L601.34,467.30A60.60,60.60 0 0 0 589.80,482.21Z" fill="#C5DF4A" />
<path d="M539.85,402.24A150.12,150.12 0 0 1 572.31,378.91L577.05,387.81A140.04,140.04 0 0 0 546.77,409.57Z" fill="#F28C8D" />
<path d="M546.67,409.46A140.19,140.19 0 0 1 576.98,387.68L581.72,396.57A130.11,130.11 0 0 0 553.59,416.79Z" fill="#F28C8D" />
<path d="M553.48,416.68A130.26,130.26 0 0 1 560.07,410.87L566.48,418.65A120.18,120.18 0 0 0 560.40,424.01Z" fill="#F9D027" />
<path d="M559.98,410.94A130.26,130.26 0 0 1 574.14,400.77L579.46,409.33A120.18,120.18 0 0 0 566.40,418.72Z" fill="#F28C8D" />
<path d="M560.21,410.76A130.26,130.26 0 0 1 561.33,409.84L567.65,417.70A120.18,120.18 0 0 0 566.61,418.54Z" fill="#F7B4B9" />
<path d="M562.56,408.87A130.26,130.26 0 0 1 563.28,408.31L569.44,416.29A120.18,120.18 0 0 0 568.78,416.80Z" fill="#C5DF4A" />
<path d="M564.82,407.13A130.26,130.26 0 0 1 565.11,406.92L571.13,415.00A120.18,120.18 0 0 0 570.87,415.20Z" fill="#C5DF4A" />
<path d="M565.58,406.57A130.26,130.26 0 0 1 566.02,406.24L571.97,414.38A120.18,120.18 0 0 0 571.57,414.68Z" fill="#C5DF4A" />
<path d="M567.32,405.31A130.26,130.26 0 0 1 567.50,405.18L573.34,413.40A120.18,120.18 0 0 0 573.17,413.52Z" fill="#F7B4B9" />
<path d="M568.55,404.44A130.26,130.26 0 0 1 568.73,404.32L574.47,412.61A120.18,120.18 0 0 0 574.30,412.72Z" fill="#C5DF4A" />
<path d="M569.07,404.09A130.26,130.26 0 0 1 569.82,403.57L575.47,411.92A120.18,120.18 0 0 0 574.78,412.39Z" fill="#F7B4B9" />
<path d="M572.00,402.12A130.26,130.26 0 0 1 572.31,401.93L577.77,410.40A120.18,120.18 0 0 0 577.49,410.58Z" fill="#C5DF4A" />
<path d="M572.68,401.69A130.26,130.26 0 0 1 573.44,401.20L578.82,409.73A120.18,120.18 0 0 0 578.11,410.18Z" fill="#C5DF4A" />
<path d="M574.04,400.83A130.26,130.26 0 0 1 581.65,396.44L586.39,405.34A120.18,120.18 0 0 0 579.37,409.38Z" fill="#C5DF4A" />
<path d="M560.30,423.90A120.33,120.33 0 0 1 577.13,410.64L582.64,419.08A110.25,110.25 0 0 0 567.22,431.23Z" fill="#F9D027" />
<path d="M577.04,410.69A120.33,120.33 0 0 1 586.32,405.20L591.06,414.10A110.25,110.25 0 0 0 582.56,419.13Z" fill="#BDA4D9" />
<path d="M567.12,431.12A110.40,110.40 0 0 1 575.57,423.91L581.72,431.90A100.32,100.32 0 0 0 574.04,438.45Z" fill="#C5DF4A" />
<path d="M575.49,423.97A110.40,110.40 0 0 1 581.54,419.63L587.14,428.01A100.32,100.32 0 0 0 581.65,431.95Z" fill="#F7B4B9" />
<path d="M581.45,419.68A110.40,110.40 0 0 1 590.99,413.97L595.73,422.86A100.32,100.32 0 0 0 587.07,428.05Z" fill="#F9D027" />
<path d="M573.93,438.34A100.47,100.47 0 0 1 595.65,422.73L600.39,431.63A90.39,90.39 0 0 0 580.85,445.67Z" fill="#BDA4D9" />
<path d="M580.75,445.56A90.54,90.54 0 0 1 587.68,439.65L593.83,447.64A80.46,80.46 0 0 0 587.67,452.89Z" fill="#C5DF4A" />
<path d="M587.62,439.70A90.54,90.54 0 0 1 592.57,436.14L598.18,444.51A80.46,80.46 0 0 0 593.77,447.68Z" fill="#F7B4B9" />
<path d="M592.51,436.18A90.54,90.54 0 0 1 600.32,431.50L605.06,440.39A80.46,80.46 0 0 0 598.12,444.55Z" fill="#F9D027" />
<path d="M587.57,452.78A80.61,80.61 0 0 1 595.89,445.92L601.77,454.11A70.53,70.53 0 0 0 594.48,460.11Z" fill="#BDA4D9" />
<path d="M595.83,445.96A80.61,80.61 0 0 1 604.99,440.26L609.73,449.15A70.53,70.53 0 0 0 601.72,454.14Z" fill="#2CBDB1" />
<path d="M596.32,445.61A80.61,80.61 0 0 1 596.51,445.48L602.31,453.72A70.53,70.53 0 0 0 602.15,453.84Z" fill="#AEB5DF" />
<path d="M598.37,444.21A80.61,80.61 0 0 1 599.62,443.39L605.03,451.90A70.53,70.53 0 0 0 603.94,452.61Z" fill="#AEB5DF" />
<path d="M600.73,442.70A80.61,80.61 0 0 1 600.92,442.58L606.17,451.19A70.53,70.53 0 0 0 606.01,451.29Z" fill="#AEB5DF" />
<path d="M601.77,442.07A80.61,80.61 0 0 1 601.96,441.96L607.08,450.64A70.53,70.53 0 0 0 606.91,450.74Z" fill="#AEB5DF" />
<path d="M603.58,441.03A80.61,80.61 0 0 1 604.89,440.31L609.64,449.20A70.53,70.53 0 0 0 608.50,449.83Z" fill="#AEB5DF" />
<path d="M594.38,460.00A70.68,70.68 0 0 1 609.66,449.02L614.40,457.92A60.60,60.60 0 0 0 601.30,467.33Z" fill="#2CBDB1" />
<path d="M572.19,378.98A150.12,150.12 0 0 1 574.77,377.63L579.34,386.61A140.04,140.04 0 0 0 576.94,387.87Z" fill="#2CBDB1" />
<path d="M574.65,377.69A150.12,150.12 0 0 1 578.91,375.60L583.21,384.72A140.04,140.04 0 0 0 579.23,386.67Z" fill="#000000" />
<path d="M575.21,377.41A150.12,150.12 0 0 1 576.01,377.00L580.51,386.03A140.04,140.04 0 0 0 579.75,386.41Z" fill="#F7B4B9" />
<path d="M577.62,376.22A150.12,150.12 0 0 1 577.94,376.06L582.30,385.15A140.04,140.04 0 0 0 582.00,385.30Z" fill="#F7B4B9" />
<path d="M578.79,375.66A150.12,150.12 0 0 1 604.93,366.16L607.48,375.91A140.04,140.04 0 0 0 583.10,384.77Z" fill="#F7B4B9" />
<path d="M604.80,366.19A150.12,150.12 0 0 1 623.05,362.60L624.38,372.59A140.04,140.04 0 0 0 607.36,375.94Z" fill="#AEB5DF" />
<path d="M607.00,365.64A150.12,150.12 0 0 1 607.35,365.55L609.73,375.34A140.04,140.04 0 0 0 609.41,375.42Z" fill="#2CBDB1" />
<path d="M608.42,365.29A150.12,150.12 0 0 1 608.63,365.24L610.93,375.06A140.04,140.04 0 0 0 610.74,375.10Z" fill="#2CBDB1" />
<path d="M610.68,364.78A150.12,150.12 0 0 1 611.56,364.59L613.66,374.45A140.04,140.04 0 0 0 612.84,374.62Z" fill="#2CBDB1" />
<path d="M614.13,364.06A150.12,150.12 0 0 1 614.66,363.96L616.56,373.86A140.04,140.04 0 0 0 616.06,373.96Z" fill="#2CBDB1" />
<path d="M615.95,363.72A150.12,150.12 0 0 1 616.48,363.62L618.25,373.55A140.04,140.04 0 0 0 617.76,373.64Z" fill="#C5DF4A" />
<path d="M618.82,363.22A150.12,150.12 0 0 1 619.36,363.14L620.94,373.09A140.04,140.04 0 0 0 620.44,373.17Z" fill="#2CBDB1" />
<path d="M621.09,362.87A150.12,150.12 0 0 1 621.30,362.84L622.75,372.82A140.04,140.04 0 0 0 622.55,372.85Z" fill="#C5DF4A" />
<path d="M576.87,387.73A140.19,140.19 0 0 1 604.78,376.49L607.52,386.19A130.11,130.11 0 0 0 581.62,396.63Z" fill="#2CBDB1" />
<path d="M604.66,376.53A140.19,140.19 0 0 1 624.36,372.44L625.69,382.43A130.11,130.11 0 0 0 607.41,386.22Z" fill="#AEB5DF" />
<path d="M605.08,376.41A140.19,140.19 0 0 1 605.96,376.17L608.61,385.89A130.11,130.11 0 0 0 607.80,386.11Z" fill="#2CBDB1" />
<path d="M607.97,375.63A140.19,140.19 0 0 1 608.85,375.41L611.29,385.19A130.11,130.11 0 0 0 610.48,385.39Z" fill="#2CBDB1" />
<path d="M610.83,374.93A140.19,140.19 0 0 1 611.71,374.72L613.96,384.55A130.11,130.11 0 0 0 613.14,384.74Z" fill="#2CBDB1" />
<path d="M613.16,374.40A140.19,140.19 0 0 1 613.38,374.35L615.50,384.21A130.11,130.11 0 0 0 615.30,384.25Z" fill="#2CBDB1" />
<path d="M614.98,374.02A140.19,140.19 0 0 1 615.87,373.84L617.81,383.73A130.11,130.11 0 0 0 616.99,383.90Z" fill="#2CBDB1" />
<path d="M617.74,373.49A140.19,140.19 0 0 1 617.95,373.45L619.75,383.37A130.11,130.11 0 0 0 619.55,383.40Z" fill="#2CBDB1" />
<path d="M618.51,373.35A140.19,140.19 0 0 1 618.73,373.31L620.47,383.24A130.11,130.11 0 0 0 620.27,383.27Z" fill="#2CBDB1" />
<path d="M619.26,373.22A140.19,140.19 0 0 1 619.48,373.18L621.16,383.12A130.11,130.11 0 0 0 620.96,383.15Z" fill="#2CBDB1" />
<path d="M621.19,372.90A140.19,140.19 0 0 1 622.09,372.76L623.58,382.73A130.11,130.11 0 0 0 622.75,382.86Z" fill="#2CBDB1" />
<path d="M581.55,396.49A130.26,130.26 0 0 1 587.24,393.63L591.55,402.74A120.18,120.18 0 0 0 586.29,405.39Z" fill="#F28C8D" />
<path d="M587.14,393.68A130.26,130.26 0 0 1 595.45,390.09L599.12,399.48A120.18,120.18 0 0 0 591.45,402.79Z" fill="#C5DF4A" />
<path d="M588.66,392.97A130.26,130.26 0 0 1 589.98,392.37L594.08,401.58A120.18,120.18 0 0 0 592.86,402.13Z" fill="#2CBDB1" />
<path d="M590.29,392.23A130.26,130.26 0 0 1 590.79,392.02L594.83,401.25A120.18,120.18 0 0 0 594.37,401.46Z" fill="#2CBDB1" />
<path d="M591.27,391.81A130.26,130.26 0 0 1 591.60,391.67L595.57,400.93A120.18,120.18 0 0 0 595.26,401.07Z" fill="#2CBDB1" />
<path d="M592.43,391.31A130.26,130.26 0 0 1 592.63,391.23L596.52,400.53A120.18,120.18 0 0 0 596.34,400.61Z" fill="#2CBDB1" />
<path d="M594.13,390.61A130.26,130.26 0 0 1 594.97,390.28L598.68,399.65A120.18,120.18 0 0 0 597.90,399.96Z" fill="#2CBDB1" />
<path d="M595.34,390.13A130.26,130.26 0 0 1 603.88,387.12L606.90,396.74A120.18,120.18 0 0 0 599.02,399.52Z" fill="#AEB5DF" />
<path d="M595.64,390.01A130.26,130.26 0 0 1 595.85,389.94L599.49,399.34A120.18,120.18 0 0 0 599.30,399.41Z" fill="#C5DF4A" />
<path d="M597.91,389.15A130.26,130.26 0 0 1 598.77,388.84L602.18,398.33A120.18,120.18 0 0 0 601.40,398.61Z" fill="#C5DF4A" />
<path d="M600.49,388.24A130.26,130.26 0 0 1 601.01,388.06L604.25,397.60A120.18,120.18 0 0 0 603.77,397.77Z" fill="#C5DF4A" />
<path d="M601.84,387.78A130.26,130.26 0 0 1 603.22,387.33L606.29,396.93A120.18,120.18 0 0 0 605.01,397.35Z" fill="#C5DF4A" />
<path d="M603.77,387.16A130.26,130.26 0 0 1 616.86,383.77L618.87,393.65A120.18,120.18 0 0 0 606.80,396.77Z" fill="#F9D027" />
<path d="M616.75,383.79A130.26,130.26 0 0 1 625.67,382.28L627.01,392.28A120.18,120.18 0 0 0 618.77,393.67Z" fill="#AEB5DF" />
<path d="M617.68,383.60A130.26,130.26 0 0 1 619.11,383.33L620.95,393.24A120.18,120.18 0 0 0 619.63,393.49Z" fill="#F7B4B9" />
<path d="M620.01,383.17A130.26,130.26 0 0 1 620.36,383.10L622.11,393.03A120.18,120.18 0 0 0 621.78,393.09Z" fill="#F7B4B9" />
<path d="M622.39,382.76A130.26,130.26 0 0 1 622.75,382.71L624.31,392.67A120.18,120.18 0 0 0 623.98,392.72Z" fill="#F7B4B9" />
<path d="M623.43,382.60A130.26,130.26 0 0 1 624.87,382.39L626.27,392.38A120.18,120.18 0 0 0 624.94,392.57Z" fill="#F7B4B9" />
<path d="M586.22,405.25A120.33,120.33 0 0 1 594.03,401.44L598.13,410.65A110.25,110.25 0 0 0 590.97,414.15Z" fill="#000000" />
<path d="M587.13,404.77A120.33,120.33 0 0 1 587.33,404.67L591.98,413.61A110.25,110.25 0 0 0 591.81,413.70Z" fill="#AEB5DF" />
<path d="M588.82,403.91A120.33,120.33 0 0 1 589.15,403.74L593.65,412.76A110.25,110.25 0 0 0 593.35,412.91Z" fill="#AEB5DF" />
<path d="M589.55,403.54A120.33,120.33 0 0 1 589.88,403.38L594.32,412.43A110.25,110.25 0 0 0 594.02,412.58Z" fill="#AEB5DF" />
<path d="M592.07,402.33A120.33,120.33 0 0 1 592.90,401.95L597.08,411.12A110.25,110.25 0 0 0 596.33,411.47Z" fill="#AEB5DF" />
<path d="M593.57,401.65A120.33,120.33 0 0 1 593.77,401.56L597.88,410.76A110.25,110.25 0 0 0 597.70,410.84Z" fill="#AEB5DF" />
<path d="M593.94,401.48A120.33,120.33 0 0 1 626.99,392.13L628.32,402.12A110.25,110.25 0 0 0 598.04,410.69Z" fill="#AEB5DF" />
<path d="M595.57,400.77A120.33,120.33 0 0 1 596.91,400.21L600.76,409.52A110.25,110.25 0 0 0 599.53,410.04Z" fill="#F7B4B9" />
<path d="M597.89,399.80A120.33,120.33 0 0 1 598.74,399.47L602.44,408.84A110.25,110.25 0 0 0 601.66,409.15Z" fill="#F7B4B9" />
<path d="M600.28,398.87A120.33,120.33 0 0 1 600.62,398.74L604.16,408.18A110.25,110.25 0 0 0 603.85,408.30Z" fill="#F7B4B9" />
<path d="M601.77,398.32A120.33,120.33 0 0 1 602.11,398.19L605.53,407.68A110.25,110.25 0 0 0 605.22,407.79Z" fill="#F7B4B9" />
<path d="M604.35,397.41A120.33,120.33 0 0 1 604.56,397.34L607.77,406.90A110.25,110.25 0 0 0 607.58,406.96Z" fill="#C5DF4A" />
<path d="M605.67,396.97A120.33,120.33 0 0 1 606.54,396.70L609.58,406.30A110.25,110.25 0 0 0 608.79,406.56Z" fill="#C5DF4A" />
<path d="M608.75,396.02A120.33,120.33 0 0 1 610.15,395.61L612.89,405.31A110.25,110.25 0 0 0 611.61,405.68Z" fill="#2CBDB1" />
<path d="M611.62,395.21A120.33,120.33 0 0 1 613.03,394.84L615.53,404.60A110.25,110.25 0 0 0 614.24,404.94Z" fill="#F7B4B9" />
<path d="M613.39,394.74A120.33,120.33 0 0 1 613.74,394.66L616.18,404.44A110.25,110.25 0 0 0 615.86,404.52Z" fill="#F7B4B9" />
<path d="M615.85,394.15A120.33,120.33 0 0 1 617.27,393.83L619.42,403.68A110.25,110.25 0 0 0 618.12,403.97Z" fill="#C5DF4A" />
<path d="M618.24,393.62A120.33,120.33 0 0 1 619.67,393.33L621.62,403.22A110.25,110.25 0 0 0 620.31,403.49Z" fill="#2CBDB1" />
<path d="M620.68,393.14A120.33,120.33 0 0 1 620.90,393.10L622.74,403.01A110.25,110.25 0 0 0 622.55,403.05Z" fill="#2CBDB1" />
<path d="M621.23,393.04A120.33,120.33 0 0 1 622.13,392.88L623.87,402.80A110.25,110.25 0 0 0 623.05,402.95Z" fill="#F7B4B9" />
<path d="M624.60,392.47A120.33,120.33 0 0 1 625.50,392.33L626.96,402.31A110.25,110.25 0 0 0 626.13,402.43Z" fill="#C5DF4A" />
<path d="M590.90,414.01A110.40,110.40 0 0 1 609.11,406.30L612.19,415.90A100.32,100.32 0 0 0 595.65,422.91Z" fill="#F7B4B9" />
<path d="M609.01,406.33A110.40,110.40 0 0 1 628.30,401.97L629.63,411.96A100.32,100.32 0 0 0 612.11,415.92Z" fill="#F7B4B9" />
<path d="M609.48,406.18A110.40,110.40 0 0 1 609.83,406.07L612.85,415.69A100.32,100.32 0 0 0 612.53,415.79Z" fill="#C5DF4A" />
<path d="M612.01,405.41A110.40,110.40 0 0 1 612.22,405.35L615.02,415.03A100.32,100.32 0 0 0 614.83,415.09Z" fill="#C5DF4A" />
<path d="M614.03,404.84A110.40,110.40 0 0 1 614.38,404.75L616.98,414.49A100.32,100.32 0 0 0 616.66,414.57Z" fill="#C5DF4A" />
<path d="M616.02,404.32A110.40,110.40 0 0 1 617.44,403.98L619.77,413.78A100.32,100.32 0 0 0 618.47,414.10Z" fill="#C5DF4A" />
<path d="M618.82,403.66A110.40,110.40 0 0 1 619.18,403.58L621.35,413.42A100.32,100.32 0 0 0 621.02,413.49Z" fill="#C5DF4A" />
<path d="M620.65,403.26A110.40,110.40 0 0 1 622.09,402.98L623.99,412.88A100.32,100.32 0 0 0 622.69,413.14Z" fill="#C5DF4A" />
<path d="M623.03,402.80A110.40,110.40 0 0 1 623.24,402.76L625.04,412.68A100.32,100.32 0 0 0 624.84,412.72Z" fill="#C5DF4A" />
<path d="M624.98,402.46A110.40,110.40 0 0 1 626.43,402.24L627.93,412.20A100.32,100.32 0 0 0 626.62,412.41Z" fill="#C5DF4A" />
<path d="M627.40,402.09A110.40,110.40 0 0 1 627.95,402.02L629.31,412.00A100.32,100.32 0 0 0 628.82,412.07Z" fill="#C5DF4A" />
<path d="M595.58,422.77A100.47,100.47 0 0 1 602.10,419.59L606.19,428.80A90.39,90.39 0 0 0 600.33,431.66Z" fill="#AEB5DF" />
<path d="M596.23,422.43A100.47,100.47 0 0 1 596.55,422.26L601.20,431.20A90.39,90.39 0 0 0 600.91,431.35Z" fill="#BDA4D9" />
<path d="M597.93,421.56A100.47,100.47 0 0 1 598.42,421.31L602.88,430.35A90.39,90.39 0 0 0 602.44,430.57Z" fill="#BDA4D9" />
<path d="M599.52,420.78A100.47,100.47 0 0 1 599.72,420.68L604.05,429.79A90.39,90.39 0 0 0 603.87,429.87Z" fill="#BDA4D9" />
<path d="M600.02,420.54A100.47,100.47 0 0 1 601.35,419.92L605.52,429.10A90.39,90.39 0 0 0 604.32,429.66Z" fill="#BDA4D9" />
<path d="M602.02,419.62A100.47,100.47 0 0 1 608.75,416.91L612.18,426.39A90.39,90.39 0 0 0 606.12,428.83Z" fill="#000000" />
<path d="M604.49,418.56A100.47,100.47 0 0 1 605.34,418.22L609.11,427.56A90.39,90.39 0 0 0 608.34,427.88Z" fill="#AEB5DF" />
<path d="M607.11,417.52A100.47,100.47 0 0 1 608.49,417.01L611.94,426.48A90.39,90.39 0 0 0 610.70,426.94Z" fill="#AEB5DF" />
<path d="M608.67,416.94A100.47,100.47 0 0 1 629.61,411.81L630.95,421.80A90.39,90.39 0 0 0 612.10,426.42Z" fill="#AEB5DF" />
<path d="M610.54,416.28A100.47,100.47 0 0 1 611.42,415.99L614.58,425.56A90.39,90.39 0 0 0 613.79,425.83Z" fill="#BDA4D9" />
<path d="M613.93,415.20A100.47,100.47 0 0 1 614.81,414.94L617.63,424.62A90.39,90.39 0 0 0 616.83,424.85Z" fill="#BDA4D9" />
<path d="M615.99,414.60A100.47,100.47 0 0 1 617.41,414.22L619.97,423.97A90.39,90.39 0 0 0 618.69,424.31Z" fill="#BDA4D9" />
<path d="M618.39,413.96A100.47,100.47 0 0 1 618.61,413.91L621.04,423.69A90.39,90.39 0 0 0 620.85,423.74Z" fill="#BDA4D9" />
<path d="M619.30,413.74A100.47,100.47 0 0 1 619.66,413.65L621.99,423.46A90.39,90.39 0 0 0 621.67,423.54Z" fill="#BDA4D9" />
<path d="M621.28,413.28A100.47,100.47 0 0 1 621.63,413.21L623.77,423.06A90.39,90.39 0 0 0 623.45,423.13Z" fill="#BDA4D9" />
<path d="M622.13,413.10A100.47,100.47 0 0 1 623.03,412.91L625.02,422.80A90.39,90.39 0 0 0 624.21,422.96Z" fill="#BDA4D9" />
<path d="M624.61,412.61A100.47,100.47 0 0 1 624.98,412.54L626.77,422.46A90.39,90.39 0 0 0 626.45,422.52Z" fill="#BDA4D9" />
<path d="M625.44,412.46A100.47,100.47 0 0 1 626.35,412.30L628.01,422.24A90.39,90.39 0 0 0 627.20,422.38Z" fill="#BDA4D9" />
<path d="M628.68,411.94A100.47,100.47 0 0 1 629.22,411.87L630.60,421.85A90.39,90.39 0 0 0 630.10,421.92Z" fill="#BDA4D9" />
<path d="M600.25,431.53A90.54,90.54 0 0 1 615.18,425.21L618.27,434.80A80.46,80.46 0 0 0 605.00,440.42Z" fill="#F7B4B9" />
<path d="M615.11,425.23A90.54,90.54 0 0 1 630.93,421.66L632.26,431.65A80.46,80.46 0 0 0 618.20,434.82Z" fill="#F28C8D" />
<path d="M616.81,424.70A90.54,90.54 0 0 1 617.70,424.44L620.50,434.12A80.46,80.46 0 0 0 619.71,434.35Z" fill="#F7B4B9" />
<path d="M619.83,423.85A90.54,90.54 0 0 1 621.27,423.48L623.67,433.27A80.46,80.46 0 0 0 622.40,433.60Z" fill="#C5DF4A" />
<path d="M622.31,423.23A90.54,90.54 0 0 1 623.76,422.91L625.89,432.76A80.46,80.46 0 0 0 624.60,433.05Z" fill="#C5DF4A" />
<path d="M624.85,422.68A90.54,90.54 0 0 1 626.30,422.39L628.15,432.30A80.46,80.46 0 0 0 626.86,432.55Z" fill="#F7B4B9" />
<path d="M628.79,421.97A90.54,90.54 0 0 1 629.16,421.91L630.69,431.87A80.46,80.46 0 0 0 630.36,431.92Z" fill="#C5DF4A" />
<path d="M604.93,440.29A80.61,80.61 0 0 1 611.48,437.16L615.41,446.45A70.53,70.53 0 0 0 609.68,449.18Z" fill="#000000" />
<path d="M605.54,439.97A80.61,80.61 0 0 1 605.87,439.80L610.50,448.75A70.53,70.53 0 0 0 610.21,448.90Z" fill="#AEB5DF" />
<path d="M607.08,439.18A80.61,80.61 0 0 1 607.92,438.78L612.29,447.86A70.53,70.53 0 0 0 611.56,448.21Z" fill="#AEB5DF" />
<path d="M609.52,438.03A80.61,80.61 0 0 1 610.03,437.80L614.14,447.00A70.53,70.53 0 0 0 613.69,447.20Z" fill="#AEB5DF" />
<path d="M611.42,437.19A80.61,80.61 0 0 1 632.24,431.50L633.57,441.49A70.53,70.53 0 0 0 615.36,446.47Z" fill="#AEB5DF" />
<path d="M613.13,436.49A80.61,80.61 0 0 1 613.47,436.35L617.15,445.74A70.53,70.53 0 0 0 616.85,445.86Z" fill="#BDA4D9" />
<path d="M615.17,435.71A80.61,80.61 0 0 1 616.57,435.21L619.86,444.74A70.53,70.53 0 0 0 618.63,445.18Z" fill="#F7B4B9" />
<path d="M617.68,434.84A80.61,80.61 0 0 1 618.57,434.55L621.61,444.16A70.53,70.53 0 0 0 620.84,444.41Z" fill="#F7B4B9" />
<path d="M620.01,434.11A80.61,80.61 0 0 1 620.55,433.95L623.34,443.64A70.53,70.53 0 0 0 622.88,443.77Z" fill="#F7B4B9" />
<path d="M621.73,433.62A80.61,80.61 0 0 1 622.63,433.38L625.17,443.14A70.53,70.53 0 0 0 624.38,443.34Z" fill="#F7B4B9" />
<path d="M623.87,433.07A80.61,80.61 0 0 1 625.32,432.73L627.52,442.57A70.53,70.53 0 0 0 626.25,442.86Z" fill="#BDA4D9" />
<path d="M626.86,432.40A80.61,80.61 0 0 1 628.32,432.12L630.15,442.03A70.53,70.53 0 0 0 628.87,442.28Z" fill="#F7B4B9" />
<path d="M629.96,431.83A80.61,80.61 0 0 1 630.33,431.78L631.90,441.73A70.53,70.53 0 0 0 631.58,441.78Z" fill="#BDA4D9" />
<path d="M630.85,431.70A80.61,80.61 0 0 1 631.07,431.66L632.55,441.63A70.53,70.53 0 0 0 632.35,441.66Z" fill="#BDA4D9" />
<path d="M609.61,449.05A70.68,70.68 0 0 1 633.55,441.34L634.89,451.33A60.60,60.60 0 0 0 614.36,457.94Z" fill="#F9D027" />
<path d="M624.2,372.0A140.6,140.6 0 0 1 667.2,372.9M625.5,381.9A130.7,130.7 0 0 1 665.5,382.7M626.8,391.7A120.8,120.8 0 0 1 663.8,392.4M628.1,401.5A110.8,110.8 0 0 1 662.1,402.2M629.5,411.4A100.9,100.9 0 0 1 660.3,412.0M630.8,421.2A91.0,91.0 0 0 1 658.6,421.8M632.1,431.1A81.1,81.1 0 0 1 656.9,431.6M633.4,440.9A71.1,71.1 0 0 1 655.2,441.3M634.8,450.7A61.2,61.2 0 0 1 653.5,451.1M667.2,372.9A140.6,140.6 0 0 1 710.4,388.0M665.5,382.7A130.7,130.7 0 0 1 705.7,396.7M663.8,392.4A120.8,120.8 0 0 1 700.9,405.5M662.1,402.2A110.8,110.8 0 0 1 696.1,414.2M660.3,412.0A100.9,100.9 0 0 1 691.4,422.9M658.6,421.8A91.0,91.0 0 0 1 686.6,431.6M656.9,431.6A81.1,81.1 0 0 1 681.8,440.3M655.2,441.3A71.1,71.1 0 0 1 677.1,449.0M653.5,451.1A61.2,61.2 0 0 1 672.3,457.7M710.4,388.0A140.6,140.6 0 0 1 738.5,408.2M705.7,396.7A130.7,130.7 0 0 1 731.7,415.5M700.9,405.5A120.8,120.8 0 0 1 725.0,422.8M696.1,414.2A110.8,110.8 0 0 1 718.2,430.1M691.4,422.9A100.9,100.9 0 0 1 711.5,437.4M686.6,431.6A91.0,91.0 0 0 1 704.7,444.6M681.8,440.3A81.1,81.1 0 0 1 698.0,451.9M677.1,449.0A71.1,71.1 0 0 1 691.2,459.2M672.3,457.7A61.2,61.2 0 0 1 684.5,466.5M738.5,408.2A140.6,140.6 0 0 1 762.4,437.3M731.7,415.5A130.7,130.7 0 0 1 754.0,442.5M725.0,422.8A120.8,120.8 0 0 1 745.6,447.8M718.2,430.1A110.8,110.8 0 0 1 737.1,453.0M711.5,437.4A100.9,100.9 0 0 1 728.7,458.2M704.7,444.6A91.0,91.0 0 0 1 720.2,463.5M698.0,451.9A81.1,81.1 0 0 1 711.8,468.7M691.2,459.2A71.1,71.1 0 0 1 703.4,473.9M684.5,466.5A61.2,61.2 0 0 1 694.9,479.2M762.4,437.3A140.6,140.6 0 0 1 779.1,476.4M754.0,442.5A130.7,130.7 0 0 1 769.5,478.9M745.6,447.8A120.8,120.8 0 0 1 759.9,481.4M737.1,453.0A110.8,110.8 0 0 1 750.3,483.8M728.7,458.2A100.9,100.9 0 0 1 740.6,486.3M720.2,463.5A91.0,91.0 0 0 1 731.0,488.8M711.8,468.7A81.1,81.1 0 0 1 721.4,491.2M703.4,473.9A71.1,71.1 0 0 1 711.8,493.7M694.9,479.2A61.2,61.2 0 0 1 702.2,496.2M779.1,476.4A140.6,140.6 0 0 1 783.5,508.0M769.5,478.9A130.7,130.7 0 0 1 773.6,508.2M759.9,481.4A120.8,120.8 0 0 1 763.6,508.4M750.3,483.8A110.8,110.8 0 0 1 753.7,508.7M740.6,486.3A100.9,100.9 0 0 1 743.8,508.9M731.0,488.8A91.0,91.0 0 0 1 733.9,509.2M721.4,491.2A81.1,81.1 0 0 1 723.9,509.4M711.8,493.7A71.1,71.1 0 0 1 714.0,509.7M702.2,496.2A61.2,61.2 0 0 1 704.1,509.9M783.4,517.0A140.6,140.6 0 0 1 779.2,546.1M773.5,516.6A130.7,130.7 0 0 1 769.6,543.7M763.6,516.2A120.8,120.8 0 0 1 759.9,541.2M753.7,515.8A110.8,110.8 0 0 1 750.3,538.8M743.7,515.5A100.9,100.9 0 0 1 740.7,536.3M733.8,515.1A91.0,91.0 0 0 1 731.1,533.9M723.9,514.7A81.1,81.1 0 0 1 721.4,531.4M714.0,514.3A71.1,71.1 0 0 1 711.8,529.0M704.1,513.9A61.2,61.2 0 0 1 702.2,526.5M779.2,546.1A140.6,140.6 0 0 1 757.7,592.7M769.6,543.7A130.7,130.7 0 0 1 749.6,586.9M759.9,541.2A120.8,120.8 0 0 1 741.5,581.2M750.3,538.8A110.8,110.8 0 0 1 733.4,575.5M740.7,536.3A100.9,100.9 0 0 1 725.3,569.7M731.1,533.9A91.0,91.0 0 0 1 717.2,564.0M721.4,531.4A81.1,81.1 0 0 1 709.1,558.2M711.8,529.0A71.1,71.1 0 0 1 701.0,552.5M702.2,526.5A61.2,61.2 0 0 1 692.8,546.8M757.7,592.7A140.6,140.6 0 0 1 716.6,631.2M749.6,586.9A130.7,130.7 0 0 1 711.4,622.7M741.5,581.2A120.8,120.8 0 0 1 706.2,614.3M733.4,575.5A110.8,110.8 0 0 1 701.0,605.8M725.3,569.7A100.9,100.9 0 0 1 695.8,597.4M717.2,564.0A91.0,91.0 0 0 1 690.6,588.9M709.1,558.2A81.1,81.1 0 0 1 685.4,580.4M701.0,552.5A71.1,71.1 0 0 1 680.2,572.0M692.8,546.8A61.2,61.2 0 0 1 675.0,563.5M716.6,631.2A140.6,140.6 0 0 1 686.4,645.2M711.4,622.7A130.7,130.7 0 0 1 683.3,635.7M706.2,614.3A120.8,120.8 0 0 1 680.2,626.3M701.0,605.8A110.8,110.8 0 0 1 677.2,616.8M695.8,597.4A100.9,100.9 0 0 1 674.1,607.4M690.6,588.9A91.0,91.0 0 0 1 671.0,597.9M685.4,580.4A81.1,81.1 0 0 1 667.9,588.5M680.2,572.0A71.1,71.1 0 0 1 664.9,579.0M675.0,563.5A61.2,61.2 0 0 1 661.8,569.6M686.4,645.2A140.6,140.6 0 0 1 639.5,652.0M683.3,635.7A130.7,130.7 0 0 1 639.7,642.1M680.2,626.3A120.8,120.8 0 0 1 639.9,632.1M677.2,616.8A110.8,110.8 0 0 1 640.2,622.2M674.1,607.4A100.9,100.9 0 0 1 640.4,612.3M671.0,597.9A91.0,91.0 0 0 1 640.7,602.4M667.9,588.5A81.1,81.1 0 0 1 640.9,592.4M664.9,579.0A71.1,71.1 0 0 1 641.2,582.5M661.8,569.6A61.2,61.2 0 0 1 641.4,572.6M639.5,652.0A140.6,140.6 0 0 1 597.1,644.4M639.7,642.1A130.7,130.7 0 0 1 600.3,635.0M639.9,632.1A120.8,120.8 0 0 1 603.6,625.6M640.2,622.2A110.8,110.8 0 0 1 606.8,616.2M640.4,612.3A100.9,100.9 0 0 1 610.0,606.8M640.7,602.4A91.0,91.0 0 0 1 613.3,597.4M640.9,592.4A81.1,81.1 0 0 1 616.5,588.0M641.2,582.5A71.1,71.1 0 0 1 619.7,578.7M641.4,572.6A61.2,61.2 0 0 1 623.0,569.3M597.1,644.4A140.6,140.6 0 0 1 567.1,629.9M600.3,635.0A130.7,130.7 0 0 1 572.5,621.5M603.6,625.6A120.8,120.8 0 0 1 577.8,613.2M606.8,616.2A110.8,110.8 0 0 1 583.2,604.8M610.0,606.8A100.9,100.9 0 0 1 588.5,596.4M613.3,597.4A91.0,91.0 0 0 1 593.9,588.1M616.5,588.0A81.1,81.1 0 0 1 599.2,579.7M619.7,578.7A71.1,71.1 0 0 1 604.6,571.3M623.0,569.3A61.2,61.2 0 0 1 609.9,563.0M567.1,629.9A140.6,140.6 0 0 1 537.6,604.6M572.5,621.5A130.7,130.7 0 0 1 545.0,598.0M577.8,613.2A120.8,120.8 0 0 1 552.4,591.4M583.2,604.8A110.8,110.8 0 0 1 559.9,584.9M588.5,596.4A100.9,100.9 0 0 1 567.3,578.3M593.9,588.1A91.0,91.0 0 0 1 574.8,571.7M599.2,579.7A81.1,81.1 0 0 1 582.2,565.1M604.6,571.3A71.1,71.1 0 0 1 589.6,558.5M609.9,563.0A61.2,61.2 0 0 1 597.1,552.0M537.6,604.6A140.6,140.6 0 0 1 512.0,562.9M545.0,598.0A130.7,130.7 0 0 1 521.3,559.3M552.4,591.4A120.8,120.8 0 0 1 530.5,555.7M559.9,584.9A110.8,110.8 0 0 1 539.8,552.0M567.3,578.3A100.9,100.9 0 0 1 549.0,548.4M574.8,571.7A91.0,91.0 0 0 1 558.2,544.7M582.2,565.1A81.1,81.1 0 0 1 567.5,541.1M589.6,558.5A71.1,71.1 0 0 1 576.7,537.5M597.1,552.0A61.2,61.2 0 0 1 586.0,533.8M512.0,562.9A140.6,140.6 0 0 1 502.6,520.5M521.3,559.3A130.7,130.7 0 0 1 512.5,519.8M530.5,555.7A120.8,120.8 0 0 1 522.4,519.2M539.8,552.0A110.8,110.8 0 0 1 532.3,518.6M549.0,548.4A100.9,100.9 0 0 1 542.2,517.9M558.2,544.7A91.0,91.0 0 0 1 552.1,517.3M567.5,541.1A81.1,81.1 0 0 1 562.0,516.6M576.7,537.5A71.1,71.1 0 0 1 571.9,516.0M586.0,533.8A61.2,61.2 0 0 1 581.8,515.3M502.6,520.5A140.6,140.6 0 0 1 505.3,482.4M512.5,519.8A130.7,130.7 0 0 1 515.0,484.4M522.4,519.2A120.8,120.8 0 0 1 524.7,486.5M532.3,518.6A110.8,110.8 0 0 1 534.4,488.5M542.2,517.9A100.9,100.9 0 0 1 544.1,490.6M552.1,517.3A91.0,91.0 0 0 1 553.9,492.6M562.0,516.6A81.1,81.1 0 0 1 563.6,494.7M571.9,516.0A71.1,71.1 0 0 1 573.3,496.7M581.8,515.3A61.2,61.2 0 0 1 583.0,498.8M505.3,482.4A140.6,140.6 0 0 1 519.7,443.6M515.0,484.4A130.7,130.7 0 0 1 528.4,448.4M524.7,486.5A120.8,120.8 0 0 1 537.1,453.2M534.4,488.5A110.8,110.8 0 0 1 545.8,458.0M544.1,490.6A100.9,100.9 0 0 1 554.5,462.8M553.9,492.6A91.0,91.0 0 0 1 563.2,467.6M563.6,494.7A81.1,81.1 0 0 1 571.9,472.3M573.3,496.7A71.1,71.1 0 0 1 580.6,477.1M583.0,498.8A61.2,61.2 0 0 1 589.3,481.9M519.7,443.6A140.6,140.6 0 0 1 546.4,409.1M528.4,448.4A130.7,130.7 0 0 1 553.2,416.4M537.1,453.2A120.8,120.8 0 0 1 560.0,423.6M545.8,458.0A110.8,110.8 0 0 1 566.8,430.8M554.5,462.8A100.9,100.9 0 0 1 573.6,438.0M563.2,467.6A91.0,91.0 0 0 1 580.4,445.2M571.9,472.3A81.1,81.1 0 0 1 587.3,452.5M580.6,477.1A71.1,71.1 0 0 1 594.1,459.7M589.3,481.9A61.2,61.2 0 0 1 600.9,466.9M546.4,409.1A140.6,140.6 0 0 1 576.7,387.3M553.2,416.4A130.7,130.7 0 0 1 581.3,396.1M560.0,423.6A120.8,120.8 0 0 1 586.0,404.9M566.8,430.8A110.8,110.8 0 0 1 590.7,413.6M573.6,438.0A100.9,100.9 0 0 1 595.4,422.4M580.4,445.2A91.0,91.0 0 0 1 600.0,431.1M587.3,452.5A81.1,81.1 0 0 1 604.7,439.9M594.1,459.7A71.1,71.1 0 0 1 609.4,448.7M600.9,466.9A61.2,61.2 0 0 1 614.1,457.4M576.7,387.3A140.6,140.6 0 0 1 624.2,372.0M581.3,396.1A130.7,130.7 0 0 1 625.5,381.9M586.0,404.9A120.8,120.8 0 0 1 626.8,391.7M590.7,413.6A110.8,110.8 0 0 1 628.1,401.5M595.4,422.4A100.9,100.9 0 0 1 629.5,411.4M600.0,431.1A91.0,91.0 0 0 1 630.8,421.2M604.7,439.9A81.1,81.1 0 0 1 632.1,431.1M609.4,448.7A71.1,71.1 0 0 1 633.4,440.9M614.1,457.4A61.2,61.2 0 0 1 634.8,450.7" stroke="#A2A2A2" stroke-width="1.9" fill="none"/>
<path d="M634.2,453.5L619.8,361.1L625.5,360.4L636.1,453.3Z" fill="#000"/>
<path d="M652.1,453.6L666.3,361.2L672.0,362.2L653.9,453.9Z" fill="#000"/>
<path d="M670.2,459.6L713.4,376.7L718.4,379.5L671.8,460.5Z" fill="#000"/>
<path d="M682.0,467.8L744.0,397.9L748.3,401.8L683.3,469.1Z" fill="#000"/>
<path d="M692.1,479.8L770.6,428.8L773.6,433.8L693.1,481.4Z" fill="#000"/>
<path d="M699.3,495.9L789.4,470.8L790.8,476.4L699.8,497.8Z" fill="#000"/>
<path d="M701.4,509.0L794.8,504.8L794.9,510.6L701.4,510.9Z" fill="#000"/>
<path d="M701.4,512.8L794.9,514.6L794.7,520.4L701.3,514.7Z" fill="#000"/>
<path d="M699.8,524.9L790.9,546.1L789.5,551.8L699.4,526.8Z" fill="#000"/>
<path d="M691.2,544.4L768.6,596.9L765.3,601.6L690.1,546.0Z" fill="#000"/>
<path d="M674.4,560.7L725.0,639.3L720.1,642.4L672.7,561.7Z" fill="#000"/>
<path d="M661.9,566.7L692.6,655.1L687.1,656.9L660.1,567.3Z" fill="#000"/>
<path d="M642.4,569.9L642.1,663.4L636.3,663.3L640.5,569.9Z" fill="#000"/>
<path d="M624.8,567.0L596.2,656.1L590.7,654.2L623.0,566.4Z" fill="#000"/>
<path d="M612.2,561.2L563.4,641.0L558.6,637.9L610.6,560.2Z" fill="#000"/>
<path d="M599.7,550.9L531.0,614.3L527.1,609.9L598.5,549.5Z" fill="#000"/>
<path d="M588.8,533.7L502.5,569.8L500.4,564.4L588.1,532.0Z" fill="#000"/>
<path d="M584.6,516.1L491.4,524.1L491.0,518.3L584.5,514.2Z" fill="#000"/>
<path d="M585.5,500.3L493.6,482.9L494.8,477.2L585.9,498.4Z" fill="#000"/>
<path d="M591.2,484.0L508.3,440.7L511.1,435.6L592.1,482.4Z" fill="#000"/>
<path d="M602.1,469.5L536.5,402.9L540.7,398.9L603.4,468.2Z" fill="#000"/>
<path d="M614.5,460.2L568.7,378.7L573.9,376.0L616.2,459.3Z" fill="#000"/>
<text x="719" y="519.5" font-size="5" font-weight="bold" text-anchor="middle">Pc</text>
<text x="739" y="520.5" font-size="5" font-weight="bold" text-anchor="middle">Mp</text>
<text x="759" y="522" font-size="5" font-weight="bold" text-anchor="middle">Ej</text>
<text x="779.5" y="523.5" font-size="5" font-weight="bold" text-anchor="middle">Pm</text>
<circle cx="644.02" cy="455.71" r="1.8" fill="#fff"/>
<circle cx="661.33" cy="458.84" r="1.8" fill="#fff"/>
<circle cx="675.44" cy="466.20" r="1.8" fill="#fff"/>
<circle cx="685.88" cy="475.97" r="1.8" fill="#fff"/>
<circle cx="694.13" cy="489.55" r="1.8" fill="#fff"/>
<circle cx="698.07" cy="503.74" r="1.8" fill="#fff"/>
<circle cx="698.02" cy="519.44" r="1.8" fill="#fff"/>
<circle cx="693.46" cy="534.76" r="1.8" fill="#fff"/>
<circle cx="680.99" cy="552.04" r="1.8" fill="#fff"/>
<circle cx="666.26" cy="561.96" r="1.8" fill="#fff"/>
<circle cx="650.94" cy="566.52" r="1.8" fill="#fff"/>
<circle cx="633.04" cy="566.22" r="1.8" fill="#fff"/>
<circle cx="618.66" cy="561.55" r="1.8" fill="#fff"/>
<circle cx="606.69" cy="553.72" r="1.8" fill="#fff"/>
<circle cx="595.41" cy="540.50" r="1.8" fill="#fff"/>
<circle cx="588.54" cy="523.55" r="1.8" fill="#fff"/>
<circle cx="587.34" cy="507.42" r="1.8" fill="#fff"/>
<circle cx="590.68" cy="492.03" r="1.8" fill="#fff"/>
<circle cx="598.84" cy="477.32" r="1.8" fill="#fff"/>
<circle cx="610.38" cy="466.18" r="1.8" fill="#fff"/>
<circle cx="625.80" cy="458.39" r="1.8" fill="#fff"/>
<path d="M643.9,459.9A51.5,51.5 0 0 1 651.2,460.6Q645.8,509.5 692.6,524.7A51.5,51.5 0 0 1 689.7,533.0Q643.7,510.9 643.9,459.9Z" fill="#F6D02B" fill-opacity="0.9"/>
<path d="M641.9,459.9A51.5,51.5 0 0 1 642.5,459.9Q645.9,509.6 688.1,536.0A51.5,51.5 0 0 1 687.8,536.7Q643.8,510.9 641.9,459.9Z" fill="#F6D02B" fill-opacity="0.7"/>
<path d="M642.6,459.9A51.5,51.5 0 0 1 643.2,459.9Q645.9,509.6 687.7,536.8A51.5,51.5 0 0 1 687.3,537.5Q643.8,510.9 642.6,459.9Z" fill="#F6D02B" fill-opacity="0.7"/>
<path d="M642.4,459.9A51.5,51.5 0 0 1 642.9,459.9Q645.9,509.6 687.7,536.8A51.5,51.5 0 0 1 687.4,537.4Q643.8,510.9 642.4,459.9Z" fill="#F6D02B" fill-opacity="0.7"/>
<path d="M689.7,533.0A51.5,51.5 0 0 1 685.3,540.6Q643.1,514.9 603.9,545.1A51.5,51.5 0 0 1 599.0,538.3Q643.0,512.4 689.7,533.0Z" fill="#F6D02B" fill-opacity="0.9"/>
<path d="M691.6,528.2A51.5,51.5 0 0 1 691.3,528.9Q643.2,514.9 598.0,536.6A51.5,51.5 0 0 1 597.6,536.0Q643.0,512.4 691.6,528.2Z" fill="#F6D02B" fill-opacity="0.7"/>
<path d="M690.0,532.1A51.5,51.5 0 0 1 689.8,532.8Q643.0,514.9 597.6,535.9A51.5,51.5 0 0 1 597.3,535.3Q642.9,512.4 690.0,532.1Z" fill="#F6D02B" fill-opacity="0.7"/>
<path d="M690.1,531.9A51.5,51.5 0 0 1 689.8,532.6Q643.1,514.9 598.7,537.9A51.5,51.5 0 0 1 598.4,537.3Q643.0,512.4 690.1,531.9Z" fill="#F6D02B" fill-opacity="0.7"/>
<path d="M599.0,538.3A51.5,51.5 0 0 1 595.2,530.9Q639.9,509.6 636.7,460.3A51.5,51.5 0 0 1 643.9,459.9Q642.0,510.9 599.0,538.3Z" fill="#F6D02B" fill-opacity="0.9"/>
<path d="M600.6,540.8A51.5,51.5 0 0 1 600.2,540.2Q639.8,509.7 644.9,459.9A51.5,51.5 0 0 1 645.4,460.0Q642.0,510.9 600.6,540.8Z" fill="#F6D02B" fill-opacity="0.7"/>
<path d="M600.4,540.5A51.5,51.5 0 0 1 600.1,540.0Q639.9,509.7 646.1,460.0A51.5,51.5 0 0 1 646.7,460.0Q642.0,510.9 600.4,540.5Z" fill="#F6D02B" fill-opacity="0.7"/>
<path d="M601.8,542.4A51.5,51.5 0 0 1 601.4,541.9Q639.8,509.8 644.8,459.9A51.5,51.5 0 0 1 645.3,460.0Q642.0,510.9 601.8,542.4Z" fill="#F6D02B" fill-opacity="0.7"/>
<path d="M659.9,462.8A51.5,51.5 0 0 1 667.1,465.9Q646.3,510.6 684.6,541.7A51.5,51.5 0 0 1 678.1,549.0Q643.9,511.2 659.9,462.8Z" fill="#2F8F5B" fill-opacity="0.9"/>
<path d="M656.6,461.7A51.5,51.5 0 0 1 657.2,461.9Q646.3,510.7 674.6,552.0A51.5,51.5 0 0 1 674.0,552.5Q643.9,511.2 656.6,461.7Z" fill="#2F8F5B" fill-opacity="0.7"/>
<path d="M658.4,462.3A51.5,51.5 0 0 1 659.0,462.5Q646.3,510.7 677.5,549.5A51.5,51.5 0 0 1 676.9,550.0Q643.9,511.2 658.4,462.3Z" fill="#2F8F5B" fill-opacity="0.7"/>
<path d="M658.6,462.3A51.5,51.5 0 0 1 659.2,462.5Q646.3,510.7 677.6,549.5A51.5,51.5 0 0 1 677.0,550.0Q643.9,511.2 658.6,462.3Z" fill="#2F8F5B" fill-opacity="0.7"/>
<path d="M678.1,549.0A51.5,51.5 0 0 1 670.4,554.9Q641.8,514.7 594.8,529.7A51.5,51.5 0 0 1 592.6,522.6Q642.6,512.4 678.1,549.0Z" fill="#2F8F5B" fill-opacity="0.9"/>
<path d="M680.1,547.1A51.5,51.5 0 0 1 679.5,547.6Q641.9,514.8 592.5,522.2A51.5,51.5 0 0 1 592.4,521.6Q642.6,512.4 680.1,547.1Z" fill="#2F8F5B" fill-opacity="0.7"/>
<path d="M682.1,544.7A51.5,51.5 0 0 1 681.6,545.3Q641.9,514.8 592.0,519.4A51.5,51.5 0 0 1 591.9,518.8Q642.6,512.4 682.1,544.7Z" fill="#2F8F5B" fill-opacity="0.7"/>
<path d="M681.5,545.5A51.5,51.5 0 0 1 680.9,546.1Q642.0,514.8 592.5,521.8A51.5,51.5 0 0 1 592.4,521.2Q642.6,512.4 681.5,545.5Z" fill="#2F8F5B" fill-opacity="0.7"/>
<path d="M592.6,522.6A51.5,51.5 0 0 1 591.6,515.4Q640.6,508.8 652.4,460.8A51.5,51.5 0 0 1 659.9,462.8Q642.2,510.7 592.6,522.6Z" fill="#2F8F5B" fill-opacity="0.9"/>
<path d="M592.8,523.3A51.5,51.5 0 0 1 592.7,522.7Q640.7,508.7 663.2,464.1A51.5,51.5 0 0 1 663.8,464.3Q642.3,510.6 592.8,523.3Z" fill="#2F8F5B" fill-opacity="0.7"/>
<path d="M593.5,525.8A51.5,51.5 0 0 1 593.3,525.3Q640.6,508.8 663.6,464.2A51.5,51.5 0 0 1 664.1,464.5Q642.2,510.6 593.5,525.8Z" fill="#2F8F5B" fill-opacity="0.7"/>
<path d="M593.2,524.9A51.5,51.5 0 0 1 593.1,524.4Q640.6,508.8 662.5,463.8A51.5,51.5 0 0 1 663.1,464.0Q642.2,510.6 593.2,524.9Z" fill="#2F8F5B" fill-opacity="0.7"/>
<path d="M673.0,469.6A51.5,51.5 0 0 1 677.4,473.2Q646.4,511.7 669.3,555.6A51.5,51.5 0 0 1 664.5,558.2Q643.9,511.5 673.0,469.6Z" fill="#2AABE3" fill-opacity="0.9"/>
<path d="M670.7,468.0A51.5,51.5 0 0 1 671.0,468.3Q646.4,511.7 662.0,559.2A51.5,51.5 0 0 1 661.6,559.4Q643.9,511.5 670.7,468.0Z" fill="#2AABE3" fill-opacity="0.7"/>
<path d="M671.9,468.8A51.5,51.5 0 0 1 672.2,469.1Q646.4,511.8 662.0,559.2A51.5,51.5 0 0 1 661.6,559.4Q643.9,511.5 671.9,468.8Z" fill="#2AABE3" fill-opacity="0.7"/>
<path d="M672.4,469.2A51.5,51.5 0 0 1 672.7,469.4Q646.4,511.8 663.7,558.5A51.5,51.5 0 0 1 663.3,558.7Q643.9,511.5 672.4,469.2Z" fill="#2AABE3" fill-opacity="0.7"/>
<path d="M664.5,558.2A51.5,51.5 0 0 1 659.4,560.2Q640.9,514.3 591.5,514.1A51.5,51.5 0 0 1 591.5,507.7Q642.3,512.2 664.5,558.2Z" fill="#2AABE3" fill-opacity="0.9"/>
<path d="M666.5,557.2A51.5,51.5 0 0 1 666.1,557.4Q640.9,514.3 591.6,507.2A51.5,51.5 0 0 1 591.6,506.7Q642.3,512.2 666.5,557.2Z" fill="#2AABE3" fill-opacity="0.7"/>
<path d="M667.1,556.9A51.5,51.5 0 0 1 666.7,557.1Q641.0,514.3 591.5,507.5A51.5,51.5 0 0 1 591.6,507.0Q642.3,512.2 667.1,556.9Z" fill="#2AABE3" fill-opacity="0.7"/>
<path d="M666.7,557.1A51.5,51.5 0 0 1 666.3,557.3Q640.9,514.3 591.7,505.7A51.5,51.5 0 0 1 591.8,505.2Q642.3,512.2 666.7,557.1Z" fill="#2AABE3" fill-opacity="0.7"/>
<path d="M591.5,507.7A51.5,51.5 0 0 1 592.4,501.4Q641.4,508.2 668.2,466.5A51.5,51.5 0 0 1 673.0,469.6Q642.5,510.5 591.5,507.7Z" fill="#2AABE3" fill-opacity="0.9"/>
<path d="M591.4,511.5A51.5,51.5 0 0 1 591.4,511.0Q641.4,508.2 674.6,470.8A51.5,51.5 0 0 1 675.0,471.1Q642.5,510.5 591.4,511.5Z" fill="#2AABE3" fill-opacity="0.7"/>
<path d="M591.4,510.4A51.5,51.5 0 0 1 591.4,509.9Q641.4,508.2 673.7,470.1A51.5,51.5 0 0 1 674.1,470.4Q642.5,510.5 591.4,510.4Z" fill="#2AABE3" fill-opacity="0.7"/>
<path d="M591.5,508.8A51.5,51.5 0 0 1 591.5,508.3Q641.4,508.2 674.1,470.5A51.5,51.5 0 0 1 674.5,470.7Q642.5,510.5 591.5,508.8Z" fill="#2AABE3" fill-opacity="0.7"/>
<path d="M682.6,478.6A51.5,51.5 0 0 1 686.3,483.7Q646.2,512.6 658.2,560.6A51.5,51.5 0 0 1 650.3,562.4Q643.8,511.8 682.6,478.6Z" fill="#8CC63E" fill-opacity="0.9"/>
<path d="M680.8,476.6A51.5,51.5 0 0 1 681.2,476.9Q646.2,512.7 648.3,562.6A51.5,51.5 0 0 1 647.7,562.7Q643.8,511.8 680.8,476.6Z" fill="#8CC63E" fill-opacity="0.7"/>
<path d="M681.7,477.5A51.5,51.5 0 0 1 682.0,477.9Q646.2,512.6 650.1,562.4A51.5,51.5 0 0 1 649.5,562.5Q643.8,511.8 681.7,477.5Z" fill="#8CC63E" fill-opacity="0.7"/>
<path d="M682.3,478.2A51.5,51.5 0 0 1 682.6,478.6Q646.2,512.7 650.2,562.4A51.5,51.5 0 0 1 649.6,562.5Q643.8,511.8 682.3,478.2Z" fill="#8CC63E" fill-opacity="0.7"/>
<path d="M650.3,562.4A51.5,51.5 0 0 1 642.3,562.9Q640.2,513.6 592.6,500.2A51.5,51.5 0 0 1 594.6,493.5Q642.1,512.0 650.3,562.4Z" fill="#8CC63E" fill-opacity="0.9"/>
<path d="M652.0,562.1A51.5,51.5 0 0 1 651.4,562.2Q640.1,513.5 595.8,490.7A51.5,51.5 0 0 1 596.0,490.1Q642.1,512.0 652.0,562.1Z" fill="#8CC63E" fill-opacity="0.7"/>
<path d="M655.0,561.5A51.5,51.5 0 0 1 654.4,561.6Q640.2,513.6 595.7,490.8A51.5,51.5 0 0 1 595.9,490.3Q642.1,512.0 655.0,561.5Z" fill="#8CC63E" fill-opacity="0.7"/>
<path d="M653.6,561.8A51.5,51.5 0 0 1 653.0,561.9Q640.2,513.6 595.4,491.5A51.5,51.5 0 0 1 595.6,491.0Q642.1,512.0 653.6,561.8Z" fill="#8CC63E" fill-opacity="0.7"/>
<path d="M594.6,493.5A51.5,51.5 0 0 1 597.5,487.1Q642.3,507.9 678.4,474.0A51.5,51.5 0 0 1 682.6,478.6Q642.7,510.4 594.6,493.5Z" fill="#8CC63E" fill-opacity="0.9"/>
<path d="M593.3,497.4A51.5,51.5 0 0 1 593.5,496.9Q642.2,508.0 682.7,478.8A51.5,51.5 0 0 1 683.1,479.2Q642.7,510.4 593.3,497.4Z" fill="#8CC63E" fill-opacity="0.7"/>
<path d="M593.5,496.8A51.5,51.5 0 0 1 593.7,496.3Q642.3,507.9 684.6,481.1A51.5,51.5 0 0 1 684.8,481.5Q642.7,510.4 593.5,496.8Z" fill="#8CC63E" fill-opacity="0.7"/>
<path d="M593.5,496.8A51.5,51.5 0 0 1 593.7,496.2Q642.3,508.0 684.2,480.6A51.5,51.5 0 0 1 684.5,481.0Q642.7,510.4 593.5,496.8Z" fill="#8CC63E" fill-opacity="0.7"/>
<path d="M693.9,504.3A51.5,51.5 0 0 1 694.4,509.5Q645.0,514.2 625.5,559.9A51.5,51.5 0 0 1 620.5,557.8Q643.5,512.2 693.9,504.3Z" fill="#4B6CB4" fill-opacity="0.9"/>
<path d="M693.8,503.7A51.5,51.5 0 0 1 693.9,504.1Q644.9,514.3 618.1,556.5A51.5,51.5 0 0 1 617.7,556.3Q643.5,512.2 693.8,503.7Z" fill="#4B6CB4" fill-opacity="0.7"/>
<path d="M693.6,502.2A51.5,51.5 0 0 1 693.6,502.6Q645.0,514.2 619.6,557.3A51.5,51.5 0 0 1 619.2,557.1Q643.5,512.2 693.6,502.2Z" fill="#4B6CB4" fill-opacity="0.7"/>
<path d="M693.6,502.6A51.5,51.5 0 0 1 693.7,503.0Q644.9,514.2 618.5,556.8A51.5,51.5 0 0 1 618.1,556.6Q643.5,512.2 693.6,502.6Z" fill="#4B6CB4" fill-opacity="0.7"/>
<path d="M620.5,557.8A51.5,51.5 0 0 1 615.7,555.1Q639.4,511.7 608.0,473.5A51.5,51.5 0 0 1 612.8,469.6Q641.9,511.5 620.5,557.8Z" fill="#4B6CB4" fill-opacity="0.9"/>
<path d="M623.2,559.0A51.5,51.5 0 0 1 622.8,558.8Q639.4,511.7 614.8,468.2A51.5,51.5 0 0 1 615.2,468.0Q641.9,511.5 623.2,559.0Z" fill="#4B6CB4" fill-opacity="0.7"/>
<path d="M621.4,558.2A51.5,51.5 0 0 1 621.0,558.0Q639.4,511.6 615.1,468.0A51.5,51.5 0 0 1 615.6,467.8Q641.9,511.5 621.4,558.2Z" fill="#4B6CB4" fill-opacity="0.7"/>
<path d="M623.4,559.1A51.5,51.5 0 0 1 623.0,558.9Q639.4,511.7 615.4,467.9A51.5,51.5 0 0 1 615.8,467.6Q641.9,511.5 623.4,559.1Z" fill="#4B6CB4" fill-opacity="0.7"/>
<path d="M612.8,469.6A51.5,51.5 0 0 1 618.1,466.3Q644.3,508.2 692.9,499.2A51.5,51.5 0 0 1 693.9,504.3Q643.3,510.5 612.8,469.6Z" fill="#4B6CB4" fill-opacity="0.9"/>
<path d="M610.1,471.7A51.5,51.5 0 0 1 610.5,471.4Q644.2,508.2 694.0,505.2A51.5,51.5 0 0 1 694.1,505.7Q643.3,510.5 610.1,471.7Z" fill="#4B6CB4" fill-opacity="0.7"/>
<path d="M611.4,470.6A51.5,51.5 0 0 1 611.8,470.3Q644.3,508.2 694.2,506.8A51.5,51.5 0 0 1 694.2,507.2Q643.3,510.5 611.4,470.6Z" fill="#4B6CB4" fill-opacity="0.7"/>
<path d="M610.7,471.2A51.5,51.5 0 0 1 611.1,470.9Q644.3,508.2 694.2,506.8A51.5,51.5 0 0 1 694.2,507.2Q643.3,510.5 610.7,471.2Z" fill="#4B6CB4" fill-opacity="0.7"/>
<path d="M693.9,518.8A51.5,51.5 0 0 1 693.0,523.5Q644.2,514.7 614.6,554.4A51.5,51.5 0 0 1 609.4,550.5Q643.3,512.3 693.9,518.8Z" fill="#A75EB8" fill-opacity="0.9"/>
<path d="M694.1,517.3A51.5,51.5 0 0 1 694.0,517.7Q644.1,514.7 608.6,549.8A51.5,51.5 0 0 1 608.2,549.5Q643.3,512.3 694.1,517.3Z" fill="#A75EB8" fill-opacity="0.7"/>
<path d="M694.1,516.8A51.5,51.5 0 0 1 694.1,517.2Q644.2,514.7 609.0,550.1A51.5,51.5 0 0 1 608.6,549.8Q643.3,512.3 694.1,516.8Z" fill="#A75EB8" fill-opacity="0.7"/>
<path d="M694.2,516.2A51.5,51.5 0 0 1 694.1,516.6Q644.2,514.7 609.0,550.2A51.5,51.5 0 0 1 608.6,549.9Q643.3,512.3 694.2,516.2Z" fill="#A75EB8" fill-opacity="0.7"/>
<path d="M609.4,550.5A51.5,51.5 0 0 1 604.7,546.0Q639.5,510.8 619.2,465.7A51.5,51.5 0 0 1 627.1,462.4Q641.9,511.2 609.4,550.5Z" fill="#A75EB8" fill-opacity="0.9"/>
<path d="M610.6,551.5A51.5,51.5 0 0 1 610.2,551.2Q639.5,510.6 631.4,461.2A51.5,51.5 0 0 1 632.0,461.1Q641.9,511.2 610.6,551.5Z" fill="#A75EB8" fill-opacity="0.7"/>
<path d="M612.0,552.6A51.5,51.5 0 0 1 611.6,552.3Q639.5,510.8 627.3,462.3A51.5,51.5 0 0 1 628.0,462.1Q641.9,511.2 612.0,552.6Z" fill="#A75EB8" fill-opacity="0.7"/>
<path d="M609.9,550.9A51.5,51.5 0 0 1 609.5,550.6Q639.5,510.6 629.4,461.7A51.5,51.5 0 0 1 630.0,461.5Q641.9,511.2 609.9,550.9Z" fill="#A75EB8" fill-opacity="0.7"/>
<path d="M627.1,462.4A51.5,51.5 0 0 1 635.4,460.4Q645.3,508.8 694.3,514.1A51.5,51.5 0 0 1 693.9,518.8Q643.5,510.6 627.1,462.4Z" fill="#A75EB8" fill-opacity="0.9"/>
<path d="M624.0,463.5A51.5,51.5 0 0 1 624.6,463.3Q645.1,508.7 693.8,519.4A51.5,51.5 0 0 1 693.7,519.8Q643.5,510.6 624.0,463.5Z" fill="#A75EB8" fill-opacity="0.7"/>
<path d="M624.7,463.2A51.5,51.5 0 0 1 625.4,463.0Q645.2,508.7 693.5,520.9A51.5,51.5 0 0 1 693.5,521.2Q643.5,510.6 624.7,463.2Z" fill="#A75EB8" fill-opacity="0.7"/>
<path d="M624.2,463.4A51.5,51.5 0 0 1 624.8,463.2Q645.1,508.7 693.7,519.9A51.5,51.5 0 0 1 693.6,520.2Q643.5,510.6 624.2,463.4Z" fill="#A75EB8" fill-opacity="0.7"/>
<path d="M690.3,491.2A51.5,51.5 0 0 1 692.6,498.0Q645.6,513.6 641.0,562.9A51.5,51.5 0 0 1 633.8,562.1Q643.7,512.0 690.3,491.2Z" fill="#EC1C24" fill-opacity="0.9"/>
<path d="M688.5,487.5A51.5,51.5 0 0 1 688.8,488.0Q645.6,513.6 630.4,561.4A51.5,51.5 0 0 1 629.8,561.2Q643.7,512.0 688.5,487.5Z" fill="#EC1C24" fill-opacity="0.7"/>
<path d="M688.5,487.4A51.5,51.5 0 0 1 688.7,487.9Q645.7,513.5 631.9,561.7A51.5,51.5 0 0 1 631.4,561.6Q643.7,512.0 688.5,487.4Z" fill="#EC1C24" fill-opacity="0.7"/>
<path d="M689.8,490.1A51.5,51.5 0 0 1 690.0,490.6Q645.6,513.6 633.3,562.0A51.5,51.5 0 0 1 632.7,561.9Q643.7,512.0 689.8,490.1Z" fill="#EC1C24" fill-opacity="0.7"/>
<path d="M633.8,562.1A51.5,51.5 0 0 1 626.7,560.3Q639.6,512.7 598.1,486.0A51.5,51.5 0 0 1 602.2,479.9Q642.0,511.8 633.8,562.1Z" fill="#EC1C24" fill-opacity="0.9"/>
<path d="M635.4,562.3A51.5,51.5 0 0 1 634.8,562.3Q639.6,512.6 604.5,477.1A51.5,51.5 0 0 1 604.9,476.6Q642.0,511.7 635.4,562.3Z" fill="#EC1C24" fill-opacity="0.7"/>
<path d="M635.7,562.4A51.5,51.5 0 0 1 635.2,562.3Q639.6,512.6 604.1,477.5A51.5,51.5 0 0 1 604.5,477.1Q642.0,511.7 635.7,562.4Z" fill="#EC1C24" fill-opacity="0.7"/>
<path d="M637.7,562.6A51.5,51.5 0 0 1 637.1,562.6Q639.7,512.7 603.2,478.6A51.5,51.5 0 0 1 603.6,478.1Q642.0,511.8 637.7,562.6Z" fill="#EC1C24" fill-opacity="0.7"/>
<path d="M602.2,479.9A51.5,51.5 0 0 1 607.1,474.4Q643.4,507.9 687.0,484.8A51.5,51.5 0 0 1 690.3,491.2Q643.0,510.4 602.2,479.9Z" fill="#EC1C24" fill-opacity="0.9"/>
<path d="M599.9,483.0A51.5,51.5 0 0 1 600.2,482.5Q643.3,507.9 691.4,494.1A51.5,51.5 0 0 1 691.6,494.7Q643.0,510.4 599.9,483.0Z" fill="#EC1C24" fill-opacity="0.7"/>
<path d="M600.2,482.6A51.5,51.5 0 0 1 600.6,482.1Q643.3,507.9 690.9,492.8A51.5,51.5 0 0 1 691.1,493.3Q643.0,510.4 600.2,482.6Z" fill="#EC1C24" fill-opacity="0.7"/>
<path d="M601.8,480.4A51.5,51.5 0 0 1 602.2,479.9Q643.5,507.9 691.4,494.2A51.5,51.5 0 0 1 691.6,494.7Q643.1,510.4 601.8,480.4Z" fill="#EC1C24" fill-opacity="0.7"/>
<text x="598.4" y="496.9" font-size="5.5" font-weight="bold" text-anchor="middle">0</text>
<text x="595.5" y="510.0" font-size="5.5" font-weight="bold" text-anchor="middle">1</text>
<text x="596.5" y="523.8" font-size="5.5" font-weight="bold" text-anchor="middle">2</text>
<text x="602.4" y="538.2" font-size="5.5" font-weight="bold" text-anchor="middle">3</text>
<rect x="736.10" y="656.9" width="4.5" height="6.1" fill="#4B6CB4"/>
<rect x="740.50" y="656.9" width="4.5" height="6.1" fill="#EC1C24"/>
<rect x="744.90" y="656.9" width="4.5" height="6.1" fill="#8CC63E"/>
<rect x="749.30" y="656.9" width="4.5" height="6.1" fill="#2AABE3"/>
<rect x="753.70" y="656.9" width="4.5" height="6.1" fill="#2F8F5B"/>
<rect x="758.10" y="656.9" width="4.5" height="6.1" fill="#F6D02B"/>
<rect x="762.50" y="656.9" width="4.5" height="6.1" fill="#A75EB8"/>
<rect x="736.10" y="666.8" width="4.5" height="6.1" fill="#2CBDB1"/>
<rect x="740.46" y="666.8" width="4.5" height="6.1" fill="#C5DF4A"/>
<rect x="744.82" y="666.8" width="4.5" height="6.1" fill="#AEB5DF"/>
<rect x="749.18" y="666.8" width="4.5" height="6.1" fill="#F7B4B9"/>
<rect x="753.54" y="666.8" width="4.5" height="6.1" fill="#F28C8D"/>
<rect x="757.90" y="666.8" width="4.5" height="6.1" fill="#BDA4D9"/>
<rect x="762.26" y="666.8" width="4.5" height="6.1" fill="#F9D027"/>
<rect x="766.62" y="666.8" width="4.5" height="6.1" fill="#2CBDB1"/>
<rect x="770.98" y="666.8" width="4.5" height="6.1" fill="#C5DF4A"/>
<rect x="775.34" y="666.8" width="4.5" height="6.1" fill="#AEB5DF"/>
<rect x="779.70" y="666.8" width="4.5" height="6.1" fill="#F7B4B9"/>
<rect x="784.06" y="666.8" width="4.5" height="6.1" fill="#F28C8D"/>
<rect x="788.42" y="666.8" width="4.5" height="6.1" fill="#BDA4D9"/>
<rect x="792.78" y="666.8" width="4.5" height="6.1" fill="#F9D027"/>
<rect x="797.14" y="666.8" width="4.5" height="6.1" fill="#2CBDB1"/>
<rect x="801.50" y="666.8" width="4.5" height="6.1" fill="#C5DF4A"/>
<rect x="805.86" y="666.8" width="4.5" height="6.1" fill="#AEB5DF"/>
<rect x="810.22" y="666.8" width="4.5" height="6.1" fill="#F7B4B9"/>
<rect x="814.58" y="666.8" width="4.5" height="6.1" fill="#F28C8D"/>
<rect x="818.94" y="666.8" width="4.5" height="6.1" fill="#BDA4D9"/>
<rect x="823.30" y="666.8" width="4.5" height="6.1" fill="#F9D027"/>
</g>
</svg>
</body></html>
